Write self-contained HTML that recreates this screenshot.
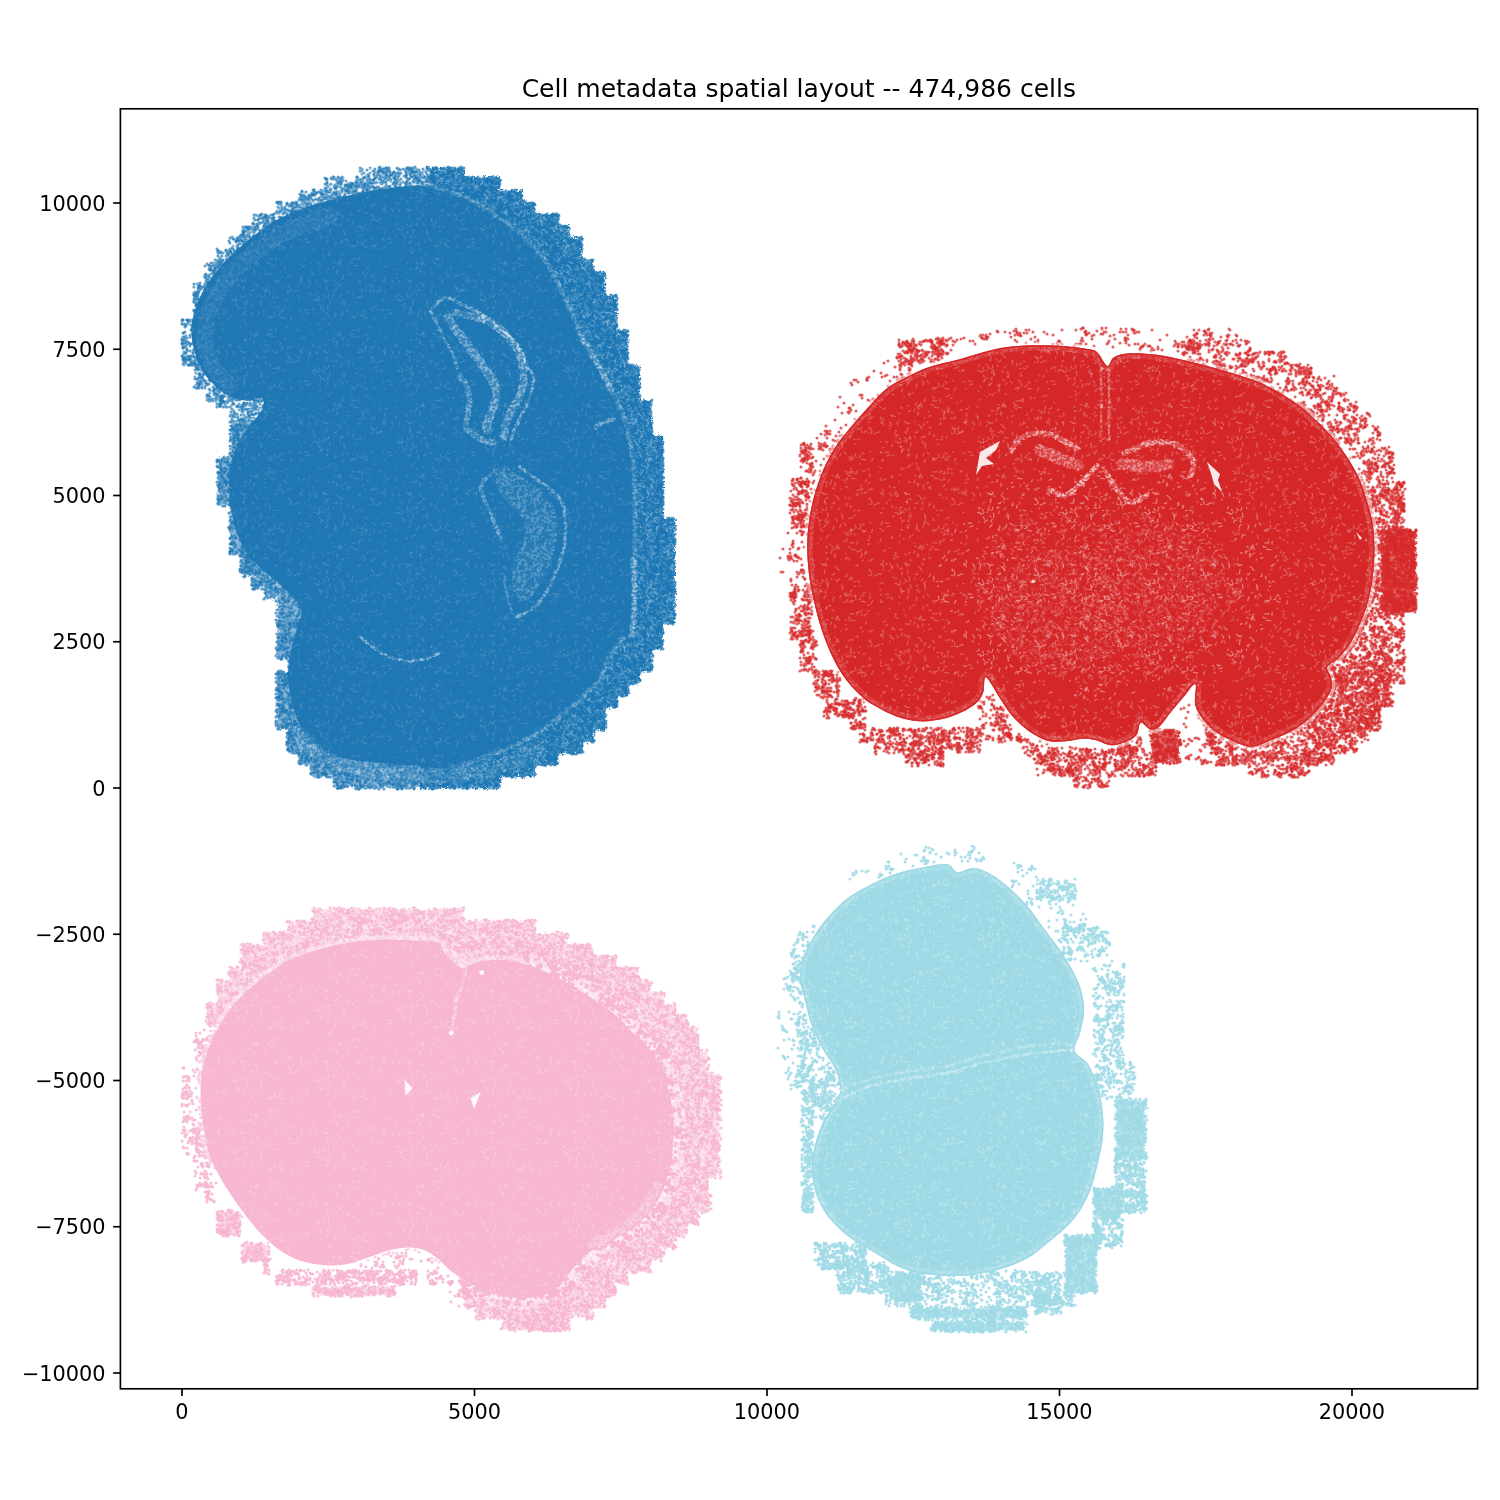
<!DOCTYPE html>
<html><head><meta charset="utf-8"><title>Cell metadata spatial layout</title>
<style>
html,body{margin:0;padding:0;background:#fff}
svg{display:block}
.t{font-family:"DejaVu Sans","Liberation Sans",sans-serif;font-size:20.83px;fill:#000}
.ti{font-family:"DejaVu Sans","Liberation Sans",sans-serif;font-size:25px;fill:#000}
</style></head><body>
<svg width="1500" height="1500" viewBox="0 0 1500 1500">
<defs>
<g id="Dm" stroke-linecap="round" stroke-width="3.1" fill="none"><path opacity=".72" d="M61.9 62.1h0M84.9 2.4h0M84.9 81.4h0M41.5 5.3h0M52.9 20.9h0M54.8 23.6h0M74.7 34.6h0M4.8 20h0M39.4 27.1h0M38.9 49.2h0M6 40.7h0M83.3 3.7h0M37.7 18.3h0M27.1 16.3h0M42.7 51.5h0M20.1 21.7h0M36.8 44.3h0M47.6 48.6h0M19.5 51.2h0M24.1 27.4h0M72.2 14.1h0M22.1 9h0M44 -.2h0M44 78.8h0M3.6 49.1h0M25.2 68.5h0M-.2 68.8h0M88.8 68.8h0M27.8 2.1h0M27.8 81.1h0M42.9 30.3h0M66.3 64h0M18.3 56.7h0M17 5.7h0M28.6 37.4h0M73.3 69.8h0M41.5 40.4h0M66.7 25.4h0M30 73.7h0M19.7 25.4h0M36.4 57h0M40.7 47h0M76.1 4.7h0M74.8 26.8h0M38.6 18.2h0M40.1 44.5h0M41.9 -1.5h0M41.9 77.5h0M24.6 2.2h0M24.6 81.2h0M71.3 75.2h0M78.4 34.2h0M71.8 56h0M78.5 8.6h0M22.9 54h0M55.4 24.3h0M33.7 63.1h0M36.9 64.3h0M38 35.9h0M46.3 73.2h0M39.1 30.2h0M77.7 52.8h0M12.6 45.5h0M42 54.8h0M44.8 -2.1h0M44.8 76.9h0M49.6 17h0M72.7 55.3h0M72.3 3.6h0M18.3 -.9h0M18.3 78.1h0M25.7 7.7h0M14.7 9.9h0M64.2 32.2h0M50.2 5.4h0M80.5 20.1h0M46.6 56.5h0M68.4 8.2h0M11.9 9.8h0M5.8 32.4h0M38.5 18.6h0M3.8 72.7h0M79.6 58h0M32.6 52.8h0M28.6 24.1h0M28.2 75.6h0M55 25.3h0M40.1 60.2h0M66.2 31h0M59.7 .3h0M59.7 79.3h0M35.1 22.6h0M33.8 72.5h0M62.3 24.3h0M61.5 62.9h0M33.2 23.4h0M16.3 19.7h0M74.4 50h0M38.4 51.1h0M71.6 7.2h0M74.9 53.8h0M29.2 51.9h0M13.8 50.9h0M48 53.3h0M18.1 27.6h0M16.3 67.6h0M17.5 55.5h0M72.4 17h0M15.3 45.9h0M20.8 27.8h0M36.4 2.5h0M32.7 53.9h0M13.9 29.3h0M41.3 66.5h0M74.1 67.6h0M68.1 7.9h0M48.7 67.1h0M39.9 67.9h0M74.7 51h0M61.3 29.4h0M82.5 11.5h0M80.2 9.4h0M6.6 18.3h0M23.4 37.3h0M77.8 34.9h0M71.3 19.9h0M75 28.3h0M22.4 52.6h0M65.8 54.8h0M77.3 0h0M77.3 79h0M56.7 24.6h0M44.2 26.5h0M74.4 50h0M14.3 26.3h0M10.2 8.2h0M78.3 54.7h0M21.5 6.2h0M39.8 26.7h0M67.2 50.9h0M5.7 28.8h0M26.1 32.8h0M30.5 74.3h0M32.6 69.4h0M63.6 69.8h0M76.7 18.1h0M46.7 .8h0M46.7 79.8h0M55.3 23.1h0M72 27.4h0M82.7 59h0M22.1 58.8h0M36.6 46.2h0M23.5 8.2h0M33 26.7h0M58.6 16.5h0M50.3 55h0M39.7 66.3h0M39.9 46.4h0M28.8 39.5h0M18.9 27.2h0M17.8 -2h0M17.8 77h0M68.3 47.9h0M27.5 70.6h0M44.2 4.4h0M8.2 68.3h0M52.5 55.1h0M23.7 7.5h0M83.3 38.1h0M74.5 39.6h0M24.6 9.2h0M81.1 4.4h0M41.2 58.9h0M70.9 10.7h0M-1.2 59.7h0M87.8 59.7h0M1.8 51.8h0M90.8 51.8h0M45.3 54.9h0M48.1 48.8h0M39.4 52.6h0M81.6 8.3h0M41.5 51.8h0M71.8 57.9h0M22.5 50.1h0M58.7 32.1h0M78 5.7h0M10.9 7.8h0M45.5 27.7h0M67.6 60.8h0M.6 60.1h0M89.6 60.1h0M79.4 52.9h0M37.6 21.3h0M80.1 .1h0M80.1 79.1h0M24 36.8h0M22 69.2h0M-2 1.6h0M-2 80.6h0M87 1.6h0M87 80.6h0M11.5 -1.3h0M11.5 77.7h0M73.9 57.5h0M53.6 28.6h0M17.9 43.6h0M75.7 56.6h0M53.8 25.9h0M17.4 24.7h0M72.6 .3h0M72.6 79.3h0M39.5 48.9h0M31.7 37.7h0M50.6 28.2h0M76.5 1.1h0M76.5 80.1h0M26 1.9h0M26 80.9h0M43 53.1h0M6.8 31.4h0M82.6 5h0M32.7 26.3h0M25.4 26.1h0M55.9 6.8h0M21.9 28.4h0M84.6 66.3h0M85 17.3h0M.3 58.4h0M89.3 58.4h0M30.6 27.1h0M83 40.9h0M60.9 38.8h0M62.2 38h0M-2.3 61.3h0M86.7 61.3h0M35.7 43.8h0M79.9 8.8h0M35.6 74.4h0M71 16.1h0M74.4 13.7h0M13.3 49.5h0M39.8 19.3h0M65.1 32.6h0M1.6 30.7h0M90.6 30.7h0M45.5 -.9h0M45.5 78.1h0M44.1 24.3h0M85.1 62.3h0M37.7 -2.4h0M37.7 76.6h0M13.5 9.6h0M31.5 72h0M45.5 67.8h0M52.4 45.7h0M7 51.2h0M21.2 52.4h0M66.9 31.3h0M70.4 73.3h0M8.3 44.1h0M42.3 24.9h0M19 14.2h0M71.7 37h0M32.6 65.8h0M57.8 42h0M15.2 5.3h0M71.6 31h0M20.1 37.7h0M45.2 68.4h0M70.4 2.7h0M69.5 70.1h0M37.5 31.7h0M75.2 22.4h0M36.7 38.1h0M52 39.3h0M79.6 13.2h0M71.3 16.5h0M45.5 25.9h0M67 62.7h0M43.3 28.7h0M29.4 48.6h0M82.9 10.1h0M22.9 51.9h0"/><path opacity=".72" d="M40.8 58.1h0M23 27.2h0M17.6 56.4h0M75.2 74.7h0M30.3 -.5h0M30.3 78.5h0M40.7 21.4h0M11 40.8h0M29.2 76.3h0M15.1 8.3h0M48.3 28.8h0M66.6 71h0M68.1 47h0M49.3 67.8h0M86.2 59.5h0M78 75.2h0M82.2 5.7h0M49.6 26.3h0M5.8 54.9h0M19.4 31.8h0M25.7 32.9h0M81.2 58.7h0M70.6 57.2h0M28.8 57.2h0M16.9 26.1h0M70.6 18h0M73.2 31.2h0M27 70.8h0M55.3 25.7h0M5.1 0h0M5.1 79h0M58.4 62.4h0M49.5 70.8h0M12.3 50.2h0M80 1.8h0M80 80.8h0M20.8 10.2h0M20.9 26.9h0M12.3 71h0M67.8 1.6h0M67.8 80.6h0M45.1 64.7h0M6 28.7h0M19.3 50.5h0M46 4.1h0M35 34.5h0M74.8 56.5h0M47.3 52.6h0M74.8 32.3h0M35.4 73.7h0M30.5 40.9h0M18.2 44.5h0M23.9 21.4h0M32.5 69.2h0M29.6 41.3h0M1.7 69.5h0M90.7 69.5h0M37.7 20.9h0M71.8 74.6h0M17.5 56.6h0M72.2 73.3h0M86.3 21.3h0M16.2 4.5h0M80.2 2.4h0M80.2 81.4h0M40.3 49.4h0M16.5 30.2h0M26.1 47.3h0M-.5 29.9h0M88.5 29.9h0M41.5 50.5h0M57.8 17.7h0M20.1 50.7h0M26.9 1.6h0M26.9 80.6h0M16.5 19.6h0M52.3 27h0M31 16.4h0M82.5 .1h0M82.5 79.1h0M12.8 44.6h0M56.6 3.5h0M79.9 4.3h0M19.3 27.9h0M58.5 35.8h0M26.7 74h0M-2.2 2.7h0M86.8 2.7h0M23.5 48.3h0M65 52.3h0M77.4 -2.2h0M77.4 76.8h0M39.9 40.2h0M51.6 27.2h0M45.8 53.3h0M46.9 68.1h0M69.7 40.1h0M38.8 36.9h0M-.9 64.4h0M88.1 64.4h0M5.7 29.3h0M40.9 48.9h0M47.1 4.6h0M24.4 31.6h0M4.6 7.5h0M22.8 49.2h0M5.1 19.1h0M2.9 50.8h0M5.4 17.6h0M38.4 68.4h0M71.9 37h0M10.5 9.7h0M27.6 7.4h0M47 56.4h0M58.6 63h0M-.3 58.9h0M88.7 58.9h0M13.5 69.9h0M21.4 60.2h0M69.7 28.5h0M36 71.5h0M35.9 73h0M46.9 67.3h0M64.4 37.3h0M21.8 64.7h0M79.1 10h0M80 49.3h0M42.2 21.5h0M8.5 62.8h0M67.2 49.3h0M78.4 51.7h0M4.3 53.6h0M79.1 56.6h0M43.6 52.7h0M8.5 40.6h0M44 29.6h0M41.7 53.4h0M13.9 15.2h0M37.2 41.9h0M53.3 31.2h0M56.2 25.7h0M36.3 20.4h0M81.1 59h0M28.3 53h0M19.5 47.4h0M37.8 27.2h0M43.5 7h0M72 29.4h0M1.7 57.9h0M90.7 57.9h0M21.2 8.5h0M35.4 24.1h0M41.5 70h0M58 37.5h0M53.5 27.3h0M16.4 3.5h0M63.5 31.1h0M6.5 29.8h0M52.2 27.9h0M76.7 15.1h0M39.3 67.9h0M20.2 74.3h0M18.6 -1.2h0M18.6 77.8h0M70.3 11.2h0M33.2 14.4h0M39.8 47.6h0M58 -2.1h0M58 76.9h0M72.5 30.4h0M49.8 3.3h0M41 67.8h0M40 24.7h0M12.3 33.3h0M24.4 31.9h0M14.8 34.4h0M39.4 65.9h0M4.9 25.7h0M28.7 6.4h0M41.2 26.5h0M54.9 27.2h0M6.6 16.1h0M39 45.8h0M19.7 18.6h0M50.1 1.7h0M50.1 80.7h0M60.7 36.8h0M15.5 5.3h0M42.5 58.4h0M18.6 62.4h0M42.6 28.9h0M19.5 24.2h0M54.9 65.3h0M21 25.3h0M4.2 10.3h0M52 52h0M38.7 63.8h0M82.3 9.6h0M25.9 19.7h0M39.1 70.9h0M77.4 11.7h0M68.3 20.9h0M45.8 75.4h0M19.3 4.1h0M38.9 52.2h0M30.3 40h0M.7 5.5h0M89.7 5.5h0M71.5 4.1h0M25.3 3.6h0M38.1 67.4h0M44.7 -2h0M44.7 77h0M48.2 8.7h0M18.5 31.3h0M25.1 1h0M25.1 80h0M19.3 19.3h0M79.2 47.7h0M82.3 9.6h0M68.1 6.2h0M78.7 34.2h0M81.7 58.3h0M39.1 66.9h0M56.2 24.5h0M19.6 50.5h0M60.5 38.4h0M81.2 11.6h0M86.3 44.2h0M42.4 53.2h0M59.1 30.3h0M74.6 53.6h0M36.1 18.1h0M70.8 6.2h0M73.3 5.4h0M17.8 5.6h0M32.2 55.8h0M61.2 42.4h0M-2 3.2h0M87 3.2h0M34.7 72.8h0M65 33.6h0M61.3 63.6h0M41.6 63.8h0M29.9 11h0M7.7 33.5h0M8.3 52.8h0M40.5 64h0M54.9 31h0M74.2 28.7h0M80.7 46.9h0M80.8 58.4h0M35.3 30.4h0M12.3 12.4h0M8.6 31.4h0M28.9 28.5h0M39.8 26.1h0M73 55.9h0M17.7 32.7h0M71 5.2h0M78.1 20h0M45.4 24.4h0M18.2 32.5h0M75 50.9h0M41.2 25.2h0M78 48.1h0M1.9 53.5h0M90.9 53.5h0M29.7 -1.5h0M29.7 77.5h0M37.2 38.9h0M5.4 67.9h0M30.1 30.6h0M71.5 31h0M54.5 22.1h0M23.8 52.3h0M35.7 20h0M31.8 67.3h0M79.8 15h0M82.3 7.4h0"/><path opacity=".72" d="M16.6 73h0M65.9 47.6h0M81.9 4.7h0M14.3 15.9h0M73.9 34.2h0M23.7 29.6h0M84 1.5h0M84 80.5h0M71.7 23.1h0M2 31.6h0M91 31.6h0M22.4 20.7h0M52.8 23.6h0M12.6 68.7h0M16.5 3h0M36.9 19.2h0M21.8 17.6h0M44.7 23.9h0M77.5 60.8h0M31.3 44.2h0M22.8 8.3h0M20.7 25.2h0M52.1 4.2h0M29.9 30.5h0M1.3 29.6h0M90.3 29.6h0M66.3 55.8h0M71.2 -1h0M71.2 78h0M43.7 -1.4h0M43.7 77.6h0M74.1 21.9h0M83.7 3.7h0M39.4 -2.4h0M39.4 76.6h0M36.5 44.6h0M44.9 50.7h0M3.7 22h0M31.4 19.4h0M19.9 26.2h0M84.4 61.4h0M86.1 70.2h0M65.7 58.8h0M73 31.4h0M57.1 9.9h0M30.6 74.2h0M82.5 60.1h0M35.8 65.3h0M58.9 29.7h0M84 56.4h0M19.1 29h0M15.2 40h0M73.8 23.3h0M38.3 74h0M56.2 25.1h0M36.4 72.5h0M.3 58.8h0M89.3 58.8h0M37 19.3h0M30.5 24.3h0M48.1 55.5h0M78.8 15.6h0M37.3 19.3h0M17.2 28.2h0M5.8 74.4h0M39.1 68.7h0M19.6 26h0M18.7 60.5h0M30.7 25h0M7.2 50.7h0M39.9 51.1h0M24 44.9h0M67.3 49h0M45.6 53.7h0M1.3 33.7h0M90.3 33.7h0M36.2 20.3h0M7.4 28.3h0M36.8 42.7h0M76.3 74.6h0M73.9 40.7h0M26.3 50.1h0M-.9 1.6h0M-.9 80.6h0M88.1 1.6h0M88.1 80.6h0M24.1 1.9h0M24.1 80.9h0M86.2 67.7h0M14.4 33.2h0M72.2 32.9h0M21.9 25.3h0M73.4 6.6h0M14.4 17.5h0M77.2 53.1h0M49.5 5h0M13.9 5.7h0M83.1 4.6h0M23.1 47.8h0M72.3 5.5h0M.8 11.1h0M89.8 11.1h0M74.6 52.1h0M9.1 69.5h0M72.6 56h0M83.5 39.4h0M52.6 36.8h0M72.5 51.9h0M27.6 67.1h0M49 57.8h0M71.7 52.5h0M20.2 28.2h0M80.1 4.2h0M18.7 73.6h0M47 35.7h0M42.5 66h0M38.8 18.9h0M57 21.8h0M38.9 63.8h0M50.7 67.2h0M5.9 51.6h0M67.1 46h0M22 30.9h0M16.9 57.2h0M28 76.3h0M37 18.6h0M40.6 43.9h0M78.1 -.9h0M78.1 78.1h0M60.1 17.1h0M28.9 49.9h0M76.9 .8h0M76.9 79.8h0M17.2 1.9h0M17.2 80.9h0M34.5 22h0M30.7 31.4h0M71.9 58.8h0M-.2 60.1h0M88.8 60.1h0M6.8 17.4h0M29.1 49.7h0M38.7 30h0M42.4 29.8h0M78.5 61.4h0M19.4 18.4h0M29.7 25.3h0M81.8 10.2h0M54.7 2.5h0M54.7 81.5h0M1.4 2.4h0M1.4 81.4h0M90.4 2.4h0M90.4 81.4h0M25.6 73.4h0M39.8 53.6h0M1.4 58.5h0M90.4 58.5h0M69.6 62.2h0M1.1 48.2h0M90.1 48.2h0M47.9 63.3h0M34.8 32h0M84.3 19.2h0M-.6 56.5h0M88.4 56.5h0M39.2 59.8h0M57.2 11h0M71.2 5h0M16.8 37h0M29.1 73.3h0M28.3 50.1h0M57.2 25.6h0M10.4 11.3h0M36.2 26.3h0M73.9 34.5h0M75.2 52h0M17.6 21.4h0M45.2 75.4h0M15 10.8h0M39.7 26.6h0M49.7 12h0M21.8 73h0M20.4 52.5h0M5.9 67.7h0M82.6 13.4h0M22.5 14.9h0M82.9 10.6h0M72.8 27.1h0M43.5 55.9h0M43.5 76h0M41.5 41.7h0M73.2 .3h0M73.2 79.3h0M70.2 -.7h0M70.2 78.3h0M72.1 39.8h0M56.6 24.1h0M51.4 4.4h0M30.1 70h0M81.3 2.5h0M81.3 81.5h0M40.2 24.3h0M78.5 19.8h0M35.8 70.8h0M46 53.8h0M16.2 12.7h0M49.8 4.9h0M56 26.8h0M73.2 75.6h0M29.7 73.4h0M41.8 50.5h0M4.1 51.9h0M80.7 10.2h0M72.8 70h0M64.4 63.7h0M82.5 1.8h0M82.5 80.8h0M28.3 2.7h0M43.2 22.6h0M86.3 37.4h0M68.1 54.5h0M2.9 18.1h0M76.1 52.2h0M39.2 18.5h0M16.3 58.2h0M68.2 8.1h0M33.4 42.8h0M40.6 56.1h0M62.5 63.5h0M36.6 24h0M71.1 7.6h0M76.8 57.5h0M80.5 14.1h0M71.8 15.3h0M40.5 62.8h0M71.7 45.1h0M65.6 33.4h0M1.9 62.4h0M90.9 62.4h0M30.9 12.3h0M23 74.6h0M53.5 24.1h0M19.7 21.8h0M34.4 53.7h0M33.1 62.3h0M65.9 21.2h0M47.8 25.9h0M40 49.2h0M33.2 72.4h0M37.6 68h0M31.1 76.1h0M49.1 4.1h0M37 72.9h0M1.7 63.6h0M90.7 63.6h0M39.5 58.7h0M26.1 52.8h0M63.2 39.9h0M13.4 68.2h0M27.6 74.3h0M42.5 47.7h0M62.4 28.9h0M39.1 56.4h0M44.4 51.1h0M5.3 68.8h0M29.8 49.9h0M8.4 -.1h0M8.4 78.9h0M73.7 29.1h0M15.7 30.6h0M-.7 49.5h0M88.3 49.5h0M-1.8 .3h0M-1.8 79.3h0M87.2 .3h0M87.2 79.3h0M21.5 60.6h0M17.4 16.7h0M59.1 23.4h0M-.9 46.5h0M88.1 46.5h0M80.6 52.4h0M.3 75.7h0M89.3 75.7h0M39.6 68.6h0M17.8 13.6h0M77.9 19h0M48.2 2.6h0M15.7 50.6h0M70.7 50.3h0M52.8 68.4h0M71.4 60.7h0M45 21.9h0M73.9 33.4h0M18.6 30.7h0"/></g>
<pattern id="pm" width="89" height="79" patternUnits="userSpaceOnUse"><use href="#Dm" stroke="#f7b6d2"/><use href="#Dm" stroke="#f7b6d2" transform="translate(.6,.4)"/></pattern>
<pattern id="sp1" width="83" height="71" patternUnits="userSpaceOnUse"><path d="M65.2 62l-.9 -.8l-.9 -.5M1.9 11.4l-.4 -1.3M84.9 11.4l-.4 -1.3M9.8 10.9l-.5 .7l-1.2 .8M-4.8 23.5l1.1 -1.4M78.2 23.5l1.1 -1.4M51.4 -2.7l-.6 -.7l.2 -.6M51.4 68.3l-.6 -.7l.2 -.6M8 50.1l.9 .3l.3 1l.4 1M28.2 -2.9l-.3 .8l-1.5 .4l-.6 -.4M28.2 68.1l-.3 .8l-1.5 .4l-.6 -.4M35.6 33.8l-1.3 .5l-1.4 -.9l-1.2 0M-.2 37.5l.1 .8M82.8 37.5l.1 .8M-2.6 55.9l-1.6 0l-.4 .6M80.4 55.9l-1.6 0l-.4 .6M5 -1.7l1.3 1.1M5 69.3l1.3 1.1M88 -1.7l1.3 1.1M88 69.3l1.3 1.1M4.7 5l-.6 1.5l-1.2 .1l-.8 -.4M4.7 76l-.6 1.5l-1.2 .1l-.8 -.4M87.7 5l-.6 1.5l-1.2 .1l-.8 -.4M87.7 76l-.6 1.5l-1.2 .1l-.8 -.4M67.6 17l-.4 -1.4l-.6 -.3M39.3 1.2l.8 1.1l.8 .3M39.3 72.2l.8 1.1l.8 .3M61.5 -.9l-.1 -1l-1 -1.3l-.7 -.9M61.5 70.1l-.1 -1l-1 -1.3l-.7 -.9M33.1 63l-.6 1M30.4 31l-.4 .5l-1.3 .1M7.4 52.2l-.8 -.7l0 -1.8l.6 -.9M90.4 52.2l-.8 -.7l0 -1.8l.6 -.9M55.7 52.6l-.7 1.1l-1.1 0l-.8 .5M49.9 6l-1.4 -.3l-.7 .8l-.9 .3M49.9 77l-1.4 -.3l-.7 .8l-.9 .3M50.9 15.7l-1.1 .1M41.3 3.7l.6 1.2l0 1.5l-.7 1.1M41.3 74.7l.6 1.2l0 1.5l-.7 1.1M20.9 50.1l-.6 .2l-1.3 -.2l-.8 -.9M1.8 53.7l-.3 1.7l-.9 .8M84.8 53.7l-.3 1.7l-.9 .8M40.4 -6.7l.7 -1.1l.6 -1.1l1.3 0M40.4 64.3l.7 -1.1l.6 -1.1l1.3 0M-3.9 25l-1.1 -.7M79.1 25l-1.1 -.7M14 25.8l.7 .8l.4 .5l1.1 .9M12.3 22.1l.2 -.8l-.4 -.6l0 -1.5M21.9 34.7l0 -.9M27.4 44.4l-.6 1.6l.3 1.1M26 31.4l-.1 -1.2l-.5 -1.2l-.2 -1M53.7 -5.6l-.4 -.7l-.4 -1.5M53.7 65.4l-.4 -.7l-.4 -1.5M39.3 42.9l-.9 .1l-.8 .4M59.6 3.3l.3 -1.4M59.6 74.3l.3 -1.4M-4.9 1.7l-.3 1.8l-.6 1.5l.4 .6M-4.9 72.7l-.3 1.8l-.6 1.5l.4 .6M78.1 1.7l-.3 1.8l-.6 1.5l.4 .6M78.1 72.7l-.3 1.8l-.6 1.5l.4 .6M1.7 49.5l.8 .1l.6 .3M84.7 49.5l.8 .1l.6 .3M64.7 15.7l.9 -.2M24.2 18.5l.8 -.1l.6 -.6M8 48.1l-.7 1.3l-.9 1l-1.1 .5M91 48.1l-.7 1.3l-.9 1l-1.1 .5M34.3 27.7l-1.3 .1l-.8 -1.3M70.1 20.2l1 1.1l.4 .8M15.9 61.7l.5 -.9l.7 -.1l.9 -.1M48.2 46.5l-.1 -.9M-2.4 38.6l-.6 .8l-.6 1.6M80.6 38.6l-.6 .8l-.6 1.6M44.1 8l1.4 -.5l1.6 -.8M44.1 79l1.4 -.5l1.6 -.8M74.4 42l-.7 -.4M38.5 -7.1l.6 -1.2M38.5 63.9l.6 -1.2M67.4 -.7l0 -.9l.3 -.8l-.8 -1.3M67.4 70.3l0 -.9l.3 -.8l-.8 -1.3M27.7 -3l-.1 -.8M27.7 68l-.1 -.8M15.6 56.6l.6 .3M66.2 10l-.4 1.6M53.5 -1.1l-.5 -1.3l-.2 -1.7l-1.1 -.6M53.5 69.9l-.5 -1.3l-.2 -1.7l-1.1 -.6M31.8 58.5l-.4 1l-.4 .5l-.7 .6M16.6 5.9l.5 .8l-.3 1.4l-1.3 .4M16.6 76.9l.5 .8l-.3 1.4l-1.3 .4M52.1 27.2l-1 -.3l-.7 -.3M21 8.3l-.4 .9l.5 1.2l-.4 .7M41.5 35.5l.4 -1.1l.2 -.6l.7 -1.6M10.8 27.2l-.2 1.5l-.9 1.1M4.3 58.6l.6 1.6M87.3 58.6l.6 1.6M20 45.9l1.6 -.1l1.7 .2l.5 -.6M23.8 13.6l1.2 -.3M5.9 58.7l-.6 -1.1l-.5 -.9M88.9 58.7l-.6 -1.1l-.5 -.9M39.4 2.8l-.3 -1.7M39.4 73.8l-.3 -1.7M35.1 56l1.2 -1.3l-.1 -1.1M58.8 26.4l-.9 -.3l-1.5 .2l-1.3 -.6M-6.2 13.2l-.7 .1l-.8 -1.2M76.8 13.2l-.7 .1l-.8 -1.2M71.9 25.7l0 -1.3l1.3 -1.2l1.4 0M-3.3 10.2l-.1 1.5l-.4 1l-.5 .7M79.7 10.2l-.1 1.5l-.4 1l-.5 .7M-3.7 27.6l-1.4 1.1l-.4 1l-.6 .6M79.3 27.6l-1.4 1.1l-.4 1l-.6 .6M70.5 14.1l-.5 -.6l-.4 -1.3M53.2 33.3l-.9 1.2M19.3 34.2l.8 -.8l.4 -1M26 52.7l-1.7 0l-1.6 -.6l-1.2 .6M56.9 29.9l1.1 -.6l1.8 -.1l.4 -.6M3 32.6l-.1 -1.1l1.1 -1.4l-.4 -1.3M86 32.6l-.1 -1.1l1.1 -1.4l-.4 -1.3M39.5 7.2l-1 .2M39.5 78.2l-1 .2M7.7 49.7l.6 -1.3M90.7 49.7l.6 -1.3M30.8 30.3l.1 -1.4M-2.1 20.4l0 -.9l-.2 -1.6l-.3 -1.7M80.9 20.4l0 -.9l-.2 -1.6l-.3 -1.7M13 18.9l-1.3 -.7l0 -1.6M24.1 32.4l-1.7 .3l-1 .2M39.8 25.4l1.1 .5M-3.1 -3.3l-1.1 .7l-1.1 -.1l-1 .4M-3.1 67.7l-1.1 .7l-1.1 -.1l-1 .4M79.9 -3.3l-1.1 .7l-1.1 -.1l-1 .4M79.9 67.7l-1.1 .7l-1.1 -.1l-1 .4M73.7 15.1l.8 0M11.3 -7.8l.1 -.8M11.3 63.2l.1 -.8M27.6 13l.7 .7l1.5 .1M9.1 2.6l-1.3 -1.1l-.4 -1.5M9.1 73.6l-1.3 -1.1l-.4 -1.5M-7.4 12.7l-.5 -.7l-.2 -.6M75.6 12.7l-.5 -.7l-.2 -.6M-6.3 -3.6l-1.1 .2l-1.3 -1.2M-6.3 67.4l-1.1 .2l-1.3 -1.2M76.7 -3.6l-1.1 .2l-1.3 -1.2M76.7 67.4l-1.1 .2l-1.3 -1.2M67.8 16.9l1.6 0l1.1 -.7l.5 -.6" stroke="#fff" stroke-width="1.1" stroke-linecap="round" stroke-linejoin="round" fill="none" opacity="0.26"/></pattern>
<pattern id="sp1b" width="97" height="61" patternUnits="userSpaceOnUse"><path d="M72.1 46.3l-1.4 .3l-.3 .3M49.4 14.1l.1 1.1l.3 .7M17.1 -1.5l-.9 .2M17.1 59.5l-.9 .2M50.3 -1.3l.3 -1l0 -.8M50.3 59.7l.3 -1l0 -.8M35.5 39.5l-.4 .4l-.5 .2M27.9 41.6l.4 -.1l1.2 .7M29.4 23.1l-.2 .9M61.1 32.6l-.6 -1.2l-.6 -.6M19.6 17.7l-.5 .7l0 1M75.5 30.3l.8 -.9l.3 -.2M44 36.5l-.4 .7M25 8.1l-1.3 .1M8.7 34l1 -.1M29 19.3l-1.2 .3l-.9 0M75.4 40.8l-.1 1.2l-.8 .6M79.7 46.7l-1.3 -.3M-3.7 47.5l.8 .6M93.3 47.5l.8 .6M27.1 47.5l-.3 .1l-.4 .1M85.7 4.2l.1 .9M85.7 65.2l.1 .9M19.7 28.2l.3 .3l.9 .1M56.4 .2l.9 .2l.7 .4M56.4 61.2l.9 .2l.7 .4M68.2 -7.8l-.7 -.2M68.2 53.2l-.7 -.2M41.5 -5.4l.4 .2M41.5 55.6l.4 .2M34.2 14.7l-.6 -.6l-.6 -.5M44.1 41.8l.8 -.8l0 -.9M54.6 -4.4l-.4 -.4l-.4 -.1M54.6 56.6l-.4 -.4l-.4 -.1M21.7 7l.5 -1.2M21.7 68l.5 -1.2M37 10.8l1 .6M18.1 49.9l.3 -.6M74.6 44.9l-.1 .4l.8 1.2M-6.4 3.9l-1.4 .4l-.8 1.2M-6.4 64.9l-1.4 .4l-.8 1.2M90.6 3.9l-1.4 .4l-.8 1.2M90.6 64.9l-1.4 .4l-.8 1.2M19.5 49.1l0 .4l-.2 .7M8.5 25.3l-.4 -.5M28.4 25.5l.2 -.6l.5 -.5M22.1 3.8l.6 -.1l.7 .6M22.1 64.8l.6 -.1l.7 .6M35.8 27.8l.2 .3l.1 .3M73.6 9.6l-.2 1.2l.2 .2M52 9.9l-1 -.1l-.7 -.1M72.9 30.7l.5 -.7M51.7 35.3l-.8 -1M52.1 34.1l0 -.3l.3 -1.3M26.2 -6.3l.4 -.6M26.2 54.7l.4 -.6M85.7 .4l-.8 1l-.1 .4M85.7 61.4l-.8 1l-.1 .4M68.8 44.6l.7 -.5M32.8 6.4l0 -.8l-.5 -1M32.8 67.4l0 -.8l-.5 -1M10.7 20.3l-.4 .2l-.2 .3M71.4 52.3l-1.2 .6M46.8 42.9l-.3 -.2l-.5 .2M70.9 51.3l.4 -.3M7.9 -7.7l-.4 -1.4l.2 -.8M7.9 53.3l-.4 -1.4l.2 -.8M104.9 -7.7l-.4 -1.4l.2 -.8M104.9 53.3l-.4 -1.4l.2 -.8M72.4 46.8l-.5 -.9l-.1 -1.2M13.2 15.7l.9 -1.1M-4.8 -4.6l.3 -.3l1.2 -.4M-4.8 56.4l.3 -.3l1.2 -.4M92.2 -4.6l.3 -.3l1.2 -.4M92.2 56.4l.3 -.3l1.2 -.4M81.3 2.7l.8 -.6l1.3 -.3M81.3 63.7l.8 -.6l1.3 -.3M19.3 19.3l-.4 0M87.3 44.1l.5 -.1l1.2 -.5M69.4 9.5l.4 .3M-3.1 50l-.2 -.3M93.9 50l-.2 -.3M84.2 37.1l-.3 -.6M6.9 40.5l.8 .7M103.9 40.5l.8 .7" stroke="#fff" stroke-width="1.6" stroke-linecap="round" stroke-linejoin="round" fill="none" opacity="0.2"/></pattern>
<pattern id="sp2" width="83" height="71" patternUnits="userSpaceOnUse"><path d="M67.1 -2.9l.2 -.6l.7 -1.2M67.1 68.1l.2 -.6l.7 -1.2M71.6 43.5l-.8 .5M40.8 34.4l-.5 1.7M38.4 -7.3l-1.5 .9M38.4 63.7l-1.5 .9M5 40.5l-.5 .5M88 40.5l-.5 .5M25.4 28l.7 .7l1.3 -.3l1.3 .3M25 23l-.5 -.8l-.7 -1M22.1 38l.5 1.7l-.5 1.5M-.4 9.5l.4 .6l.1 1.6M82.6 9.5l.4 .6l.1 1.6M-.9 55l1.1 .1l1.1 .1l1.6 -.6M82.1 55l1.1 .1l1.1 .1l1.6 -.6M4.9 31.3l.7 -.6l.2 -.9l.4 -.9M87.9 31.3l.7 -.6l.2 -.9l.4 -.9M55.2 -6.7l.6 .7l0 .7l-.1 .7M55.2 64.3l.6 .7l0 .7l-.1 .7M8.2 -3.6l.4 1.2l-.3 .7l-1.4 .6M8.2 67.4l.4 1.2l-.3 .7l-1.4 .6M60.9 60.9l-.6 -.3l-1.5 -.8M56.3 8.3l-.5 -1.4l.3 -.7l.6 -1.5M71.7 48.9l-.8 .7M15.8 .1l1.1 -.3l1.2 .9l1 .3M15.8 71.1l1.1 -.3l1.2 .9l1 .3M-.3 19.3l.6 -.2M82.7 19.3l.6 -.2M41 29.8l-.3 .8l-.2 1.1M29.5 44l-.8 -.4M57 59.1l-.7 -1M41.2 7.6l1 .4l.2 .7M41.2 78.6l1 .4l.2 .7M24.5 3l1.6 .1l1 -1.4M24.5 74l1.6 .1l1 -1.4M19.8 60.6l.1 .7l.3 1.5M21.8 58.4l-.6 .7l-.7 .8M20 31.9l.8 .2l.9 .2M45.9 6.4l.5 -1.1l-.7 -1.2M45.9 77.4l.5 -1.1l-.7 -1.2M38.4 51.1l1 -1.1M-4.8 14.8l1 0M78.2 14.8l1 0M70.3 59.1l0 .9l.8 .4l.3 1.8M49.6 41.6l-.6 .2l-1.3 -.7M67.1 34.7l1.5 .3l.9 -.4M4.7 54.3l-.9 .7M87.7 54.3l-.9 .7M71.9 -2.2l-.5 -1.2l1.1 -1.3M71.9 68.8l-.5 -1.2l1.1 -1.3M47.3 44l-.9 .7l0 1.1l-1 1.1M70.8 32.5l-.6 -.4M51.6 58.5l-.7 -.1l-.8 .8l0 1.6M50.6 61.6l-.9 -1.5M51 -3.9l-.7 .4l-1.2 1l-1.3 -.4M51 67.1l-.7 .4l-1.2 1l-1.3 -.4M21.5 3.3l-.5 -1.1l-.4 -.7M21.5 74.3l-.5 -1.1l-.4 -.7M34.2 6.6l-.2 -.6l-.1 -.9M34.2 77.6l-.2 -.6l-.1 -.9M51 -6.3l.6 -1.1l0 -.8M51 64.7l.6 -1.1l0 -.8M61.7 57.5l1 1.5l.4 .8l.1 1M9.4 2.8l-.8 .2M9.4 73.8l-.8 .2M55.8 -7.4l-1.5 .8M55.8 63.6l-1.5 .8M68.8 59.3l.9 0l1.2 -.7l.2 -1.3M23.6 -.7l-.9 .2M23.6 70.3l-.9 .2M2.3 26.1l-1.1 1.3l-.6 .1l-1 1.2M85.3 26.1l-1.1 1.3l-.6 .1l-1 1.2M49.5 20.8l-.4 -1.7l-.8 -1M43 32.2l.9 .2l.8 -.2l.4 -.6M43.5 12.2l0 -1.5l-.1 -.8l-.1 -1.2M43.7 19.6l.8 1l.1 .9M30.9 30.7l0 -1l-.8 -.9l-.7 -.8M13 31.1l.8 1.2l.5 1.4M36.2 52.7l-.5 -.9l.2 -.9l1.1 -.7M4.1 34.1l-.9 -.8l-.7 -.3l-.3 -.8M87.1 34.1l-.9 -.8l-.7 -.3l-.3 -.8M59.1 12.1l-1.1 1.2l.5 1.7M-7.6 31.8l.5 -1.5l0 -.9M75.4 31.8l.5 -1.5l0 -.9M65.2 43.5l.5 -1.2l.2 -.8l1.4 -.4M28.3 36.5l-1 0l-1.1 0l-.7 .5M29.1 -7.9l-1.5 .4l-.8 -.3l-.2 -1.2M29.1 63.1l-1.5 .4l-.8 -.3l-.2 -1.2M27.8 18.1l-.4 -1.7l0 -1.3M31.8 -.1l-1.1 .6l-1.2 .5M31.8 70.9l-1.1 .6l-1.2 .5M-4.2 52.7l.6 -.3M78.8 52.7l.6 -.3M67.9 19.6l.3 .7M38.3 -2.7l.5 .9l.9 1.5l.3 1.6M38.3 68.3l.5 .9l.9 1.5l.3 1.6M49 -6.4l-.5 -.9M49 64.6l-.5 -.9M59.8 29.4l-.5 1.1M66.8 19.4l-.5 -.5M27.5 28.2l.6 1.1M62.3 -.3l-.5 1.1l.2 .7M62.3 70.7l-.5 1.1l.2 .7M53.6 7.3l.4 -.4M53.6 78.3l.4 -.4M74.1 56.4l-1.4 .3l-.9 -1M36.9 38.2l.3 -.8l.6 -.4M10.6 36l.5 .4l1.6 .6l.9 1.1M21.5 .7l.8 -1.1l1.4 0M21.5 71.7l.8 -1.1l1.4 0M26.3 37.3l-.1 1l-.6 .7M68.8 32.5l-.8 .5l-1.3 .7M44.9 36.9l.1 1.2l.6 .8l-.4 1.1M61.3 11.1l-1.3 -.9M62.2 9.7l-.6 0l-1.2 -.8M3.8 54.4l1 -.7M86.8 54.4l1 -.7M67.2 33.1l1.2 .4l.6 -.2l.6 -1.1M49.5 32.7l-.6 -1l-.9 -1.3l-.7 -.5M6.9 61.3l1.1 -.7l0 -.9l.2 -.7M89.9 61.3l1.1 -.7l0 -.9l.2 -.7M36.2 25.1l.7 -1.3M73.5 22.6l.7 1.1l-.2 .6M45.9 -7.8l-1 -.5l-.7 -.7M45.9 63.2l-1 -.5l-.7 -.7M68.8 29.7l-.9 -.2l-.9 -1.1l-.9 -1.3M6.2 -.2l.6 0l.5 .5l1.6 .7M6.2 70.8l.6 0l.5 .5l1.6 .7M89.2 -.2l.6 0l.5 .5l1.6 .7M89.2 70.8l.6 0l.5 .5l1.6 .7M55.9 58.5l1.7 -.3M62.7 16l-.1 1.4l.6 .7l1.3 -.2M48.7 50.6l-1.3 0l-.6 -.6M24.3 39.2l-.3 -.6l.5 -1.1M17.1 54.1l-.6 -.7l-.8 -.9l-1.1 -.7M12.4 18l.6 1M58.3 58.3l.3 .9l-.5 .9M70.1 17.3l.6 -.3l.2 -.9l-.1 -.9M25.1 17.2l1.5 .1l1.4 -.3l1.6 -.7M73 50.1l1.1 -.1l.7 .1M30.2 23.3l.3 -1.2M66 .7l.1 -.8M66 71.7l.1 -.8M55.3 16.7l-.9 -1.2l-1.2 -.4M70.8 23.6l-.7 1.2M-4.9 5.7l-1.4 .7l-1.6 0l-1.3 -.4M-4.9 76.7l-1.4 .7l-1.6 0l-1.3 -.4M78.1 5.7l-1.4 .7l-1.6 0l-1.3 -.4M78.1 76.7l-1.4 .7l-1.6 0l-1.3 -.4M31.3 16.6l-.1 .6l-.4 1.5l.3 .6M60.4 5.6l1.1 .1l1.4 .2M60.4 76.6l1.1 .1l1.4 .2M25.6 20l-.9 -1.3M8.8 30.7l-.9 -.8M70.3 18.7l-1.3 -.1M39.6 12.2l.5 -1.1l-.8 -1M66.1 27.7l-1.1 .6M24.1 27.9l1 .5M64.9 21.5l1.4 .1M8.7 31l-1.7 .3l-1.3 .4M68.4 34.8l-.5 1.4M51.8 -1.8l1 -.7l1.3 -.8l1 -1.1M51.8 69.2l1 -.7l1.3 -.8l1 -1.1M37.4 49l.1 .8l1.1 .7l1.5 .8M3.8 57.5l.3 -1.1l-.4 -.7M86.8 57.5l.3 -1.1l-.4 -.7M66 36.6l.8 .7l-.1 1.2l1.1 1.2M14.3 15l-.5 .7l.5 1.3M55.3 17.9l.6 .5l1.2 -.2M-3 49.6l-.1 -.7M80 49.6l-.1 -.7M56.9 4l1.4 .7l1 .9M56.9 75l1.4 .7l1 .9M6.2 25.9l.2 -1M89.2 25.9l.2 -1M10.2 48.8l-1.5 -.5l-.7 -1.3M17.2 53.3l.9 1.5M69.8 52.5l-.9 .2M6.3 60.6l.7 0M89.3 60.6l.7 0M61.4 46.1l.9 -1.5l.5 -1M52.9 56l-1.7 -.1M72.9 24.6l1.7 .2l1.6 .8l.8 .4M-.8 50.4l1.2 1.2l.7 .2M82.2 50.4l1.2 1.2l.7 .2M-4.4 -5.2l.1 -.7M-4.4 65.8l.1 -.7M78.6 -5.2l.1 -.7M78.6 65.8l.1 -.7M23.3 32.8l-.6 .9M36.2 15.2l-.5 -1.1l-1.2 -.3l-.9 -.2M18.5 11.1l-1.8 .3l-.5 -.7M36.1 26.6l1 -.1l1.3 .2l.7 .7M26.5 .3l.1 .8M26.5 71.3l.1 .8M7.8 46.2l-1.2 0l-.9 .4l-.1 .7M90.8 46.2l-1.2 0l-.9 .4l-.1 .7M72.4 21.2l1.5 -.3l1.7 -.5M6.7 33.6l.6 -1.7M89.7 33.6l.6 -1.7M7.9 43.8l-1.5 .2l-1.1 -1.3l-.4 -.6M90.9 43.8l-1.5 .2l-1.1 -1.3l-.4 -.6M64.5 36l.2 -1.6l.5 -1.2l.1 -1.1M59.9 43.7l-.1 .7M-6.4 15.6l-.8 0l-1 -.7l0 -.6M76.6 15.6l-.8 0l-1 -.7l0 -.6M39.8 52.8l1.7 .4l.7 .4l.6 .2M42.7 5l.3 1.3l.4 1.5l.8 1.5M42.7 76l.3 1.3l.4 1.5l.8 1.5M40 42.3l1.2 .6l1.5 -.7M18.4 29.2l1.3 -.3l1.6 -.5M21.1 44.7l-.7 -.6M2.3 49.3l.9 0l1.2 -.6l1.3 -.3M85.3 49.3l.9 0l1.2 -.6l1.3 -.3M45.9 16.6l.5 .8M38.8 45.9l1.7 .2l.6 .2M31.8 25.6l-1.1 .5M.4 43.3l-1.6 .3l-1.5 .3l-1.3 .8M83.4 43.3l-1.6 .3l-1.5 .3l-1.3 .8M64.6 25l.9 -1.3l.4 -.9M2.6 33.9l.8 -1.5M85.6 33.9l.8 -1.5M60.2 49.2l-.2 -1.6l.9 -1.4l.5 -.9M43.8 16.8l1.5 0l.6 .2l1.3 -.5M32.9 48.3l-.8 -.7M27.3 38.4l-.6 1.2l.1 1.4l-.7 .6M70.6 33.5l.5 .4M31.3 42l.2 -1.7l.8 -1.1l1.7 -.1M7.6 -2.4l.8 .8l.7 .7l.8 0M7.6 68.6l.8 .8l.7 .7l.8 0M90.6 -2.4l.8 .8l.7 .7l.8 0M90.6 68.6l.8 .8l.7 .7l.8 0M43.3 59.8l-1.4 .3l-.6 .5M14.4 18.4l-.7 -.1l-1.1 .1M17.6 61.5l1.2 -.1l.5 .3M72.5 55l-1.3 -1.1l-.9 -.8M66.1 -4.4l0 -1.2l.7 -1l.5 -.4M66.1 66.6l0 -1.2l.7 -1l.5 -.4" stroke="#fff" stroke-width="1.1" stroke-linecap="round" stroke-linejoin="round" fill="none" opacity="0.3"/></pattern>
<pattern id="sp4" width="53" height="47" patternUnits="userSpaceOnUse"><path d="M10.6 27.5l.4 -.5M9.7 -3.5l-1.2 .6l-1.1 -.7l-.1 -.7M9.7 43.5l-1.2 .6l-1.1 -.7l-.1 -.7M32.6 17.1l1.6 -.3l.8 -1.1l0 -.8M-.4 -2l1 .4l.5 .4M-.4 45l1 .4l.5 .4M52.6 -2l1 .4l.5 .4M52.6 45l1 .4l.5 .4M12.1 22.2l.3 .6l.1 .7l0 .6M14.9 21.2l-.5 -.9l.1 -1.2l-.8 -1.3M2.2 1.4l-1 .2l-1 -.5M2.2 48.4l-1 .2l-1 -.5M55.2 1.4l-1 .2l-1 -.5M55.2 48.4l-1 .2l-1 -.5M30.8 12l-.6 1.3l.1 .6l.5 .2M18.2 18l-.3 1.5l.9 1.4M.6 1.7l1.6 .1l1.1 1.2l.5 -.1M.6 48.7l1.6 .1l1.1 1.2l.5 -.1M53.6 1.7l1.6 .1l1.1 1.2l.5 -.1M53.6 48.7l1.6 .1l1.1 1.2l.5 -.1M17.8 20.1l.5 .1l.9 .4M3.2 28.6l-.3 .7l.3 1.8M56.2 28.6l-.3 .7l.3 1.8M37.9 34.6l-.7 .5l0 1.2l.1 1.6M-.1 38.4l-.1 .5M52.9 38.4l-.1 .5M11 -1.9l-.2 -1.3l1.1 -.8l.7 -1.3M11 45.1l-.2 -1.3l1.1 -.8l.7 -1.3M26.4 4.2l1 .2l.4 .6l.8 .5M26.4 51.2l1 .2l.4 .6l.8 .5M2.5 18.8l.8 .7l.8 -.2M55.5 18.8l.8 .7l.8 -.2M40.9 13.8l0 1.3l-.1 1.6M17.9 37.6l-1.2 -.1l-.6 -.5M-.3 16.7l-1.6 .4M52.7 16.7l-1.6 .4M-2.2 16.7l1.2 -.4l1 .1l.8 -.2M50.8 16.7l1.2 -.4l1 .1l.8 -.2M43.9 -.6l.5 .1l.7 1.4M43.9 46.4l.5 .1l.7 1.4M37.8 15.6l-.4 1M20.1 35.5l-.7 .2M21.6 13.7l-.8 -1.5l.5 -1.7l1 -1M4.8 19.2l-.5 -.5M57.8 19.2l-.5 -.5M5 -5.2l1.7 -.1M5 41.8l1.7 -.1M58 -5.2l1.7 -.1M58 41.8l1.7 -.1M33.6 20.2l.9 .1M42.4 8.4l-.4 .4l-.4 1.5M16.7 15.6l-1.5 .7l-.4 .4M-4.7 31.8l-.2 .6l.2 1.2l-.1 1.1M48.3 31.8l-.2 .6l.2 1.2l-.1 1.1M2 25.3l1.2 -.1l1 1.4M55 25.3l1.2 -.1l1 1.4M5.3 -4.3l.3 -1.2l1.4 -.8M5.3 42.7l.3 -1.2l1.4 -.8M58.3 -4.3l.3 -1.2l1.4 -.8M58.3 42.7l.3 -1.2l1.4 -.8M14.2 17.9l1.3 .2l.6 -.1l.7 -.4M33.5 30.8l-.7 .2l-.4 .9l-1.1 .3M42.4 8.6l-.1 1l-.5 .2M37.1 1.6l-1.4 -.4l-.4 -.5M37.1 48.6l-1.4 -.4l-.4 -.5M28.5 17.6l-1.3 1l-.6 1M-6 23.4l1.4 .4l1.1 -.4l.2 -1.2M47 23.4l1.4 .4l1.1 -.4l.2 -1.2M1.7 5.4l.2 .6l.1 .5M1.7 52.4l.2 .6l.1 .5M54.7 5.4l.2 .6l.1 .5M54.7 52.4l.2 .6l.1 .5M.4 10.6l-.3 -.4M53.4 10.6l-.3 -.4M13 34.9l-1.3 -1.1l-.1 -.9M38.9 -3l1.5 -.1l1 .4l1.5 .9M38.9 44l1.5 -.1l1 .4l1.5 .9M30.3 1.2l-1.1 -.1l-.7 -1.3l-1.3 -.6M30.3 48.2l-1.1 -.1l-.7 -1.3l-1.3 -.6M-6.9 .3l.2 -.6l-.7 -1.1M-6.9 47.3l.2 -.6l-.7 -1.1M46.1 .3l.2 -.6l-.7 -1.1M46.1 47.3l.2 -.6l-.7 -1.1M10.9 29.6l1.4 -.3l1.5 .7l1.3 .8M22.3 3.6l-1.1 -1.1l-.9 -1M22.3 50.6l-1.1 -1.1l-.9 -1M-7.8 -7.9l-.6 1.4M-7.8 39.1l-.6 1.4M45.2 -7.9l-.6 1.4M45.2 39.1l-.6 1.4M13 8.7l-.2 -.7l0 -1.3M8.5 -4.3l-.5 .5l-1.1 .4l-.9 -.6M8.5 42.7l-.5 .5l-1.1 .4l-.9 -.6M21.8 11l1 -.8l.6 0M15.4 31.9l.9 .6l1.5 -.6M26.2 37.7l.4 -.4M8.5 16.2l-1.5 .7M-7.5 11.3l-.3 -1l0 -.6M45.5 11.3l-.3 -1l0 -.6M33.1 31.5l-.5 .9l-.8 1.4M36.1 9.1l1.6 .3l1 .5M24.1 -4.8l.9 1.5l.7 1.1M24.1 42.2l.9 1.5l.7 1.1M36.3 29.6l1.1 .6l1.3 1l.1 .5M29.8 -1.8l-1.3 .7l-1.1 -.4M29.8 45.2l-1.3 .7l-1.1 -.4M6.7 17.5l1.3 -.7l.7 -.6M59.7 17.5l1.3 -.7l.7 -.6M4.8 15.9l-.2 -1l-.2 -1l.2 -1.2M57.8 15.9l-.2 -1l-.2 -1l.2 -1.2M2.6 23.3l1.1 1l.9 1l.4 .9M55.6 23.3l1.1 1l.9 1l.4 .9M7.2 27.9l-1.1 .6l-.8 1.4l-1 1.4M60.2 27.9l-1.1 .6l-.8 1.4l-1 1.4M1.2 21.8l.6 1.6l.6 1.3l1.2 .1M54.2 21.8l.6 1.6l.6 1.3l1.2 .1M33.3 30.1l-.8 -.7M37.7 1.2l-.7 -.9l-.6 -.3M37.7 48.2l-.7 -.9l-.6 -.3M23.5 -7.8l-1.2 .1l-1.4 .6l-1.5 -.2M23.5 39.2l-1.2 .1l-1.4 .6l-1.5 -.2M-7.3 23.3l-1.4 -.3l-1.3 -.3M45.7 23.3l-1.4 -.3l-1.3 -.3M-4.2 -5.1l-.7 1.3l.4 1.1M-4.2 41.9l-.7 1.3l.4 1.1M48.8 -5.1l-.7 1.3l.4 1.1M48.8 41.9l-.7 1.3l.4 1.1M38.5 19.6l.8 .2l1.2 -.4l1.2 .6M34.3 35.8l-.6 0l-.5 1.2M2.3 34.7l-.6 -.2l-.8 -.5l-1.3 .2M55.3 34.7l-.6 -.2l-.8 -.5l-1.3 .2M28.4 25.2l-1.7 0l-1.2 .3l-.9 .2M14.4 22.9l.5 .6M-2.1 13.6l-.8 0l-1.4 .6M50.9 13.6l-.8 0l-1.4 .6M29.3 7.5l-1.2 .4l-1.1 1.3l.3 1.4M29.3 54.5l-1.2 .4l-1.1 1.3l.3 1.4M3.5 25l-1 1.1l-1.1 0M56.5 25l-1 1.1l-1.1 0M20.6 10.3l-.4 1.1M20.2 14.3l-.4 .9l.7 1.6M7.6 5.9l0 .7l.4 1l.4 .7M7.6 52.9l0 .7l.4 1l.4 .7M60.6 5.9l0 .7l.4 1l.4 .7M60.6 52.9l0 .7l.4 1l.4 .7M-7.4 14.2l-.1 -.6l-1.3 -1.2l-.7 -.9M45.6 14.2l-.1 -.6l-1.3 -1.2l-.7 -.9M-4 -8l1 0M-4 39l1 0M49 -8l1 0M49 39l1 0M-3 23.2l1.1 -1.1M50 23.2l1.1 -1.1M10.6 1.5l.6 -.8l1.1 -.5M10.6 48.5l.6 -.8l1.1 -.5M6 -4.7l0 -1.2M6 42.3l0 -1.2M59 -4.7l0 -1.2M59 42.3l0 -1.2M14.3 -2.8l.6 -.3l.8 0M14.3 44.2l.6 -.3l.8 0M39.2 15.5l-.9 .6l-1.2 .9l-.8 -.4M15.6 24.4l1.1 .2l.7 .1l.7 0M18.7 28.5l.9 1.1l1.4 .9M8.6 10.7l-1.4 0l-1.3 -.2l-1.4 -.2M36 22.3l-.4 .8M39.9 -.3l-1.4 -.3M39.9 46.7l-1.4 -.3M-6.4 3.1l.4 .7l1.2 .7l1.5 0M-6.4 50.1l.4 .7l1.2 .7l1.5 0M46.6 3.1l.4 .7l1.2 .7l1.5 0M46.6 50.1l.4 .7l1.2 .7l1.5 0M26 34.1l.6 -1l.1 -.9M-1.1 30.1l.1 .5l.2 .6l.9 1.3M51.9 30.1l.1 .5l.2 .6l.9 1.3M11.4 20.3l.5 -1.1l-.7 -1.2l.1 -1.1M.9 -5.8l.5 -1.3M.9 41.2l.5 -1.3M53.9 -5.8l.5 -1.3M53.9 41.2l.5 -1.3M42.3 18.1l-.8 -.2l-.8 -.3M38.4 14.3l.7 -1.4M9.8 11l.2 -.6l.3 -.9M11.6 3.3l-1.5 -.7M11.6 50.3l-1.5 -.7M25.4 -6.4l.3 -1.3l.4 -1.5M25.4 40.6l.3 -1.3l.4 -1.5M32.4 37.5l-.1 .5l-1.1 1.4l.1 1.7M34.8 36.3l-1.3 -.9l-1.6 -.7M-2.3 26.5l-.5 -1.6l-1.3 -.9l-1.1 -.3M50.7 26.5l-.5 -1.6l-1.3 -.9l-1.1 -.3M-2.5 -.6l1 -1l-.5 -1.6l-1 -.9M-2.5 46.4l1 -1l-.5 -1.6l-1 -.9M50.5 -.6l1 -1l-.5 -1.6l-1 -.9M50.5 46.4l1 -1l-.5 -1.6l-1 -.9M40.5 26.3l.7 1.4M42.3 -6.8l-.9 1M42.3 40.2l-.9 1M26.8 9.2l.3 1.2l.3 .6M-4.6 16.1l-.7 -.1M48.4 16.1l-.7 -.1M41.8 36.5l-.4 1.1M11.6 7.1l.4 -1.2l.9 -.8l1.5 -.2M11.6 54.1l.4 -1.2l.9 -.8l1.5 -.2M27.4 -6l.1 -.6l-.6 -.5M27.4 41l.1 -.6l-.6 -.5M.9 19.9l.3 1.7l1.4 .7l.8 .1M53.9 19.9l.3 1.7l1.4 .7l.8 .1M32.4 16.7l.7 .9M35.6 4.7l-1 .7l-.5 .9M35.6 51.7l-1 .7l-.5 .9M-4.5 11.8l-1.3 .9l-.8 .5l-1.3 0M48.5 11.8l-1.3 .9l-.8 .5l-1.3 0M20.2 -.1l.7 1.2l.8 1.2l1.4 0M20.2 46.9l.7 1.2l.8 1.2l1.4 0M-7.1 19.2l-.3 -.4l-.8 -.4l-.9 .6M45.9 19.2l-.3 -.4l-.8 -.4l-.9 .6M31.1 -4.3l1.5 -.7l.7 -.7l1.2 -.4M31.1 42.7l1.5 -.7l.7 -.7l1.2 -.4M15.3 7.3l-1.4 0M15.3 54.3l-1.4 0M36.4 -4l1.7 .4M36.4 43l1.7 .4M42.9 -3.3l.8 -.2l.4 -1l.5 -1M42.9 43.7l.8 -.2l.4 -1l.5 -1M30.8 2.9l-.2 .5l-.1 1M30.8 49.9l-.2 .5l-.1 1M12.1 37.3l1.7 -.2M-2.5 -6.8l.3 -1M-2.5 40.2l.3 -1M50.5 -6.8l.3 -1M50.5 40.2l.3 -1M-6.8 35.5l-.3 -.6l-1 -.6l-.2 -.5M46.2 35.5l-.3 -.6l-1 -.6l-.2 -.5M-5.3 34.7l.3 .6l.9 .4M47.7 34.7l.3 .6l.9 .4M17 9.7l-.7 -1M-7.3 32.8l1.3 -.6M45.7 32.8l1.3 -.6M22.8 -.5l.9 1M22.8 46.5l.9 1M15 23.9l-.3 -1.3l.5 -1.5M36.7 5.5l-1.7 -.5l-1.2 .1M36.7 52.5l-1.7 -.5l-1.2 .1M29.7 25.8l.7 -.3M28.5 -5.3l.6 .1l.9 -.1l.5 -.2M28.5 41.7l.6 .1l.9 -.1l.5 -.2M14.2 28.1l.5 1.7M29.4 10.9l-.4 .4l-.8 0M13 25.8l.1 -1.2M36.6 17.3l.1 .5l.6 .4M37 19.9l-.3 .7l-.9 1.1M-6.1 23.8l.6 -.4M46.9 23.8l.6 -.4M5.5 14.3l.5 -.8M58.5 14.3l.5 -.8M25.4 36.9l.3 1.4l-.9 1.3l-.4 1.1M13.6 35.8l1.6 -.6M-1.2 -1.8l.7 -.1l.6 -.8l-.3 -1.2M-1.2 45.2l.7 -.1l.6 -.8l-.3 -1.2M51.8 -1.8l.7 -.1l.6 -.8l-.3 -1.2M51.8 45.2l.7 -.1l.6 -.8l-.3 -1.2M-6.6 14.7l-.5 .6l-.8 .1l-.9 -.5M46.4 14.7l-.5 .6l-.8 .1l-.9 -.5M29.8 32.1l-.7 -.6M7.9 32.8l-.6 .2l-.7 .1l-1.6 .8M60.9 32.8l-.6 .2l-.7 .1l-1.6 .8M23.6 23.5l1.1 0l.5 .3" stroke="#fff" stroke-width="1.5" stroke-linecap="round" stroke-linejoin="round" fill="none" opacity="0.55"/></pattern>
<pattern id="sp3" width="41" height="37" patternUnits="userSpaceOnUse"><path d="M1.6 11l1.3 -.7l.9 -.8M42.6 11l1.3 -.7l.9 -.8M-.9 -3.8l-.6 -1.1l-.6 -.2M-.9 33.2l-.6 -1.1l-.6 -.2M40.1 -3.8l-.6 -1.1l-.6 -.2M40.1 33.2l-.6 -1.1l-.6 -.2M2.9 -5.3l-.6 .1M2.9 31.7l-.6 .1M43.9 -5.3l-.6 .1M43.9 31.7l-.6 .1M-1.1 1.1l-.1 .5l-.5 1.5l-.6 .2M-1.1 38.1l-.1 .5l-.5 1.5l-.6 .2M39.9 1.1l-.1 .5l-.5 1.5l-.6 .2M39.9 38.1l-.1 .5l-.5 1.5l-.6 .2M2.9 -4.4l.5 -.1l.7 -1.3M2.9 32.6l.5 -.1l.7 -1.3M43.9 -4.4l.5 -.1l.7 -1.3M43.9 32.6l.5 -.1l.7 -1.3M-6.3 10l.4 -1.4M34.7 10l.4 -1.4M.6 12l-.3 .7M41.6 12l-.3 .7M16.6 1.7l-.2 1.5l-.3 1l-.8 .8M16.6 38.7l-.2 1.5l-.3 1l-.8 .8M18.5 6.4l.5 -.4l1.1 -.5l1.2 .8M18.5 43.4l.5 -.4l1.1 -.5l1.2 .8M-7.8 28.7l-.8 -.9l-.2 -.8l.5 -1.3M33.2 28.7l-.8 -.9l-.2 -.8l.5 -1.3M18.8 20.9l-.8 -.1M-6.3 .1l.1 -.9l-.3 -1.6M-6.3 37.1l.1 -.9l-.3 -1.6M34.7 .1l.1 -.9l-.3 -1.6M34.7 37.1l.1 -.9l-.3 -1.6M27.9 16.1l1 .1l.7 .1M27.1 20.9l1.2 .7l-.1 1.4l-1.1 1.1M8.4 6.6l.8 -.8M8.4 43.6l.8 -.8M28.6 9.1l.1 -.6l0 -1l.2 -1.5M8.3 10l.9 -.2l.5 0l.6 0M13.1 11.9l.4 .7l.9 .2M18 16.3l-.4 .4l-.8 .1M11.1 -5.6l.9 -.8l.4 -.3l.3 -1M11.1 31.4l.9 -.8l.4 -.3l.3 -1M13.3 -1.4l.5 .5l.5 1.5l-.1 .5M13.3 35.6l.5 .5l.5 1.5l-.1 .5M.8 7.9l.2 -1.2M.8 44.9l.2 -1.2M41.8 7.9l.2 -1.2M41.8 44.9l.2 -1.2M11.8 -7.2l-1.1 -.8l-.9 -.8l-1.2 .3M11.8 29.8l-1.1 -.8l-.9 -.8l-1.2 .3M6.1 -6.5l-.8 -1l-.7 .1l-1.2 -.5M6.1 30.5l-.8 -1l-.7 .1l-1.2 -.5M47.1 -6.5l-.8 -1l-.7 .1l-1.2 -.5M47.1 30.5l-.8 -1l-.7 .1l-1.2 -.5M19.1 4.1l-.4 -.6l-1.4 -.7l0 -.6M19.1 41.1l-.4 -.6l-1.4 -.7l0 -.6M10.5 2.9l.5 -.4M10.5 39.9l.5 -.4M4.6 1l.3 .7M4.6 38l.3 .7M45.6 1l.3 .7M45.6 38l.3 .7M32.9 28.3l.1 -.5M21.1 28.7l-1.4 .5M5.6 7.6l.3 .8l.9 .6l1.3 .6M5.6 44.6l.3 .8l.9 .6l1.3 .6M46.6 7.6l.3 .8l.9 .6l1.3 .6M46.6 44.6l.3 .8l.9 .6l1.3 .6M30.1 -5.7l-.1 .5l.6 1.1M30.1 31.3l-.1 .5l.6 1.1M3.4 -5.9l.9 -.7M3.4 31.1l.9 -.7M44.4 -5.9l.9 -.7M44.4 31.1l.9 -.7M23.9 27.3l.8 .1M-3.6 13.4l-.4 1.2M37.4 13.4l-.4 1.2M-.5 14.8l-1.4 -.4l-1.1 -.4l-.6 .4M40.5 14.8l-1.4 -.4l-1.1 -.4l-.6 .4M19.1 8.6l1.4 -.2M32.5 15.3l.3 .4M20.2 -5.4l.9 -.6l1.4 .3l1.3 -.9M20.2 31.6l.9 -.6l1.4 .3l1.3 -.9M18.8 17.4l.5 .9M1.7 26.8l-.1 -.6l.6 -.8l.3 -.6M42.7 26.8l-.1 -.6l.6 -.8l.3 -.6M-.7 .5l-.2 -.9M-.7 37.5l-.2 -.9M40.3 .5l-.2 -.9M40.3 37.5l-.2 -.9M14 4.4l-.4 -.4l-.8 -.2M14 41.4l-.4 -.4l-.8 -.2M19.7 15.5l.1 1.1M26.3 15.9l-1 -.7l-.7 -.5M33 9.7l-.8 1M23.1 5.2l.9 -.1M23.1 42.2l.9 -.1M20.9 11.4l-.5 -.3M4.5 13.7l.1 1.5l.1 .8l-.4 .5M45.5 13.7l.1 1.5l.1 .8l-.4 .5M15.6 2.3l-.3 -.5l-.5 -.5l-.2 -.6M15.6 39.3l-.3 -.5l-.5 -.5l-.2 -.6M4.3 -2.2l1 .5l1.4 .5l.4 .8M4.3 34.8l1 .5l1.4 .5l.4 .8M45.3 -2.2l1 .5l1.4 .5l.4 .8M45.3 34.8l1 .5l1.4 .5l.4 .8M15.1 11.7l.1 -1.2l.1 -1.5l-.3 -1.3M15.8 12.7l1.5 -.5l1.4 -.1l.5 -.5M8.9 19.7l.4 -.7l.5 -.7M12.2 26.1l.6 -.6l-.3 -1.4M-2.8 14.8l-.6 -1M38.2 14.8l-.6 -1M3.3 2.8l.1 -1.1M3.3 39.8l.1 -1.1M44.3 2.8l.1 -1.1M44.3 39.8l.1 -1.1M-5.6 19.8l-.8 -.3M35.4 19.8l-.8 -.3M15 22.3l-.8 0l-1.3 -.8M9.7 11.1l-.6 -.2M1.8 .1l-1.1 -.1M1.8 37.1l-1.1 -.1M42.8 .1l-1.1 -.1M42.8 37.1l-1.1 -.1M26.9 27.5l.3 -1.3l-.5 -.4l-.6 -.1M6.2 8.6l.4 -1M47.2 8.6l.4 -1M30.7 21.9l.9 .1l1.3 -.1M11.4 26.4l.3 -.9l.5 -1.4M2 -4.1l-1.2 -.1l-.4 .6l-.7 .5M2 32.9l-1.2 -.1l-.4 .6l-.7 .5M43 -4.1l-1.2 -.1l-.4 .6l-.7 .5M43 32.9l-1.2 -.1l-.4 .6l-.7 .5M21.2 -.6l-1.6 0l-.4 -.6l-.6 -.6M21.2 36.4l-1.6 0l-.4 -.6l-.6 -.6M0 11.3l.8 -1.3l.5 -.7M41 11.3l.8 -1.3l.5 -.7M22.5 21.9l-.5 -.1l-1.2 0M30.5 -7.2l.5 -.5M30.5 29.8l.5 -.5M27.5 15.3l-.5 1.4l.3 1.4l-.4 .4M28 9.7l-.5 -.3l-.6 -1.2l.6 -1.4M26.1 22.1l-.3 .4l0 1M8.2 11.5l-1.4 .3l-.8 -.2l-.4 .5M3.5 18.8l.7 .2l.8 -.4M44.5 18.8l.7 .2l.8 -.4M-8 18.1l-.6 .2l-.4 .7l-1.3 .9M33 18.1l-.6 .2l-.4 .7l-1.3 .9M8.9 8.9l.4 .3l.8 .4l.4 .5M-.2 3.5l0 -1l-.6 -1.2M-.2 40.5l0 -1l-.6 -1.2M40.8 3.5l0 -1l-.6 -1.2M40.8 40.5l0 -1l-.6 -1.2M16.4 3.2l.5 -.4l1.1 -.4M16.4 40.2l.5 -.4l1.1 -.4M26.1 2l-.5 -.3M26.1 39l-.5 -.3M-4.1 23.9l0 -.6M36.9 23.9l0 -.6M21.3 -5.1l-1.5 .4l-1 .2M21.3 31.9l-1.5 .4l-1 .2M11.5 -.5l1.4 .6M11.5 36.5l1.4 .6M1.6 23.5l-.1 -1.1l-.4 -.7M42.6 23.5l-.1 -1.1l-.4 -.7M9 -7.3l.5 .1l.8 .3l.2 .7M9 29.7l.5 .1l.8 .3l.2 .7M12.1 -4.9l1.2 -.1l.5 -.6M12.1 32.1l1.2 -.1l.5 -.6M7.2 -3.6l.7 .3l.7 .7l.6 1M7.2 33.4l.7 .3l.7 .7l.6 1M48.2 -3.6l.7 .3l.7 .7l.6 1M48.2 33.4l.7 .3l.7 .7l.6 1M29.1 -2.5l-1.5 .4l-1.4 .2l-.5 -.3M29.1 34.5l-1.5 .4l-1.4 .2l-.5 -.3M1.6 18.6l-1.4 .4l-1 -.9l-.8 -.5M42.6 18.6l-1.4 .4l-1 -.9l-.8 -.5M30.2 -3.8l-.4 1.3l.5 .8l.3 .4M30.2 33.2l-.4 1.3l.5 .8l.3 .4M28 25.6l1.2 -.4l.5 -.4M27.6 27.6l-.4 -1l-.8 -.8l-1.2 -.5M-7.2 20.7l-.7 .1l-1.1 -.9l-1.5 0M33.8 20.7l-.7 .1l-1.1 -.9l-1.5 0M-7.6 -3.1l1.3 .5M-7.6 33.9l1.3 .5M33.4 -3.1l1.3 .5M33.4 33.9l1.3 .5M-7.7 26.9l-.8 -.5M33.3 26.9l-.8 -.5M16.9 25.7l.5 -.8l.3 -.7l-.6 -1.4M23.1 -1.9l.9 -.4l1.5 -.3l1.4 -.4M23.1 35.1l.9 -.4l1.5 -.3l1.4 -.4M-1.7 19.7l.1 1.6l-.5 .4l0 .6M39.3 19.7l.1 1.6l-.5 .4l0 .6M27.7 18.2l-.7 -.2l-1.2 -1M23.1 23.1l-1.4 -.4l-.4 -.3M6.4 21.5l-1.2 -.8M47.4 21.5l-1.2 -.8M17.4 -1.8l.9 1.3M17.4 35.2l.9 1.3M32.7 28.9l-.4 1.1l-1.3 .5l-1.6 -.1M4.5 1.7l-.2 .6M4.5 38.7l-.2 .6M45.5 1.7l-.2 .6M45.5 38.7l-.2 .6M20.6 18.4l-.2 -.5M-5.3 -.9l0 .7l-.5 .7l-1 .4M-5.3 36.1l0 .7l-.5 .7l-1 .4M35.7 -.9l0 .7l-.5 .7l-1 .4M35.7 36.1l0 .7l-.5 .7l-1 .4M25.9 25.6l-1.4 -.7l0 -.5M31.6 4.1l-.8 .5l-1.4 .2l-.7 .8M31.6 41.1l-.8 .5l-1.4 .2l-.7 .8M15.9 -2.4l-1.3 -.9l-.8 -.9l-.6 -.9M15.9 34.6l-1.3 -.9l-.8 -.9l-.6 -.9M-6.2 8.8l-.9 -.1l-.5 -.7l.1 -.5M34.8 8.8l-.9 -.1l-.5 -.7l.1 -.5M6.1 16.6l.2 -1.4l-.8 -1.4M47.1 16.6l.2 -1.4l-.8 -1.4M1.9 17.3l.4 1M42.9 17.3l.4 1M22.5 17.2l.5 .3l.5 .5M11.4 26.5l.6 1.4l-.2 1M11 -2.3l.4 .8M11 34.7l.4 .8M2.6 -6.9l-.5 1.5M2.6 30.1l-.5 1.5M43.6 -6.9l-.5 1.5M43.6 30.1l-.5 1.5M12.7 4.4l-1.1 -1l-.2 -.7M12.7 41.4l-1.1 -1l-.2 -.7M-6.6 5.9l-1.2 -.8l-1.2 .2M-6.6 42.9l-1.2 -.8l-1.2 .2M34.4 5.9l-1.2 -.8l-1.2 .2M34.4 42.9l-1.2 -.8l-1.2 .2M19.6 8.3l1 .4l.6 .5M7.7 15.1l-.3 -.5l.8 -1.3l.1 -.7M48.7 15.1l-.3 -.5l.8 -1.3l.1 -.7M2.2 20.2l.5 -.7l.9 -.7l.7 -.1M43.2 20.2l.5 -.7l.9 -.7l.7 -.1M17.5 -6.8l.9 .6M17.5 30.2l.9 .6M27 25.4l-.3 -1.1l0 -.6l1 -.8M8.3 27.9l-.1 .5M22.5 -.4l-.2 -.8l-.6 -.5M22.5 36.6l-.2 -.8l-.6 -.5M-5.2 -2.4l.7 .3l.5 1.2M-5.2 34.6l.7 .3l.5 1.2M35.8 -2.4l.7 .3l.5 1.2M35.8 34.6l.7 .3l.5 1.2M17.6 25.4l-.4 .4l-.6 0l-.9 -1.1M32.3 27.8l.4 1.5l-.3 .5l-.6 .8M31.4 26.1l1 -1.1l1.2 -.8l.7 .2M15.5 .9l-.2 -.6l.3 -.8M15.5 37.9l-.2 -.6l.3 -.8M5.4 .1l-1.2 .2l-1.2 -.2M5.4 37.1l-1.2 .2l-1.2 -.2M46.4 .1l-1.2 .2l-1.2 -.2M46.4 37.1l-1.2 .2l-1.2 -.2M2.5 5.2l-.9 -.7l-.3 -.7l-.9 -.6M2.5 42.2l-.9 -.7l-.3 -.7l-.9 -.6M43.5 5.2l-.9 -.7l-.3 -.7l-.9 -.6M43.5 42.2l-.9 -.7l-.3 -.7l-.9 -.6M-.6 -1.1l.5 1.4l-.2 .9l-1.4 .4M-.6 35.9l.5 1.4l-.2 .9l-1.4 .4M40.4 -1.1l.5 1.4l-.2 .9l-1.4 .4M40.4 35.9l.5 1.4l-.2 .9l-1.4 .4M32.1 22.2l-.7 -.4M9.7 1.6l-.3 .8l-.6 .5M9.7 38.6l-.3 .8l-.6 .5M31 -1.2l.9 -1.3M31 35.8l.9 -1.3M-6.5 15.2l.4 -1.1l.4 -1.3l-.3 -.9M34.5 15.2l.4 -1.1l.4 -1.3l-.3 -.9M25.9 -3.8l.8 -.5M25.9 33.2l.8 -.5M21.5 17l.7 -.2l.6 -.2M20 24.6l.6 -1M-1.9 11.5l-1.3 .3M39.1 11.5l-1.3 .3M27.4 4.5l-.5 -.4l-1 .4l-.6 .7M27.4 41.5l-.5 -.4l-1 .4l-.6 .7M0 .7l-.7 -.1l-.7 0l-.8 .6M0 37.7l-.7 -.1l-.7 0l-.8 .6M41 .7l-.7 -.1l-.7 0l-.8 .6M41 37.7l-.7 -.1l-.7 0l-.8 .6M4.9 9.3l-.6 -1M45.9 9.3l-.6 -1M25.5 13.9l.2 -.8l.7 -.6M5.6 .4l.6 1.3M5.6 37.4l.6 1.3M46.6 .4l.6 1.3M46.6 37.4l.6 1.3M25.9 11.8l.4 -.6l-.5 -1M-4.3 -.3l1.1 -.3M-4.3 36.7l1.1 -.3M36.7 -.3l1.1 -.3M36.7 36.7l1.1 -.3M22.1 17.3l-.4 -.7l.1 -.6M-7 13.6l-.3 1.5l-.7 .4l-.7 .4M34 13.6l-.3 1.5l-.7 .4l-.7 .4M30.4 15.3l0 .8" stroke="#fff" stroke-width="1.3" stroke-linecap="round" stroke-linejoin="round" fill="none" opacity="0.6"/></pattern>
<filter id="rough" x="-5%" y="-5%" width="110%" height="110%"><feTurbulence type="fractalNoise" baseFrequency="0.55" numOctaves="2" seed="3" result="n"/><feDisplacementMap in="SourceGraphic" in2="n" scale="8" xChannelSelector="R" yChannelSelector="G"/></filter>
<clipPath id="pinkR"><polygon points="470,900 740,900 740,1400 400,1400 400,1280 560,1280 600,1100 560,1000"/></clipPath>
<clipPath id="blueLow"><rect x="200" y="420" width="500" height="380"/></clipPath>
<clipPath id="rcl"><path d="M1107.3 366C1104.6 365.3 1100.9 356.1 1098 353.3C1095.1 350.5 1095.8 350.5 1090 349.3C1084.2 348.1 1072.2 346.6 1063.3 345.9C1054.4 345.2 1045.6 345.2 1036.7 345.3C1027.8 345.4 1018 345.8 1010 346.7C1002 347.6 997.6 348.5 988.7 350.7C979.8 352.9 966.5 357.3 956.7 360C946.9 362.7 938 364 930 366.7C922 369.4 915.8 372.4 908.7 376C901.6 379.6 894 382.9 887.3 388C880.6 393.1 874.9 400 868.7 406.7C862.5 413.4 855.8 420.9 850 428C844.2 435.1 838.9 441.3 834 449.3C829.1 457.3 824.5 466.2 820.7 476C816.9 485.8 813.5 497.3 811.3 508C809.1 518.7 807.7 529.3 807.3 540C806.9 550.7 807.6 561.8 808.7 572C809.8 582.2 811.8 591.5 814 601.3C816.2 611.1 818.7 620.9 822 630.7C825.3 640.5 829.8 651.6 834 660C838.2 668.4 842.4 675 847.3 681.3C852.2 687.6 858.8 694 863.3 698C867.8 702 868.7 702.3 874 705.3C879.3 708.3 887.8 713.3 895.3 716C902.8 718.7 911.3 720.8 919.3 721.3C927.3 721.8 936.2 720.2 943.3 718.7C950.4 717.2 956.4 714.7 962 712C967.6 709.3 973.2 706 976.7 702.7C980.2 699.4 981.8 696.2 983.3 692C984.8 687.8 983.3 676.4 986 677.3C988.7 678.2 995.3 691.3 999.3 697.3C1003.3 703.3 1006 708.4 1010 713.3C1014 718.2 1018.8 722.9 1023.3 726.7C1027.8 730.5 1032.2 733.6 1036.7 736C1041.2 738.4 1045.1 740.4 1050 741.3C1054.9 742.2 1060.7 741.7 1066 741.3C1071.3 740.9 1077.1 738.9 1082 738.7C1086.9 738.5 1090.4 738.9 1095.3 740C1100.2 741.1 1106 745.1 1111.3 745.3C1116.6 745.5 1123.1 743.1 1127.3 741.3C1131.5 739.5 1134.5 737.8 1136.7 734.7C1138.9 731.6 1138.5 723.6 1140.7 722.7C1142.9 721.8 1146.9 728.6 1150 729.3C1153.1 730 1156 729.4 1159.3 726.7C1162.6 724 1166 718.2 1170 713.3C1174 708.4 1179.1 702.2 1183.3 697.3C1187.5 692.4 1193.3 682.7 1195.3 684C1197.3 685.3 1193.7 699.1 1195.3 705.3C1196.9 711.5 1200.9 716.6 1204.7 721.3C1208.5 726 1212.7 729.7 1218 733.3C1223.3 736.9 1230.9 740.5 1236.7 742.7C1242.5 744.9 1246.9 747.2 1252.7 746.7C1258.5 746.2 1265.1 742.5 1271.3 740C1277.5 737.5 1284.2 735.1 1290 732C1295.8 728.9 1301.1 725.3 1306 721.3C1310.9 717.3 1315.6 712.2 1319.3 708C1323 703.8 1325.9 699.7 1328 696C1330.1 692.3 1331.6 689.3 1332 686C1332.4 682.7 1331.3 678.9 1330.5 676C1329.7 673.1 1327.1 670.5 1327 668.5C1326.9 666.5 1328.1 665.8 1330 664C1331.9 662.2 1335.1 661.5 1338.5 658C1341.9 654.5 1346.8 648.9 1350.4 643.2C1354 637.5 1357.1 630.9 1360 624C1362.9 617.1 1365.9 609.6 1368 601.6C1370.1 593.6 1371.7 584.5 1372.8 576C1373.9 567.5 1374.4 558.9 1374.4 550.4C1374.4 541.9 1374.1 533.3 1372.8 524.8C1371.5 516.3 1369.1 507.7 1366.4 499.2C1363.7 490.7 1361.1 482.1 1356.8 473.6C1352.5 465.1 1346.7 456 1340.8 448C1334.9 440 1329.1 433.1 1321.6 425.6C1314.1 418.1 1305.6 410.1 1296 403.2C1286.4 396.3 1273.9 389.3 1264 384.5C1254.1 379.7 1245.7 377.5 1236.7 374.5C1227.7 371.5 1218.9 369.1 1210 366.7C1201.1 364.3 1192.2 362 1183.3 360C1174.4 358 1165.6 355.8 1156.7 354.7C1147.8 353.6 1137.1 352.9 1130 353.3C1122.9 353.7 1117.8 355.2 1114 357.3C1110.2 359.4 1110 366.7 1107.3 366Z"/></clipPath>
<clipPath id="ccl"><path d="M946.7 864C940.5 863.3 928.9 866.2 920 868C911.1 869.8 902.2 871.6 893.3 874.7C884.4 877.8 874.7 882.5 866.7 886.7C858.7 890.9 852 894.7 845.3 900C838.6 905.3 832 912.5 826.7 918.7C821.4 924.9 817.3 930.6 813.3 937.3C809.3 944 804.9 951.6 802.7 958.7C800.5 965.8 799.6 972.9 800 980C800.4 987.1 803.5 994.2 805.3 1001.3C807.1 1008.4 808 1015.1 810.7 1022.7C813.4 1030.3 817.3 1039.2 821.3 1046.7C825.3 1054.2 831.6 1061.3 834.7 1068C837.8 1074.7 839.6 1081.4 840 1086.7C840.4 1092 840 1094.5 837.3 1100C834.6 1105.5 827.5 1113.1 824 1120C820.5 1126.9 818 1133.8 816 1141.3C814 1148.8 812.2 1157.3 812 1165.3C811.8 1173.3 812.7 1181.7 814.7 1189.3C816.7 1196.9 820.2 1204.5 824 1210.7C827.8 1216.9 832.4 1221.8 837.3 1226.7C842.2 1231.6 848.4 1236.5 853.3 1240C858.2 1243.5 862.2 1245.3 866.7 1248C871.2 1250.7 874.7 1252.9 880 1256C885.3 1259.1 892 1263.8 898.7 1266.7C905.4 1269.6 912 1271.8 920 1273.3C928 1274.8 937.8 1275.8 946.7 1276C955.6 1276.2 964.4 1275.8 973.3 1274.7C982.2 1273.6 991.1 1272 1000 1269.3C1008.9 1266.6 1018.7 1263.1 1026.7 1258.7C1034.7 1254.3 1041.3 1248 1048 1242.7C1054.7 1237.4 1061.4 1232 1066.7 1226.7C1072 1221.4 1076 1216.9 1080 1210.7C1084 1204.5 1087.8 1196.9 1090.7 1189.3C1093.6 1181.7 1095.3 1173.7 1097.3 1165.3C1099.3 1156.9 1101.8 1147.6 1102.7 1138.7C1103.6 1129.8 1103.6 1120.9 1102.7 1112C1101.8 1103.1 1099.8 1093.3 1097.3 1085.3C1094.8 1077.3 1091.8 1069.8 1088 1064C1084.2 1058.2 1076 1055.8 1074.7 1050.7C1073.4 1045.6 1078.5 1039.8 1080 1033.3C1081.5 1026.8 1083.8 1019.1 1084 1012C1084.2 1004.9 1083.3 997.8 1081.3 990.7C1079.3 983.6 1075.8 976.4 1072 969.3C1068.2 962.2 1063.6 955.1 1058.7 948C1053.8 940.9 1048 933.8 1042.7 926.7C1037.4 919.6 1032.5 912 1026.7 905.3C1020.9 898.6 1014.2 892 1008 886.7C1001.8 881.4 995.1 876.4 989.3 873.3C983.5 870.2 978.6 868.2 973.3 868C968 867.8 961.7 872.7 957.3 872C952.9 871.3 952.9 864.7 946.7 864Z"/></clipPath>
</defs>
<rect width="1500" height="1500" fill="#fff"/>
<g id="blue">
<g clip-path="url(#blueLow)"><polygon points="358.0,167.3 464.0,167.3 464.0,176.7 500.0,176.7 500.0,190.0 522.7,190.0 522.7,202.0 534.7,202.0 534.7,213.2 558.7,213.2 558.7,224.7 570.1,224.7 570.1,236.7 582.1,236.7 582.1,259.3 593.3,259.3 593.3,271.3 605.3,271.3 605.3,295.3 617.3,295.3 617.3,330.0 628.0,330.0 628.0,364.7 640.0,364.7 640.0,399.9 652.0,399.9 652.0,435.3 663.5,435.3 663.5,518.0 675.3,518.0 675.3,624.0 663.3,624.0 663.3,649.3 652.7,649.3 652.7,672.0 640.7,672.0 640.7,684.0 628.7,684.0 628.7,696.0 617.5,696.0 617.5,708.0 606.0,708.0 606.0,730.7 594.0,730.7 594.0,742.7 582.8,742.7 582.8,754.1 558.8,754.1 558.8,765.3 535.3,765.3 535.3,777.3 500.1,777.3 500.1,788.8 333.3,788.8 333.3,777.3 310.7,777.3 310.7,765.3 298.7,765.3 298.7,753.3 286.7,753.3 286.7,730.7 276.0,730.7 276.0,670.7 288.0,670.7 288.0,660.0 276.0,660.0 276.0,600.0 264.0,600.0 264.0,589.3 252.0,589.3 252.0,577.3 240.0,577.3 240.0,554.7 229.3,554.7 229.3,506.7 217.3,506.7 217.3,456.7 230.0,456.7 230.0,407.0 216.7,407.0 216.7,402.0 206.0,402.0 206.0,388.7 194.0,388.7 194.0,366.0 182.0,366.0 182.0,319.3 194.0,319.3 194.0,283.3 204.7,283.3 204.7,259.3 216.7,259.3 216.7,248.7 228.7,248.7 228.7,236.7 240.7,236.7 240.7,226.0 252.7,226.0 252.7,214.0 275.3,214.0 275.3,202.0 299.3,202.0 299.3,190.0 323.3,190.0 323.3,176.7 358.0,176.7" fill="#1f77b4" fill-opacity=".6" stroke="#fff" stroke-width="3" filter="url(#rough)"/></g>
<path d="M461 167h0m1 1h0m-7 0h0m-7-1h0m-20 1h0m-1 0h0m-17 0h0m0 0h0m-3 0h0m-28 0h0m-19 0h0m2 1h0m0 5h0m13-2h0m3-1h0m-3-2h0m-1 2h0m8 0h0m1-2h0m-3 2h0m-1 0h0m6 0h0m4-3h0m-3 5h0m0-2h0m2-1h0m6 2h0m0 0h0m-1 1h0m4 0h0m10 0h0m-1-1h0m4 0h0m0 1h0m-1-3h0m3 0h0m-3 1h0m2-1h0m0-1h0m1 1h0m2 1h0m6 2h0m6-1h0m2-2h0m3 2h0m-5-1h0m3-2h0m15 0h0m6-1h0m3 1h0m4 1h0m3-1h0m3 4h0m33 6h0m-2 1h0m-6 0h0m-11-1h0m-8-2h0m-1 3h0m3-1h0m-2-2h0m-5 0h0m-2-1h0m1 1h0m1 2h0m2-1h0m-4-2h0m-30 3h0m0-3h0m-5 4h0m4-3h0m-3-1h0m-2 2h0m3 0h0m-4 0h0m0-1h0m-9-1h0m0 2h0m0 1h0m2-4h0m-6 2h0m-3 2h0m1-4h0m-11 0h0m-2-1h0m1 3h0m-3-1h0m-4-1h0m3 2h0m1-1h0m-4 4h0m-1-4h0m4 1h0m0 1h0m-7-2h0m1 4h0m2-4h0m-1 1h0m-4-1h0m-6 3h0m1-4h0m0 4h0m-7 1h0m4-4h0m-10 4h0m1-3h0m1 3h0m1 0h0m-3-5h0m-1 2h0m2-2h0m-2 2h0m-9 2h0m2 0h0m-2-2h0m-16 2h0m0 1h0m-2-2h0m-8 0h0m-5 1h0m12 2h0m-1 2h0m0-2h0m4 3h0m1-2h0m10 1h0m-2 2h0m1 0h0m5-4h0m1 5h0m6-2h0m1 0h0m1 1h0m-2 1h0m-2-4h0m1 3h0m4-1h0m4-1h0m-1 2h0m-2-1h0m0 0h0m9-1h0m-4 0h0m1 0h0m2 0h0m5 0h0m3-2h0m3 3h0m0-2h0m4 4h0m6-4h0m-1 4h0m-4-5h0m2 3h0m2-2h0m1-1h0m9 2h0m1 3h0m6 0h0m-2-3h0m3-2h0m6 1h0m0 1h0m3 1h0m4-3h0m-5 0h0m3 4h0m2 0h0m1-4h0m4 3h0m-4-3h0m1 1h0m71-2h0m0 6h0m-1-4h0m14 8h0m3 0h0m-87-2h0m2 1h0m-6-2h0m-9 2h0m1 0h0m2-2h0m-4 1h0m-2-1h0m-1 0h0m-11 0h0m-7 2h0m0 1h0m-2-2h0m-6 2h0m-4-1h0m1 0h0m-2 3h0m-2-4h0m1 4h0m0-3h0m2 3h0m0-2h0m1-1h0m-4-2h0m-3 4h0m2-1h0m0-3h0m-5 0h0m-5 3h0m-2-4h0m-2 1h0m1 2h0m-8-2h0m-1 0h0m1-1h0m-4 2h0m-4 1h0m0-2h0m4 2h0m2 2h0m-5-4h0m-2 0h0m0 3h0m1 1h0m-1-5h0m1 3h0m-7 1h0m-6-2h0m-10 0h0m3-1h0m-7 5h0m-15 0h0m-4 0h0m2 3h0m-3 0h0m8 0h0m5 0h0m3-2h0m-5 2h0m6-3h0m-4 0h0m-2 1h0m3 2h0m4 3h0m2-4h0m8 4h0m-2 0h0m-2 0h0m5-1h0m2 1h0m0-4h0m-1 2h0m4-4h0m0 1h0m-4 5h0m2-5h0m3 2h0m3 1h0m1-2h0m-3 2h0m8-2h0m0 1h0m-2 3h0m6-5h0m5 0h0m5 0h0m2 2h0m2 1h0m-2-3h0m14 0h0m-2-1h0m142 1h0m19 11h0m-6-1h0m0 0h0m-3-1h0m-2-1h0m-3 2h0m1-3h0m-183-1h0m-1 1h0m-2-1h0m-11 0h0m0 4h0m5-2h0m-2-3h0m-4 1h0m1 5h0m-4-4h0m-4-1h0m-1 5h0m-6-3h0m0 2h0m0-3h0m-1 4h0m3-6h0m-4 2h0m-1-1h0m5 4h0m-9 0h0m4 0h0m-5-5h0m1 0h0m-3 2h0m1 0h0m0-2h0m-6 6h0m-2-1h0m-15 0h0m4-1h0m1 7h0m-1-4h0m3 4h0m3 1h0m-3-1h0m1-2h0m6-1h0m1 1h0m1-2h0m-1 0h0m0-1h0m0 0h0m5 1h0m0 0h0m4 0h0m1 0h0m1 3h0m-2 2h0m10-1h0m-5 1h0m0-4h0m6 0h0m2 0h0m2-1h0m6-1h0m205 0h0m6 2h0m2-1h0m23 10h0m-2 1h0m1-2h0m-1 1h0m-9-1h0m-11 0h0m3 0h0m-6 0h0m-233-3h0m1 0h0m-2 0h0m-1 1h0m-7 0h0m-2-1h0m1 0h0m-2 0h0m5 1h0m-3 3h0m-8-5h0m-4 2h0m3-1h0m-4 0h0m-3 3h0m-1 1h0m-15 5h0m3-2h0m2 4h0m1-4h0m1-1h0m0 0h0m5 1h0m-4-1h0m0 1h0m8 3h0m1 0h0m7-3h0m-1 0h0m4 1h0m3-1h0m2-2h0m266 2h0m2 2h0m9 7h0m-3 0h0m-4 0h0m2 0h0m0-1h0m1 1h0m-3 0h0m-286-2h0m-3 0h0m0 0h0m-5-3h0m4 5h0m-3-3h0m1 1h0m-4 2h0m1-2h0m1 1h0m1-2h0m0-2h0m3 1h0m-6 3h0m-4-3h0m-6 4h0m4 0h0m-5-3h0m-8 3h0m-2 0h0m0 7h0m1-3h0m7 1h0m-4-4h0m5 1h0m2 0h0m7 3h0m-1-1h0m9-3h0m-4 4h0m1-3h0m-1 3h0m314 6h0m-9 1h0m-1-4h0m-315 1h0m-4 1h0m-2-1h0m3 3h0m-7-5h0m-2 4h0m0-2h0m1 4h0m1-1h0m0-3h0m-4 2h0m2 2h0m4-3h0m-9 1h0m3 2h0m-6-1h0m5 1h0m-9-2h0m8 7h0m-2-4h0m3 3h0m-2 2h0m3-5h0m6 1h0m6-2h0m329 3h0m1 2h0m-1 0h0m-343 3h0m-6 0h0m2 2h0m-1-4h0m-16 3h0m1 4h0m0 3h0m10-1h0m-5-2h0m8 0h0m1 3h0m-4-2h0m2-1h0m3 1h0m4-1h0m344 4h0m-1 0h0m9 4h0m0 1h0m-2-1h0m-6-1h0m-353 1h0m-6 3h0m4-4h0m-7 0h0m1 3h0m-1-3h0m-1 1h0m-5 2h0m-4 2h0m6 4h0m-4-3h0m0 0h0m-1 4h0m6-2h0m1 1h0m-1 0h0m2-1h0m2 0h0m371-2h0m0-1h0m0 0h0m12 8h0m-5 1h0m2-2h0m-1 1h0m-4 1h0m-2-3h0m0 1h0m1 0h0m-2-1h0m-373 1h0m2-1h0m-5 3h0m3-3h0m0 1h0m0 0h0m-6 1h0m0-2h0m2 1h0m1 2h0m-11 3h0m4 5h0m-2-3h0m2-3h0m-3 4h0m7-3h0m392 7h0m-1 1h0m-396 1h0m-2 1h0m4-1h0m-5 0h0m-6-1h0m2 1h0m-1 0h0m0-3h0m-3 1h0m0 9h0m0-1h0m4-3h0m0-1h0m5 3h0m-1-1h0m3-1h0m409 10h0m-11-3h0m-403 0h0m0 1h0m1-1h0m-8 2h0m1-3h0m0 4h0m0 5h0m-1 2h0m2-3h0m419 1h0m-2 2h0m0-3h0m1 3h0m1 4h0m-420-4h0m1 3h0m0-3h0m-4 4h0m2 2h0m1 2h0m-1 0h0m419 1h0m0-1h0m0 6h0m1 0h0m-428 3h0m-1-3h0m-4 0h0m-1 4h0m3 1h0m1 1h0m5-1h0m425 3h0m-1-3h0m12 6h0m0 5h0m-11-3h0m-1-2h0m-424-1h0m-8 3h0m2-1h0m-2 7h0m0 2h0m7-4h0m-2 5h0m-1-4h0m8 1h0m0 3h0m432-2h0m0 1h0m-437 3h0m0 2h0m-6 1h0m-2-4h0m1 5h0m3 5h0m1-3h0m0 1h0m9 1h0m-1-2h0m2 0h0m0 0h0m431 8h0m-1-1h0m1 2h0m-433-2h0m1 2h0m-9-3h0m0 1h0m0 3h0m1-1h0m2 0h0m-1-3h0m3 0h0m-9 1h0m0 3h0m2-2h0m0 0h0m-2-2h0m0-1h0m1 4h0m2 4h0m-2-1h0m2-1h0m5 2h0m0-2h0m1 3h0m3 1h0m3-2h0m-3-3h0m1 5h0m2-4h0m-5 4h0m2-2h0m7 1h0m-4 0h0m3-1h0m424-1h0m6 5h0m-3 0h0m-423 2h0m-3 1h0m1-1h0m-7 0h0m-1 1h0m2-2h0m1-2h0m-3 11h0m1-4h0m4 0h0m0 2h0m3-1h0m3-2h0m3 5h0m-5-2h0m3-2h0m7 8h0m-4-2h0m4 2h0m-4-3h0m5 3h0m-11 0h0m1 1h0m4-2h0m1 1h0m-9 1h0m1-4h0m0 1h0m0-1h0m-3 0h0m-2 5h0m0 0h0m0-4h0m-3 8h0m5-2h0m-1 3h0m2-3h0m2 2h0m3-1h0m4-2h0m7 4h0m-2 1h0m5 0h0m-2-4h0m6 4h0m417-2h0m-1 0h0m0-1h0m-1 1h0m-403 8h0m-3 0h0m-7 1h0m-1-2h0m-7 1h0m-1 1h0m4-4h0m-4 2h0m-6-4h0m0 3h0m5 1h0m-8 1h0m2 1h0m0 5h0m3-1h0m-2 1h0m11-1h0m0-4h0m1 2h0m1-1h0m-1 4h0m7 0h0m3 0h0m-1-3h0m5 2h0m7-2h0m3 0h0m9 0h0m0 2h0m-2-1h0m5 2h0m4 0h0m389 1h0m-4 0h0m-1 0h0m-382 5h0m0 0h0m-10-2h0m0-2h0m-5 2h0m1-2h0m-9 4h0m3-4h0m-2 4h0m-4-1h0m-4-2h0m-4 3h0m2-2h0m-5 2h0m-4-5h0m0 5h0m1-5h0m3 5h0m-1 0h0m-9 0h0m3-3h0m-1 0h0m1 2h0m-3-2h0m15 5h0m7 1h0m3 1h0m1 1h0m-1 0h0m7-1h0m-1 2h0m0-2h0m6-1h0m4 0h0m-3-2h0m-3 3h0m11 1h0m388 2h0m0 2h0m-398-1h0m1 3h0m-4-3h0m-1 1h0m-5 4h0m-3-1h0m-4-5h0m0 0h0m1 5h0m1 1h0m5 5h0m-3-4h0m2 1h0m6-2h0m3 1h0m0 3h0m398 0h0m0 7h0m1 1h0m-1-5h0m-404 0h0m0 1h0m-5-2h0m-1 3h0m5-1h0m-10 3h0m4 0h0m-7-5h0m-2 4h0m3-1h0m0 5h0m1 3h0m5-3h0m0 0h0m-4-2h0m3 1h0m414 2h0m-2 1h0m8 1h0m3 6h0m1-4h0m-9-1h0m-413 5h0m1 0h0m-6-5h0m3 0h0m-4 4h0m-1-3h0m0 5h0m0 3h0m-3-1h0m5 0h0m2 2h0m-2-1h0m3 1h0m0-1h0m424 3h0m-1-2h0m1 8h0m0-5h0m-426 2h0m1-3h0m-2 6h0m-3-2h0m-1 2h0m-1-3h0m0 0h0m1 0h0m0 0h0m2 1h0m-14 7h0m-1 0h0m0-1h0m7-1h0m-3 2h0m3 1h0m3-3h0m4-2h0m-4 5h0m6-3h0m429-1h0m0 0h0m-1 4h0m0-1h0m1 1h0m0 1h0m-431-1h0m-1 4h0m-13 1h0m3 2h0m0 2h0m-3 2h0m0 0h0m8-4h0m-4-1h0m4 1h0m-1 2h0m-1 0h0m9-2h0m-3 5h0m3-5h0m-2 4h0m431-4h0m0 1h0m1 8h0m-2-1h0m0-3h0m-430 6h0m0-3h0m-2-2h0m1 3h0m0-1h0m-7 1h0m1 0h0m3-3h0m-5 1h0m-1 0h0m-3 2h0m3-2h0m-2 6h0m-1 3h0m7-2h0m1 0h0m0 2h0m-1-4h0m2 3h0m-4 0h0m7 1h0m1 0h0m-1-1h0m0 2h0m433-4h0m0 3h0m-2-5h0m1 11h0m1-1h0m-431-3h0m-1 0h0m0 0h0m-3 3h0m0 0h0m-3-4h0m-5 1h0m-1 0h0m1-1h0m0 2h0m0 4h0m-2 5h0m3-1h0m4-2h0m3-2h0m3 4h0m432 1h0m0 0h0m-2-2h0m1-2h0m0 2h0m1 7h0m-1-2h0m0 4h0m0-2h0m-432-1h0m2-2h0m-3 1h0m-1-1h0m2 2h0m-6 1h0m3-2h0m-5-1h0m3 2h0m-7-1h0m2 4h0m13 4h0m-2-4h0m2 5h0m0 1h0m428-1h0m1-4h0m1 4h0m0-4h0m-2 6h0m-426 3h0m-3-3h0m0 1h0m0 9h0m3 0h0m2 1h0m426-3h0m-1-2h0m7 1h0m3 0h0m1 9h0m0-2h0m2 3h0m-438-5h0m-5 1h0m-1 1h0m0 3h0m0 0h0m-1 2h0m9-1h0m-2 0h0m438 1h0m-2 6h0m-433 4h0m-1-6h0m-7 1h0m-1 3h0m0 1h0m1-4h0m-2 3h0m2-1h0m0-1h0m-1 8h0m11-3h0m2 5h0m431-4h0m0 1h0m-2-3h0m0 5h0m-425 6h0m-6-2h0m1-2h0m-1 0h0m4 1h0m-1 1h0m-1 0h0m-5 1h0m-2 1h0m-6 0h0m-1-3h0m0 5h0m12 2h0m3 0h0m-2-3h0m0 1h0m4 0h0m2 4h0m-1 0h0m4 0h0m-5-1h0m1 1h0m0-3h0m425-1h0m0 3h0m0 7h0m-419-3h0m-1-1h0m0 1h0m1 0h0m0-1h0m-7 3h0m0-2h0m0 2h0m0-3h0m-1-1h0m0 2h0m4 0h0m-1 2h0m1-3h0m-6-1h0m2 6h0m0-5h0m-5 3h0m4-3h0m1 3h0m-4 1h0m0 1h0m2 6h0m1-1h0m1-2h0m-5-1h0m7 2h0m0-2h0m1 0h0m4 2h0m3-2h0m-4 0h0m4-1h0m2 3h0m3 2h0m-2-5h0m3 2h0m-1-1h0m1 3h0m411 0h0m1-5h0m0 10h0m-407-1h0m-7 1h0m-1-2h0m-1-2h0m-2 3h0m-2 0h0m1 1h0m-6-3h0m2 3h0m-4-2h0m1-1h0m-4-1h0m0 1h0m-4 0h0m12 7h0m2 2h0m10 1h0m-4 1h0m5-3h0m4 2h0m-2-2h0m8 0h0m-3 2h0m2 0h0m2-2h0m396 0h0m2 6h0m0-1h0m1 0h0m0 1h0m0-3h0m-392 5h0m-3-3h0m-10 0h0m0 3h0m2-4h0m3 4h0m-4-4h0m2-1h0m-2 6h0m0-1h0m4-5h0m-8 2h0m0 2h0m2-4h0m-10 3h0m-1 3h0m3-4h0m0 1h0m2-3h0m-4 3h0m-5 0h0m-2 0h0m0-1h0m4 0h0m0 3h0m-2-1h0m0 2h0m0 0h0m-1 1h0m12 4h0m3-5h0m5 2h0m2 0h0m3 0h0m-1 1h0m2 2h0m6 0h0m-1-3h0m391 3h0m-1-2h0m-379 8h0m-5 0h0m2-2h0m-2-1h0m-2 3h0m-4 0h0m-2-1h0m-3 1h0m-6-3h0m1 0h0m-4 1h0m-2 0h0m-2 0h0m10 4h0m3 0h0m6 0h0m7 4h0m-3-4h0m-1 2h0m8 2h0m-2 0h0m5 0h0m0-1h0m-1 2h0m-2-1h0m1-1h0m378 2h0m-2 2h0m-384-1h0m5 4h0m-10-4h0m-4 0h0m2 3h0m-2-3h0m1 8h0m2-2h0m4 4h0m3-3h0m-1-2h0m-1 2h0m1 0h0m1-1h0m4 2h0m3 1h0m-3-4h0m381 3h0m-2 2h0m0 1h0m0 1h0m-3 4h0m-1 0h0m1-2h0m-5 2h0m-3 1h0m-366-3h0m2 2h0m-2-4h0m-1 3h0m0 1h0m-2-1h0m-5-2h0m1 4h0m-3-2h0m-9 1h0m1 2h0m4 4h0m3 1h0m-1-1h0m7-1h0m-1 0h0m6-2h0m3 0h0m-2 0h0m0 0h0m-3 1h0m369 6h0m-374 1h0m-3 2h0m-2-4h0m2 3h0m-7 3h0m-2 4h0m2-1h0m7-2h0m-3 2h0m11-1h0m0-1h0m-3-2h0m4 3h0m368 1h0m-9 5h0m-362-1h0m-1-1h0m-8-1h0m-2 3h0m-1 3h0m6 0h0m-2 0h0m-1 1h0m6 2h0m0-1h0m3-1h0m1 0h0m-5-1h0m3 5h0m3-5h0m-5 3h0m3-2h0m-1 1h0m1 7h0m-2 1h0m0-3h0m1 3h0m-2-3h0m1 3h0m1 0h0m0-1h0m-4 0h0m0 1h0m-1-1h0m-9-4h0m5 5h0m-1 0h0m-4-5h0m13 7h0m0 0h0m1 4h0m-2-4h0m3 4h0m0-4h0m0-1h0m360 8h0m-10 2h0m-4 1h0m1-1h0m2-1h0m-351-3h0m-1 1h0m0 0h0m-12 7h0m2-1h0m2 4h0m1-4h0m-1 1h0m-5 0h0m5 4h0m-5-4h0m11 2h0m-3-2h0m1 1h0m6 1h0m-2-3h0m2 1h0m-3-1h0m352 0h0m-2 2h0m0 0h0m-1 7h0m-1-1h0m-3 3h0m-1-1h0m0 0h0m4 0h0m-5 0h0m-342-3h0m0 4h0m-2-4h0m-1 3h0m-1-4h0m0-1h0m-1 2h0m2-2h0m0 4h0m-7-3h0m-2 3h0m-1-4h0m0 4h0m1 6h0m2 2h0m-3 0h0m8-3h0m0-3h0m0 1h0m343 4h0m0-3h0m-1 4h0m0 5h0m2-5h0m-2 3h0m0-2h0m0 3h0m0-1h0m-5 1h0m1 2h0m-5-1h0m-1 0h0m-325-3h0m1 4h0m-2-1h0m-4-3h0m-4 2h0m-3-4h0m3 3h0m-4-3h0m2 4h0m-1 1h0m-3 3h0m3 1h0m0-2h0m3 2h0m-4 1h0m5-1h0m10-1h0m-3 3h0m-1-3h0m0 2h0m3-1h0m-3 1h0m328 2h0m-1-4h0m0 7h0m-1-2h0m-1 4h0m-321 0h0m-2-1h0m2 2h0m0-2h0m-3-1h0m4 0h0m-1 0h0m-7-2h0m-8 2h0m1 1h0m-2-3h0m4 9h0m-4-2h0m2 1h0m-1 1h0m-1-3h0m9 2h0m-2 1h0m-1-1h0m6 2h0m0-1h0m315 2h0m1 2h0m-1-1h0m-306 2h0m-2 0h0m-4-2h0m-3 4h0m4-3h0m-2 3h0m3-3h0m-10 4h0m4 0h0m0-6h0m-1 0h0m-7 1h0m-1 2h0m-2 6h0m-1-2h0m2 4h0m8 0h0m-3-1h0m3 1h0m-2-1h0m2-4h0m2 3h0m4 0h0m2 0h0m5-3h0m0 6h0m-5-5h0m0 2h0m3 1h0m-2-2h0m0 2h0m311-3h0m-4 9h0m2-3h0m1 1h0m-1 0h0m-3 0h0m-7 1h0m2 0h0m-2 2h0m-287 1h0m-4-2h0m-2-3h0m0 4h0m-4 0h0m-7-2h0m2 1h0m-6-3h0m-6-1h0m-2 3h0m10 4h0m-1 0h0m3 4h0m3 0h0m-4-4h0m11 1h0m-3 3h0m7-2h0m-3 1h0m4 0h0m1-4h0m2 1h0m2 3h0m282 6h0m-1-1h0m2 1h0m-1-4h0m-8 3h0m-2-1h0m2 1h0m-2 2h0m-1-2h0m1 1h0m-268 1h0m-5-3h0m0-1h0m1 4h0m-3-2h0m3 1h0m0 1h0m-4-1h0m-3-3h0m-8 4h0m-6-3h0m0 3h0m1-3h0m2 3h0m1-3h0m-2-2h0m-2 0h0m-2 4h0m0 3h0m7 0h0m-6 0h0m0 4h0m4-2h0m-1-3h0m6 3h0m-3-2h0m3 2h0m-1-2h0m13 4h0m5-4h0m2 1h0m6-1h0m-3 0h0m1 4h0m-1-2h0m6 2h0m257-3h0m-1 5h0m-3 0h0m-2 3h0m-3-1h0m0-1h0m-11-1h0m-215 5h0m-9 0h0m-2-1h0m-6-1h0m3-1h0m0 2h0m-5 1h0m-3-5h0m3-1h0m0 5h0m0-2h0m-8 1h0m3 0h0m-2 2h0m3-2h0m-2-1h0m1-1h0m-1 2h0m-7-2h0m1 1h0m1 0h0m-8-2h0m-1 1h0m-1-2h0m-8 3h0m-4 0h0m2 0h0m0-2h0m-7 1h0m4-2h0m-3 2h0m10 5h0m0 0h0m5 0h0m-4 4h0m7-2h0m0-1h0m1-1h0m-2 1h0m1 3h0m0-5h0m-3 4h0m6-2h0m3 1h0m-1-2h0m-1 0h0m-1 1h0m9 2h0m-2-1h0m3 1h0m1-3h0m-1 2h0m2-2h0m-6 2h0m0-2h0m9 5h0m-1-6h0m-1 0h0m3 3h0m-4-1h0m4 2h0m2-4h0m2 0h0m2 4h0m-2 1h0m2-2h0m-4-2h0m2 3h0m0-2h0m3 1h0m2 2h0m2-2h0m-2-2h0m2 4h0m9-3h0m4 0h0m-3 0h0m6 0h0m8 3h0m0 1h0m3-2h0m5 1h0m5 1h0m0-1h0m181-3h0m-6 6h0m-1-1h0m-6 2h0m-2-2h0m3 0h0m-10 3h0m-1-1h0m-116 2h0m2-2h0m-5 3h0m-1-1h0m-7-2h0m-2-2h0m-1 3h0m1-1h0m-1 0h0m-6 3h0m4 0h0m-2-4h0m-4 1h0m4-2h0m-6 2h0m0 0h0m-2 1h0m3-2h0m-9 0h0m4-1h0m-5 4h0m-4-1h0m-1-2h0m-7 4h0m-3-2h0m0-4h0m-7 1h0m-1 3h0m-1-4h0m-6 4h0m0 2h0m5-6h0m-2 1h0m0 4h0m0-5h0m-5 2h0m1 3h0m-1 0h0m-3-4h0m-7 3h0m5 0h0m-1-3h0m1 1h0m-2 2h0m-6 0h0m-1-4h0m-3 3h0m-6 0h0m0-1h0m2-2h0m-8 0h0m3 4h0m-1 1h0m1-3h0m-1 1h0m2 2h0m-9 0h0m5 0h0m-5-3h0m2 1h0m-6 0h0m0 0h0m-3 2h0m-12-3h0m2-1h0m-1 1h0m0 0h0m15 9h0m1-1h0m-3 1h0m5-2h0m3 2h0m0 0h0m1 0h0m2-2h0m1-3h0m-1 0h0m6 3h0m2 3h0m2-3h0m1-3h0m-6 3h0m3 2h0m-3-3h0m11 4h0m6-3h0m-1-1h0m6 1h0m1-1h0m1 3h0m10-4h0m-1 0h0m-1-1h0m-1 6h0m0-4h0m2-2h0m3 6h0m1-3h0m8 2h0m3-1h0m-2-1h0m1 3h0m-1-4h0m2 2h0m3 2h0m3-6h0m2 6h0m3-2h0m12 2h0m0-6h0m-4 4h0m7-1h0m2-2h0m-1 1h0m-1 2h0m0-3h0m-2 3h0m4-3h0m-2 3h0m3 1h0m6-1h0m1-1h0m-6-1h0m3 2h0m0-2h0m1 3h0m2-3h0m2-2h0m-1 4h0m0-4h0m0 3h0m-1-2h0m2 1h0m-1 4h0m7-1h0m-1-2h0m112-2h0m-1 2h0m1 0h0m2 3h0m-5 1h0m-5 1h0m-17 0h0m-1-1h0m-7 5h0m4-5h0m-82-1h0m-4 2h0m1-1h0m-2 1h0m-7 0h0m0 4h0m2-6h0m-1 3h0m-7 2h0m-1 0h0m2-3h0m-2 2h0m3-3h0m-3 3h0m1-4h0m-2 5h0m-4-1h0m3-3h0m-10 2h0m1 1h0m-8-2h0m-4-1h0m1 4h0m-4-1h0m-8-1h0m0 1h0m-2-3h0m0 4h0m0-5h0m-4 4h0m0 0h0m-7-2h0m1 3h0m-5 0h0m1-4h0m-4 0h0m-12 5h0m2-1h0m-5 0h0m1 0h0m0-4h0m-4 2h0m-7-3h0m-6 1h0m1 2h0m1-3h0m-4 2h0m1-1h0m-3 1h0m4 0h0m16 10h0m0-4h0m3 2h0m3-2h0m1-2h0m1 6h0m-6-6h0m6 2h0m4 0h0m0 0h0m1-2h0m-3 3h0m6-1h0m2-1h0m-2 0h0m9 0h0m-2 0h0m8 2h0m0 0h0m9 3h0m2-5h0m6 0h0m-1 0h0m2 3h0m0 0h0m-2 1h0m1 0h0m5-1h0m2-3h0m-2 1h0m3 1h0m-4-1h0m7 3h0m6 0h0m0-3h0m0 1h0m-1 1h0m3 1h0m0-5h0m3 1h0m2 5h0m3-4h0m2-2h0m3 2h0m-1 3h0m0 0h0m-2-2h0m5 1h0m-2 0h0m0-1h0m43 3h0m42-4h0m-6 5h0m1 1h0m-4 0h0m-7-2h0m-1 0h0m-6 2h0m-8-1h0m-1 1h0m-4 0h0m-2-1h0m-6-1h0m-5 2h0m-17 0h0m2 0h0m-3 0h0m-2 0h0m0-1h0m-16 1h0m-8-1h0m-4 1h0m0 1h0m4-2h0m-4 0h0m-4 2h0m3-2h0m-27 1h0m0-1h0m-3 0h0m-3 0h0m-7-1h0m1 1h0m-2 1h0m-3 0h0m-1 1h0m3 0h0m-12-3h0m-3 1h0m-2 1h0m0 0h0m-4 0h0m1 0h0m-1-2h0" stroke="#1f77b4" stroke-width="3.1" stroke-linecap="round" fill="none" opacity="0.72"/>
<path d="M464 168h0m-31 0h0m-6-1h0m-19 1h0m-38 0h0m-10 3h0m7-1h0m3 3h0m8 0h0m-5-2h0m1 3h0m7-4h0m2 3h0m0-1h0m-3-1h0m3-2h0m-3 3h0m6 1h0m0-5h0m2 4h0m-2-4h0m4 4h0m4 0h0m-1 1h0m1 0h0m-4-1h0m9-2h0m-1-1h0m1 0h0m2 4h0m-3 0h0m7-3h0m1 2h0m8 0h0m-4-3h0m2 3h0m-1-2h0m1-1h0m-1 5h0m7-4h0m-4 3h0m5-1h0m-1 1h0m2-1h0m-3 0h0m1 0h0m1-2h0m4 2h0m8-1h0m-2-1h0m-2 4h0m7-5h0m2-1h0m6 1h0m7 1h0m-4-1h0m14 1h0m40 9h0m1 1h0m-5-1h0m-2-2h0m0 0h0m-1 1h0m-4 1h0m1-1h0m-11 0h0m0-1h0m-5 0h0m-5 2h0m-4-1h0m0 1h0m-1-4h0m4 3h0m-37-3h0m1 3h0m0 0h0m-2-2h0m2 2h0m-2-1h0m-8-3h0m0 0h0m0 3h0m-5 1h0m0 1h0m-2 0h0m4-3h0m0-1h0m1 4h0m-1 1h0m1-5h0m-1 4h0m-3 0h0m-1-3h0m0 3h0m-3-2h0m-4 1h0m-2-2h0m1-1h0m-1 1h0m-8 4h0m4-1h0m-5-1h0m0-3h0m-1 4h0m-5-1h0m2-3h0m3 4h0m-6-1h0m-4 1h0m0-1h0m2-3h0m3 3h0m-8-1h0m-2 0h0m3-3h0m-2 3h0m-6 1h0m-1-3h0m3-1h0m-4 6h0m-4-4h0m1 3h0m-6-1h0m-6 2h0m-15 0h0m-1-3h0m1 1h0m-7 1h0m-2 0h0m-1-2h0m-8 1h0m2 5h0m0 2h0m-1-1h0m9 1h0m6-3h0m0 2h0m-1-1h0m5 2h0m1-4h0m0 4h0m4-1h0m-2 0h0m4 0h0m-1 2h0m5 0h0m4-1h0m-6 0h0m3-2h0m3 3h0m5-3h0m-3 3h0m0-3h0m-2-2h0m2 4h0m1 0h0m-3-5h0m12 5h0m-5 0h0m10-3h0m-5 1h0m1 3h0m9-2h0m13-3h0m1 3h0m5-1h0m-5 2h0m12-1h0m0 0h0m-1-1h0m0-1h0m-4 0h0m10 0h0m-3 2h0m10-3h0m5 1h0m-3 2h0m6 2h0m3-4h0m0-2h0m0 4h0m-2-4h0m69 4h0m2 0h0m-1 3h0m-72 0h0m4 1h0m-1 1h0m1-3h0m0 0h0m-13 1h0m-3 0h0m-1 0h0m5-1h0m-8 4h0m2-1h0m1 0h0m-18-3h0m2 4h0m0-2h0m-6 2h0m3-1h0m0-2h0m1 1h0m-7-1h0m-9 4h0m-1-4h0m2 2h0m-2 1h0m-4-2h0m-1 3h0m0-2h0m-1 3h0m-4-5h0m-2 3h0m5-3h0m-8 5h0m-1 0h0m-2-5h0m2 0h0m-3-1h0m-1 0h0m-3 5h0m0 0h0m-7 0h0m0-1h0m3-3h0m-4-1h0m-1 5h0m-5-1h0m4-4h0m-1 5h0m-9-4h0m1 4h0m3-4h0m-3 0h0m-3-1h0m2 0h0m-1 2h0m-9 3h0m0-2h0m3 3h0m1-2h0m-7 1h0m-2-1h0m1 2h0m-8-2h0m1 2h0m-15 2h0m1 3h0m3 0h0m2 1h0m4-1h0m-3 0h0m3-1h0m4-2h0m2-1h0m-4 1h0m12 2h0m-1-3h0m-2 1h0m2 0h0m0 3h0m-1-2h0m5-3h0m-1 5h0m10-3h0m-3 3h0m3-3h0m1 4h0m1-1h0m0 1h0m2 0h0m0-1h0m0 0h0m4-1h0m1 0h0m8-4h0m-5 5h0m4 0h0m5-3h0m2 1h0m6-1h0m15-2h0m135 1h0m-2-1h0m9 4h0m9 7h0m2 0h0m-7 1h0m-4-3h0m-2 1h0m-184-4h0m4 1h0m-8 2h0m3-1h0m0 1h0m-11-2h0m-4 1h0m1 0h0m0 0h0m-14-1h0m2 0h0m3 1h0m-5-1h0m1-1h0m-2 2h0m-3 0h0m1 4h0m-3-6h0m-4 5h0m-3 0h0m-2 0h0m-13 0h0m-2-1h0m2 2h0m3 3h0m5-3h0m7 6h0m-3-5h0m1 0h0m2 4h0m-1-5h0m3 3h0m4 0h0m-2-1h0m4 4h0m4 0h0m4-2h0m-4 2h0m0-2h0m1-1h0m1 2h0m220-5h0m31 12h0m-7 0h0m5 0h0m-4-2h0m2 1h0m-1 0h0m-1 0h0m-1 0h0m-11 0h0m-7-2h0m0-1h0m1 3h0m3 0h0m-232-5h0m-5 2h0m-1 1h0m-5-2h0m-1 2h0m6-1h0m-6 0h0m0-1h0m-4 1h0m2 4h0m0-3h0m0-2h0m1 0h0m-10 3h0m0-1h0m4 1h0m-3-1h0m-7 0h0m-1 0h0m3 0h0m1-2h0m-7 4h0m-8 0h0m1 0h0m3 1h0m-7-2h0m-2 1h0m-4 0h0m-2 0h0m13 5h0m1-3h0m0 4h0m-4-4h0m2 0h0m8 4h0m-1-2h0m1-2h0m4 4h0m1-4h0m3 1h0m5 0h0m1-1h0m1 0h0m269 2h0m-1 0h0m0 1h0m8 7h0m1 0h0m-3 0h0m-5-4h0m-1 1h0m-284 1h0m0-3h0m0 1h0m0 1h0m1-1h0m-7-1h0m2 3h0m-1-3h0m-3 5h0m0 0h0m1-4h0m1 1h0m-3 2h0m0 0h0m-6-1h0m-1-1h0m-1 3h0m-9 0h0m2 0h0m2 0h0m-7 5h0m-1 0h0m0 2h0m0-3h0m5 1h0m0-1h0m-2 0h0m3 2h0m0-4h0m8 0h0m-2 0h0m-1 2h0m0-1h0m1 1h0m5-1h0m3 3h0m306-5h0m12 9h0m-10 2h0m1-1h0m0 0h0m-317 0h0m-9 1h0m3-4h0m-2 5h0m3 0h0m-3-5h0m-6 1h0m-1 2h0m1-3h0m3 1h0m-4 4h0m4-4h0m-7 4h0m2-2h0m0-1h0m-7 0h0m-3 4h0m7 1h0m2-1h0m4 0h0m1 3h0m1-2h0m-4 2h0m341 0h0m1-4h0m0 9h0m-3-3h0m2 1h0m-344 4h0m0-5h0m1 2h0m-8 3h0m0 0h0m3-2h0m-7 1h0m-7 1h0m-1 0h0m2 2h0m7 0h0m0 5h0m-5-2h0m4 0h0m8-4h0m-4 1h0m1-1h0m2 4h0m-3 1h0m2-1h0m357 5h0m2 2h0m0 1h0m1-3h0m-5 0h0m-2-2h0m2 2h0m-358 0h0m-6 1h0m1 1h0m-1 0h0m3 1h0m-3-4h0m-4 3h0m1 0h0m-3 0h0m-1 0h0m-9 1h0m2 5h0m5 0h0m-4 0h0m4-5h0m-2 2h0m1 4h0m3-5h0m-1 4h0m1-1h0m-2-3h0m4 0h0m1 2h0m-1-1h0m2 0h0m3 0h0m367 3h0m1-2h0m0-3h0m0 0h0m11 11h0m3 1h0m-5-3h0m4 0h0m0 0h0m0 2h0m-6-2h0m-3-1h0m-2 0h0m1 0h0m-1 0h0m-373 0h0m-4 2h0m-2 0h0m0-2h0m0 3h0m-9 0h0m2 1h0m-2-1h0m5 3h0m-4-1h0m1 0h0m1 2h0m-2-2h0m3 5h0m-3 0h0m-1-5h0m4 1h0m4 1h0m-7 5h0m2 4h0m-1-2h0m-8 2h0m0-2h0m4 1h0m-9 0h0m1 5h0m0 1h0m-1 0h0m5-1h0m6 2h0m3-6h0m-2 3h0m1-1h0m-2 0h0m400 1h0m0 3h0m9 2h0m2-1h0m1 3h0m-14-1h0m1 1h0m1-2h0m-402-1h0m-1 3h0m-4 1h0m-3-3h0m1 4h0m-1-3h0m1-2h0m0 4h0m-2-4h0m1 5h0m0-3h0m3 0h0m-4 5h0m2 3h0m1-2h0m2-1h0m1-1h0m416 0h0m-1 5h0m0-1h0m2 4h0m-2-2h0m0 2h0m1-2h0m-1-1h0m-417 3h0m0 2h0m-2 0h0m-1 2h0m-2 8h0m-4 0h0m-2-1h0m-5 0h0m3 4h0m-3-3h0m3 6h0m3-3h0m6 4h0m0-4h0m-1 2h0m-1 4h0m0-2h0m424-2h0m11 9h0m-3-5h0m2 1h0m-1 3h0m1-2h0m2 3h0m-9-5h0m3 3h0m-438 0h0m2 3h0m-2 3h0m-2 1h0m4 2h0m-2-5h0m10 2h0m433 4h0m0 2h0m-2 3h0m2-3h0m0 1h0m0-2h0m-432 1h0m-2-2h0m2 5h0m-1-3h0m2 0h0m-10 1h0m3-3h0m-1 0h0m-5 1h0m2-2h0m1 4h0m-3 2h0m1 6h0m1-1h0m8 0h0m4-2h0m431 2h0m-1 3h0m-2 0h0m-427 3h0m-5-3h0m0 1h0m3 0h0m-8-1h0m2 2h0m-1 1h0m1-3h0m-3 3h0m-1-1h0m-2 2h0m1 2h0m7-1h0m-1 3h0m0-1h0m-2-3h0m0 5h0m6-1h0m-1-2h0m-1 1h0m6 2h0m427-5h0m2 6h0m0-1h0m-1-3h0m-1-1h0m9 5h0m-5 0h0m2-1h0m-2 0h0m8 3h0m1 2h0m-8-3h0m-3 0h0m-422 4h0m-7-2h0m-1 1h0m2-2h0m4 0h0m-1 1h0m-7-2h0m8 7h0m-5 0h0m4 1h0m-1 2h0m436-3h0m0-1h0m0 1h0m-1 8h0m1-3h0m-432 4h0m-6-2h0m-1 2h0m-1-2h0m-3-2h0m2 6h0m-1 0h0m2 1h0m1-2h0m3 4h0m5-3h0m10 3h0m1-4h0m-1 3h0m422 1h0m-1 0h0m0 5h0m0 1h0m-405 1h0m-2 1h0m-8 0h0m4-4h0m-5 4h0m-3-5h0m-2 0h0m2 1h0m-3 2h0m-2-1h0m0-2h0m-6 4h0m1 4h0m-2-2h0m8 2h0m6-1h0m0-1h0m-1 4h0m3 0h0m-1 1h0m6-1h0m-6-3h0m0 4h0m10-3h0m-3 1h0m2-2h0m8 1h0m0-1h0m-1 1h0m2 1h0m1-2h0m0-1h0m6 2h0m3 1h0m4-1h0m0 2h0m1-2h0m2 2h0m5-1h0m0-3h0m-2 0h0m379 3h0m13 0h0m-388 5h0m-6-3h0m2 2h0m3 3h0m-7-5h0m0 3h0m1 1h0m-10-3h0m-3 3h0m-2-1h0m2-2h0m1 3h0m1-1h0m-9 1h0m3 1h0m-7-4h0m-8 2h0m0-3h0m-5 4h0m0-2h0m1 0h0m14 10h0m7-5h0m2 0h0m1 1h0m4 1h0m3 3h0m-4-5h0m2 0h0m5 5h0m1-1h0m-3-4h0m6 4h0m2 0h0m1-2h0m388 1h0m-402 6h0m1-1h0m0-1h0m2 2h0m-9 1h0m4-2h0m-5-2h0m3 0h0m-1 5h0m-6-4h0m-2 1h0m-2-1h0m-1 3h0m0 3h0m1 0h0m2 3h0m4 0h0m0-4h0m-2 4h0m8-2h0m-4 2h0m0-1h0m11 0h0m397 0h0m1-2h0m2 8h0m-1-4h0m-1 4h0m-402 0h0m1-3h0m-7 4h0m1 0h0m3-4h0m-3 3h0m-1 0h0m-1 1h0m1 0h0m-6-4h0m2 0h0m-4 1h0m4 1h0m-6 2h0m-1-1h0m1-4h0m-1 11h0m-1-3h0m4 1h0m4 2h0m-1-4h0m1 5h0m-4 0h0m3-2h0m6-2h0m407-1h0m-410 8h0m-5 0h0m3-1h0m-4 3h0m1-1h0m-3-3h0m-1 0h0m-1 2h0m1-2h0m0 10h0m3-2h0m3-3h0m-1 1h0m0 0h0m426 1h0m0-1h0m-1 8h0m-424-3h0m-1 5h0m1-2h0m-4 0h0m-3 1h0m2-1h0m-14 8h0m9-3h0m5-2h0m0 1h0m-4 0h0m5 2h0m3 0h0m-1 2h0m1-1h0m-1-2h0m0 3h0m0-2h0m427 2h0m-1-4h0m0 8h0m2 1h0m-431-4h0m2 4h0m-4 1h0m4-4h0m0 3h0m-4-1h0m-5 3h0m-5-4h0m1 0h0m0 4h0m-2-1h0m2 0h0m0 6h0m-2 1h0m0-1h0m8-3h0m-1-1h0m-3 2h0m1 2h0m4 0h0m2-4h0m431 2h0m1-1h0m-1-1h0m1 1h0m1 2h0m0 6h0m0-1h0m-433-1h0m1 2h0m-2-3h0m-1 2h0m3 1h0m-8-1h0m5 1h0m-5 1h0m1-2h0m3-2h0m0-1h0m-6 1h0m-2 0h0m-1 10h0m0 0h0m4-5h0m-3 4h0m8-1h0m-5 3h0m4-5h0m-4 0h0m5 1h0m-5-1h0m7 2h0m2 1h0m430 1h0m1-3h0m-1 6h0m-430 3h0m0 1h0m1 0h0m-3-4h0m2-1h0m-1 2h0m-3 2h0m-3-1h0m3 0h0m-7-1h0m2-1h0m-2 2h0m-1-3h0m-1 8h0m5 2h0m3-1h0m6-3h0m-1 5h0m432-1h0m-2-3h0m2 8h0m-1-1h0m1-2h0m-2 3h0m-432-3h0m0 1h0m1 2h0m-1-3h0m2 0h0m-3 2h0m5 2h0m-11-4h0m4 1h0m-8-1h0m0 4h0m4-4h0m3 7h0m6-2h0m3 4h0m-3-2h0m431 3h0m-1 2h0m-428 4h0m-4-2h0m2 7h0m1-3h0m-2 4h0m2-5h0m-2 1h0m431 2h0m9 1h0m1 0h0m-3-1h0m-1 1h0m5 0h0m0 7h0m-436-1h0m-2 0h0m0-2h0m-1 2h0m-1-2h0m0 0h0m-3 4h0m1-1h0m2-2h0m0 0h0m2-2h0m-1 7h0m-2-1h0m4-1h0m4 1h0m-1 0h0m-1 3h0m2 1h0m-1-4h0m437 5h0m-433 3h0m-2-3h0m-1 1h0m-4 2h0m-1-1h0m-1 2h0m-1-1h0m0-1h0m-1 2h0m3 4h0m-1 1h0m0 0h0m-3 1h0m2-2h0m4 4h0m9-3h0m-3-3h0m2 4h0m0 2h0m430-4h0m0 3h0m1-5h0m-2 8h0m-426 2h0m0 2h0m-6 0h0m1 0h0m2-3h0m-9-2h0m-5 4h0m1-2h0m0 0h0m-1 3h0m2-1h0m-2 2h0m0 0h0m0 1h0m0 0h0m8-1h0m-1 0h0m7-1h0m-2 1h0m3 0h0m-5 2h0m5-3h0m0 1h0m0 0h0m4 2h0m2 0h0m-1 3h0m-3-1h0m5 0h0m421 4h0m0 2h0m-413 1h0m-7-4h0m-1 2h0m2 2h0m3-2h0m-3 1h0m-8-4h0m0 0h0m0 4h0m3-2h0m-8 0h0m0-1h0m4 3h0m-5 6h0m8 0h0m1-1h0m0 1h0m0 0h0m7-3h0m0 1h0m0 3h0m-4 0h0m7-5h0m1 0h0m2 2h0m-1 1h0m-1-3h0m413 5h0m1 4h0m-415-3h0m-4 3h0m1-4h0m-1 2h0m2 0h0m-9 0h0m-5 1h0m-2-2h0m4 5h0m-2-5h0m9 8h0m4 2h0m2-4h0m3 5h0m0-3h0m6-3h0m-2 3h0m0-3h0m3 2h0m2 9h0m-3-5h0m-6 1h0m1 2h0m-9-3h0m3 4h0m13 6h0m-3 2h0m0-5h0m13 1h0m-2-1h0m1 4h0m4-1h0m2 1h0m-2 0h0m390 7h0m-381-5h0m-8 4h0m-1-5h0m0 2h0m-8 1h0m-1-1h0m2 0h0m-3 0h0m-7 2h0m-1 1h0m16 3h0m4-2h0m10 1h0m-5 1h0m4 1h0m2-2h0m3 4h0m2 0h0m373 4h0m0-1h0m-374-1h0m-8 2h0m-2 2h0m-8-2h0m-4 1h0m5-2h0m-5 8h0m2 1h0m0 0h0m8-2h0m0 1h0m-2 2h0m-3-4h0m1 3h0m8-3h0m6 2h0m2-3h0m3 3h0m373-2h0m-1 1h0m0 1h0m0 2h0m-2 5h0m-5-1h0m-1 0h0m-5 0h0m2 0h0m-363 0h0m0-2h0m-5 4h0m2-1h0m-7-1h0m4 1h0m-1 1h0m0-1h0m-14 4h0m1 0h0m2-1h0m-3 0h0m-1 0h0m2-1h0m3 0h0m8 1h0m-1 2h0m9-2h0m-1-1h0m0 3h0m365 5h0m0-1h0m-2 1h0m-364-1h0m-2 3h0m-6-5h0m-1 2h0m-6 3h0m6-1h0m0-3h0m-2 3h0m-5 1h0m-3 2h0m0 4h0m3 0h0m-1 0h0m0-1h0m4-1h0m-2 1h0m1-3h0m2 5h0m1-3h0m8 1h0m-4 1h0m3-4h0m-4 4h0m0-5h0m1 6h0m-1-3h0m4 1h0m368 2h0m-3 6h0m-4 0h0m-2 0h0m0-1h0m-360-2h0m2 3h0m-10-2h0m-5-2h0m2 4h0m0-2h0m-5 2h0m3-1h0m-2 3h0m9 4h0m-1 0h0m3-2h0m5-2h0m-1 3h0m359-3h0m12-1h0m-10 7h0m-2 1h0m-359 1h0m0 1h0m-4-4h0m-12 1h0m2 2h0m3 0h0m-2-2h0m0 1h0m12 4h0m0 2h0m1 1h0m359-3h0m0 8h0m1-2h0m-11 4h0m-352-4h0m2 4h0m-1-3h0m1 0h0m0-2h0m-10 9h0m-1 2h0m-1-2h0m0 3h0m-1-3h0m0-3h0m3 6h0m5 0h0m-3-4h0m3 1h0m1-1h0m1 3h0m-1-3h0m-3 2h0m354-2h0m-3 7h0m-2 2h0m-1-1h0m-1 1h0m2 0h0m-5-2h0m-1 1h0m0 0h0m-337 0h0m-3 1h0m-4-2h0m2 2h0m0-5h0m1 5h0m-2-4h0m-5 2h0m3-1h0m-3 8h0m0-4h0m-2 4h0m0 1h0m5-4h0m2 1h0m0 0h0m344 4h0m-2-6h0m0 4h0m2 1h0m-2-4h0m-2 11h0m4-6h0m0 2h0m-6 2h0m1 2h0m-3-1h0m0-2h0m-3 3h0m-327-2h0m-5-4h0m3 3h0m-10-2h0m3 1h0m-1 3h0m2 4h0m-3 0h0m1-2h0m-3 0h0m9 2h0m-3-1h0m8 2h0m0 0h0m-1 1h0m0 1h0m1-2h0m2-1h0m1 0h0m323 2h0m-1 0h0m-1 4h0m1 1h0m-10 1h0m-1-2h0m-311-2h0m-3 0h0m1 0h0m-1 4h0m-2-3h0m3 2h0m0 0h0m-1-1h0m1-1h0m-10 2h0m1 2h0m-3-3h0m-1 0h0m2 7h0m-1-1h0m2-2h0m0 0h0m-2 2h0m2 1h0m0-2h0m-6 1h0m5-2h0m2 1h0m2 1h0m1 1h0m0 0h0m2-2h0m4 3h0m-2 0h0m4 0h0m311 4h0m0-1h0m-311-1h0m1 0h0m3 3h0m-1-1h0m-8 2h0m4-2h0m-1-1h0m1 0h0m-5-1h0m3 1h0m3-1h0m-2 0h0m-3 4h0m-2-1h0m-5-3h0m0 10h0m-5 1h0m-1-1h0m8-3h0m-1 1h0m3 2h0m2-1h0m2 0h0m2-2h0m1 2h0m0 0h0m0 1h0m-1-2h0m2 2h0m312-1h0m0 3h0m-13 4h0m0-1h0m-289 0h0m-9 2h0m3-5h0m-1 2h0m-3 2h0m-6-5h0m4 6h0m-2-1h0m-8-4h0m2 0h0m-5 1h0m8 9h0m2-4h0m0 2h0m4 1h0m-4 1h0m0 0h0m2-2h0m-1-2h0m-1 3h0m7-3h0m4 1h0m-6-2h0m2 3h0m-1-3h0m2 4h0m0 1h0m8-3h0m-1 4h0m2-2h0m3 1h0m0 0h0m285-5h0m-3 5h0m-8 4h0m-271-2h0m0 4h0m1-1h0m-3-3h0m-3-1h0m2 5h0m0-3h0m0-1h0m0-1h0m-7 0h0m-2 5h0m-1-3h0m-2 2h0m-8-2h0m1 2h0m3-4h0m-5 12h0m-1-6h0m4 0h0m3 0h0m-2 3h0m14 3h0m-2-1h0m2 0h0m-1-3h0m1-2h0m0 5h0m12 1h0m-3 0h0m0 0h0m-3-1h0m270-3h0m-1 4h0m-1-2h0m0-1h0m-2 6h0m3-2h0m-8 3h0m-3-1h0m2 1h0m-14 0h0m0 0h0m-2 0h0m-224 0h0m2 2h0m0-1h0m-2 0h0m-5-3h0m-3-1h0m5 1h0m-1-1h0m-3 0h0m-5 2h0m-7 0h0m2 2h0m-1-4h0m-1 1h0m-6 3h0m2-5h0m0 4h0m0-1h0m-5 0h0m1 0h0m-3 3h0m2-5h0m-1 1h0m-5-1h0m0 1h0m1 2h0m-7-4h0m2 0h0m-5 1h0m3 0h0m7 10h0m1-2h0m-1-3h0m2 5h0m1-4h0m3 4h0m1-3h0m-5 1h0m6 0h0m4 1h0m-4-1h0m1 0h0m7 1h0m0-4h0m2 4h0m6-1h0m-1 2h0m-3-4h0m5 1h0m-6 2h0m8 2h0m1-3h0m-3-1h0m12 3h0m-6-1h0m1 0h0m0-3h0m8 3h0m1-1h0m-3-1h0m6-1h0m4 3h0m-1 2h0m-3-4h0m5-1h0m4 2h0m4 1h0m0-1h0m3 2h0m5-2h0m-1 3h0m10-1h0m21 1h0m162-3h0m-6 5h0m-4 1h0m5 0h0m-6-2h0m-6 1h0m-6-1h0m-112 1h0m-5-1h0m1 4h0m1-3h0m-8 1h0m3 3h0m-9-3h0m1-1h0m0 3h0m-4-1h0m0 1h0m-4-3h0m-6-2h0m0 4h0m-1-3h0m3 1h0m0 3h0m-9-1h0m5 2h0m1-5h0m-2 5h0m2-2h0m-12 1h0m5 0h0m-10-2h0m-9 2h0m-2-1h0m0-1h0m-3 2h0m-1-1h0m-3-2h0m4 2h0m-4 1h0m3-1h0m-5-3h0m-1 2h0m-3 0h0m-4 1h0m2-1h0m-3 0h0m1-2h0m0 1h0m-1-2h0m3 3h0m0-1h0m-5 0h0m-7 2h0m1-3h0m-5 3h0m0 1h0m-5-3h0m0 3h0m2-2h0m2 0h0m-11-2h0m2 0h0m-4 3h0m-2 1h0m3-1h0m-7 8h0m0-5h0m3 3h0m1-3h0m2 0h0m1 2h0m5-3h0m0 1h0m-4 5h0m10-6h0m-4 5h0m2 1h0m7-2h0m1-3h0m-5 0h0m8 3h0m1 1h0m3-2h0m-5-1h0m3 4h0m6-3h0m-1 2h0m1-1h0m4-2h0m5-1h0m1 0h0m8-1h0m-1 5h0m1 1h0m6 0h0m1-1h0m-2-3h0m6 1h0m2-1h0m4 3h0m-3 1h0m0-6h0m9 3h0m0 2h0m-3 1h0m11-1h0m-3-4h0m6 2h0m2 1h0m4 0h0m6-4h0m5 3h0m5 1h0m-6-2h0m0 1h0m2 2h0m115 3h0m-7-1h0m-2 2h0m0-3h0m-12 1h0m5-1h0m-4 2h0m2-2h0m1 2h0m-2 1h0m-5-1h0m-2-1h0m-4 1h0m-84-1h0m3 0h0m-4 3h0m-2 2h0m-9-4h0m2 2h0m-3 2h0m-3-5h0m-2-1h0m1 4h0m-6-4h0m0 5h0m1-1h0m-5-3h0m4 1h0m-9 2h0m0 1h0m-2-1h0m-2-2h0m0 3h0m2 1h0m-3 0h0m0-1h0m1-1h0m-1 0h0m-4-2h0m0 4h0m-2-3h0m-1 0h0m-2 1h0m-2-2h0m0 3h0m-11-3h0m-9-2h0m4 0h0m-3 6h0m-2-1h0m-2-1h0m-1-3h0m2 1h0m-5 2h0m-5 1h0m3-2h0m-3 3h0m-3-4h0m-8 0h0m3 1h0m-6-3h0m-2 2h0m15 6h0m1-2h0m11 2h0m-5 0h0m9 3h0m0-2h0m-2 0h0m7 3h0m2-5h0m1 4h0m-4-4h0m2-1h0m2 4h0m0-2h0m4 4h0m0 0h0m-3-1h0m2 1h0m2-5h0m5 3h0m-3 2h0m10-6h0m3 5h0m-2-5h0m10 3h0m1-1h0m6-1h0m-2 3h0m1-3h0m3 5h0m0-1h0m3-3h0m-1-1h0m2 4h0m1-4h0m3 0h0m0 0h0m1 0h0m7 1h0m-4-2h0m9 1h0m-1 2h0m-2 1h0m7-1h0m0-1h0m39 4h0m36-1h0m0 2h0m0 1h0m-4 0h0m-3-1h0m-5 1h0m-4-2h0m4 2h0m-7-2h0m2 0h0m-11 1h0m1 0h0m0 0h0m-3 0h0m-2 0h0m2 1h0m-13 0h0m-1-1h0m0 0h0m-8-1h0m-1 0h0m-11 3h0m-3-3h0m1 1h0m-6 1h0m-15 0h0m2-1h0m-9 0h0m1-1h0m-4 1h0m-2 1h0m4-2h0m0 2h0m-4 0h0m0-1h0m3 1h0m-11-1h0m-11 2h0m3-2h0m-4 1h0m2-1h0m2 0h0m0 0h0m-6 0h0m-10 1h0m-1 0h0m0-1h0m-6 2h0m-14-3h0m-4 2h0m-3 0h0m-1 0h0m1-1h0" stroke="#1f77b4" stroke-width="3.1" stroke-linecap="round" fill="none" opacity="0.72"/>
<path d="M444 168h0m-29-1h0m-6 1h0m-1 0h0m-1 0h0m-27-1h0m-16 6h0m-2-2h0m16 3h0m6-3h0m-4-1h0m2 1h0m2-2h0m-5 2h0m4 1h0m-2-3h0m9 2h0m-4 2h0m0-5h0m4 4h0m-6 0h0m5-3h0m-1-1h0m-2 2h0m11-2h0m3 2h0m0 4h0m3-5h0m5 1h0m0 1h0m3-2h0m1-1h0m-1 1h0m-1 1h0m3-2h0m-1 4h0m1 0h0m-4-1h0m7 1h0m-1-1h0m1-2h0m6 5h0m1-5h0m5-1h0m3 5h0m1 0h0m2-5h0m2 2h0m1-2h0m-5 5h0m2-3h0m10-1h0m-1 0h0m5-1h0m3 0h0m8 0h0m32 9h0m-6 2h0m-1-2h0m-22-2h0m4 3h0m-1 1h0m-2 0h0m-1-1h0m-31-3h0m-2 3h0m3 0h0m-4 1h0m2-2h0m-1 2h0m0 1h0m0-4h0m-2 3h0m-4-1h0m1-1h0m-1 1h0m1-2h0m-9-1h0m4 4h0m1-4h0m-2 5h0m-2-3h0m1 3h0m2-4h0m0-2h0m-5 2h0m-5 3h0m-5-3h0m2 1h0m1-2h0m-8 1h0m0 4h0m0-4h0m-1 0h0m-8-1h0m4 3h0m2 1h0m-10-3h0m0 2h0m-2 0h0m-10-3h0m1 3h0m1 0h0m-2 2h0m-12-1h0m2-2h0m-7 0h0m-19 0h0m-6 2h0m2-2h0m-7 2h0m0 1h0m-2 4h0m2-1h0m3 2h0m1-1h0m7-1h0m0 2h0m3-5h0m-1 1h0m8 5h0m-1-1h0m0 0h0m6-1h0m-3-1h0m0 0h0m7-1h0m2 1h0m-4 0h0m4 2h0m-2 0h0m6-4h0m2 4h0m4-3h0m-1-1h0m1 0h0m1 2h0m-2-1h0m1-2h0m15 2h0m-3-2h0m1 3h0m12 0h0m1-1h0m0 1h0m5 2h0m-3-1h0m1-2h0m0 0h0m0-2h0m1 2h0m7 1h0m0 1h0m0 0h0m1-3h0m3 5h0m8-4h0m-3 0h0m2 1h0m0-1h0m3-1h0m3 1h0m-1 1h0m0 2h0m6 0h0m1-3h0m-2 3h0m4-2h0m-2-1h0m-2-1h0m72 2h0m0-1h0m7 9h0m-76-3h0m-3-1h0m5 0h0m-8 1h0m0-1h0m-7 1h0m2-2h0m-4 1h0m4 1h0m-3 1h0m0-3h0m1 3h0m-4-2h0m0 0h0m-1 2h0m1-3h0m-7 0h0m-3 2h0m-7 2h0m2-2h0m-7 3h0m5-1h0m-2-1h0m1-2h0m-9 1h0m1-2h0m-2 1h0m1 2h0m-4 1h0m-4-2h0m0 0h0m1 2h0m4-2h0m-8 0h0m-2-1h0m1 5h0m-1-5h0m-4 0h0m2 0h0m-2 2h0m0-3h0m-2 5h0m0-2h0m4 2h0m-2-1h0m-1-3h0m-5 3h0m0 1h0m1-3h0m-1-1h0m2 0h0m-8-1h0m0 2h0m-1 0h0m0 2h0m-1 0h0m0-1h0m4-2h0m-3 3h0m0 1h0m0-3h0m-4-1h0m-1 5h0m-1-5h0m-1 0h0m-1 3h0m-1 2h0m-3-3h0m1-3h0m-3 6h0m3-3h0m2 2h0m-5-3h0m-11 1h0m5-1h0m-8 3h0m-2 0h0m4 0h0m-1 0h0m-2 0h0m-13-1h0m-1 0h0m-11 1h0m2 5h0m-2 2h0m0-2h0m4 1h0m3 0h0m4-2h0m10-1h0m-3-2h0m1 5h0m8-5h0m-4 6h0m2-3h0m2 1h0m1-4h0m-4 2h0m7 0h0m-2 4h0m3-6h0m2 2h0m-2 3h0m-2-1h0m7-4h0m-2 2h0m4 3h0m-5-4h0m5 5h0m-4-1h0m10 1h0m6-3h0m1-1h0m-6-1h0m4 4h0m0-4h0m-3-1h0m8 2h0m-2 2h0m10-3h0m0 1h0m3 0h0m-1 0h0m8-1h0m5-1h0m128 1h0m1-1h0m1 0h0m23 12h0m-2 0h0m-10-4h0m-176-2h0m-1 0h0m-5 0h0m0 0h0m-2 2h0m-6-2h0m-4 6h0m0-5h0m-1 4h0m1-4h0m1 2h0m1 1h0m-10-1h0m-1-1h0m2 3h0m-1 0h0m0 1h0m3-3h0m-4 3h0m-4-4h0m4 3h0m-5-2h0m-4 2h0m-1-4h0m-3-1h0m0 4h0m-1-1h0m-2-1h0m-1 0h0m-5 2h0m0 2h0m0-1h0m-4 0h0m-5 0h0m-6 0h0m-2-1h0m-1 5h0m1 1h0m9 2h0m-3-1h0m2-4h0m4-1h0m-2 1h0m3 4h0m2-2h0m-5-1h0m2-2h0m6 1h0m0 1h0m2-1h0m0 3h0m5-1h0m-3 1h0m1 1h0m6-2h0m3-1h0m-3 0h0m3-1h0m-4-1h0m5 3h0m-5 1h0m10-3h0m-2 1h0m217 4h0m-3-6h0m4 2h0m1 3h0m22 5h0m-3 0h0m1 2h0m3-1h0m-3 1h0m-3 0h0m-11-1h0m-3 0h0m-3 0h0m-232-3h0m0 0h0m-5-2h0m-1 1h0m0 2h0m1-2h0m-2 2h0m-3-1h0m0 0h0m0-1h0m-4 5h0m-3-4h0m3 3h0m-8-3h0m-9 3h0m-5 0h0m-5 0h0m-2 1h0m-1 0h0m-4 3h0m0-1h0m1 2h0m3 0h0m1-1h0m4 0h0m0-1h0m1 2h0m4 0h0m-1-3h0m-1 5h0m1-2h0m0-1h0m7-1h0m-2 3h0m0-3h0m2 3h0m7-3h0m-1-1h0m-2 4h0m5-3h0m5 0h0m258-2h0m1 0h0m10 1h0m8 9h0m-1 1h0m-4-2h0m-285 0h0m-1-3h0m-1 3h0m0-1h0m-3 3h0m3-1h0m-7-2h0m-1-1h0m2 4h0m-2-3h0m-4-1h0m-2 0h0m-5 1h0m3 3h0m0-2h0m-4-2h0m-4 4h0m-3 0h0m-2 1h0m0 4h0m-1-2h0m1 1h0m-1 1h0m5-3h0m-1 0h0m2 0h0m7 0h0m0 0h0m0 0h0m-2 4h0m3-5h0m-2 2h0m7 1h0m1-3h0m3 0h0m316 11h0m-9 1h0m-1-1h0m-3-4h0m-309 0h0m-5 5h0m-2-4h0m-4 1h0m-8 0h0m0-2h0m2 1h0m-5 2h0m-5 1h0m-3 4h0m9-3h0m-1 0h0m8 3h0m-1 0h0m0-2h0m-3 0h0m3 4h0m-2-2h0m4 2h0m334 5h0m-2-4h0m-337 2h0m-5 2h0m-6 1h0m-1-2h0m3-1h0m-5 3h0m-2 0h0m0 0h0m-8 0h0m3 1h0m7 1h0m6 3h0m-2 0h0m-4-1h0m365 5h0m-2 0h0m-1 2h0m-2-1h0m-4 0h0m4 1h0m-2-1h0m-357 0h0m-2-2h0m-8 3h0m2 0h0m-1-4h0m2 2h0m-1 1h0m-1 3h0m-4-4h0m-5 3h0m4-3h0m-10 6h0m4 0h0m2 4h0m4-3h0m0-1h0m-4 2h0m5-2h0m2-1h0m1 3h0m0-3h0m3 0h0m371 2h0m-1 0h0m1 3h0m10 5h0m1-1h0m-1 0h0m-7-1h0m-3-1h0m-376 2h0m0 1h0m-1 0h0m1-3h0m-3-1h0m0 1h0m-3 2h0m-2 1h0m-3-1h0m2 8h0m-3 3h0m0 3h0m3-5h0m-3 1h0m-6 2h0m-5-2h0m3 9h0m1 0h0m-2 1h0m-1 0h0m3-6h0m2 2h0m-2 1h0m2-2h0m5 2h0m0-3h0m0 6h0m398-2h0m13 4h0m-2 0h0m-3-1h0m-3 3h0m-5-4h0m2 1h0m0 2h0m-408-1h0m-3 3h0m0-4h0m3 4h0m-2-2h0m0 2h0m3-4h0m-3 5h0m1-4h0m-1 1h0m1 3h0m0-3h0m0 0h0m0 6h0m0-2h0m-2 0h0m2 3h0m1 2h0m-2-3h0m5-1h0m416 7h0m-422 2h0m3-1h0m0 2h0m-1 2h0m-4 6h0m1 2h0m2-1h0m1 1h0m-8-1h0m1-1h0m1 2h0m-7-2h0m0 4h0m11 3h0m0-3h0m423 2h0m-1-2h0m1 1h0m11 6h0m-10 0h0m-424 4h0m0 1h0m-4-1h0m-7 2h0m1 1h0m-2 1h0m4 1h0m9-1h0m-1-1h0m432 2h0m1-3h0m0 10h0m-431 0h0m-5-3h0m-4-1h0m0 1h0m-1 1h0m-4-1h0m1 0h0m2 0h0m-2 2h0m1 6h0m2-4h0m1 1h0m3 2h0m7-3h0m-3 4h0m-1 1h0m3-4h0m-3 4h0m0-3h0m434 3h0m0-3h0m-2 2h0m0 8h0m-427-2h0m-5-2h0m-3 3h0m-1 1h0m1-2h0m1 1h0m-7 0h0m-1-3h0m0 3h0m-1-3h0m2 1h0m0 8h0m-1-1h0m7 1h0m-2 0h0m3-2h0m6 2h0m0-5h0m-1 6h0m-1-2h0m-3 1h0m11 1h0m-1-1h0m424-2h0m4 2h0m9 4h0m-11-1h0m-424 4h0m-1-6h0m-1 4h0m-1-1h0m-4-1h0m1 1h0m1 5h0m3 4h0m-2-2h0m8 0h0m-1-3h0m1 3h0m0-2h0m-2-1h0m0-1h0m2 3h0m3 3h0m426-5h0m0 3h0m3 3h0m-3 1h0m2 2h0m-423 1h0m0 0h0m-4-4h0m-1 0h0m-1 1h0m-6 0h0m2 1h0m-8-3h0m2 5h0m3-4h0m-1 5h0m1-3h0m-5 3h0m-2 4h0m1 0h0m2 0h0m0-3h0m8-1h0m-2 4h0m4 1h0m6-4h0m-2 2h0m2 2h0m3 0h0m-2 0h0m0-4h0m3 4h0m17 7h0m-13-5h0m-5 4h0m4 1h0m-5-1h0m1-1h0m-4 1h0m-1-4h0m2 3h0m-7 5h0m-1 1h0m3-3h0m3 4h0m0-2h0m-1 0h0m4 2h0m-6-4h0m2 3h0m4-2h0m5 0h0m-1-1h0m-3 2h0m2-2h0m2-1h0m-1 4h0m0-3h0m8 3h0m-6-1h0m1 2h0m4 0h0m-5-5h0m2 6h0m4-5h0m-5 0h0m6 0h0m5 2h0m1-2h0m3 2h0m0-1h0m-4-2h0m3 3h0m1 1h0m3-3h0m13 3h0m3-1h0m-4-1h0m2 2h0m1 2h0m0-3h0m1 1h0m3-1h0m0 0h0m-1-1h0m5 2h0m-4 1h0m1 0h0m379-1h0m-3-4h0m3 0h0m6 6h0m-2-1h0m0 0h0m7 4h0m-4-2h0m-383 4h0m0 1h0m-1-2h0m-6 1h0m-5-3h0m2 1h0m-1 3h0m1-4h0m1 2h0m-4-1h0m0 1h0m0-1h0m-5-1h0m-2 0h0m0 2h0m-1 0h0m-1 2h0m-5-1h0m2-3h0m-17-1h0m5 0h0m-7 2h0m0 1h0m11 6h0m3 1h0m0-2h0m0 3h0m1-1h0m2 1h0m6-5h0m-1-1h0m6 5h0m4-2h0m-1 1h0m-5-3h0m10 0h0m-2 5h0m2 0h0m3-1h0m1-5h0m390 2h0m0 9h0m-391-4h0m-11-1h0m-6 5h0m2-1h0m1 2h0m-1-2h0m-6-1h0m-6-1h0m1 0h0m-2-1h0m-1 1h0m0 6h0m2 4h0m1-5h0m4 4h0m3-4h0m0 3h0m8 1h0m0 0h0m6-3h0m398 1h0m-1 1h0m0 1h0m-2-3h0m2 6h0m1 4h0m-404-4h0m-3-1h0m-4 0h0m3-1h0m-2 4h0m0-2h0m-4 3h0m-2-1h0m1 1h0m-5-3h0m1 0h0m-2 10h0m2-1h0m5-2h0m-2 0h0m415 0h0m-1-1h0m13 8h0m-12-4h0m-412 2h0m0 2h0m-1-3h0m0 1h0m-7-1h0m0 1h0m1-1h0m0 2h0m1 0h0m5 9h0m-1-5h0m425 2h0m0 1h0m0 1h0m-1-5h0m2 6h0m-2 5h0m2-3h0m-426 3h0m-4-4h0m0 0h0m0 3h0m-16 6h0m7-3h0m-2 2h0m0 0h0m11 1h0m0 1h0m0 0h0m1 0h0m0-1h0m428 0h0m1-1h0m-1 9h0m-1-3h0m2 0h0m-429-2h0m-1 2h0m-3 0h0m4-2h0m0 0h0m-6 2h0m-1-3h0m-10 0h0m3 4h0m-3 0h0m4 2h0m-3 4h0m6 1h0m0 0h0m-1 0h0m0-4h0m-1 2h0m1 1h0m2 0h0m7 0h0m0 2h0m0-5h0m-2 1h0m2-1h0m-1 2h0m-3 0h0m3-1h0m431 1h0m0 0h0m0 1h0m-430 3h0m-4 2h0m-5 1h0m2 2h0m-4-2h0m-1 1h0m-3 3h0m4-2h0m-1 3h0m8-1h0m-5 3h0m2-2h0m7 1h0m429 2h0m-430 4h0m0-1h0m-2 2h0m-6-4h0m-1 4h0m5-5h0m0 6h0m-8-6h0m0 1h0m0 3h0m2 0h0m-2 8h0m5-5h0m0-1h0m439 1h0m-431 8h0m-1 2h0m1-1h0m-2 2h0m-2-3h0m-3 2h0m1-4h0m1 0h0m-8 1h0m0 2h0m1-4h0m-2 6h0m5 2h0m6-1h0m2 3h0m432-4h0m-1 9h0m-1 3h0m1-1h0m-427 1h0m-1-6h0m-1 1h0m-2 9h0m432-4h0m0 5h0m-1-3h0m12 1h0m1 7h0m-440-1h0m0 2h0m-6 0h0m4-3h0m-2-1h0m0 0h0m0 9h0m-1-4h0m1 0h0m3 1h0m-2-1h0m3 1h0m5 4h0m-6-3h0m439 1h0m-1 0h0m2 5h0m-1 4h0m2-1h0m-1 1h0m0 0h0m-433-4h0m0 3h0m-5-1h0m-5 0h0m1 0h0m0 6h0m3 0h0m10 2h0m-2-2h0m1-2h0m3 6h0m0 1h0m-4 2h0m-2-4h0m1 2h0m0 0h0m2 2h0m-1-4h0m1 3h0m-5 0h0m-6 0h0m-2 1h0m2 3h0m2 0h0m6 2h0m3 1h0m-4-1h0m9-1h0m-3-3h0m5 5h0m423-2h0m-1 2h0m-1-2h0m2 7h0m-1-1h0m0-3h0m-413 6h0m-8-4h0m6 3h0m-8 0h0m-1-1h0m2-2h0m0-1h0m-3 0h0m-1 1h0m-1 2h0m2-2h0m-5 6h0m-2 3h0m3-5h0m-1 6h0m-2-5h0m3 1h0m-2 2h0m7-1h0m-2-2h0m3 4h0m-3-2h0m0-3h0m8 1h0m2 1h0m-5-1h0m5-1h0m2 4h0m2 1h0m5 1h0m407 2h0m-409-1h0m5 2h0m-11 1h0m1-2h0m4 3h0m-7-3h0m1 2h0m-4-1h0m-4-2h0m0 3h0m3-3h0m-3 3h0m-4-3h0m-4 1h0m4 0h0m-1 5h0m11 5h0m-2-3h0m0 1h0m-1 1h0m10-3h0m0 2h0m7-1h0m-3 2h0m4 0h0m2-2h0m400 2h0m2 1h0m-1 5h0m-390 1h0m1 0h0m-8-1h0m-4-3h0m3-1h0m-4 1h0m5 4h0m-10-2h0m-8 1h0m1-5h0m-7 3h0m4 1h0m-3 3h0m0 0h0m2 0h0m8 0h0m-1 0h0m3 1h0m2 2h0m3-1h0m1 2h0m3-3h0m-1-1h0m8 0h0m-5 2h0m4-2h0m-4 3h0m7-3h0m2 4h0m4-1h0m1 1h0m385-4h0m-2 6h0m-1 0h0m-383 3h0m0-3h0m-6 4h0m2-3h0m-2 7h0m5-1h0m-3 0h0m-2 4h0m3 0h0m2-5h0m0 1h0m11 3h0m376-1h0m-374 4h0m0 4h0m-2-2h0m-8-2h0m-1 4h0m-10 1h0m-4 0h0m9 0h0m2 5h0m3-2h0m1-4h0m-2 2h0m10 1h0m374 3h0m1-1h0m-1 7h0m-12-2h0m2 0h0m-362-1h0m-4-2h0m-1 5h0m-6-1h0m2-3h0m-4-1h0m-3 3h0m-1-1h0m-4 2h0m-4-3h0m5 1h0m-2 0h0m2 6h0m-3-2h0m1 1h0m1 1h0m5-2h0m1 2h0m-2-1h0m6 2h0m0-4h0m-1 0h0m7 2h0m4 2h0m-4-2h0m366 2h0m0 2h0m0-1h0m0-1h0m-372 5h0m-4-1h0m-3 4h0m-6-2h0m3 0h0m2 6h0m0 1h0m-4-4h0m10 3h0m-6-2h0m3 0h0m1 4h0m1-2h0m4 0h0m-1 0h0m0 1h0m-1-1h0m373 1h0m0 2h0m-4 5h0m-368-1h0m2 0h0m-10-2h0m5 2h0m-5-3h0m2 4h0m-3-2h0m-3 0h0m0 3h0m0 2h0m10 1h0m-1-4h0m-1 4h0m5 0h0m-1-1h0m2 1h0m362-3h0m-2 6h0m0 0h0m-2 4h0m-357 0h0m-3-2h0m-7-2h0m3 2h0m-4-1h0m-1 3h0m10 7h0m-2 0h0m0-4h0m3 0h0m1-2h0m359 5h0m0-4h0m-2-1h0m0 11h0m2-5h0m-4 5h0m-10 1h0m-348-4h0m1 0h0m0 2h0m-10 1h0m-2 0h0m0 3h0m2 1h0m-4-1h0m2 3h0m0-3h0m0 2h0m3-4h0m2 3h0m4-1h0m-4 2h0m-2 1h0m0-3h0m4 1h0m-1-1h0m-2-2h0m8 2h0m0-2h0m-3 2h0m352 6h0m-7 2h0m0 0h0m1 0h0m-4 0h0m-342 1h0m1 0h0m-1-1h0m2-1h0m0-2h0m-6 1h0m2 4h0m-5-4h0m1 0h0m-1 1h0m-3 3h0m2 3h0m0 3h0m-1-5h0m-1 3h0m8-3h0m-3 3h0m4 0h0m341-4h0m0 2h0m-1 3h0m-1 0h0m0-3h0m0 3h0m1 5h0m0-1h0m1-1h0m-6 3h0m-333 0h0m4-3h0m0 4h0m-14-5h0m2 3h0m1 1h0m-3-5h0m0 2h0m-3 2h0m3 3h0m8 5h0m0 0h0m6-1h0m-4-4h0m0 2h0m3 3h0m-4-5h0m4 4h0m3 1h0m322-1h0m-1-1h0m-3 7h0m3-4h0m1 3h0m-2-1h0m2-1h0m-325 3h0m0 0h0m-1-2h0m-1-1h0m4 1h0m-3 0h0m-1 1h0m1 2h0m-8-4h0m1-2h0m0 5h0m-2 1h0m0 0h0m-5-3h0m0 7h0m3-3h0m0 5h0m-3-3h0m6-2h0m0 1h0m3 0h0m2 0h0m3-1h0m1 4h0m1 0h0m0 0h0m-3-1h0m-1-4h0m10 6h0m-4-2h0m1-3h0m309-1h0m-1 2h0m0 7h0m1-3h0m-2 4h0m-311 1h0m-1-1h0m-2-2h0m-6 4h0m-1 0h0m3-2h0m-8-2h0m-1 1h0m1 9h0m-1-3h0m10 3h0m-1-3h0m0 3h0m8-5h0m-2 3h0m6-1h0m-2 1h0m5-1h0m-5 0h0m0-2h0m0 5h0m310-3h0m-304 5h0m0 3h0m2-2h0m-4 3h0m1 0h0m-10-1h0m3-1h0m-1-1h0m-3 3h0m3-5h0m-1 3h0m2-4h0m-6 2h0m-8 1h0m3-2h0m6 7h0m2-1h0m0 0h0m0 0h0m-1 3h0m4 0h0m-3 0h0m6-2h0m-1 1h0m1 1h0m8 1h0m8 0h0m-6-4h0m0 0h0m287 7h0m-2-2h0m0 2h0m3 1h0m-281 0h0m-6-3h0m1 1h0m-1 0h0m3 4h0m-2 0h0m-7-2h0m4 0h0m-4-2h0m0 1h0m-2 1h0m-4-1h0m-6 1h0m2 2h0m-2 0h0m-1 0h0m5-4h0m-4 0h0m4 3h0m-3 1h0m3 0h0m-6-1h0m7 7h0m-3-3h0m-1 1h0m0-2h0m-2 4h0m9-3h0m1 4h0m5-5h0m1 1h0m2 1h0m11 2h0m-1 0h0m4-1h0m0-2h0m-2 0h0m6 2h0m0 0h0m4 2h0m-3-2h0m256 1h0m2 3h0m-10 0h0m-2 1h0m-13 0h0m-216 3h0m-2 0h0m-8-5h0m-3 5h0m-3-1h0m1-3h0m2 1h0m0 1h0m-8-3h0m1 5h0m-6-1h0m0-4h0m-15 2h0m2-1h0m0 2h0m1 0h0m-6-2h0m0-1h0m-1 0h0m0 0h0m2 2h0m1 1h0m-7-1h0m8 4h0m1 1h0m4 0h0m0 3h0m-4-4h0m5 4h0m3-2h0m6 1h0m-3 2h0m9-2h0m-4 2h0m3-3h0m0-2h0m-3 3h0m12-3h0m-5 2h0m-1-3h0m8 2h0m-2 0h0m6 2h0m-3 1h0m-1-1h0m0-4h0m8 4h0m0-4h0m-2 3h0m1-1h0m-1 3h0m1 0h0m2-1h0m0-3h0m0 2h0m3-2h0m6 0h0m1 2h0m-2 3h0m4 0h0m-1-5h0m-3 1h0m1 0h0m7 2h0m5 0h0m0 1h0m0-3h0m1 2h0m-1-2h0m12 3h0m181 4h0m1-2h0m-11 2h0m-3 0h0m-5-1h0m-2 3h0m-2-3h0m-114 2h0m-1 1h0m1-3h0m-10 4h0m-6-6h0m3 1h0m1 4h0m-9-1h0m2-1h0m-1-2h0m-7 4h0m1-4h0m-6 2h0m0-1h0m2 4h0m-1-5h0m2 2h0m-3 0h0m1-1h0m-8 3h0m2-2h0m-9 3h0m2-1h0m-2-3h0m-4-1h0m-1 1h0m2 0h0m-7 0h0m-1-1h0m-8-1h0m1 4h0m0-3h0m0 0h0m2 4h0m-5 0h0m-3-2h0m4 1h0m0-2h0m-4-2h0m3 3h0m-6 2h0m-4-2h0m1 3h0m4-5h0m-1 2h0m-7 0h0m-2 0h0m0-2h0m0 2h0m-4 2h0m-2-2h0m0 2h0m4-4h0m-2 3h0m-1-1h0m1 2h0m-7 1h0m-1-6h0m3 5h0m-1-4h0m1 2h0m0 3h0m-9-4h0m0-1h0m-3 3h0m-2 0h0m1 2h0m1-6h0m-3 6h0m0-1h0m-2-2h0m0 2h0m-2-4h0m-2 2h0m-2-2h0m1 2h0m-7-2h0m13 8h0m0 1h0m0 0h0m-1 1h0m7-3h0m3 2h0m-1 1h0m5-1h0m0 1h0m10-1h0m-1-2h0m-2 2h0m3-3h0m2 0h0m6 4h0m1 0h0m10 1h0m-4-3h0m-1 2h0m3-1h0m3-3h0m0 0h0m-1 0h0m8 1h0m0 0h0m-1-2h0m1 1h0m1-1h0m4 4h0m5-3h0m-4-1h0m3 4h0m6-1h0m0-3h0m-4 5h0m2 0h0m4-4h0m4 1h0m-4 2h0m4-3h0m7 5h0m-2-4h0m0 0h0m2-1h0m6-1h0m-4 2h0m5 0h0m9 1h0m1 3h0m-4-1h0m6-1h0m3 0h0m-1-2h0m3-1h0m6 3h0m1-3h0m109 6h0m-7 1h0m-7-1h0m0 0h0m-4-1h0m0 1h0m0 2h0m0 0h0m-3-3h0m-9 6h0m-79-5h0m0 1h0m-1 0h0m-2 0h0m1-1h0m-6 3h0m-11 1h0m1 0h0m3-3h0m-3 0h0m4 1h0m0 1h0m-8 1h0m3 1h0m-2-2h0m1-1h0m-10 3h0m1-5h0m-1 0h0m0 4h0m4-3h0m-3-1h0m-2-1h0m6 6h0m-11-4h0m1-1h0m-1 2h0m4-2h0m-10 2h0m4 2h0m-4-4h0m4 4h0m-1-5h0m-1 2h0m1 2h0m1-3h0m0 2h0m-7 3h0m1-5h0m0 3h0m-4 2h0m-5-1h0m1-4h0m-9 4h0m5-3h0m-2 0h0m-1-1h0m-2 3h0m2-2h0m2 0h0m1 1h0m-7-1h0m-9 0h0m4 4h0m0-3h0m-1 3h0m0-3h0m-5-3h0m0 3h0m-10-2h0m-1 0h0m2 0h0m3-1h0m-14 2h0m0 0h0m0 0h0m-1-1h0m1 2h0m-8 0h0m3-2h0m-5 2h0m17 5h0m5-1h0m-2 3h0m4-3h0m3 4h0m8-4h0m-2 1h0m-2 0h0m11 0h0m-1 0h0m0-1h0m-3 4h0m11-3h0m-5 3h0m3 1h0m8-4h0m7 1h0m6 0h0m0 0h0m2 2h0m9 1h0m-5-2h0m1-4h0m3 4h0m-1-2h0m2-1h0m3 2h0m0 1h0m2-3h0m-4 0h0m8 0h0m-2 4h0m4-2h0m-2 0h0m6-3h0m-2 2h0m5-1h0m4 2h0m-1 0h0m-1 0h0m4-1h0m2 2h0m45 2h0m32-1h0m-1-1h0m-2 2h0m2 1h0m-14 1h0m1 0h0m-6-2h0m-6 1h0m-7 1h0m-4-2h0m6 2h0m-11-1h0m2-1h0m-4 2h0m-16-1h0m-1 0h0m-1 1h0m-5 1h0m-2-3h0m-9 2h0m1-2h0m-8 3h0m-9-3h0m3 2h0m-2 0h0m1 0h0m-10 1h0m-2-2h0m-2 0h0m-9 2h0m-1-3h0m-8 2h0m-5 0h0m2-2h0m-9 0h0m-1 1h0m-1-1h0m-23 2h0m3-2h0" stroke="#1f77b4" stroke-width="3.1" stroke-linecap="round" fill="none" opacity="0.72"/>
<polygon points="430.0,168.0 464.0,167.8 464.0,177.2 500.0,177.2 500.0,190.5 522.7,190.5 522.7,202.5 534.7,202.5 534.7,213.7 558.7,213.7 558.7,225.2 569.6,225.2 569.6,237.2 581.6,237.2 581.6,259.8 592.8,259.8 592.8,271.8 604.8,271.8 604.8,295.8 616.8,295.8 616.8,330.5 627.5,330.5 627.5,365.2 639.5,365.2 639.5,400.4 651.5,400.4 651.5,435.8 663.0,435.8 663.0,518.5 674.8,518.5 674.8,623.5 662.8,623.5 662.8,648.8 652.2,648.8 652.2,671.5 640.2,671.5 640.2,683.5 628.2,683.5 628.2,695.5 617.0,695.5 617.0,707.5 605.5,707.5 605.5,730.2 593.5,730.2 593.5,742.2 582.3,742.2 582.3,753.6 558.3,753.6 558.3,764.8 534.8,764.8 534.8,776.8 499.6,776.8 499.6,788.3 420.0,788.3 420.0,600.0 430.0,300.0" fill="#1f77b4" filter="url(#rough)"/>
<path d="M376.7 190C359.5 192.7 339.8 197.1 323.3 202C306.9 206.9 292.2 211.5 278 219.3C263.8 227.1 249.1 238.9 238 248.7C226.9 258.5 218.2 268.7 211.3 278C204.4 287.3 200 295.8 196.7 304.7C193.4 313.6 191.3 322.4 191.3 331.3C191.3 340.2 193.8 350 196.7 358C199.6 366 203.6 373.1 208.7 379.3C213.8 385.5 221.1 391.7 227.3 395.3C233.5 398.9 240.2 400.2 246 400.7C251.8 401.1 259.3 396.4 262 398C264.7 399.6 264 405.5 262 410C260 414.5 254 419.4 250 425C246 430.6 241.3 435.8 238 443.3C234.7 450.8 231.4 462.2 230 470C228.6 477.8 229.2 483.9 229.3 490C229.4 496.1 229.4 499.5 230.7 506.7C232 513.9 234.4 525.3 237.3 533.3C240.2 541.3 243.1 548 248 554.7C252.9 561.4 260 567.1 266.7 573.3C273.4 579.5 282.2 585.8 288 592C293.8 598.2 300 604 301.3 610.7C302.6 617.4 297.8 624.9 296 632C294.2 639.1 292 645.3 290.7 653.3C289.4 661.3 287.6 671.1 288 680C288.4 688.9 291.1 698.7 293.3 706.7C295.5 714.7 297.7 721.8 301.3 728C304.9 734.2 308.5 739.1 314.7 744C320.9 748.9 327.8 754.1 338.7 757.3C349.6 760.5 366.4 761.5 380 763C393.6 764.5 408.3 765.2 420 766C431.7 766.8 440.6 769 450 768C459.4 767 465.6 764 476.7 760C487.8 756 504.3 750.2 516.7 744C529.1 737.8 541.1 729.8 551.3 722.7C561.5 715.6 570 708.4 578 701.3C586 694.2 594.4 686.7 599.3 680C604.2 673.3 603.7 668 607.3 661.3C610.9 654.6 616.2 645.8 620.7 640C625.2 634.2 631.6 635 634 626.7C636.4 618.4 634.9 602.8 635 590C635.1 577.2 634.8 565.5 634.7 550C634.7 534.5 635.2 512.2 634.7 496.7C634.2 481.1 633.8 470 632 456.7C630.2 443.4 627.5 427.8 624 416.7C620.5 405.6 615.2 398.9 610.7 390C606.2 381.1 602.2 372.2 597.3 363.3C592.4 354.4 586.6 347.4 581.3 336.7C576 326 570.6 310.9 565.3 299.3C560 287.7 555.5 277.1 549.3 267.3C543.1 257.5 536 248.7 528 240.7C520 232.7 511.5 226.4 501.3 219.3C491.1 212.2 479.1 203.6 466.7 198C454.3 192.4 441.7 187.3 426.7 186C411.7 184.7 393.9 187.3 376.7 190Z" fill="#1f77b4"/>
<polygon points="358.0,167.3 464.0,167.3 464.0,176.7 500.0,176.7 500.0,190.0 522.7,190.0 522.7,202.0 534.7,202.0 534.7,213.2 558.7,213.2 558.7,224.7 570.1,224.7 570.1,236.7 582.1,236.7 582.1,259.3 593.3,259.3 593.3,271.3 605.3,271.3 605.3,295.3 617.3,295.3 617.3,330.0 628.0,330.0 628.0,364.7 640.0,364.7 640.0,399.9 652.0,399.9 652.0,435.3 663.5,435.3 663.5,518.0 675.3,518.0 675.3,624.0 663.3,624.0 663.3,649.3 652.7,649.3 652.7,672.0 640.7,672.0 640.7,684.0 628.7,684.0 628.7,696.0 617.5,696.0 617.5,708.0 606.0,708.0 606.0,730.7 594.0,730.7 594.0,742.7 582.8,742.7 582.8,754.1 558.8,754.1 558.8,765.3 535.3,765.3 535.3,777.3 500.1,777.3 500.1,788.8 333.3,788.8 333.3,777.3 310.7,777.3 310.7,765.3 298.7,765.3 298.7,753.3 286.7,753.3 286.7,730.7 276.0,730.7 276.0,670.7 288.0,670.7 288.0,660.0 276.0,660.0 276.0,600.0 264.0,600.0 264.0,589.3 252.0,589.3 252.0,577.3 240.0,577.3 240.0,554.7 229.3,554.7 229.3,506.7 217.3,506.7 217.3,456.7 230.0,456.7 230.0,407.0 216.7,407.0 216.7,402.0 206.0,402.0 206.0,388.7 194.0,388.7 194.0,366.0 182.0,366.0 182.0,319.3 194.0,319.3 194.0,283.3 204.7,283.3 204.7,259.3 216.7,259.3 216.7,248.7 228.7,248.7 228.7,236.7 240.7,236.7 240.7,226.0 252.7,226.0 252.7,214.0 275.3,214.0 275.3,202.0 299.3,202.0 299.3,190.0 323.3,190.0 323.3,176.7 358.0,176.7" fill="url(#sp1)" opacity=".55"/>
<polygon points="358.0,167.3 464.0,167.3 464.0,176.7 500.0,176.7 500.0,190.0 522.7,190.0 522.7,202.0 534.7,202.0 534.7,213.2 558.7,213.2 558.7,224.7 570.1,224.7 570.1,236.7 582.1,236.7 582.1,259.3 593.3,259.3 593.3,271.3 605.3,271.3 605.3,295.3 617.3,295.3 617.3,330.0 628.0,330.0 628.0,364.7 640.0,364.7 640.0,399.9 652.0,399.9 652.0,435.3 663.5,435.3 663.5,518.0 675.3,518.0 675.3,624.0 663.3,624.0 663.3,649.3 652.7,649.3 652.7,672.0 640.7,672.0 640.7,684.0 628.7,684.0 628.7,696.0 617.5,696.0 617.5,708.0 606.0,708.0 606.0,730.7 594.0,730.7 594.0,742.7 582.8,742.7 582.8,754.1 558.8,754.1 558.8,765.3 535.3,765.3 535.3,777.3 500.1,777.3 500.1,788.8 333.3,788.8 333.3,777.3 310.7,777.3 310.7,765.3 298.7,765.3 298.7,753.3 286.7,753.3 286.7,730.7 276.0,730.7 276.0,670.7 288.0,670.7 288.0,660.0 276.0,660.0 276.0,600.0 264.0,600.0 264.0,589.3 252.0,589.3 252.0,577.3 240.0,577.3 240.0,554.7 229.3,554.7 229.3,506.7 217.3,506.7 217.3,456.7 230.0,456.7 230.0,407.0 216.7,407.0 216.7,402.0 206.0,402.0 206.0,388.7 194.0,388.7 194.0,366.0 182.0,366.0 182.0,319.3 194.0,319.3 194.0,283.3 204.7,283.3 204.7,259.3 216.7,259.3 216.7,248.7 228.7,248.7 228.7,236.7 240.7,236.7 240.7,226.0 252.7,226.0 252.7,214.0 275.3,214.0 275.3,202.0 299.3,202.0 299.3,190.0 323.3,190.0 323.3,176.7 358.0,176.7" fill="url(#sp1b)" opacity=".45"/>
<path d="M358.0,167.3L464.0,167.3L464.0,176.7L500.0,176.7L500.0,190.0L522.7,190.0L522.7,202.0L534.7,202.0L534.7,213.2L558.7,213.2L558.7,224.7L570.1,224.7L570.1,236.7L582.1,236.7L582.1,259.3L593.3,259.3L593.3,271.3L605.3,271.3L605.3,295.3L617.3,295.3L617.3,330.0L628.0,330.0L628.0,364.7L640.0,364.7L640.0,399.9L652.0,399.9L652.0,435.3L663.5,435.3L663.5,518.0L675.3,518.0L675.3,624.0L663.3,624.0L663.3,649.3L652.7,649.3L652.7,672.0L640.7,672.0L640.7,684.0L628.7,684.0L628.7,696.0L617.5,696.0L617.5,708.0L606.0,708.0L606.0,730.7L594.0,730.7L594.0,742.7L582.8,742.7L582.8,754.1L558.8,754.1L558.8,765.3L535.3,765.3L535.3,777.3L500.1,777.3L500.1,788.8L333.3,788.8L333.3,777.3L310.7,777.3L310.7,765.3L298.7,765.3L298.7,753.3L286.7,753.3L286.7,730.7L276.0,730.7L276.0,670.7L288.0,670.7L288.0,660.0L276.0,660.0L276.0,600.0L264.0,600.0L264.0,589.3L252.0,589.3L252.0,577.3L240.0,577.3L240.0,554.7L229.3,554.7L229.3,506.7L217.3,506.7L217.3,456.7L230.0,456.7L230.0,407.0L216.7,407.0L216.7,402.0L206.0,402.0L206.0,388.7L194.0,388.7L194.0,366.0L182.0,366.0L182.0,319.3L194.0,319.3L194.0,283.3L204.7,283.3L204.7,259.3L216.7,259.3L216.7,248.7L228.7,248.7L228.7,236.7L240.7,236.7L240.7,226.0L252.7,226.0L252.7,214.0L275.3,214.0L275.3,202.0L299.3,202.0L299.3,190.0L323.3,190.0L323.3,176.7L358.0,176.7ZM376.7 190C359.5 192.7 339.8 197.1 323.3 202C306.9 206.9 292.2 211.5 278 219.3C263.8 227.1 249.1 238.9 238 248.7C226.9 258.5 218.2 268.7 211.3 278C204.4 287.3 200 295.8 196.7 304.7C193.4 313.6 191.3 322.4 191.3 331.3C191.3 340.2 193.8 350 196.7 358C199.6 366 203.6 373.1 208.7 379.3C213.8 385.5 221.1 391.7 227.3 395.3C233.5 398.9 240.2 400.2 246 400.7C251.8 401.1 259.3 396.4 262 398C264.7 399.6 264 405.5 262 410C260 414.5 254 419.4 250 425C246 430.6 241.3 435.8 238 443.3C234.7 450.8 231.4 462.2 230 470C228.6 477.8 229.2 483.9 229.3 490C229.4 496.1 229.4 499.5 230.7 506.7C232 513.9 234.4 525.3 237.3 533.3C240.2 541.3 243.1 548 248 554.7C252.9 561.4 260 567.1 266.7 573.3C273.4 579.5 282.2 585.8 288 592C293.8 598.2 300 604 301.3 610.7C302.6 617.4 297.8 624.9 296 632C294.2 639.1 292 645.3 290.7 653.3C289.4 661.3 287.6 671.1 288 680C288.4 688.9 291.1 698.7 293.3 706.7C295.5 714.7 297.7 721.8 301.3 728C304.9 734.2 308.5 739.1 314.7 744C320.9 748.9 327.8 754.1 338.7 757.3C349.6 760.5 366.4 761.5 380 763C393.6 764.5 408.3 765.2 420 766C431.7 766.8 440.6 769 450 768C459.4 767 465.6 764 476.7 760C487.8 756 504.3 750.2 516.7 744C529.1 737.8 541.1 729.8 551.3 722.7C561.5 715.6 570 708.4 578 701.3C586 694.2 594.4 686.7 599.3 680C604.2 673.3 603.7 668 607.3 661.3C610.9 654.6 616.2 645.8 620.7 640C625.2 634.2 631.6 635 634 626.7C636.4 618.4 634.9 602.8 635 590C635.1 577.2 634.8 565.5 634.7 550C634.7 534.5 635.2 512.2 634.7 496.7C634.2 481.1 633.8 470 632 456.7C630.2 443.4 627.5 427.8 624 416.7C620.5 405.6 615.2 398.9 610.7 390C606.2 381.1 602.2 372.2 597.3 363.3C592.4 354.4 586.6 347.4 581.3 336.7C576 326 570.6 310.9 565.3 299.3C560 287.7 555.5 277.1 549.3 267.3C543.1 257.5 536 248.7 528 240.7C520 232.7 511.5 226.4 501.3 219.3C491.1 212.2 479.1 203.6 466.7 198C454.3 192.4 441.7 187.3 426.7 186C411.7 184.7 393.9 187.3 376.7 190Z" fill-rule="evenodd" fill="url(#sp2)"/>
<path d="M358.0,167.3L464.0,167.3L464.0,176.7L500.0,176.7L500.0,190.0L522.7,190.0L522.7,202.0L534.7,202.0L534.7,213.2L558.7,213.2L558.7,224.7L570.1,224.7L570.1,236.7L582.1,236.7L582.1,259.3L593.3,259.3L593.3,271.3L605.3,271.3L605.3,295.3L617.3,295.3L617.3,330.0L628.0,330.0L628.0,364.7L640.0,364.7L640.0,399.9L652.0,399.9L652.0,435.3L663.5,435.3L663.5,518.0L675.3,518.0L675.3,624.0L663.3,624.0L663.3,649.3L652.7,649.3L652.7,672.0L640.7,672.0L640.7,684.0L628.7,684.0L628.7,696.0L617.5,696.0L617.5,708.0L606.0,708.0L606.0,730.7L594.0,730.7L594.0,742.7L582.8,742.7L582.8,754.1L558.8,754.1L558.8,765.3L535.3,765.3L535.3,777.3L500.1,777.3L500.1,788.8L333.3,788.8L333.3,777.3L310.7,777.3L310.7,765.3L298.7,765.3L298.7,753.3L286.7,753.3L286.7,730.7L276.0,730.7L276.0,670.7L288.0,670.7L288.0,660.0L276.0,660.0L276.0,600.0L264.0,600.0L264.0,589.3L252.0,589.3L252.0,577.3L240.0,577.3L240.0,554.7L229.3,554.7L229.3,506.7L217.3,506.7L217.3,456.7L230.0,456.7L230.0,407.0L216.7,407.0L216.7,402.0L206.0,402.0L206.0,388.7L194.0,388.7L194.0,366.0L182.0,366.0L182.0,319.3L194.0,319.3L194.0,283.3L204.7,283.3L204.7,259.3L216.7,259.3L216.7,248.7L228.7,248.7L228.7,236.7L240.7,236.7L240.7,226.0L252.7,226.0L252.7,214.0L275.3,214.0L275.3,202.0L299.3,202.0L299.3,190.0L323.3,190.0L323.3,176.7L358.0,176.7ZM376.7 190C359.5 192.7 339.8 197.1 323.3 202C306.9 206.9 292.2 211.5 278 219.3C263.8 227.1 249.1 238.9 238 248.7C226.9 258.5 218.2 268.7 211.3 278C204.4 287.3 200 295.8 196.7 304.7C193.4 313.6 191.3 322.4 191.3 331.3C191.3 340.2 193.8 350 196.7 358C199.6 366 203.6 373.1 208.7 379.3C213.8 385.5 221.1 391.7 227.3 395.3C233.5 398.9 240.2 400.2 246 400.7C251.8 401.1 259.3 396.4 262 398C264.7 399.6 264 405.5 262 410C260 414.5 254 419.4 250 425C246 430.6 241.3 435.8 238 443.3C234.7 450.8 231.4 462.2 230 470C228.6 477.8 229.2 483.9 229.3 490C229.4 496.1 229.4 499.5 230.7 506.7C232 513.9 234.4 525.3 237.3 533.3C240.2 541.3 243.1 548 248 554.7C252.9 561.4 260 567.1 266.7 573.3C273.4 579.5 282.2 585.8 288 592C293.8 598.2 300 604 301.3 610.7C302.6 617.4 297.8 624.9 296 632C294.2 639.1 292 645.3 290.7 653.3C289.4 661.3 287.6 671.1 288 680C288.4 688.9 291.1 698.7 293.3 706.7C295.5 714.7 297.7 721.8 301.3 728C304.9 734.2 308.5 739.1 314.7 744C320.9 748.9 327.8 754.1 338.7 757.3C349.6 760.5 366.4 761.5 380 763C393.6 764.5 408.3 765.2 420 766C431.7 766.8 440.6 769 450 768C459.4 767 465.6 764 476.7 760C487.8 756 504.3 750.2 516.7 744C529.1 737.8 541.1 729.8 551.3 722.7C561.5 715.6 570 708.4 578 701.3C586 694.2 594.4 686.7 599.3 680C604.2 673.3 603.7 668 607.3 661.3C610.9 654.6 616.2 645.8 620.7 640C625.2 634.2 631.6 635 634 626.7C636.4 618.4 634.9 602.8 635 590C635.1 577.2 634.8 565.5 634.7 550C634.7 534.5 635.2 512.2 634.7 496.7C634.2 481.1 633.8 470 632 456.7C630.2 443.4 627.5 427.8 624 416.7C620.5 405.6 615.2 398.9 610.7 390C606.2 381.1 602.2 372.2 597.3 363.3C592.4 354.4 586.6 347.4 581.3 336.7C576 326 570.6 310.9 565.3 299.3C560 287.7 555.5 277.1 549.3 267.3C543.1 257.5 536 248.7 528 240.7C520 232.7 511.5 226.4 501.3 219.3C491.1 212.2 479.1 203.6 466.7 198C454.3 192.4 441.7 187.3 426.7 186C411.7 184.7 393.9 187.3 376.7 190Z" fill-rule="evenodd" fill="url(#sp4)" opacity=".27"/>
<path d="M504 465.3C506.9 465.8 509.8 468.7 514.7 472C519.6 475.3 528 481.3 533.3 485.3C538.6 489.3 543.1 492 546.7 496C550.3 500 552.9 504 554.7 509.3C556.5 514.6 557.3 521.3 557.3 528C557.3 534.7 556.5 542.2 554.7 549.3C552.9 556.4 549.4 564.5 546.7 570.7C544 576.9 541.8 581.8 538.7 586.7C535.6 591.6 531.6 598.2 528 600C524.4 601.8 520 600.4 517.3 597.3C514.6 594.2 512.4 587.5 512 581.3C511.6 575.1 512.9 566.2 514.7 560C516.5 553.8 520.9 549.8 522.7 544C524.5 538.2 526.2 530.6 525.3 525.3C524.4 520 520.8 516.4 517.3 512C513.8 507.6 507.6 503.6 504 498.7C500.4 493.8 497.1 487.6 496 482.7C494.9 477.8 496 472.2 497.3 469.3C498.6 466.4 501.1 464.9 504 465.3Z" fill="#fff" opacity="0.04"/>
<path d="M504 465.3C506.9 465.8 509.8 468.7 514.7 472C519.6 475.3 528 481.3 533.3 485.3C538.6 489.3 543.1 492 546.7 496C550.3 500 552.9 504 554.7 509.3C556.5 514.6 557.3 521.3 557.3 528C557.3 534.7 556.5 542.2 554.7 549.3C552.9 556.4 549.4 564.5 546.7 570.7C544 576.9 541.8 581.8 538.7 586.7C535.6 591.6 531.6 598.2 528 600C524.4 601.8 520 600.4 517.3 597.3C514.6 594.2 512.4 587.5 512 581.3C511.6 575.1 512.9 566.2 514.7 560C516.5 553.8 520.9 549.8 522.7 544C524.5 538.2 526.2 530.6 525.3 525.3C524.4 520 520.8 516.4 517.3 512C513.8 507.6 507.6 503.6 504 498.7C500.4 493.8 497.1 487.6 496 482.7C494.9 477.8 496 472.2 497.3 469.3C498.6 466.4 501.1 464.9 504 465.3Z" fill="url(#sp3)" opacity="0.36"/>
<path d="M430.7 310.7C432.2 308.9 436.7 302 440 300C443.3 298 446.7 297.8 450.7 298.7C454.7 299.6 459.1 302.9 464 305.3C468.9 307.7 475.1 310.4 480 313.3C484.9 316.2 488.4 318.9 493.3 322.7C498.2 326.5 504.9 331.6 509.3 336C513.8 340.4 516.9 344.2 520 349.3C523.1 354.4 525.8 361.8 528 366.7C530.2 371.6 532.8 374 533.3 378.7C533.8 383.4 532.9 388 530.7 394.7C528.5 401.4 522.7 412.9 520 418.7C517.3 424.5 516.2 425.8 514.7 429.3C513.2 432.9 511.4 438.2 510.7 440" fill="none" stroke="#fff" stroke-width="2.4" stroke-linecap="round" stroke-linejoin="round" opacity="0.14"/>
<path d="M430.7 310.7C432.2 308.9 436.7 302 440 300C443.3 298 446.7 297.8 450.7 298.7C454.7 299.6 459.1 302.9 464 305.3C468.9 307.7 475.1 310.4 480 313.3C484.9 316.2 488.4 318.9 493.3 322.7C498.2 326.5 504.9 331.6 509.3 336C513.8 340.4 516.9 344.2 520 349.3C523.1 354.4 525.8 361.8 528 366.7C530.2 371.6 532.8 374 533.3 378.7C533.8 383.4 532.9 388 530.7 394.7C528.5 401.4 522.7 412.9 520 418.7C517.3 424.5 516.2 425.8 514.7 429.3C513.2 432.9 511.4 438.2 510.7 440" fill="none" stroke="url(#sp3)" stroke-width="3.9" stroke-linecap="round" stroke-linejoin="round" opacity="0.70"/>
<path d="M430.7 310.7C431.4 312.2 432.3 315.1 434.7 320C437.1 324.9 442.2 334.2 445.3 340C448.4 345.8 451.3 350 453.3 354.7C455.3 359.4 456.6 365.8 457.3 368" fill="none" stroke="#fff" stroke-width="2" stroke-linecap="round" stroke-linejoin="round" opacity="0.11"/>
<path d="M430.7 310.7C431.4 312.2 432.3 315.1 434.7 320C437.1 324.9 442.2 334.2 445.3 340C448.4 345.8 451.3 350 453.3 354.7C455.3 359.4 456.6 365.8 457.3 368" fill="none" stroke="url(#sp3)" stroke-width="3.5" stroke-linecap="round" stroke-linejoin="round" opacity="0.53"/>
<path d="M482.7 317.3C485.8 319.5 495.5 325.4 501.3 330.7C507.1 336 513.5 341.3 517.3 349.3C521.1 357.3 524 370.2 524 378.7C524 387.1 520.2 393.1 517.3 400C514.4 406.9 508.9 413.8 506.7 420C504.5 426.2 504.4 434.4 504 437.3" fill="none" stroke="#fff" stroke-width="7" stroke-linecap="round" stroke-linejoin="round" opacity="0.13"/>
<path d="M482.7 317.3C485.8 319.5 495.5 325.4 501.3 330.7C507.1 336 513.5 341.3 517.3 349.3C521.1 357.3 524 370.2 524 378.7C524 387.1 520.2 393.1 517.3 400C514.4 406.9 508.9 413.8 506.7 420C504.5 426.2 504.4 434.4 504 437.3" fill="none" stroke="url(#sp3)" stroke-width="8.5" stroke-linecap="round" stroke-linejoin="round" opacity="0.63"/>
<path d="M448 317.3C449.8 320 454.2 327.1 458.7 333.3C463.1 339.5 469.8 348 474.7 354.7C479.6 361.4 484.4 367.5 488 373.3C491.6 379.1 495.1 383.7 496 389.3C496.9 394.9 494.9 400.9 493.3 406.7C491.8 412.5 487.6 420 486.7 424C485.8 428 487.8 429.6 488 430.7" fill="none" stroke="#fff" stroke-width="8" stroke-linecap="round" stroke-linejoin="round" opacity="0.13"/>
<path d="M448 317.3C449.8 320 454.2 327.1 458.7 333.3C463.1 339.5 469.8 348 474.7 354.7C479.6 361.4 484.4 367.5 488 373.3C491.6 379.1 495.1 383.7 496 389.3C496.9 394.9 494.9 400.9 493.3 406.7C491.8 412.5 487.6 420 486.7 424C485.8 428 487.8 429.6 488 430.7" fill="none" stroke="url(#sp3)" stroke-width="9.5" stroke-linecap="round" stroke-linejoin="round" opacity="0.63"/>
<path d="M455 312C457.5 312.7 465.2 314.7 470 316C474.8 317.3 481.7 319.3 484 320" fill="none" stroke="#fff" stroke-width="6" stroke-linecap="round" stroke-linejoin="round" opacity="0.11"/>
<path d="M455 312C457.5 312.7 465.2 314.7 470 316C474.8 317.3 481.7 319.3 484 320" fill="none" stroke="url(#sp3)" stroke-width="7.5" stroke-linecap="round" stroke-linejoin="round" opacity="0.53"/>
<path d="M460 376C461.1 377.8 465.1 382.7 466.7 386.7C468.2 390.7 469.1 395.6 469.3 400C469.5 404.4 468.7 408.9 468 413.3C467.3 417.8 464.6 423.4 465.3 426.7C466 430 469.1 431.1 472 433.3C474.9 435.5 479.1 438.4 482.7 440C486.2 441.6 491.5 442.2 493.3 442.7" fill="none" stroke="#fff" stroke-width="5" stroke-linecap="round" stroke-linejoin="round" opacity="0.12"/>
<path d="M460 376C461.1 377.8 465.1 382.7 466.7 386.7C468.2 390.7 469.1 395.6 469.3 400C469.5 404.4 468.7 408.9 468 413.3C467.3 417.8 464.6 423.4 465.3 426.7C466 430 469.1 431.1 472 433.3C474.9 435.5 479.1 438.4 482.7 440C486.2 441.6 491.5 442.2 493.3 442.7" fill="none" stroke="url(#sp3)" stroke-width="6.5" stroke-linecap="round" stroke-linejoin="round" opacity="0.58"/>
<path d="M520 466.7C522.7 468.7 530.7 474.7 536 478.7C541.3 482.7 547.5 486.5 552 490.7C556.5 494.9 560.5 498.7 562.7 504C564.9 509.3 565.1 515.6 565.3 522.7C565.5 529.8 565.3 539.2 564 546.7C562.7 554.2 559.8 561.3 557.3 568C554.8 574.7 552.4 580.9 549.3 586.7C546.2 592.5 542.7 598.3 538.7 602.7C534.7 607.1 529.3 610.9 525.3 613.3C521.3 615.7 516.5 616.6 514.7 617.3" fill="none" stroke="#fff" stroke-width="2.4" stroke-linecap="round" stroke-linejoin="round" opacity="0.13"/>
<path d="M520 466.7C522.7 468.7 530.7 474.7 536 478.7C541.3 482.7 547.5 486.5 552 490.7C556.5 494.9 560.5 498.7 562.7 504C564.9 509.3 565.1 515.6 565.3 522.7C565.5 529.8 565.3 539.2 564 546.7C562.7 554.2 559.8 561.3 557.3 568C554.8 574.7 552.4 580.9 549.3 586.7C546.2 592.5 542.7 598.3 538.7 602.7C534.7 607.1 529.3 610.9 525.3 613.3C521.3 615.7 516.5 616.6 514.7 617.3" fill="none" stroke="url(#sp3)" stroke-width="3.9" stroke-linecap="round" stroke-linejoin="round" opacity="0.63"/>
<path d="M497.3 469.3C495.1 471.1 486.7 476.4 484 480C481.3 483.6 480.9 486.7 481.3 490.7C481.8 494.7 484.7 499.1 486.7 504C488.7 508.9 491.3 515.1 493.3 520C495.3 524.9 497.4 529.8 498.7 533.3C500 536.8 500.9 540 501.3 541.3" fill="none" stroke="#fff" stroke-width="3" stroke-linecap="round" stroke-linejoin="round" opacity="0.12"/>
<path d="M497.3 469.3C495.1 471.1 486.7 476.4 484 480C481.3 483.6 480.9 486.7 481.3 490.7C481.8 494.7 484.7 499.1 486.7 504C488.7 508.9 491.3 515.1 493.3 520C495.3 524.9 497.4 529.8 498.7 533.3C500 536.8 500.9 540 501.3 541.3" fill="none" stroke="url(#sp3)" stroke-width="4.5" stroke-linecap="round" stroke-linejoin="round" opacity="0.58"/>
<path d="M504 573.3C504.4 576.6 505.4 586.6 506.7 593.3C508 600 511.1 610 512 613.3" fill="none" stroke="#fff" stroke-width="2" stroke-linecap="round" stroke-linejoin="round" opacity="0.07"/>
<path d="M504 573.3C504.4 576.6 505.4 586.6 506.7 593.3C508 600 511.1 610 512 613.3" fill="none" stroke="url(#sp3)" stroke-width="3.5" stroke-linecap="round" stroke-linejoin="round" opacity="0.35"/>
<path d="M426.7 184.7C433.4 186.9 454.3 192.2 466.7 198C479.1 203.8 491.1 212.2 501.3 219.3C511.5 226.4 520 232.7 528 240.7C536 248.7 543.1 257.5 549.3 267.3C555.5 277.1 560 287.7 565.3 299.3C570.6 310.9 576 326 581.3 336.7C586.6 347.4 592.4 354.4 597.3 363.3C602.2 372.2 606.2 381.1 610.7 390C615.2 398.9 620.5 405.6 624 416.7C627.5 427.8 630.2 443.4 632 456.7C633.8 470 634.2 481.1 634.7 496.7C635.2 512.2 634.8 528.3 634.7 550C634.6 571.7 636.3 611.7 634 626.7C631.7 641.7 625.2 634.2 620.7 640C616.2 645.8 610.9 654.6 607.3 661.3C603.7 668 604.2 673.3 599.3 680C594.4 686.7 586 694.2 578 701.3C570 708.4 561.5 715.6 551.3 722.7C541.1 729.8 529.1 737.8 516.7 744C504.3 750.2 487.8 756 476.7 760C465.6 764 454.4 766.7 450 768" fill="none" stroke="#fff" stroke-width="3.5" stroke-linecap="round" stroke-linejoin="round" opacity="0.08"/>
<path d="M426.7 184.7C433.4 186.9 454.3 192.2 466.7 198C479.1 203.8 491.1 212.2 501.3 219.3C511.5 226.4 520 232.7 528 240.7C536 248.7 543.1 257.5 549.3 267.3C555.5 277.1 560 287.7 565.3 299.3C570.6 310.9 576 326 581.3 336.7C586.6 347.4 592.4 354.4 597.3 363.3C602.2 372.2 606.2 381.1 610.7 390C615.2 398.9 620.5 405.6 624 416.7C627.5 427.8 630.2 443.4 632 456.7C633.8 470 634.2 481.1 634.7 496.7C635.2 512.2 634.8 528.3 634.7 550C634.6 571.7 636.3 611.7 634 626.7C631.7 641.7 625.2 634.2 620.7 640C616.2 645.8 610.9 654.6 607.3 661.3C603.7 668 604.2 673.3 599.3 680C594.4 686.7 586 694.2 578 701.3C570 708.4 561.5 715.6 551.3 722.7C541.1 729.8 529.1 737.8 516.7 744C504.3 750.2 487.8 756 476.7 760C465.6 764 454.4 766.7 450 768" fill="none" stroke="url(#sp3)" stroke-width="5.0" stroke-linecap="round" stroke-linejoin="round" opacity="0.39"/>
<path d="M581.3 336.7C584 341.1 592.4 354.4 597.3 363.3C602.2 372.2 608.5 385.6 610.7 390" fill="none" stroke="#fff" stroke-width="5" stroke-linecap="round" stroke-linejoin="round" opacity="0.11"/>
<path d="M581.3 336.7C584 341.1 592.4 354.4 597.3 363.3C602.2 372.2 608.5 385.6 610.7 390" fill="none" stroke="url(#sp3)" stroke-width="6.5" stroke-linecap="round" stroke-linejoin="round" opacity="0.53"/>
<path d="M633 560C633.2 566.7 634.2 588.7 634 600C633.8 611.3 632.3 623.3 632 628" fill="none" stroke="#fff" stroke-width="4" stroke-linecap="round" stroke-linejoin="round" opacity="0.13"/>
<path d="M633 560C633.2 566.7 634.2 588.7 634 600C633.8 611.3 632.3 623.3 632 628" fill="none" stroke="url(#sp3)" stroke-width="5.5" stroke-linecap="round" stroke-linejoin="round" opacity="0.62"/>
<path d="M596 427C597.7 426 603.2 422.3 606 421C608.8 419.7 611.8 419.3 613 419" fill="none" stroke="#fff" stroke-width="4" stroke-linecap="round" stroke-linejoin="round" opacity="0.13"/>
<path d="M596 427C597.7 426 603.2 422.3 606 421C608.8 419.7 611.8 419.3 613 419" fill="none" stroke="url(#sp3)" stroke-width="5.5" stroke-linecap="round" stroke-linejoin="round" opacity="0.62"/>
<path d="M360 637C364.2 640 377 651 385 655C393 659 401.3 660.3 408 661C414.7 661.7 419.7 660.3 425 659C430.3 657.7 437.5 654 440 653" fill="none" stroke="#fff" stroke-width="1.6" stroke-linecap="round" stroke-linejoin="round" opacity="0.16"/>
<path d="M360 637C364.2 640 377 651 385 655C393 659 401.3 660.3 408 661C414.7 661.7 419.7 660.3 425 659C430.3 657.7 437.5 654 440 653" fill="none" stroke="url(#sp3)" stroke-width="3.1" stroke-linecap="round" stroke-linejoin="round" opacity="0.79"/>
<path d="M330 215C321.7 218.3 295 226.7 280 235C265 243.3 251 254.2 240 265C229 275.8 219.8 288.3 214 300C208.2 311.7 205.3 324.2 205 335C204.7 345.8 207.8 356.7 212 365C216.2 373.3 227 381.7 230 385" fill="none" stroke="#fff" stroke-width="16" stroke-linecap="round" stroke-linejoin="round" opacity="0.03"/>
<path d="M330 215C321.7 218.3 295 226.7 280 235C265 243.3 251 254.2 240 265C229 275.8 219.8 288.3 214 300C208.2 311.7 205.3 324.2 205 335C204.7 345.8 207.8 356.7 212 365C216.2 373.3 227 381.7 230 385" fill="none" stroke="url(#sp3)" stroke-width="17.5" stroke-linecap="round" stroke-linejoin="round" opacity="0.14"/>
<path d="M300 735C305 739.2 313.3 753.3 330 760C346.7 766.7 375 773 400 775C425 777 456.7 776.2 480 772C503.3 767.8 530 753.7 540 750" fill="none" stroke="#fff" stroke-width="14" stroke-linecap="round" stroke-linejoin="round" opacity="0.04"/>
<path d="M300 735C305 739.2 313.3 753.3 330 760C346.7 766.7 375 773 400 775C425 777 456.7 776.2 480 772C503.3 767.8 530 753.7 540 750" fill="none" stroke="url(#sp3)" stroke-width="15.5" stroke-linecap="round" stroke-linejoin="round" opacity="0.21"/>
</g>
<g id="red">
<polygon points="1381.0,529.3 1416.7,529.3 1416.7,612.0 1381.0,612.0" fill="#d62728" fill-opacity="0.72" stroke="#fff" stroke-width="3.5" filter="url(#rough)"/>
<polygon points="1150.0,729.3 1180.7,729.3 1180.7,764.0 1150.0,764.0" fill="#d62728" fill-opacity="0.72" stroke="#fff" stroke-width="3.5" filter="url(#rough)"/>
<path d="M1083 328h0m38 1h0m11 0h0m62 1h0m43 6h0m-10 0h0m-17-1h0m1 0h0m-5-2h0m-10 1h0m1 0h0m-63-1h0m1 0h0m-1-2h0m-11 1h0m-3 0h0m-19 2h0m-4-3h0m-12 1h0m1 2h0m-42-2h0m-20 1h0m-6 2h0m-4-4h0m3 1h0m3 1h0m-30 1h0m-7 1h0m-2 0h0m-82 5h0m4 2h0m11-1h0m8 1h0m9-2h0m8 1h0m-1-2h0m0 2h0m0-1h0m2 2h0m3-2h0m12 2h0m25-6h0m2 2h0m29-1h0m48 4h0m24 0h0m-2 0h0m11-5h0m17 5h0m16-1h0m1-2h0m61-1h0m6 4h0m-4 0h0m1-1h0m3 0h0m1 1h0m27-4h0m-1 4h0m7-1h0m14 0h0m6 1h0m3 7h0m-4-4h0m-13 1h0m-7 0h0m2 3h0m-9-5h0m-10 1h0m0 2h0m-3-1h0m3-2h0m-7 2h0m-1 0h0m-1-1h0m5 0h0m-6 2h0m1-2h0m-6 2h0m0-1h0m5 2h0m-2-4h0m-8 4h0m0-3h0m2-2h0m0 1h0m2 5h0m-5-5h0m-6-1h0m4 5h0m1 0h0m1 1h0m-6-1h0m-33-1h0m-1 0h0m-5 0h0m-8-2h0m-6 1h0m-9-2h0m-26 3h0m-18-2h0m3 0h0m-17 0h0m-115 1h0m-10-2h0m0 5h0m4-5h0m0 1h0m-9 1h0m1 1h0m0 1h0m-1-5h0m-12 0h0m-1 2h0m-5 2h0m0 2h0m2-2h0m-2-2h0m-8 1h0m2-2h0m1 3h0m2 0h0m-10 1h0m0 0h0m4-4h0m-5 4h0m-1-4h0m0 2h0m6 8h0m3 0h0m4-2h0m-3-1h0m6-1h0m2 4h0m-5-3h0m4 2h0m1-2h0m12 2h0m-3 1h0m7 1h0m0-6h0m3 1h0m-1-1h0m0 6h0m3-4h0m3-1h0m2 2h0m-1-1h0m9 0h0m190-2h0m-1 2h0m0-1h0m18 0h0m20 2h0m7 1h0m2-3h0m6 4h0m1-4h0m4-1h0m-3 5h0m0-5h0m18 1h0m0 0h0m6 5h0m4-3h0m-2 1h0m7-4h0m18 5h0m14-1h0m-1 1h0m-2 0h0m-2 0h0m14-1h0m2 0h0m2 1h0m10-1h0m-1 1h0m-1 4h0m-11-3h0m-16 5h0m2-2h0m-8-2h0m5-1h0m0 4h0m-2 1h0m1-4h0m-9 5h0m4 0h0m0-1h0m-1 0h0m-6-5h0m0 5h0m-3-4h0m1 3h0m-4 1h0m-8-5h0m-11 3h0m0-1h0m-15 3h0m0-1h0m-253-4h0m-9 3h0m1 3h0m-1-6h0m-7 6h0m1-4h0m0 4h0m-6-6h0m0 1h0m0 0h0m3 3h0m-8 2h0m1-1h0m-3-3h0m-5 2h0m-1 1h0m2-3h0m-4 0h0m-10 3h0m-1-2h0m-12 4h0m11 0h0m1 4h0m5-4h0m-4 1h0m2 1h0m9-1h0m-1 0h0m-2 2h0m3 2h0m1-5h0m5 0h0m4 1h0m-2 1h0m273-2h0m5 5h0m5-2h0m11 0h0m3-3h0m-2 3h0m-2-2h0m9-2h0m19 5h0m1 1h0m3-3h0m1-1h0m6 0h0m-3 0h0m-1 2h0m15 2h0m6-5h0m5 1h0m8-1h0m0-1h0m5 3h0m5 2h0m16 0h0m1 5h0m0-1h0m-6-1h0m2 0h0m2 0h0m-3-1h0m0 2h0m-3-1h0m-3 4h0m3-1h0m-5 0h0m3-5h0m-4 4h0m-3-2h0m-2 2h0m-8 1h0m2-2h0m-12 0h0m1-1h0m3 2h0m-4 0h0m-5-1h0m3 2h0m-16 0h0m-11-1h0m-18-1h0m2 1h0m-2-4h0m0 5h0m-2 1h0m-2-5h0m-1-1h0m-21 1h0m-289 2h0m-1-1h0m0 2h0m-15 7h0m8 1h0m319-5h0m3 0h0m3 0h0m13 4h0m-3 0h0m14-1h0m18-3h0m2 5h0m6-5h0m-2 1h0m21 2h0m0-1h0m5-1h0m5 2h0m0-2h0m7 3h0m-4-2h0m1-2h0m-1 4h0m25-1h0m-6 7h0m-19 0h0m-6-1h0m0-2h0m4 3h0m-2-5h0m-6 6h0m-6 0h0m-5 0h0m-1 0h0m1-5h0m-16 1h0m-5-1h0m-3 1h0m-2-2h0m4 3h0m-10 1h0m2 1h0m-9-2h0m-352-1h0m-7 1h0m-23-1h0m-16 3h0m413 2h0m-1 2h0m3 1h0m20-1h0m7-2h0m20 1h0m-1 0h0m2 3h0m6-1h0m3-2h0m7-1h0m-2 4h0m-1-1h0m10 0h0m-3 0h0m-2-4h0m0 2h0m14 7h0m-2 2h0m-2-1h0m-3-1h0m2 1h0m2 0h0m-20 0h0m-3 1h0m-3-5h0m-1 1h0m4 4h0m-3-3h0m0 0h0m-7 2h0m-8-1h0m6 0h0m-8 0h0m-18 3h0m1-4h0m0 3h0m-1-2h0m-3 3h0m-1-4h0m3 3h0m0 0h0m-5-3h0m-1 0h0m-415 3h0m430 6h0m-2 0h0m28-4h0m7 3h0m-2-1h0m10 2h0m1-2h0m1-2h0m15 3h0m-4 0h0m10 8h0m-3-2h0m0 0h0m3 1h0m0 1h0m-4-4h0m-22-1h0m0 1h0m1-1h0m-4-1h0m-7 4h0m0-1h0m2 1h0m-5 0h0m-11-4h0m-1 4h0m1 1h0m-6-3h0m1 3h0m-3-1h0m2-3h0m4 3h0m-8-2h0m-1-2h0m-440 3h0m-11 8h0m9-3h0m-2 3h0m1-2h0m451 0h0m5 0h0m-3 1h0m3 0h0m4-2h0m-1 3h0m4-1h0m-2-1h0m2 2h0m9-3h0m1 0h0m-1 2h0m1 2h0m-2-2h0m9-3h0m8 0h0m4-1h0m0 2h0m8 0h0m17 3h0m2 1h0m-3 5h0m-13-2h0m-1 0h0m-5-2h0m-3 1h0m-15-1h0m-9 1h0m-2 1h0m-5-2h0m0-1h0m-3 4h0m-464 7h0m467-4h0m10-1h0m14 6h0m3-4h0m11 4h0m-1-4h0m4 1h0m-1-1h0m0 0h0m-3-1h0m11 5h0m1-6h0m-6 3h0m10-2h0m10 8h0m2 3h0m-5-6h0m-10 2h0m-1-2h0m0 0h0m-7 3h0m-5-1h0m-6 3h0m-3-1h0m-3-2h0m5 3h0m-9-2h0m1 1h0m-3 1h0m-3-4h0m2-1h0m-10 1h0m-496 8h0m14-3h0m-3 4h0m6-1h0m489-2h0m2 1h0m5-2h0m11 3h0m0 2h0m6-3h0m3 4h0m15 0h0m5-3h0m2 5h0m-10-1h0m-19 1h0m3 1h0m-6-2h0m-2 4h0m0-3h0m0 2h0m1-2h0m-1 2h0m-1 0h0m3-2h0m-10 3h0m1 0h0m-6-1h0m-498-1h0m3 1h0m-5-2h0m-22 4h0m-8 0h0m17 4h0m0-3h0m-1 1h0m2 3h0m0 0h0m5-2h0m-1-2h0m2 1h0m6 0h0m0 2h0m506 0h0m2 1h0m12 0h0m11 0h0m8 0h0m0 1h0m0-6h0m-4 2h0m0 1h0m16 2h0m8 5h0m1-1h0m-7-1h0m3 1h0m-2-3h0m-1 4h0m-9-3h0m2-1h0m-5 2h0m-1-1h0m-12 2h0m-4 0h0m1 3h0m-14-1h0m-3-2h0m-536 0h0m1-2h0m1 5h0m1-1h0m-8 0h0m2-3h0m0 1h0m-1 8h0m-1-5h0m4 2h0m1 0h0m-1 2h0m9-3h0m3 4h0m8-2h0m3-3h0m3 1h0m516 5h0m32-4h0m12 0h0m-1 0h0m0-1h0m5 8h0m-4 2h0m-2-4h0m3-1h0m-6 2h0m-2 2h0m-8-2h0m2 2h0m-2-3h0m0 2h0m3 3h0m-6-4h0m-2 0h0m-1 1h0m-23-3h0m-525 3h0m-9 0h0m-1 1h0m-1-1h0m2-1h0m-5-1h0m-4-1h0m4 9h0m4 1h0m9-1h0m546 1h0m5 1h0m-1-3h0m-2-2h0m2 4h0m1-4h0m-1 0h0m6 3h0m10-1h0m4 3h0m2-3h0m2 3h0m0 0h0m-2 5h0m-5-1h0m1-2h0m-7 1h0m-2 4h0m-10-2h0m-549-3h0m-7 0h0m-15 4h0m3-1h0m-9 6h0m1-4h0m11 3h0m-2 0h0m-1 1h0m-1 1h0m3-4h0m2 3h0m4-2h0m4 1h0m550 2h0m0 0h0m20-5h0m-3 2h0m3 2h0m5 0h0m5-2h0m3 4h0m8-3h0m-2 3h0m-3-4h0m1 3h0m-3 5h0m-2 0h0m2-3h0m-11 3h0m0 0h0m3 0h0m-1-2h0m0 2h0m-2 2h0m-12-1h0m3-4h0m-6 3h0m-2 2h0m0-1h0m4-4h0m-9 4h0m1-1h0m-2 1h0m0 0h0m-1-1h0m5 1h0m-3 0h0m-2-4h0m-547 3h0m-9 1h0m2-5h0m-5 6h0m-2-6h0m1 7h0m-1 0h0m7 3h0m1 1h0m-3 0h0m558-5h0m3 1h0m7-1h0m-3 0h0m2 5h0m-5-3h0m4 1h0m-3-3h0m8 5h0m4-1h0m4 0h0m1 1h0m-1-5h0m-3 2h0m-2 0h0m7 4h0m3-2h0m-1-3h0m2 2h0m-4-2h0m9 4h0m6 0h0m0 7h0m-1-4h0m-2 0h0m1-2h0m-1 3h0m-9 2h0m2-4h0m-2 4h0m2-5h0m-12 4h0m0 1h0m-2-2h0m-4 2h0m-9-4h0m-562 4h0m-4 0h0m0-4h0m-6 4h0m3 0h0m2-4h0m-7 2h0m-1 4h0m6 0h0m-3 1h0m3 0h0m1-2h0m-2 1h0m5 2h0m0-1h0m-1-2h0m567 1h0m0-1h0m5 2h0m5 2h0m-1-2h0m2-1h0m-2-1h0m7 2h0m2-1h0m6 1h0m0 2h0m8-3h0m-6-1h0m11 2h0m-2 2h0m-1-1h0m2-2h0m0 5h0m0-1h0m0-1h0m2-1h0m0 4h0m-1-1h0m0 0h0m-7 3h0m1-1h0m-2 1h0m3 2h0m0 1h0m-1-2h0m-10-1h0m5 1h0m-1 0h0m-10-2h0m0 0h0m2 3h0m-7-5h0m-5 1h0m-564 4h0m-2-5h0m0 5h0m1 0h0m0-1h0m1-4h0m-8 5h0m1-5h0m1 6h0m-7 2h0m2 0h0m-2-2h0m-1 3h0m7 1h0m4-4h0m-2 4h0m0-3h0m-4 1h0m572 1h0m3-1h0m-1 3h0m-1-1h0m0-1h0m6 3h0m3-4h0m6-2h0m12 4h0m-2-3h0m0 3h0m1 1h0m-1-4h0m3 0h0m4 5h0m-5-4h0m3 5h0m-4 4h0m-4-1h0m3-3h0m-7 4h0m-9-5h0m2 5h0m-10-4h0m-567 4h0m2-2h0m-1 0h0m-3 1h0m-3-4h0m-8 6h0m15 6h0m569-1h0m3-2h0m-2-1h0m4 3h0m4-2h0m6 1h0m-3-2h0m0 2h0m8 2h0m-1-4h0m2 2h0m-5 2h0m2-6h0m9 2h0m-3-1h0m2 4h0m0-1h0m-4-2h0m2 4h0m0-4h0m-1 2h0m7-1h0m1-2h0m0 1h0m1 0h0m-3 0h0m1 1h0m-2-1h0m1 0h0m8 2h0m-3-1h0m5 2h0m-5-1h0m5 0h0m1-2h0m0 5h0m-3 1h0m-2 1h0m-2-1h0m-3 2h0m3 1h0m-1 0h0m-3 0h0m0 0h0m1-1h0m-2 2h0m-3-1h0m-9-3h0m1 2h0m1 0h0m1-2h0m2 2h0m-3 0h0m-1 1h0m-6-2h0m4 1h0m0-1h0m-5 1h0m4-1h0m0 0h0m-3 0h0m4-2h0m1 2h0m-13-2h0m-8 2h0m2 2h0m-571-4h0m-10 10h0m1-1h0m0-3h0m585 4h0m-3-2h0m7 2h0m-1-1h0m6-4h0m1 5h0m-1-1h0m5-1h0m-3-1h0m0-1h0m0 2h0m5-2h0m-2 3h0m0-4h0m4 5h0m-1-2h0m-2-3h0m2 5h0m-1-2h0m4 0h0m-4 1h0m-1-2h0m2 4h0m-1-3h0m-1 0h0m2-1h0m1-1h0m0-1h0m-1 4h0m7-3h0m-1-1h0m0 4h0m0-3h0m-1 5h0m1-5h0m2-1h0m6 4h0m-4-2h0m3 4h0m-3-1h0m0-4h0m3 4h0m-3-1h0m4 2h0m5-5h0m-3 4h0m2-2h0m-1-2h0m-2 2h0m4 0h0m-3 6h0m4 2h0m-1-1h0m1-2h0m0 2h0m0-2h0m-2 2h0m1-1h0m-7-1h0m0 1h0m0-1h0m-1 1h0m2-1h0m-4 2h0m5 0h0m-9-3h0m-1 2h0m-1 0h0m5-3h0m-6 4h0m-1-1h0m0 0h0m-2 1h0m2-3h0m-1 0h0m1 0h0m1 4h0m-4 1h0m2-1h0m-8-4h0m4 3h0m-4-3h0m-5 2h0m-1-1h0m3 0h0m2 2h0m-1-1h0m-1-2h0m-7 0h0m0-1h0m-3 1h0m-576 2h0m-8 0h0m-10 9h0m8-2h0m10 1h0m-3-1h0m579 0h0m0-2h0m1 1h0m8 2h0m2-3h0m-1-1h0m-1 3h0m4 1h0m0 1h0m1-5h0m2 2h0m-1 1h0m-2 0h0m6-1h0m3-1h0m-2-1h0m9 4h0m0-5h0m1 0h0m-4 2h0m-1 4h0m3-3h0m-2-3h0m3 2h0m0 3h0m6-4h0m-4 4h0m3 0h0m1-3h0m-1 4h0m5-6h0m0 1h0m0 3h0m2-1h0m-2-1h0m3 1h0m-4 5h0m3 2h0m-4-1h0m2-1h0m-2 3h0m1-1h0m-1-3h0m2 2h0m-6-2h0m1 4h0m-3-3h0m-1 1h0m-5-3h0m2 4h0m0-2h0m2 3h0m-9 0h0m-2 1h0m2-4h0m-7 0h0m0 0h0m0 1h0m2 1h0m-3 0h0m1-3h0m-1 5h0m2-3h0m2 3h0m-8-2h0m-1 1h0m1-3h0m2 1h0m1 0h0m-2 0h0m2 1h0m-1 2h0m-5-5h0m-4 5h0m-2-3h0m-584-1h0m12 10h0m575-5h0m4 1h0m4 3h0m0-3h0m1 0h0m0-1h0m-1 5h0m-1-5h0m1 5h0m4-2h0m3 1h0m-5 0h0m1-5h0m1 4h0m3-4h0m-1 6h0m-3-6h0m5 5h0m3-3h0m-1 4h0m6-1h0m1-2h0m0 1h0m-3 1h0m4-4h0m-1-1h0m0 5h0m7-4h0m-1 2h0m-3 1h0m2-2h0m-2 4h0m9-4h0m1 0h0m-3 0h0m0 10h0m2 0h0m-2-4h0m-5 0h0m3 4h0m-3-2h0m0-1h0m3-1h0m-2-1h0m2 0h0m-9 4h0m-2-3h0m-3 3h0m1-3h0m-3-2h0m4 4h0m-4-3h0m5 0h0m-4 2h0m-7 3h0m3-6h0m-1 6h0m1-3h0m1 2h0m-4-1h0m4 0h0m-4-4h0m-1 1h0m0 3h0m3 0h0m-5 1h0m0-1h0m-2-1h0m1-1h0m0 3h0m-5-2h0m1 0h0m-8-2h0m0 1h0m0 2h0m-580 5h0m6-2h0m6 0h0m2 2h0m567-2h0m-2 5h0m0-5h0m4 3h0m5 1h0m-5-3h0m5 0h0m-3 3h0m0-4h0m0 5h0m9 0h0m1-4h0m-4 0h0m1 3h0m-2-1h0m4 0h0m7-1h0m-2 1h0m-1-2h0m2-1h0m4 0h0m-2 2h0m0-2h0m6 3h0m1-1h0m4-2h0m1 2h0m0-1h0m4 1h0m-1 1h0m5-1h0m-2 0h0m5 2h0m1 7h0m-1-3h0m-4 1h0m-1 1h0m1-3h0m-7 1h0m-1 2h0m2-3h0m-1 0h0m-1 0h0m0 3h0m1 0h0m3-3h0m-1-1h0m-7 3h0m-2 1h0m2-4h0m-1 4h0m2-3h0m0 3h0m-4-5h0m1 2h0m-4-2h0m2 1h0m-1 3h0m-1-2h0m3 1h0m-8-2h0m-1 2h0m3-1h0m0 1h0m-2-1h0m3 2h0m-8-4h0m-1 1h0m2 3h0m1-2h0m-4 1h0m-7 0h0m-1 2h0m-3-1h0m-562 2h0m0-1h0m-4-1h0m-13-1h0m3 7h0m0-3h0m-1 2h0m5-1h0m6 3h0m4-2h0m-4 1h0m7-3h0m567 0h0m0 2h0m-3 0h0m4-1h0m6 2h0m-3-1h0m1 0h0m1 1h0m3 1h0m1-2h0m-2 2h0m3-1h0m7 1h0m0-2h0m6 1h0m-3-1h0m0 2h0m2 1h0m6-6h0m-1 1h0m-2 4h0m2-4h0m2-1h0m1 4h0m-1-2h0m-5-2h0m10 2h0m-1-1h0m-3 5h0m2 4h0m3-2h0m0 2h0m-4-4h0m-4 4h0m-2-3h0m5 3h0m-5-3h0m-1 4h0m1 1h0m-2-6h0m1 4h0m-1 0h0m-3-1h0m-8 2h0m3-4h0m-5 2h0m-1 2h0m3-1h0m-3-4h0m1 2h0m-4 3h0m-5-1h0m4-2h0m0-1h0m-3 1h0m3 2h0m-9-4h0m2 1h0m0 0h0m-4 3h0m1-2h0m-2 3h0m-4-4h0m1 2h0m-4 2h0m-555-4h0m1 2h0m-1 0h0m-7-1h0m3 1h0m2-1h0m-5 0h0m-11-1h0m-1 0h0m2 2h0m-2-1h0m-1 4h0m3 4h0m7 2h0m8-4h0m-4-2h0m561 2h0m3-1h0m0 4h0m0-4h0m11 1h0m-4 2h0m9 0h0m0-1h0m2 0h0m4-1h0m-2-1h0m3 2h0m-1 3h0m-4-1h0m0-1h0m-1 0h0m12-2h0m-2 0h0m-3 0h0m0-1h0m5 5h0m-5-4h0m0 0h0m9 3h0m0-3h0m-3 4h0m3-4h0m-3-1h0m2 5h0m-3-5h0m7 4h0m4 0h0m0-3h0m1 0h0m-5 1h0m0-1h0m8 0h0m-2 0h0m4 1h0m1-1h0m-5 1h0m2 0h0m-1 0h0m2-3h0m1 5h0m-5-2h0m5-2h0m1 3h0m0-4h0m0 7h0m-3 3h0m2-2h0m-2 0h0m0 0h0m-2 3h0m4-2h0m-9 2h0m1 0h0m-2-4h0m2 0h0m2 4h0m0-4h0m-2 0h0m-9 0h0m2 4h0m2-2h0m-1-2h0m0 4h0m-3 0h0m1-2h0m5 2h0m-7 0h0m-1-3h0m2 4h0m-3 0h0m-1 0h0m4-1h0m-3-1h0m-1 0h0m2 0h0m-3-4h0m-2 4h0m-3 1h0m-2 0h0m0-1h0m0-1h0m-4 0h0m3 2h0m0-5h0m-2 4h0m-2-3h0m3 1h0m-7 2h0m-4-1h0m-1 2h0m-8-3h0m0 2h0m-557-3h0m1 1h0m-3 1h0m-6-1h0m4 3h0m-7-2h0m-3 8h0m3-2h0m4 0h0m5-2h0m1 2h0m2-1h0m0 4h0m558-2h0m0 1h0m-3 0h0m-1-4h0m8 3h0m-1-2h0m4 2h0m-5-1h0m5 1h0m6 0h0m6-1h0m1-1h0m-5 2h0m8 1h0m-2-4h0m4-1h0m-5 2h0m1 0h0m6 0h0m0 0h0m-1-1h0m9 2h0m2 1h0m-1-2h0m-7 4h0m-7 4h0m2-4h0m-19 1h0m-9 1h0m3 3h0m0-5h0m-1 4h0m0 2h0m2 0h0m-561-3h0m4 1h0m-7-1h0m-4-1h0m6 3h0m-2-2h0m-5-1h0m-5 2h0m5-2h0m-1 1h0m-5 1h0m0 8h0m2-2h0m11-2h0m1 4h0m-1-3h0m4 0h0m552 2h0m-3-2h0m4 1h0m-4-3h0m6 2h0m8 2h0m2-1h0m1-1h0m-3 2h0m7-2h0m-3 1h0m0 0h0m6-1h0m11-2h0m-3 3h0m10 2h0m3-1h0m0 2h0m-3 1h0m3 0h0m-2 0h0m-3 2h0m-1 2h0m1-2h0m0-2h0m-5-2h0m6 4h0m-5-2h0m-10 0h0m0-1h0m-11 0h0m-2-1h0m1 5h0m-7 0h0m1-1h0m-6 0h0m0-3h0m0 0h0m0 5h0m-4 0h0m-542-5h0m-2 0h0m-4 4h0m3-3h0m-4 2h0m4 1h0m-2-4h0m-2 3h0m3 2h0m-7-1h0m-1-3h0m3 0h0m-4 1h0m3 3h0m-1-5h0m-7 2h0m-3-2h0m6 4h0m-4-1h0m-3-2h0m-1 1h0m7 4h0m-3-1h0m3 0h0m4 5h0m8 1h0m-3-2h0m4 0h0m6 2h0m535-1h0m0-4h0m0 4h0m9-5h0m-3 4h0m8-1h0m7-1h0m4-1h0m7 3h0m-1-3h0m2 2h0m-2 1h0m-1 1h0m3 0h0m4-3h0m-1 0h0m11-1h0m5 3h0m0-2h0m0 0h0m0 0h0m-3 4h0m-3 3h0m-11-2h0m-6 4h0m4-2h0m0-2h0m1 2h0m-14 1h0m3-2h0m-2 0h0m2 0h0m-14-2h0m-2 6h0m3-4h0m-1-1h0m-12 0h0m-2 5h0m2-2h0m-534-1h0m-2 1h0m1-2h0m1 2h0m-1 1h0m-1-3h0m-1 4h0m-6-1h0m-4 0h0m2-4h0m-1 2h0m1 2h0m-2-3h0m1 1h0m-1 6h0m1-2h0m6 4h0m533-3h0m24-1h0m-1-1h0m9 0h0m-3 5h0m2-4h0m1 1h0m5 4h0m0-3h0m3-2h0m1 3h0m9-1h0m0 0h0m-2-1h0m2 1h0m-1-1h0m14 0h0m-16 7h0m-3 3h0m-3-6h0m1 2h0m-8 1h0m1-3h0m3 4h0m0-4h0m-4 3h0m-5-1h0m0-1h0m-6 2h0m4-2h0m-3 4h0m2-3h0m-7 0h0m-8 1h0m4 0h0m-11-2h0m0 2h0m-3-3h0m-3 5h0m-1-1h0m1-2h0m-2 2h0m-524-1h0m-7 1h0m1 2h0m3-3h0m-6-2h0m0 11h0m-3-4h0m7-1h0m2 0h0m-1 1h0m-2 1h0m5 1h0m518 2h0m2-1h0m2-3h0m10-1h0m3 0h0m1 1h0m6 2h0m1 0h0m-1 0h0m-3-3h0m4 5h0m-2-2h0m-3-3h0m9 0h0m3 3h0m1-2h0m2 0h0m6 3h0m-2-1h0m0-2h0m-1 1h0m1-2h0m2 1h0m0 3h0m-2 0h0m3-2h0m0 1h0m6-4h0m-2 5h0m0-2h0m-2-3h0m9 4h0m3 1h0m-5 1h0m2-2h0m2-3h0m3 4h0m-1-3h0m3 1h0m-3-2h0m6 5h0m4 0h0m-1-3h0m4-1h0m-1-1h0m0 0h0m2 3h0m3 3h0m-4 2h0m-7 2h0m5-4h0m-3 2h0m-7-1h0m1 2h0m-2-3h0m1 2h0m-4 2h0m-2-1h0m0 0h0m1 1h0m2 0h0m-5 0h0m-1-4h0m-8-1h0m0 5h0m-7-4h0m1 5h0m-5-5h0m1 2h0m1 0h0m0 3h0m-7-5h0m-7 0h0m-2 4h0m4-2h0m-9 1h0m-8-3h0m1 2h0m-1-1h0m2 0h0m0 1h0m-6 1h0m3 0h0m-5-1h0m2-1h0m-3 3h0m6-5h0m-6 2h0m-498 4h0m-2-1h0m-21-2h0m10 3h0m0 3h0m4-3h0m6 2h0m1 1h0m-1-2h0m1 1h0m6 1h0m-2 1h0m1-3h0m-2 1h0m0 0h0m9-2h0m-1 6h0m0 0h0m495-2h0m4 0h0m2-2h0m-4 1h0m1-2h0m-1 1h0m6 1h0m2 2h0m0 1h0m0 0h0m-3 0h0m9-5h0m0 5h0m1-4h0m-5 1h0m10 0h0m1-1h0m0 0h0m-1 1h0m-1 1h0m-3-2h0m3 2h0m3 1h0m5-5h0m0 6h0m-3-5h0m1 1h0m2-2h0m2 0h0m4 4h0m1-3h0m-3 0h0m-2 1h0m8 3h0m-3 0h0m4-3h0m0 0h0m4 0h0m1-1h0m2 2h0m-1-2h0m7 1h0m0 3h0m-5 0h0m1-1h0m1 1h0m1 0h0m-3 0h0m8-3h0m1 3h0m1-3h0m-3 1h0m4 1h0m-4-2h0m13 2h0m1 7h0m0-2h0m3 2h0m-7-3h0m-9 0h0m-2 1h0m4 1h0m-8-1h0m0-2h0m1 2h0m-6-1h0m0-1h0m-1 1h0m-1 2h0m4-1h0m0 2h0m0-2h0m-10-1h0m2 2h0m-1 1h0m2 1h0m-9-3h0m3 1h0m0 0h0m-2-4h0m-1 4h0m-1 0h0m-1-1h0m0 0h0m-1-2h0m0 3h0m-9-1h0m4-2h0m-3 1h0m-6 0h0m2 2h0m-1-3h0m-2 2h0m2 1h0m-2-1h0m-6-2h0m1 0h0m2 2h0m-4-1h0m0 4h0m3-2h0m-9 2h0m4 0h0m0-3h0m-3 2h0m5-4h0m-7 3h0m-1-4h0m-492 3h0m0-1h0m-5 0h0m0-2h0m-2 2h0m1-1h0m-14 1h0m-2 7h0m9-3h0m-2 3h0m14 0h0m1 0h0m1-1h0m495 0h0m2-1h0m-3-1h0m4 2h0m-3-1h0m4-1h0m4 4h0m-2-3h0m10 2h0m1 1h0m1-1h0m0 2h0m-1-2h0m4 1h0m5-2h0m-4 3h0m2-1h0m5-3h0m3-1h0m-1 4h0m5-3h0m0-1h0m-1 2h0m1 0h0m0 4h0m10-5h0m-3 4h0m-2-1h0m-1-3h0m2 1h0m8 2h0m0-4h0m1 1h0m-5 1h0m7 4h0m4-3h0m-2-1h0m-1 2h0m-2 1h0m5 4h0m-5 1h0m-1 1h0m-2-1h0m-5-3h0m-1 0h0m1 4h0m-4-3h0m-2 3h0m1-2h0m0-1h0m0-1h0m-2 4h0m-2 1h0m1-6h0m-7 1h0m0 1h0m4 2h0m-2 0h0m-8-1h0m4 3h0m-5-1h0m-4-5h0m-1 6h0m-7-1h0m2-4h0m2 5h0m-3-1h0m-5-2h0m1 2h0m0 0h0m1-2h0m0-1h0m1-2h0m-9 4h0m0 0h0m-4-3h0m2 4h0m-2-1h0m-337 1h0m-159-3h0m-4 3h0m-2-3h0m2-1h0m-8 2h0m0 0h0m2-2h0m-2 1h0m3 1h0m-8-3h0m-2 1h0m6 6h0m6 3h0m-3-4h0m8 1h0m5 2h0m-2 2h0m11 0h0m1 0h0m13 1h0m3-3h0m-2 1h0m464-2h0m2 1h0m4 0h0m3-3h0m-1 4h0m4-1h0m-5-3h0m12 2h0m-1 1h0m-1-1h0m1 1h0m5-1h0m0-1h0m1 4h0m-2-2h0m3 2h0m2-1h0m4-3h0m-4-1h0m-1 6h0m9-2h0m-1-2h0m1 4h0m-3-3h0m3 0h0m7 0h0m-3-3h0m3 0h0m-4 2h0m0 1h0m-1-2h0m7 4h0m4-3h0m1-1h0m-3 0h0m2 2h0m-4 2h0m10-4h0m4 0h0m3 2h0m-3-2h0m0 3h0m2 2h0m0-2h0m4-1h0m3 2h0m0 1h0m-4-3h0m4 7h0m-6-3h0m4 2h0m1-3h0m1 0h0m-9 3h0m-1 0h0m3 0h0m0 1h0m-5 2h0m-6-3h0m3-1h0m1 1h0m-7-3h0m1 4h0m-3 1h0m5 0h0m-10-2h0m1 0h0m1 1h0m0-2h0m-1-1h0m-4 1h0m1 4h0m-5-1h0m2-1h0m-6 2h0m0-5h0m-2 0h0m1 1h0m2 1h0m0-2h0m-1 3h0m-3 2h0m-2-6h0m-2 6h0m1-5h0m-7 1h0m1-1h0m3 1h0m-12 1h0m5 1h0m-5-3h0m-3 4h0m1 0h0m0-1h0m-7-1h0m0-1h0m2 3h0m0-1h0m-2-3h0m-1 1h0m-2-1h0m2 1h0m-124 0h0m-9 1h0m-188 3h0m-4 0h0m-5-3h0m-8-1h0m0-2h0m-5 6h0m1-1h0m-121-5h0m1 1h0m-3 3h0m-4-3h0m0 1h0m-5-1h0m-1 5h0m-1-5h0m0 3h0m2-3h0m-3 0h0m-2 3h0m2-2h0m-6 1h0m-3-1h0m-5 4h0m-1-3h0m2 3h0m-3-1h0m-1-3h0m5 3h0m-1 0h0m-5-5h0m-1 6h0m0 2h0m4-2h0m1 0h0m-1 4h0m5-2h0m2-1h0m6 2h0m2 1h0m-5 2h0m1-2h0m4-2h0m5 4h0m0-5h0m-1 4h0m3 1h0m2-1h0m4-4h0m2 2h0m-1 2h0m4-2h0m0 0h0m119-2h0m15 4h0m1 1h0m5-6h0m178 1h0m18 0h0m-1 0h0m5 4h0m-3-4h0m1 4h0m0-4h0m112 2h0m3 1h0m0-2h0m4 3h0m2-4h0m4 2h0m-5-2h0m9 4h0m1-4h0m-3 0h0m-1 1h0m5-1h0m2 4h0m4-2h0m0 0h0m2 0h0m-2 1h0m0-1h0m9 3h0m3 0h0m-4-6h0m0 4h0m2-2h0m-2 1h0m-1 0h0m6 2h0m3-3h0m2 2h0m0 2h0m0-4h0m2 4h0m3-3h0m-5-1h0m1 1h0m-1 1h0m5-2h0m-3 2h0m9 2h0m-3 0h0m-2-3h0m4-1h0m0-1h0m-1 2h0m4 0h0m-1-1h0m6 3h0m-2 0h0m-3-2h0m4 1h0m-2-1h0m0 2h0m7-3h0m0-1h0m-3 1h0m0 0h0m3 1h0m-1-1h0m-1 0h0m-1 10h0m4-2h0m-8 0h0m-2 1h0m4-1h0m0-2h0m-5 3h0m-5-3h0m3 2h0m-3-2h0m-2 1h0m-1 1h0m2 2h0m-6 0h0m5-1h0m-4 1h0m-1-1h0m5-3h0m-5-1h0m-4 2h0m3 2h0m-8-3h0m-1-2h0m0 6h0m-7-5h0m-1 4h0m5 0h0m-6 0h0m0-5h0m-3 6h0m-6-5h0m-7 1h0m-1 2h0m1-3h0m1 2h0m0 0h0m3 0h0m-4 1h0m4-2h0m-8 1h0m2-2h0m-2 0h0m0 2h0m2 3h0m-10 0h0m3-4h0m-4 2h0m-104 0h0m-3-3h0m-15 3h0m-179-3h0m-3 1h0m-3-1h0m-4 0h0m-1 0h0m1 4h0m2-2h0m-6-2h0m-3 3h0m-4-2h0m0-2h0m-3 2h0m-130-1h0m-6 0h0m-1 0h0m6 0h0m-2 0h0m1 2h0m-2-1h0m-4-2h0m-3 1h0m1 2h0m1-2h0m-17-1h0m27 12h0m3-3h0m-2-1h0m6 2h0m121 2h0m4-3h0m14 2h0m1-3h0m-3 1h0m3-3h0m4 1h0m-1 4h0m-1-4h0m3 5h0m4-1h0m196-4h0m2 2h0m4 1h0m90-2h0m3 2h0m3 0h0m0-1h0m-3-1h0m-1-2h0m9 3h0m-3-2h0m5 0h0m-1 3h0m9-3h0m-1 3h0m1-3h0m-2 1h0m3 0h0m0-1h0m1 3h0m-3-3h0m7 5h0m0 0h0m1-2h0m4 1h0m8 0h0m-1-2h0m0 1h0m8 1h0m-4-3h0m-1-1h0m3 5h0m-1-4h0m-1-2h0m4 6h0m-4-1h0m8-4h0m-2 4h0m11-3h0m-3 1h0m1-2h0m6 1h0m1 2h0m0 1h0m-4-2h0m2-2h0m1 2h0m1-3h0m1 2h0m1-2h0m5 3h0m-2-2h0m1 1h0m-2-1h0m-2 3h0m7-1h0m2 0h0m1-2h0m-2 9h0m0 0h0m1-4h0m-3 4h0m-5 1h0m-1-4h0m3 0h0m-1 1h0m1 0h0m-2-1h0m-3 0h0m-8 3h0m0 0h0m-1-2h0m3 1h0m0-2h0m-1 0h0m-2-1h0m3 3h0m-7-2h0m-2 3h0m-5 1h0m-1-1h0m1-3h0m3 4h0m-4 0h0m1-2h0m-7 3h0m0-1h0m-1 0h0m3-4h0m-3 2h0m5-2h0m-3 3h0m0 1h0m-8 1h0m2-3h0m-5 0h0m1 0h0m0 2h0m-3-2h0m-5 3h0m2-5h0m-4 5h0m-4-3h0m-2 2h0m5-2h0m-5 1h0m0-3h0m-5 0h0m-2 4h0m-1 0h0m-6-3h0m-5 0h0m5 3h0m0-3h0m-8-1h0m1 0h0m-81 2h0m1 0h0m-1-2h0m-1 3h0m-2-3h0m-3 1h0m4 2h0m-40 1h0m-1 1h0m2-2h0m-3 1h0m-3 0h0m-1 0h0m2 0h0m-9-2h0m-151-2h0m-3 1h0m0 0h0m-1 1h0m-4 0h0m-5 1h0m-12-4h0m1 2h0m-6 0h0m-4 2h0m-6 1h0m5 0h0m-2 0h0m-9 0h0m2-3h0m-9 1h0m1 1h0m4-2h0m-6 2h0m-3 1h0m-13-1h0m-10-2h0m-8 1h0m3 2h0m-3 0h0m-4-1h0m-3 2h0m-2-3h0m1 0h0m-3 1h0m-5-1h0m0 0h0m-5 2h0m-4 0h0m-3-2h0m-2 1h0m4 0h0m-3-2h0m4 0h0m-13 2h0m1 1h0m-17-4h0m-6-1h0m1 1h0m2-1h0m1 2h0m-10 0h0m-2 0h0m12 6h0m-3 0h0m12 1h0m-1 1h0m9-4h0m-3 2h0m5 1h0m-1 0h0m10 1h0m1-1h0m1-3h0m0 3h0m-3 2h0m9-3h0m-3 1h0m3 0h0m4 0h0m-2 3h0m-1-4h0m18 1h0m-4 1h0m1-1h0m7 1h0m2 1h0m-3-2h0m9-2h0m-1 4h0m-2-1h0m-1 1h0m9-1h0m-1-3h0m8 2h0m-1 1h0m-2-2h0m5-2h0m-1 2h0m-1-1h0m4 3h0m-3 1h0m6-1h0m3-3h0m1-1h0m-2 1h0m4 5h0m4 0h0m-3 0h0m2-5h0m10 4h0m-1-3h0m5 0h0m7-1h0m11 4h0m-3-1h0m20-1h0m-4-2h0m1 1h0m3 2h0m0-3h0m-4 0h0m1 1h0m5 2h0m0-3h0m2 2h0m127 2h0m15-4h0m-1 3h0m2-2h0m-1 3h0m4 0h0m12-4h0m-4 1h0m0-2h0m0 3h0m4-1h0m2 1h0m0-1h0m8-2h0m18 6h0m14-2h0m-3 1h0m0 0h0m8-4h0m-4 1h0m4 3h0m-3-1h0m8 0h0m3-3h0m1 1h0m51 1h0m1 0h0m16-2h0m5-1h0m1 6h0m5-5h0m6 1h0m1 3h0m1 1h0m1-2h0m-2-1h0m2-2h0m-3 5h0m0-3h0m8-1h0m2 3h0m-5-1h0m10-4h0m-2 2h0m2-1h0m3 3h0m4-1h0m-3 2h0m6-2h0m5 2h0m3-5h0m7 4h0m-1 0h0m-3 1h0m4 0h0m12-3h0m1-1h0m2 2h0m2 0h0m-10 6h0m-1 0h0m-4-3h0m-1 5h0m-6-4h0m-5-1h0m-1 1h0m-2 0h0m-3 0h0m-1 1h0m3 1h0m-4 0h0m-2 2h0m-1 1h0m0-4h0m-4 4h0m-5-1h0m3-5h0m0 0h0m1 4h0m-5-4h0m-4 3h0m5 2h0m-4 0h0m4-4h0m-7 1h0m-4-2h0m-4 2h0m-1 1h0m-4 0h0m-2-1h0m3 1h0m-8 1h0m-9 0h0m2 1h0m-5 1h0m1-5h0m2 4h0m-5-1h0m3 1h0m-3-1h0m-2 1h0m-4-4h0m0 3h0m2 1h0m-8-2h0m1 3h0m-7-1h0m-1 0h0m-23 0h0m2-1h0m1-1h0m-7 0h0m-1 1h0m-2-1h0m5-2h0m-8 3h0m-6 0h0m-6 2h0m-3-3h0m1-1h0m0 1h0m1-3h0m1 4h0m1 0h0m-3-1h0m0-2h0m-3 3h0m-18-1h0m-16 0h0m4-1h0m-5 2h0m-1-2h0m-1 1h0m0 2h0m2 0h0m-4-2h0m3 3h0m-1-5h0m0 2h0m-6-2h0m1 1h0m-1-1h0m0 4h0m3-3h0m-7 0h0m-11 4h0m5-1h0m0 0h0m-16 0h0m0-3h0m-1-2h0m-2 2h0m-1 3h0m-11 0h0m-98-3h0m2 3h0m-9-3h0m-1 1h0m-1 0h0m0-2h0m-1 1h0m-18-1h0m0 0h0m-14 0h0m0 0h0m-5 2h0m-1-1h0m-2 2h0m-6-1h0m2 2h0m-3 0h0m0-2h0m-4 3h0m1-1h0m-5-3h0m3 1h0m-7-3h0m-10 4h0m2 2h0m-2-3h0m-7 1h0m2-2h0m4 0h0m-7 0h0m-1 0h0m-2-2h0m1 3h0m-2-1h0m0 1h0m-3 2h0m-4 1h0m4-5h0m-6 0h0m2 3h0m-11-1h0m-3 3h0m2 0h0m-2-1h0m1 1h0m-6 0h0m-4-6h0m5 5h0m-8-3h0m2 3h0m-9-1h0m3-3h0m-10 5h0m-6-3h0m-2 0h0m-3-2h0m-6 0h0m0 1h0m-2-1h0m-4-1h0m0 4h0m0-1h0m-3-1h0m-2 0h0m13 8h0m3-1h0m8 1h0m5-3h0m-2 2h0m13-1h0m-1 4h0m2-1h0m-1-4h0m11 4h0m1-3h0m-1 3h0m4-4h0m2 3h0m0-2h0m1-2h0m0 1h0m12 2h0m3 0h0m7 0h0m5-3h0m-4 3h0m1 1h0m7-1h0m-1 1h0m4-3h0m-4 0h0m9-1h0m-3 2h0m0-1h0m2 0h0m-1 3h0m4 1h0m0-2h0m-1 0h0m4-2h0m-3 2h0m7 1h0m3 1h0m0-4h0m-3-1h0m10 5h0m1 0h0m45-2h0m-1 1h0m4-1h0m10-1h0m-2 2h0m-2-3h0m14-1h0m0 0h0m7 5h0m3-1h0m0 2h0m15-2h0m-2-1h0m6 1h0m-1 1h0m7 1h0m13-1h0m17 0h0m13-4h0m-1 4h0m9-1h0m-3-2h0m2 3h0m7-3h0m-3 3h0m1 0h0m3-4h0m0 1h0m14 0h0m-2-2h0m10 3h0m-3-1h0m3-1h0m-3 3h0m9-1h0m-2 3h0m8-3h0m-2 1h0m2 1h0m0-4h0m5 0h0m9-1h0m17 3h0m0-3h0m7 4h0m3 1h0m3-2h0m0 2h0m5 1h0m-4-2h0m11-1h0m3-3h0m-1 4h0m3-4h0m-2 0h0m5 3h0m-2 1h0m0 1h0m6 0h0m3 0h0m7-4h0m1 0h0m-4 0h0m13 1h0m-1 0h0m2 0h0m5-1h0m4 0h0m4 3h0m5-1h0m0 3h0m2-1h0m-1-4h0m0-1h0m6 3h0m1-2h0m5 1h0m2 0h0m5-1h0m1 5h0m-5-2h0m1-3h0m8-1h0m-1 4h0m4 1h0m7-2h0m0 1h0m2-3h0m10 1h0m3 1h0m-4-1h0m4-1h0m0 4h0m-3-4h0m0 0h0m-2-1h0m4 3h0m4 0h0m0 1h0m2 0h0m5-2h0m-2 0h0m9 4h0m-2-2h0m-2 0h0m7-1h0m2 2h0m-7 1h0m-4 0h0m1 1h0m1 1h0m-8 1h0m-7 2h0m-2 0h0m-4-2h0m-2 1h0m3-4h0m-1 0h0m-6 2h0m0 1h0m-3-2h0m-4 4h0m1-3h0m-1 1h0m2 0h0m-4 3h0m3-3h0m-2 3h0m-4-5h0m1 5h0m2-1h0m-2-1h0m1-2h0m0 0h0m-1 4h0m2-2h0m-3 0h0m-4 0h0m-18-3h0m-1 3h0m-8 0h0m4-2h0m-4-1h0m1 3h0m-2-4h0m1 4h0m2 0h0m-9-1h0m-2 1h0m-4 0h0m3 1h0m-2-3h0m-4 3h0m-3-4h0m-1 1h0m5 1h0m-9 2h0m0-1h0m1-1h0m-3-1h0m0 2h0m-5 0h0m1 1h0m0-5h0m-7 6h0m-5-5h0m-1 0h0m-1 0h0m2 3h0m-11-1h0m3 1h0m-3-2h0m-1 0h0m-2 0h0m-3 0h0m-1 0h0m3 2h0m-1 0h0m-4-1h0m-35-2h0m0 1h0m-1 0h0m-5 2h0m4 1h0m-4 1h0m1-1h0m3 0h0m-1 1h0m-4-5h0m-4 0h0m4 0h0m-12 2h0m5 1h0m-4-2h0m1 0h0m0 1h0m4 1h0m-8 1h0m-3-1h0m1-1h0m-11-1h0m2 2h0m0 1h0m-1-4h0m-1 0h0m-7 3h0m-2 2h0m-2-5h0m0 3h0m-2-3h0m-1-1h0m4 1h0m-3 4h0m1-4h0m-5 0h0m-3 4h0m4-4h0m-5 3h0m2-3h0m0 4h0m-3 1h0m-2-3h0m1-2h0m-3 2h0m1-3h0m2 2h0m-7 0h0m0 1h0m-2-1h0m1-2h0m1 4h0m-4-1h0m-3 3h0m-1-2h0m-3-3h0m-1 3h0m1-4h0m-13 2h0m2-2h0m-3 3h0m0-3h0m0 2h0m-2-2h0m-4 5h0m3-4h0m1 0h0m-9 4h0m0-1h0m3 2h0m-10-2h0m0 0h0m-2 0h0m1 0h0m-6-1h0m-5-2h0m-3 4h0m0-2h0m-2 1h0m1 0h0m-9 2h0m3-3h0m1 1h0m-11 1h0m0-5h0m-5 4h0m1-3h0m-1 3h0m-5-4h0m-2 2h0m-1 1h0m-45-3h0m-6 1h0m-5 0h0m-11 1h0m1-2h0m-16 5h0m0-3h0m-1 0h0m0-1h0m0 2h0m-2-1h0m1 1h0m-6 1h0m-3-1h0m1-3h0m2 2h0m-3 3h0m-3-4h0m-3 3h0m-5-2h0m-2 3h0m-1 0h0m2-3h0m-2 4h0m0-1h0m-4-5h0m3 4h0m-5 1h0m0-2h0m0-3h0m-4 5h0m2-4h0m0 4h0m0-1h0m-7-2h0m-4 0h0m-5 1h0m-18-2h0m30 6h0m6 0h0m0 0h0m3 1h0m9 0h0m-1 2h0m0-3h0m-4 1h0m3 1h0m-4-1h0m6 0h0m4 2h0m-3 2h0m0-4h0m2-1h0m6 0h0m-1 1h0m7 0h0m0 0h0m96 1h0m7-2h0m-2 2h0m1-2h0m-2 1h0m0-1h0m5 5h0m0-2h0m1-4h0m3 2h0m7 1h0m-1-1h0m-2 0h0m-1-1h0m6 5h0m8-1h0m9-2h0m-5-3h0m10 2h0m0 1h0m5 0h0m0 1h0m-2 0h0m-1-1h0m3 0h0m7-1h0m5 0h0m-2 4h0m-1-4h0m11 0h0m1 1h0m0-2h0m10 3h0m-4-3h0m13 3h0m4 2h0m-6-2h0m12-3h0m1 4h0m2-4h0m10 2h0m10-3h0m-1 4h0m-1-4h0m8 6h0m-3-1h0m3-2h0m4-3h0m9 1h0m1 2h0m0-3h0m10 1h0m-1 1h0m3 1h0m9-1h0m20 4h0m5-5h0m-3 3h0m3 2h0m0-3h0m-5 2h0m9-4h0m1 3h0m-3 2h0m1-1h0m3 0h0m6 0h0m-2-3h0m3 1h0m1 0h0m9-2h0m0 2h0m1 2h0m-2-1h0m9-4h0m-4 0h0m15 6h0m0 0h0m3-4h0m-1 2h0m4-2h0m-1-1h0m2 4h0m5-5h0m-4 3h0m0 1h0m2-2h0m3 2h0m4-2h0m-3 1h0m2-1h0m6-2h0m2 6h0m-3-4h0m4 0h0m5 1h0m-5 1h0m5-3h0m2-1h0m1 2h0m3 3h0m1 0h0m2-3h0m1 1h0m6-1h0m3 2h0m-4-2h0m-1 2h0m-1 1h0m4-1h0m-1 0h0m-2-4h0m11 3h0m-2 0h0m-3 2h0m1-3h0m6-2h0m0 5h0m1-1h0m3-3h0m2 3h0m1 1h0m2-2h0m2 3h0m-2 1h0m-10-1h0m-4 2h0m-2 1h0m-1-1h0m-5 0h0m-1 1h0m0-1h0m-11 2h0m1 2h0m-6 0h0m-1-3h0m5-2h0m-2 3h0m-7 1h0m-8 1h0m0-2h0m4-1h0m-15-1h0m1-1h0m-33 0h0m-1 2h0m-2 0h0m-12 0h0m3 0h0m-3-1h0m0 1h0m-5 0h0m1-2h0m0-1h0m-10 1h0m-5 1h0m-25-1h0m-7 1h0m-7-1h0m-7 4h0m-4-2h0m-3 2h0m-3-1h0m-2 1h0m-1-2h0m-3-2h0m-8 4h0m-5-5h0m-2 1h0m1 1h0m-2 3h0m1-2h0m-3 0h0m6-2h0m-3 4h0m-9-1h0m-12-2h0m2 0h0m3-1h0m-6 4h0m1-3h0m-11 0h0m1 2h0m2 0h0m-6-1h0m-3 1h0m-2-3h0m-10 1h0m0-1h0m4 3h0m-10-3h0m2 3h0m2-1h0m-15 0h0m-7-1h0m3 0h0m-4 3h0m3 0h0m-4 1h0m-2-4h0m-5-2h0m-1 2h0m-98 0h0m-2-2h0m-3 1h0m3 3h0m-1-2h0m2 0h0m-3-1h0m-10 2h0m-10-2h0m-1 3h0m-12-4h0m6 1h0m136 5h0m1 1h0m0 0h0m6 0h0m0 4h0m-3-5h0m1 1h0m3 0h0m1 0h0m5 4h0m-1-3h0m-1 1h0m2 2h0m-1 1h0m7-6h0m-1 4h0m0-1h0m6 0h0m-4 3h0m0-3h0m1 0h0m-1-2h0m3 4h0m5-3h0m-1-2h0m0 1h0m12-1h0m2 3h0m0-1h0m6 0h0m1-2h0m-2 3h0m8-2h0m-4 3h0m17-3h0m2 1h0m1-1h0m19 3h0m1 2h0m1-5h0m1 4h0m1 0h0m10 1h0m-4 0h0m2-5h0m-4-1h0m5 5h0m101-1h0m-1 0h0m-2 1h0m7 0h0m8-5h0m-1 5h0m0 0h0m-2-5h0m15 3h0m-1 1h0m0-2h0m4 3h0m4-4h0m4 2h0m-2 2h0m7-3h0m2-2h0m6 6h0m1 0h0m2-6h0m5 4h0m1-1h0m-4 4h0m-3-1h0m-3 0h0m-1 3h0m-2 0h0m-5-2h0m1 2h0m3 0h0m-16-1h0m-2-1h0m-9 0h0m-3 0h0m-3 2h0m3-2h0m-13-1h0m-103 0h0m-1 1h0m-3 0h0m-10 1h0m1-1h0m4 1h0m-17 0h0m-2-1h0m-12 0h0m0 0h0m-14 4h0m3 0h0m-1-5h0m-11 5h0m-7 0h0m-1-1h0m-4-3h0m5 4h0m-3-1h0m-1-4h0m-2 1h0m-8 0h0m-5 0h0m-5 0h0m22 6h0m2 2h0m-5-3h0m1 5h0m17-3h0m4-1h0m8 5h0m2 0h0m-5 1h0m-2-1h0m4 1h0m-19 0h0m-7 0h0" stroke="#d62728" stroke-width="3.1" stroke-linecap="round" fill="none" opacity="0.72"/>
<path d="M1016 329h0m46 1h0m14 0h0m30-2h0m20 1h0m83 0h0m20 0h0m1 1h0m-1 5h0m-1 0h0m-16-2h0m-2 0h0m-6 2h0m1-4h0m-11 4h0m3-2h0m2-3h0m-32 5h0m-15-5h0m-18 0h0m-1 0h0m-5 5h0m-14 0h0m-11-1h0m-9 1h0m-5-2h0m-3-2h0m0 4h0m-1-3h0m-23-2h0m-9 5h0m-6-1h0m-27 1h0m6-5h0m-9 3h0m-1-3h0m-11 2h0m-8-1h0m-11 4h0m-79 6h0m5 0h0m0 0h0m0 1h0m1 0h0m0-3h0m0 1h0m-1 1h0m12 0h0m2-1h0m3 1h0m12-2h0m5 1h0m-3-2h0m-1 3h0m11 0h0m-2-3h0m19 3h0m12-3h0m5-1h0m-2 2h0m-1 0h0m31 1h0m16-1h0m4 3h0m0-5h0m24 4h0m23-3h0m0 1h0m10 0h0m36 0h0m-2 2h0m34-1h0m24 2h0m7 0h0m-1-1h0m0-1h0m1 1h0m6-3h0m14-1h0m-1 3h0m16 1h0m2-4h0m8 3h0m13 2h0m-2 1h0m-10 0h0m2 3h0m-9-2h0m-6 0h0m-2 3h0m-8-1h0m4-3h0m-23 0h0m3 4h0m-1 0h0m1 0h0m0-3h0m0 4h0m-1-1h0m-6 0h0m2 1h0m-2-5h0m-4 5h0m-3-2h0m1-1h0m1 1h0m2 0h0m-10-2h0m0 3h0m1-3h0m-4 1h0m1-2h0m-2 3h0m-16 1h0m-8-1h0m-24-3h0m-18 0h0m-1 1h0m-21 0h0m-26-2h0m-2 3h0m-5-1h0m-27-1h0m-9-1h0m-42 2h0m-22 1h0m-9-1h0m3 1h0m-4-1h0m3 2h0m-7 1h0m2-2h0m0-1h0m-1-2h0m-6 3h0m0 1h0m1 2h0m-3-5h0m0 0h0m-1 4h0m-10-2h0m-5 0h0m-7-1h0m-2 2h0m0-4h0m0 4h0m4-1h0m-1 0h0m0 0h0m0 1h0m1 5h0m0 1h0m-4 0h0m5-1h0m-3-2h0m8 1h0m-2 4h0m-2-5h0m4 2h0m6 0h0m-4 0h0m9 2h0m-2-1h0m-1 0h0m2 0h0m8-1h0m0-2h0m-2 0h0m1 0h0m2-1h0m3 3h0m3 0h0m-4 3h0m2 0h0m3-2h0m3 1h0m2 0h0m204-3h0m-1 1h0m3-1h0m32 3h0m-1 0h0m-1 0h0m0 0h0m-1 1h0m4-1h0m6-3h0m1 2h0m0 0h0m-5-2h0m8-2h0m1 6h0m2-6h0m9 2h0m0 2h0m8-2h0m1 2h0m-1-2h0m6-1h0m2 4h0m11 1h0m12-3h0m-2 2h0m-1 0h0m2 0h0m2-2h0m1-2h0m15 4h0m0-1h0m0 2h0m0-1h0m8-1h0m6 1h0m2-1h0m3 7h0m1-3h0m-5 1h0m-1 3h0m-1-5h0m6 2h0m-15 2h0m-20 1h0m-1-5h0m-9 0h0m1 3h0m-4-3h0m-3 4h0m-12-3h0m-1 2h0m-4-1h0m-9 3h0m-6-2h0m-10 2h0m-8-6h0m-241 4h0m-6 1h0m5-5h0m-1 2h0m-13-1h0m-6 1h0m2 1h0m-2 2h0m0 0h0m-4-2h0m-2 3h0m2-6h0m-5 5h0m-10-3h0m4 3h0m-6-4h0m-3 3h0m1-4h0m2 0h0m-16 9h0m16 3h0m2-2h0m-2 1h0m5 0h0m-1-2h0m-3 3h0m6-4h0m4 2h0m-2-3h0m-3 1h0m13-1h0m12 1h0m3 0h0m269-2h0m1 4h0m13 2h0m2 0h0m5-2h0m-4-2h0m3 3h0m-2-1h0m9 2h0m12-5h0m3 5h0m-2-4h0m-1 2h0m3-3h0m7 0h0m-4 2h0m10-1h0m1 2h0m0 0h0m17-2h0m-1-1h0m6-1h0m-1 2h0m2 4h0m5-3h0m-1 0h0m3 1h0m-4-1h0m10 2h0m5-1h0m-3 1h0m14 3h0m-2 4h0m2-3h0m-6 2h0m-3 1h0m-2 0h0m-1-2h0m-7-2h0m-13 2h0m0 0h0m-4-2h0m-2 0h0m2 2h0m-2-2h0m-3 2h0m-9-1h0m1-1h0m-25 0h0m-1-2h0m0 3h0m-5-2h0m0 1h0m-7 1h0m-1 0h0m-3 2h0m-1-3h0m-2-2h0m0 2h0m-9 0h0m-1-1h0m-6-1h0m0 1h0m-1-1h0m-290 4h0m-15-3h0m5 1h0m-19 5h0m4 3h0m16-2h0m7 0h0m323 0h0m9 0h0m0 3h0m2-4h0m1 0h0m15 5h0m13-3h0m5-2h0m28 1h0m2 3h0m3 0h0m2-5h0m8 5h0m0 1h0m6 0h0m2 6h0m-6-4h0m-4 2h0m-14-2h0m0-1h0m4 2h0m0-3h0m-5 4h0m-2 1h0m-14-2h0m3 2h0m-2-1h0m1-4h0m-10 6h0m-11-3h0m4 1h0m-7-1h0m-3-1h0m1 3h0m-5-4h0m2 3h0m-4 0h0m3 0h0m-5-3h0m-12 0h0m-374-1h0m-13 2h0m-2 5h0m414 3h0m7 0h0m7 0h0m6 0h0m0-1h0m8 0h0m-2 2h0m12-1h0m1-3h0m6 0h0m2 2h0m-3-3h0m9 2h0m1 3h0m6-1h0m10 1h0m1 4h0m-4 2h0m1-4h0m1 0h0m1 0h0m-11 2h0m-8 0h0m0 1h0m-2-2h0m3 4h0m-3-1h0m4-5h0m-2 4h0m-8-1h0m-1 1h0m1-2h0m-2 3h0m-23-5h0m3 0h0m-6 6h0m-2-2h0m-1-2h0m-3 1h0m2 1h0m-415 1h0m0 3h0m11 1h0m438-1h0m14 4h0m-3 0h0m9-5h0m-2 0h0m0 2h0m3-1h0m0 3h0m25 6h0m-1-5h0m-2 5h0m0-1h0m2 1h0m-1-1h0m-7 1h0m-9-1h0m0-3h0m0 5h0m-12-3h0m1 1h0m1-1h0m-1 1h0m-8 0h0m-1 0h0m0-1h0m-5 1h0m-9-1h0m-6 0h0m-1 0h0m3-1h0m-3 0h0m-3 1h0m-446 3h0m-5-5h0m-6 4h0m10 5h0m8-1h0m446-2h0m3 0h0m-1 3h0m9 0h0m2-4h0m6 2h0m4 1h0m23-1h0m1 0h0m0-1h0m5 3h0m2-2h0m12 4h0m-11 1h0m3 3h0m-6 2h0m0-2h0m2 1h0m-11-4h0m0 3h0m0 1h0m3 1h0m-13 0h0m2-5h0m-14 3h0m0 1h0m-5 1h0m-8-5h0m12 6h0m6 3h0m0-1h0m9-1h0m11-1h0m7-1h0m-1 1h0m7 0h0m4 3h0m10 6h0m-10-3h0m-6 4h0m-1 0h0m-1 1h0m0-3h0m-5 0h0m-6-2h0m1 0h0m-1 1h0m3 0h0m0-2h0m-4 3h0m-8 0h0m1 3h0m-5-4h0m-1 3h0m-3 0h0m2-1h0m0-3h0m-9-1h0m-481 2h0m-11 3h0m-3 0h0m0 2h0m3 1h0m10 2h0m487-1h0m3 0h0m-3-1h0m7 3h0m10-3h0m-1-1h0m5 1h0m-3 4h0m35-3h0m-2 1h0m-9 5h0m2-1h0m2 1h0m-8 1h0m-6 1h0m-7-1h0m0-1h0m3-2h0m-7 2h0m0 0h0m2 2h0m-10-5h0m-4 1h0m-2 4h0m4-3h0m-5 2h0m-495-2h0m-1 1h0m-12 2h0m-6 0h0m3 1h0m-18 0h0m-3 1h0m3 0h0m2 5h0m1-5h0m-1 2h0m2 1h0m0-1h0m2-1h0m1 2h0m8 1h0m2-2h0m1-2h0m1 0h0m7 4h0m525 0h0m-5 0h0m16 0h0m2-1h0m6-1h0m8 1h0m3 0h0m4-1h0m2 5h0m-12 3h0m-8-3h0m-5-1h0m-2 1h0m-2 4h0m-532-6h0m1 3h0m-8-3h0m-12 4h0m-7-2h0m2-1h0m3 1h0m-2 2h0m-3-3h0m-1 2h0m0 7h0m5-1h0m-3-1h0m2 0h0m3 0h0m2 0h0m531-1h0m7 1h0m3-1h0m7 1h0m4 3h0m5-1h0m3 2h0m12-1h0m6-4h0m-3 7h0m-3 1h0m1 1h0m-9-3h0m2 3h0m-6 0h0m0 2h0m-8-5h0m1 0h0m1 0h0m1 1h0m0 1h0m1 0h0m-4-3h0m-17 1h0m1 1h0m-536-1h0m-1 4h0m-10 0h0m8 5h0m0-3h0m5 4h0m-3-4h0m0 0h0m4 2h0m547 2h0m3 1h0m-1-3h0m10-1h0m-4-2h0m-1 0h0m1 4h0m3 0h0m-4-2h0m1 2h0m7-1h0m4 3h0m0-2h0m10 0h0m-2 1h0m1-5h0m1 5h0m2-4h0m-15 8h0m-6-3h0m-5 3h0m1-2h0m-1 1h0m-2-2h0m-7 6h0m3-3h0m-5 0h0m-563 2h0m4 0h0m-2 4h0m-1 3h0m1-3h0m-3-2h0m9 3h0m0 2h0m-1-4h0m8 3h0m1-3h0m-3 0h0m-1 2h0m3-3h0m-4 2h0m556 0h0m2-3h0m5 0h0m12 2h0m0-1h0m6 3h0m3-1h0m-1-2h0m11 3h0m-1 1h0m4 0h0m-2-2h0m5-1h0m1 7h0m-5 1h0m2-4h0m-1 1h0m-3 3h0m-2-1h0m-1-1h0m-3 4h0m0-1h0m-4 0h0m-5-3h0m-2 4h0m2-1h0m1 0h0m-9-1h0m5-3h0m-15 5h0m0-4h0m-2 2h0m2-3h0m-554 2h0m-5 2h0m-2 0h0m-2 0h0m-6-3h0m-2 1h0m2-1h0m-3 7h0m2 2h0m2 0h0m0 0h0m2-3h0m3-1h0m-3-1h0m3 1h0m6 0h0m-2 3h0m3 1h0m556 0h0m12 0h0m2-2h0m1 1h0m0-1h0m3 0h0m-1 1h0m1 1h0m0-2h0m9 2h0m5-4h0m-4 0h0m8 5h0m1-5h0m-4 3h0m5-4h0m0 3h0m1 9h0m-5-4h0m4 4h0m-2-1h0m-2 0h0m2 0h0m-4-5h0m-2 3h0m1-1h0m-3 0h0m1 4h0m3-4h0m-2 4h0m-6-3h0m3 3h0m-2-1h0m-4-3h0m-12 4h0m1-2h0m4 0h0m-7-3h0m1 5h0m0-3h0m-4-1h0m1-1h0m0 4h0m-2-2h0m-5-2h0m4 1h0m1-1h0m-562 1h0m-4 2h0m-2 0h0m1-2h0m-1 3h0m-7 0h0m0 0h0m-1-1h0m3-2h0m-1 0h0m-4-2h0m2 12h0m-1 0h0m-1-5h0m5 1h0m2-2h0m10 0h0m0 1h0m560 1h0m2-1h0m2 2h0m0 0h0m1-1h0m-2 0h0m8-2h0m4 4h0m8 0h0m4 2h0m4 0h0m3-2h0m1 0h0m-3-4h0m3 2h0m-3 0h0m-1 1h0m5 2h0m-4-5h0m3 3h0m2 4h0m-4 3h0m2-4h0m-6 2h0m2 1h0m-2 2h0m0-4h0m0 4h0m-9-3h0m-1 0h0m-5 2h0m0-3h0m3 4h0m-3-2h0m1-1h0m-6-1h0m-8 4h0m0 0h0m-563-2h0m1 1h0m-5 1h0m3-1h0m-3 2h0m1-3h0m-8-1h0m2-2h0m1 6h0m-4 3h0m2 0h0m3 1h0m-5-2h0m8 2h0m-2-2h0m2-2h0m2 1h0m6-1h0m563 5h0m-3-2h0m2 1h0m1 1h0m7-2h0m-5 2h0m9-1h0m3 2h0m1 0h0m7 0h0m0-4h0m5-1h0m3 10h0m1 0h0m-10 0h0m1-4h0m4 4h0m-1-3h0m-2 4h0m-9-5h0m3 3h0m-2-2h0m4-2h0m-8 0h0m3 4h0m-3-2h0m-9 2h0m4-3h0m-2 0h0m2 1h0m-7-1h0m-564 4h0m-3-1h0m-3 1h0m-3-3h0m3-2h0m-4 5h0m0 0h0m-3-4h0m3 10h0m5 1h0m-1-3h0m3 1h0m568-2h0m1 3h0m6-1h0m0 2h0m-2-2h0m0-2h0m1 2h0m4-1h0m-1 1h0m4 0h0m-2 2h0m1-3h0m0-2h0m2 4h0m5 1h0m-3-1h0m1-4h0m-1 5h0m1-1h0m-1-1h0m6-2h0m1-1h0m-3 1h0m4-1h0m2 1h0m3 2h0m-2-1h0m2 1h0m-1-1h0m4 3h0m-1-4h0m-3 3h0m2-3h0m8 0h0m-2 2h0m-4-2h0m12 1h0m-6 0h0m4 3h0m1-2h0m-2 2h0m3-4h0m0 6h0m-4-2h0m-1 2h0m0 3h0m-7 0h0m4-5h0m-2 0h0m-5 2h0m-1-2h0m1 2h0m1 4h0m1-1h0m-1-4h0m-2 5h0m-1-6h0m3 1h0m-3 0h0m-1 4h0m-4-1h0m-1-1h0m3-1h0m-3 3h0m0-2h0m-1 2h0m-1 0h0m-2-1h0m2 0h0m-1 2h0m-5 0h0m-3-5h0m0 3h0m0 2h0m-7-6h0m-2 3h0m-580 6h0m9-1h0m583-1h0m-3 4h0m-2 1h0m1-5h0m1 3h0m10-4h0m-1 1h0m-2 0h0m-2 5h0m5-1h0m5-1h0m-3-2h0m1 1h0m0-2h0m-3 0h0m5 4h0m-2 1h0m-3-2h0m5-1h0m4-1h0m0-1h0m0 4h0m2 1h0m-2-5h0m5 4h0m1 0h0m1-3h0m-1 0h0m5 1h0m-1-2h0m1 1h0m1 4h0m0-1h0m0 0h0m-2-3h0m5 1h0m-3 5h0m2 1h0m-2-1h0m1 1h0m1-1h0m-10 0h0m3 1h0m2 3h0m-5-4h0m2-2h0m-6 5h0m1-5h0m1 1h0m-3 0h0m2 2h0m-7 0h0m-3-3h0m4 5h0m0-3h0m1 3h0m-3-3h0m4 2h0m-8-2h0m1-1h0m-2-1h0m1 3h0m-2 3h0m1-2h0m0-2h0m-2 3h0m-4-3h0m-3 2h0m2 2h0m2-3h0m1 0h0m-3 0h0m2-2h0m-3 0h0m-6 3h0m3-3h0m-3 2h0m4 1h0m-6 2h0m0-2h0m1-2h0m-1 3h0m0-3h0m-569-1h0m-5 1h0m-16 1h0m6 8h0m1 1h0m-2 0h0m2-5h0m1 3h0m6 1h0m-1-2h0m575-2h0m0 1h0m7-1h0m-3 2h0m10 2h0m1 0h0m0 0h0m1-2h0m3 0h0m-4 0h0m11-3h0m-1 6h0m2-6h0m0 3h0m-4-1h0m8 2h0m0-3h0m1 4h0m-2 1h0m2-2h0m-1 1h0m-4-5h0m1 1h0m7 4h0m1-4h0m0 5h0m1 0h0m0-6h0m3 5h0m0-2h0m3 2h0m-2-4h0m-1 0h0m3 1h0m-1 2h0m-2 2h0m5-3h0m-1 9h0m-3 0h0m0 0h0m0-1h0m2-3h0m1-1h0m-1 4h0m-3-1h0m1-2h0m2 2h0m2 1h0m-8-1h0m-1-2h0m0-1h0m-5 3h0m1-2h0m-1-1h0m1 3h0m1-4h0m-2 4h0m-3 0h0m0 2h0m5-2h0m-2-3h0m-4 0h0m3 4h0m-2-3h0m-1 2h0m-9-3h0m2 4h0m-4-3h0m1 3h0m1 0h0m-1 0h0m1-2h0m-5 2h0m-2-3h0m4 3h0m-3 1h0m3-4h0m-3 1h0m0-2h0m-5 5h0m-6-6h0m-570 7h0m1 5h0m576-6h0m2 6h0m3-2h0m0 1h0m-1-1h0m-1 0h0m8 0h0m-2-2h0m0-1h0m2 3h0m-2-3h0m0 5h0m1-2h0m9-2h0m-5 0h0m5-1h0m0 2h0m3-2h0m2 4h0m-1 0h0m-4-2h0m11 3h0m-2-4h0m-1 3h0m2-4h0m6 0h0m-2 3h0m1-3h0m-2-1h0m4 4h0m-2-3h0m2 1h0m-4 3h0m0-4h0m3 6h0m-3 4h0m5 0h0m-6-3h0m5 2h0m-7-2h0m-4 3h0m1 1h0m0-4h0m-4 4h0m-1-4h0m2 3h0m-1-3h0m-3 3h0m1-5h0m-2 3h0m-8-1h0m-3-1h0m5 3h0m0 1h0m-4-2h0m-1 1h0m-4 1h0m3-2h0m0-1h0m-2 0h0m3 1h0m-5-3h0m3 1h0m-8 2h0m3-2h0m-9 3h0m3-2h0m0-1h0m-3 1h0m-566-1h0m0 2h0m-5 1h0m-1-1h0m3-1h0m-2 1h0m4 0h0m-6-1h0m1 2h0m-15-2h0m-2 0h0m24 7h0m567 2h0m0-3h0m-1 3h0m-1 0h0m7-1h0m0 1h0m-1 0h0m-1 1h0m0-5h0m9 2h0m1 0h0m0-2h0m-3-1h0m3 1h0m1 2h0m6-1h0m-4-2h0m6 0h0m1 4h0m0-1h0m-1 1h0m0-4h0m2 6h0m2-2h0m-4 1h0m0-4h0m1 3h0m-1 1h0m0 0h0m4-2h0m4 2h0m1-3h0m-3 1h0m0 1h0m1 1h0m2 0h0m6-1h0m0-3h0m0 0h0m-1 3h0m-4-2h0m4 3h0m-1-1h0m-1-3h0m10 5h0m-5-5h0m3 2h0m-3 1h0m5-1h0m0 2h0m0-5h0m-6 10h0m4-1h0m0-3h0m-2 5h0m4-3h0m-1 2h0m-6 1h0m-2 1h0m-2-3h0m-2-1h0m-1 1h0m-3-1h0m3 0h0m0 0h0m-1-1h0m0-1h0m0 1h0m0 0h0m2 1h0m0 1h0m-1 2h0m-7-2h0m0-2h0m-1 3h0m-3 1h0m-2 0h0m-1-4h0m-2 0h0m0-1h0m-1 2h0m-2-2h0m-6 5h0m1-4h0m0 1h0m-1 4h0m-3-1h0m-2-2h0m-1 0h0m-3 1h0m-558 1h0m-2-1h0m1-1h0m-11 2h0m-3 0h0m3 0h0m-7 7h0m1 0h0m3-5h0m-2 4h0m10-3h0m4 2h0m0 1h0m0-2h0m4-2h0m560 2h0m-1 0h0m3 2h0m12-4h0m-1 1h0m0 3h0m-2-4h0m5 3h0m5 0h0m-5-3h0m4 1h0m1 4h0m0-1h0m-2 1h0m-1-3h0m9-1h0m1 1h0m2 1h0m-1-2h0m-1 0h0m6 1h0m6 3h0m5-1h0m-4-4h0m-1 11h0m1-1h0m3 1h0m-5-5h0m0 2h0m0 2h0m5-2h0m0 2h0m-4-3h0m0 1h0m3-1h0m0 3h0m-8-5h0m-1 3h0m-1 1h0m0-2h0m0 4h0m-1-4h0m-1 1h0m1-2h0m-9 4h0m4 1h0m-5-5h0m-5 0h0m0 1h0m-1-1h0m4 5h0m-1-3h0m-7 2h0m2-2h0m0-2h0m-1 5h0m-1-2h0m0 2h0m-6-4h0m-6 0h0m0 1h0m-4 2h0m-562-2h0m3-2h0m-3 2h0m5 0h0m-5-2h0m5 0h0m-3 5h0m-5-1h0m-7-3h0m-1 1h0m0 2h0m2-3h0m-1-2h0m1 3h0m-5 0h0m-1-1h0m3 6h0m16 1h0m-4 2h0m5-3h0m1-2h0m0 2h0m561 1h0m-3 1h0m2-3h0m-2 1h0m12 3h0m2-3h0m-1 0h0m1 2h0m0 1h0m7-3h0m1 0h0m-5-1h0m10 0h0m-2 1h0m1 2h0m-1 1h0m3-2h0m-2-3h0m2 5h0m1-4h0m3 2h0m-1 0h0m2 1h0m-4 2h0m1-1h0m2 1h0m5-2h0m1-1h0m2 3h0m-4-2h0m1 0h0m3 0h0m-2 1h0m2-4h0m4 5h0m3 0h0m-2-3h0m-1-1h0m2 1h0m-3 0h0m3 6h0m-2 1h0m2 2h0m-4-2h0m-7 0h0m5 1h0m-4-1h0m4-3h0m-2 0h0m1 3h0m-1-2h0m-3 2h0m5 0h0m-4-4h0m-2 4h0m0 0h0m-3-1h0m3 0h0m-7 2h0m-3-1h0m4-3h0m-1 2h0m-2-2h0m1 1h0m-1 2h0m-2-2h0m-1 3h0m-4-1h0m1-4h0m2 2h0m-3 3h0m-3 0h0m0-3h0m0 2h0m0 1h0m-8-3h0m1 2h0m-11-1h0m1 1h0m-555-3h0m-8-1h0m3 4h0m1-1h0m-5-1h0m-12 9h0m7-1h0m1-1h0m11 3h0m-5-4h0m1-1h0m5 1h0m553 2h0m2-2h0m-1 1h0m1-1h0m6-2h0m0 2h0m4 3h0m3-4h0m2 4h0m2 0h0m3-3h0m-4-1h0m5 4h0m4-4h0m-4 3h0m2-1h0m5-3h0m1 2h0m3-2h0m0 0h0m0 1h0m5 2h0m1 9h0m-3-5h0m-13 2h0m-1 1h0m1-1h0m-4-2h0m-9 0h0m1 2h0m-2 0h0m-3-2h0m-9 2h0m5-3h0m-2 2h0m2 2h0m-3-2h0m-556 3h0m-3-4h0m3 2h0m-8-1h0m-1 0h0m-2 0h0m-3 3h0m-3 5h0m4 0h0m2-4h0m5 4h0m0-3h0m7 3h0m-1-1h0m549 2h0m1 0h0m-1-1h0m6 1h0m10-1h0m1-1h0m0 3h0m8-1h0m7 0h0m2 1h0m-1-2h0m1-2h0m1 2h0m1 1h0m2-2h0m1 2h0m-2 0h0m6 1h0m4 4h0m-4 1h0m4-4h0m-3 3h0m-4-1h0m-5 2h0m-1-1h0m-5-2h0m-9 4h0m-3-3h0m6-2h0m-1 3h0m-6 1h0m0-5h0m-14 0h0m-2 2h0m1 0h0m-3 0h0m-2 3h0m-544-1h0m-4 1h0m3-4h0m1 0h0m-3 4h0m3 0h0m0-2h0m1-2h0m-8 3h0m0 1h0m-1 0h0m1 0h0m-1-1h0m-2 2h0m-5-2h0m-2 3h0m5 2h0m0-1h0m0 1h0m-5-3h0m6 0h0m-5 3h0m-1-2h0m11 4h0m-2-5h0m5 4h0m3-2h0m547 0h0m6 1h0m-4-2h0m9 0h0m-1 1h0m4 3h0m1 0h0m9-5h0m-3 1h0m-2 3h0m8 0h0m2 0h0m2-3h0m-1 1h0m0 0h0m3 2h0m-3 0h0m15-3h0m-2 8h0m0 3h0m-2-2h0m-4 1h0m-1-4h0m-3 4h0m-1 0h0m-4 1h0m-1-5h0m0 2h0m1-3h0m-8 4h0m-2 0h0m1-1h0m-1 0h0m-3-2h0m1 0h0m-8 3h0m1-4h0m-4 1h0m0 2h0m1-2h0m-4 5h0m3-2h0m0-4h0m-7 1h0m-1 1h0m-1 3h0m-2-1h0m3-4h0m-2 1h0m-4 1h0m1 4h0m1-5h0m-3 3h0m3 1h0m-532-2h0m-2 1h0m0-2h0m-3 3h0m-9-5h0m-2 2h0m-1 1h0m3-3h0m-2 2h0m2 5h0m0 2h0m0 1h0m-1-2h0m546-1h0m0 3h0m2-1h0m-5-2h0m5 1h0m1 4h0m0-5h0m6 1h0m8 0h0m-3 0h0m7 2h0m9 0h0m3 0h0m0-3h0m0 3h0m-1 1h0m10-1h0m-4 2h0m6-3h0m6-1h0m-6-1h0m11 4h0m-3 0h0m4 6h0m-1 1h0m0-2h0m-13 2h0m-3-1h0m3 0h0m0 0h0m0 1h0m-1-4h0m0 3h0m2 0h0m-9-5h0m3 4h0m-3 1h0m2-4h0m-9 2h0m1-3h0m3 1h0m-10-1h0m0 1h0m2-1h0m-4 2h0m-4 2h0m5 0h0m-13 1h0m-1 0h0m-3-5h0m-1 3h0m-5 0h0m5 0h0m-5 3h0m-5-2h0m0-2h0m3 0h0m-1 2h0m-7 1h0m0-1h0m0 0h0m-1 2h0m-1-2h0m-520-4h0m0 1h0m3 4h0m-8-1h0m-1 1h0m2-1h0m-2 4h0m3-2h0m-1 1h0m-3 0h0m3 2h0m522 2h0m6 0h0m10-5h0m5 4h0m-1-2h0m5 1h0m2 3h0m3-6h0m-2 4h0m-2 1h0m5-2h0m15 0h0m-1-3h0m-2 5h0m18-3h0m-4 2h0m0 0h0m2-4h0m7 1h0m5 2h0m-2 0h0m4 7h0m0 1h0m-14-1h0m-9-1h0m0-1h0m3-1h0m1 2h0m1-3h0m-4 4h0m-7-3h0m3 4h0m1 0h0m-2-1h0m2-4h0m-5 1h0m5 1h0m1 2h0m0-2h0m-4 1h0m-2 0h0m-3 2h0m-3-1h0m-4-2h0m1-1h0m-2 1h0m-1-1h0m5-1h0m-2 1h0m-4 1h0m1-1h0m-4 0h0m3 1h0m-10 0h0m-10 3h0m3-3h0m-2-1h0m-11 3h0m0-3h0m0 0h0m1-1h0m-7 5h0m-494 0h0m-1 0h0m-7 0h0m3 1h0m-9-1h0m-1-1h0m-2 1h0m-5-2h0m-5 1h0m-4 1h0m2-1h0m11 3h0m6 4h0m-1-1h0m10-1h0m-1-1h0m-3 0h0m4 1h0m-3-2h0m-1 1h0m0 2h0m3-1h0m1 1h0m5-1h0m-2 0h0m6 0h0m3 3h0m491-2h0m-1 0h0m-1-2h0m6 3h0m2 0h0m-3-3h0m5 3h0m3-3h0m-2-2h0m9 1h0m1 0h0m-3 3h0m6-2h0m2-2h0m-2 3h0m4-1h0m5 3h0m-4-3h0m-2-1h0m12 1h0m-5 1h0m4-3h0m-1 2h0m-2 2h0m1-1h0m0-2h0m4 4h0m5 1h0m-2-2h0m3-3h0m4 4h0m-5-4h0m7 2h0m-1 1h0m1 1h0m0-2h0m2 3h0m6 0h0m-2-5h0m4-1h0m-3 2h0m1 3h0m1-3h0m7 3h0m-2-2h0m-1-3h0m8 4h0m2 5h0m-1 2h0m-3 0h0m3-4h0m0 3h0m-10-2h0m-4-2h0m0 2h0m-1-1h0m1 0h0m1 1h0m-9-1h0m2 2h0m-1 0h0m1 0h0m0-2h0m3 5h0m-8-3h0m-4 2h0m-9-1h0m3-3h0m-5 4h0m1 0h0m-1-4h0m4 2h0m0 1h0m-6 2h0m1-4h0m-3 0h0m3 0h0m-11-2h0m2 5h0m-2-1h0m3-3h0m-3 0h0m0 0h0m4 1h0m-7 4h0m-1-4h0m-2-1h0m5 2h0m-8-1h0m-1-2h0m3 1h0m-1 3h0m-1-1h0m-3-2h0m1 3h0m2-1h0m-1 2h0m-6-2h0m3 1h0m-504-1h0m1-1h0m-6 0h0m3 2h0m-9-2h0m2 1h0m-8 3h0m0 0h0m0-3h0m-1 0h0m0 3h0m-2 0h0m0 0h0m2 3h0m3 1h0m3-1h0m-3-1h0m8 2h0m-2-3h0m-1 0h0m-1-1h0m6 0h0m0 4h0m7-2h0m496 1h0m1 0h0m2 0h0m4 2h0m0 0h0m4 0h0m0 0h0m-3-1h0m2-2h0m1 1h0m1 1h0m2-3h0m3 5h0m-3-4h0m9 2h0m-1 0h0m4-2h0m9 3h0m0 0h0m0-4h0m7 4h0m-1-4h0m-3 0h0m-2 3h0m8-3h0m1 0h0m-1 1h0m1-1h0m-2 4h0m6 0h0m-1 1h0m2-1h0m2-3h0m-2 3h0m-1 0h0m4-2h0m2-1h0m1-2h0m-2 1h0m1 5h0m1 3h0m1 2h0m-1-1h0m1 1h0m-2 0h0m-6-1h0m2-3h0m-4 0h0m-2 1h0m-2 3h0m0-4h0m3-1h0m-3 4h0m2-1h0m-5 1h0m-3-1h0m0 2h0m0 0h0m2-1h0m1 1h0m-4-3h0m-5 2h0m1 0h0m2-1h0m-4-1h0m-2 2h0m0-1h0m-8 1h0m-2 1h0m3 0h0m-11-3h0m-4-2h0m3 6h0m0-5h0m-8 2h0m0 0h0m-4-1h0m1-1h0m2 3h0m0-1h0m-494-2h0m-1 1h0m2-1h0m-8 0h0m-2 5h0m-2-4h0m-4-1h0m1 0h0m3 3h0m-8 1h0m9 2h0m8 2h0m18 3h0m1-2h0m4 2h0m1-2h0m122 2h0m5-5h0m0 0h0m2 2h0m335 2h0m5 0h0m-2 1h0m1-2h0m1-1h0m0 1h0m4 1h0m1 0h0m4-2h0m2 2h0m-1-4h0m1 5h0m1-5h0m6 0h0m1 0h0m-2 1h0m0 0h0m11-2h0m5 1h0m1 1h0m5 3h0m-1 1h0m1-3h0m3 1h0m3-2h0m-1 3h0m0-2h0m4 3h0m0-3h0m-1-3h0m2 1h0m-4 3h0m12-3h0m4 2h0m-2-2h0m0 7h0m2 0h0m1-1h0m-2 2h0m1-3h0m-5 4h0m0-3h0m1 1h0m-4-1h0m-6 4h0m4-1h0m-5 2h0m2-2h0m-8-3h0m2 3h0m-7 0h0m-2-2h0m-7 1h0m-3 0h0m0-1h0m2 2h0m-1-1h0m-3-2h0m-2 5h0m2-3h0m-2 3h0m-8-5h0m1 0h0m-2-1h0m4 0h0m-6 4h0m1-2h0m0 2h0m0-3h0m-7-1h0m-1 6h0m0-2h0m-10-2h0m5 4h0m-2-3h0m1 2h0m0-4h0m0 0h0m0 2h0m-6 1h0m2 1h0m-123-5h0m2 6h0m-198-1h0m-9-3h0m-12 2h0m1 1h0m-3-1h0m-113 1h0m-6-1h0m0-3h0m0 0h0m-5 0h0m-3 0h0m-3 1h0m2 3h0m-8-3h0m-2 0h0m5 1h0m-10-1h0m3 0h0m-6 0h0m-1 3h0m-2 0h0m-1 4h0m-4 1h0m10-2h0m2-1h0m-1 5h0m1-6h0m1 4h0m-1-3h0m8 3h0m4-3h0m6 1h0m9 0h0m-3 4h0m-2-5h0m1 3h0m7-1h0m117 1h0m11-4h0m7 6h0m-3-5h0m5 1h0m197 3h0m3 1h0m-1-1h0m117-3h0m-2-1h0m1 1h0m-3 3h0m3-4h0m0 2h0m13 2h0m-5-3h0m10 4h0m1-3h0m1 2h0m0-5h0m0 3h0m2-1h0m4 1h0m-6-2h0m0 2h0m4 3h0m-1 0h0m5-1h0m2-4h0m-3 1h0m1 4h0m1-3h0m9 1h0m-3 1h0m3 1h0m-1-3h0m-5-2h0m6 2h0m5 2h0m-4-3h0m4-1h0m-4 2h0m13 0h0m1 0h0m1 2h0m-1-1h0m9-2h0m-2 0h0m-2-1h0m2 1h0m1-2h0m0 2h0m-4 2h0m0-1h0m4 5h0m-3 2h0m3 1h0m0-5h0m-3 4h0m-2-3h0m-2 0h0m-1 4h0m2-1h0m-4 0h0m5-3h0m-4 0h0m-5 3h0m-1 2h0m-2-2h0m-3-1h0m-1 0h0m-3 3h0m-2-2h0m0 0h0m-2-3h0m-2-1h0m0 5h0m-3-4h0m1 2h0m1 0h0m0 2h0m-9 0h0m2 0h0m0-3h0m-6-1h0m-4 5h0m-4-1h0m1-2h0m2-1h0m-5-1h0m-3 3h0m1-1h0m-7-2h0m0 4h0m1-2h0m-2-1h0m-4 3h0m-1-1h0m-109-4h0m0 0h0m2 2h0m-1-1h0m-3 3h0m-195 2h0m-1-6h0m5 1h0m-9 2h0m2 2h0m-5-1h0m-16 1h0m-117 0h0m-4-4h0m1 0h0m-7 3h0m0 0h0m-3-2h0m1 0h0m-4 0h0m3 0h0m-1 1h0m-6-2h0m-5 1h0m-9 2h0m-5-2h0m4 0h0m23 7h0m6 2h0m-1 1h0m4-4h0m1 2h0m1 0h0m2 0h0m119 1h0m10 0h0m-2 0h0m4-3h0m0 0h0m-3 2h0m5-3h0m1 4h0m4-5h0m0 6h0m-5-2h0m0-3h0m9 4h0m-4-5h0m182 4h0m20 1h0m2-3h0m0-1h0m5 3h0m-3-3h0m-1 0h0m6 4h0m89-4h0m3 3h0m0 0h0m-3-1h0m10 0h0m-2-2h0m3 5h0m-4 0h0m7-1h0m0-2h0m-2-3h0m2 2h0m3-1h0m6 4h0m4 0h0m2 0h0m6-4h0m-4 1h0m3 3h0m8 1h0m-1-2h0m5-2h0m2 4h0m5-2h0m-3-4h0m3 6h0m-4-4h0m1-1h0m7 4h0m0-2h0m-2-1h0m3-2h0m6 6h0m1-4h0m0 2h0m-1-4h0m2 2h0m0 1h0m-1-3h0m5 4h0m-4 1h0m4-3h0m-3 2h0m6-1h0m3-1h0m-3 3h0m1 5h0m1-1h0m-5-3h0m-1 2h0m3 2h0m-4-4h0m2 3h0m-8 2h0m-2-3h0m4 1h0m-2 0h0m-6-1h0m2 1h0m-2-3h0m0 6h0m4-3h0m-1 2h0m1-2h0m-9 2h0m2-3h0m-3 2h0m1 2h0m-2-5h0m-3 4h0m-2 0h0m-2 0h0m-1 0h0m-1 0h0m-2-4h0m-1 5h0m0 0h0m-9-3h0m-5 2h0m-2-1h0m-3-3h0m-3 3h0m-1 0h0m1 1h0m0-3h0m-1 1h0m1 2h0m-7-3h0m-5 0h0m-8 1h0m-2 0h0m-4 3h0m3-3h0m-1-2h0m-6 3h0m-74-2h0m4 3h0m-3-3h0m0 2h0m-7-3h0m-34 5h0m-1-1h0m-4-1h0m-2 0h0m-1 0h0m-5-1h0m-6 1h0m1 0h0m3-1h0m-7 1h0m-1 1h0m-139-2h0m-2 1h0m-6 1h0m-8-5h0m-15 5h0m-13-3h0m0 0h0m4 1h0m-7 3h0m-10-3h0m5-1h0m-5 0h0m-16 0h0m4 3h0m-6-2h0m-2 1h0m-9 0h0m-11 1h0m-3-1h0m-14-2h0m1 0h0m-1 1h0m-7 0h0m3 2h0m-4-1h0m-7 1h0m-3-1h0m-5-1h0m-2 1h0m-18-3h0m2 1h0m-3 1h0m-1-1h0m12 7h0m0 2h0m-1-3h0m6 4h0m3-5h0m8 4h0m8 0h0m-6-1h0m6 2h0m6-5h0m-3-1h0m-2 6h0m0-2h0m10-2h0m-2 1h0m3 2h0m-5-2h0m15 1h0m5 0h0m1-1h0m-2-2h0m5 4h0m9-4h0m2 0h0m5 5h0m-3-2h0m-1-2h0m0 3h0m1-4h0m11 1h0m3 0h0m-1 4h0m0-4h0m4-1h0m0 4h0m1-4h0m4 5h0m1-1h0m14-1h0m3-1h0m-6 1h0m1-1h0m10 1h0m0 2h0m-4-5h0m2 4h0m-1 0h0m5-2h0m2 0h0m0 1h0m-1-1h0m3-1h0m16 2h0m5 2h0m-1-1h0m2-2h0m0-1h0m3 2h0m-1-1h0m-1-2h0m2 1h0m2 2h0m-1-2h0m1 0h0m0 2h0m8 1h0m1-3h0m-2 4h0m2-3h0m121 3h0m10-3h0m8 2h0m-1-1h0m4 1h0m4-4h0m5 0h0m0 3h0m5 0h0m-2-4h0m5 4h0m1-3h0m29 2h0m1-3h0m2 5h0m-4-2h0m4-1h0m-5-1h0m7 2h0m1-1h0m9 4h0m-1-2h0m8 2h0m-3-2h0m-3-2h0m6 4h0m3 0h0m44-2h0m-1 1h0m3 1h0m0-3h0m13 2h0m-1 0h0m7-3h0m10-1h0m-1-1h0m-1 4h0m7 0h0m1 1h0m-3-2h0m1 0h0m-3 2h0m0-3h0m11 4h0m-2-6h0m1 2h0m0 2h0m7-3h0m-2 3h0m3-4h0m2 2h0m-3 3h0m6-3h0m-5 3h0m1 0h0m6-2h0m1 0h0m0 1h0m-1-1h0m8-2h0m-1 0h0m1 2h0m0 0h0m1 3h0m4-2h0m-3-3h0m6 1h0m-3 3h0m2-1h0m4-4h0m1 1h0m8 4h0m-2-3h0m2 2h0m-2-1h0m-2 0h0m2 1h0m8 4h0m-3-1h0m-11 5h0m-4-3h0m2-1h0m-6 2h0m-14-1h0m4 1h0m-2-3h0m-2 2h0m0 2h0m-11 1h0m5-3h0m-6-3h0m-4 2h0m3 3h0m-1 0h0m-10-4h0m-6 2h0m-11 0h0m-5 1h0m2 2h0m-5 0h0m-10-5h0m-9 4h0m2-3h0m-4 4h0m1-3h0m-26-2h0m-7 4h0m4-1h0m-3-1h0m5-1h0m-5 2h0m-2 2h0m0-1h0m-10 0h0m4-5h0m0 1h0m-11 1h0m0 2h0m-2-1h0m1 1h0m0 1h0m-3-2h0m2 2h0m-11-4h0m-10 0h0m1 1h0m-10 0h0m-1 0h0m1 0h0m1 4h0m-2-3h0m1 1h0m-5-3h0m-3 1h0m-1 1h0m0-1h0m-7-1h0m1 3h0m5 1h0m-2-2h0m-9 3h0m-6-6h0m2 4h0m2 0h0m1-2h0m-21 2h0m-11 1h0m-99-1h0m0-2h0m-4 0h0m-2 2h0m-4-2h0m1-1h0m2 0h0m-9-1h0m-1 0h0m-9 1h0m-2 3h0m1-1h0m2 1h0m-9-2h0m-5-1h0m-12 4h0m-3 0h0m-2 1h0m-4-6h0m-8 5h0m-2 0h0m-2-4h0m-5 1h0m-2 4h0m2-3h0m-1-1h0m-3 1h0m-3-2h0m-4 5h0m-2-3h0m-7 1h0m4-4h0m0 3h0m0 2h0m-1-2h0m-4 0h0m0 1h0m1 2h0m-9-5h0m2 4h0m-7-2h0m0 1h0m0 0h0m-2-1h0m-4 3h0m-6-5h0m-2 3h0m0 0h0m2 0h0m-4 2h0m0-1h0m-5-4h0m-5 2h0m-5 3h0m-2-5h0m-5 3h0m1-3h0m-8 1h0m-7 1h0m1 0h0m-4 0h0m0-1h0m2 1h0m-3 1h0m15 6h0m2-1h0m2 1h0m1 0h0m19-4h0m-3 5h0m3 1h0m-4 0h0m1-2h0m2-3h0m4 4h0m7 0h0m5-5h0m1 1h0m7-1h0m-3 1h0m10 4h0m5-4h0m-2 4h0m4-1h0m5 1h0m1-3h0m-2 2h0m-1 1h0m-2 1h0m12-3h0m8 2h0m3-3h0m7 2h0m1-1h0m4-2h0m-4-1h0m2 3h0m4 0h0m6-2h0m57 1h0m-2 4h0m14-2h0m13 0h0m21 1h0m-3 0h0m10 1h0m-3-1h0m25 0h0m9-2h0m0 2h0m1-3h0m-4 2h0m2-2h0m1-1h0m0 2h0m4 0h0m-3 1h0m5-3h0m1 1h0m2 0h0m0 2h0m1 1h0m-2-2h0m7 1h0m1 2h0m-1-3h0m21-2h0m-1 0h0m-3 2h0m1-2h0m0 3h0m-1-3h0m1 2h0m7 2h0m-1-4h0m8 4h0m0-2h0m1-1h0m5 4h0m1-1h0m-4-2h0m6 2h0m3-4h0m23 0h0m6-1h0m-2 0h0m5 0h0m1 4h0m2 1h0m-1-1h0m2 0h0m1 2h0m2-1h0m2 0h0m5-3h0m3-1h0m1-1h0m3 5h0m-2 0h0m15 1h0m1-3h0m-3-2h0m5 1h0m4 1h0m-2-1h0m9 2h0m-2-3h0m-2 1h0m0 4h0m4-6h0m8 1h0m8 3h0m-3-4h0m20 5h0m-2-1h0m13 2h0m3-3h0m-4-3h0m3 6h0m10-4h0m2 1h0m0 2h0m6 1h0m-2-6h0m2 1h0m-4 1h0m0 1h0m7-2h0m1 1h0m3-2h0m3 1h0m0 3h0m1-3h0m5 1h0m1 1h0m4 2h0m4-5h0m-3 4h0m4-3h0m5 5h0m-2-1h0m2-5h0m1 5h0m0 2h0m-1 0h0m-1-1h0m0 2h0m-9-1h0m-5 2h0m-8 3h0m4-3h0m-5-2h0m-3 5h0m-3 0h0m-4-2h0m4 0h0m-16-1h0m5 2h0m-5 1h0m1-3h0m4 1h0m0-3h0m-6 5h0m-5-2h0m3 0h0m-2 2h0m0-4h0m0-1h0m-8 1h0m2-2h0m-1 2h0m-3 0h0m-14 0h0m2 2h0m-6-1h0m-8-1h0m2-1h0m0 4h0m-7-3h0m0 2h0m-7 1h0m-8 0h0m4-4h0m-4 3h0m-5 1h0m5 0h0m0 1h0m-3-6h0m-8 5h0m-6-4h0m-15 3h0m-25 1h0m-14 0h0m-1 0h0m-1 0h0m-2-4h0m-1 0h0m4 1h0m-4-1h0m4 3h0m-9-3h0m-1 2h0m0-2h0m-3 5h0m-2-2h0m-4-1h0m-2 2h0m2 0h0m-7-2h0m-3 2h0m-11-4h0m-2-1h0m-3 2h0m0-1h0m1 4h0m1-3h0m0-2h0m-6 4h0m0 0h0m-4 1h0m-4-3h0m0 0h0m-1 1h0m0-2h0m2 2h0m-1-2h0m2 2h0m-5 2h0m-2-5h0m-5 2h0m0 0h0m-3 0h0m-2 3h0m5-3h0m-6 0h0m-6 3h0m-10-4h0m1 4h0m2-4h0m-3 2h0m-1 0h0m1-2h0m5 4h0m-5 0h0m5 0h0m-8 1h0m-2-3h0m-2-2h0m-10 1h0m2 1h0m-1 0h0m-6 1h0m-8 2h0m-4-5h0m-3 2h0m4-1h0m-6-1h0m1 1h0m-11 3h0m3 0h0m-1 0h0m-12 0h0m3-3h0m-3 3h0m-49-3h0m-7 0h0m-1-1h0m-2 1h0m-12-2h0m3 2h0m-17 0h0m0 0h0m-7-1h0m4 0h0m-2 2h0m4 0h0m-2-2h0m1 3h0m-1 1h0m1-3h0m0 4h0m-7-2h0m-9-4h0m3 5h0m-1-4h0m-5 1h0m-1 3h0m2-2h0m1-2h0m-3 0h0m2 2h0m-3 3h0m4-3h0m-6 2h0m-4-2h0m0 1h0m1-2h0m0 0h0m0 2h0m-7-4h0m-9 0h0m-24 2h0m1 2h0m32 7h0m7-2h0m1 0h0m-2 0h0m13-1h0m-2 3h0m1-4h0m1 0h0m2-1h0m-5 3h0m1 2h0m9-3h0m-1 1h0m4 2h0m5-4h0m0 0h0m1 2h0m0-2h0m99 3h0m0-3h0m3 3h0m0-4h0m3 5h0m-3-1h0m8-1h0m0 1h0m6 1h0m0-3h0m8 2h0m2-4h0m3 1h0m-1 3h0m9-3h0m-1 0h0m-3 3h0m9-2h0m-2 1h0m1 1h0m-1-1h0m-1 0h0m2 2h0m-2 0h0m0-2h0m1 0h0m2-1h0m-4 2h0m0-1h0m6 1h0m2-2h0m6 0h0m9 1h0m1 2h0m5-2h0m1-1h0m20 0h0m-3 1h0m2 2h0m2 0h0m6-4h0m3 1h0m6 1h0m4 0h0m5 3h0m-4-5h0m6 4h0m-2 0h0m3-1h0m1 1h0m4-4h0m1 0h0m1 5h0m-1-1h0m0-4h0m9 0h0m2 2h0m-2-2h0m2 2h0m2 1h0m2 2h0m-3-2h0m12-4h0m10 1h0m6 3h0m-4 0h0m3 1h0m4 1h0m-2-1h0m15-1h0m-1 1h0m-1-4h0m4 3h0m5-2h0m-2 0h0m-2 2h0m10 1h0m0 1h0m-1-2h0m0-1h0m3-2h0m4 3h0m-3 0h0m6-4h0m-1 4h0m3-1h0m-3-1h0m11-1h0m-4 3h0m1 1h0m2 0h0m-3-1h0m6-2h0m10-1h0m-3 1h0m5 0h0m2-1h0m-2 4h0m7-3h0m3 0h0m11 0h0m-4-1h0m9 2h0m-3-1h0m4-1h0m7 3h0m-1-3h0m5 3h0m0-2h0m1 2h0m2-4h0m-4 5h0m1-3h0m1 4h0m-4-5h0m6 0h0m5 4h0m6-1h0m0-1h0m3 1h0m4-1h0m-4-2h0m2 1h0m4-1h0m5 0h0m1 3h0m-8 5h0m-9-3h0m-8 1h0m1-1h0m3 2h0m-7 0h0m-1-2h0m-8 5h0m0-3h0m4 0h0m-7 1h0m1-2h0m0 4h0m-6 0h0m-1-4h0m0 4h0m0-4h0m-6 2h0m-5 1h0m-22-4h0m4 2h0m-4 0h0m-6 3h0m-3-5h0m-1 2h0m-8 0h0m1 0h0m4-1h0m-13 0h0m-9 1h0m1-1h0m1 2h0m-5 0h0m-6-3h0m-9 0h0m2 1h0m-1 0h0m-24-1h0m-5 0h0m0 1h0m-4 0h0m-12-1h0m-2 5h0m-12 1h0m0-2h0m-5-3h0m1 2h0m-7-2h0m-10 5h0m2-2h0m-5 2h0m2-5h0m-2 3h0m2 0h0m-4 1h0m4 1h0m-7-4h0m1 2h0m-9-3h0m-2 3h0m-1-1h0m2-2h0m-7-1h0m2 5h0m3-1h0m0-1h0m-1-1h0m-8 0h0m-14-1h0m1 2h0m-5-3h0m-1 5h0m-6 0h0m0-1h0m2-2h0m-2 3h0m-2 0h0m0-1h0m-8 2h0m0-1h0m-3-1h0m0 0h0m-4-2h0m-1 4h0m3-2h0m-6-1h0m1-1h0m-5 1h0m5 1h0m-11-3h0m3 0h0m-5 0h0m-1 0h0m-93 3h0m0-2h0m-3 1h0m-17-2h0m-6 0h0m1 2h0m-6-2h0m-5-1h0m130 7h0m10 1h0m2 0h0m3 0h0m2-1h0m-3 2h0m2-2h0m7 3h0m-2-2h0m-2 2h0m4 0h0m0-3h0m8 0h0m-4 2h0m4 0h0m-1-1h0m-3 3h0m-2-3h0m2 3h0m3-2h0m1-2h0m3 1h0m-2 0h0m1 2h0m0-3h0m-1 0h0m1 3h0m3 2h0m-4-3h0m3-1h0m-3-2h0m10 6h0m-1-5h0m7 0h0m10 4h0m0 0h0m-2-3h0m2 3h0m2-5h0m3 5h0m0-5h0m0 2h0m12 4h0m4-4h0m-4 2h0m3-1h0m4-3h0m-1 1h0m2-1h0m2 2h0m11-1h0m-4 1h0m9 3h0m0 1h0m1-4h0m-2 0h0m0 1h0m1 1h0m6-2h0m-2 1h0m5 2h0m4-3h0m-1 3h0m2-1h0m4-1h0m-3-3h0m98 4h0m2 2h0m4-3h0m2-2h0m0 1h0m4 2h0m-1 2h0m0-2h0m6-1h0m13 3h0m-2-1h0m2-4h0m6 3h0m-2-3h0m1 0h0m6 3h0m-1-2h0m0-1h0m5 0h0m6 3h0m-1-2h0m-1 4h0m0-4h0m5 3h0m-1 2h0m-11 2h0m1 0h0m-5-2h0m-9 2h0m1 0h0m0-2h0m-3-1h0m-14 2h0m-2-1h0m-107 0h0m-11 1h0m-12 0h0m-23-1h0m0 2h0m-10 2h0m1-3h0m-7-1h0m-1 4h0m3-4h0m-9 3h0m-10 1h0m2-2h0m-1 0h0m0-1h0m-7 0h0m-6-1h0m-2 1h0m-24-1h0m38 10h0m-1 1h0m3-1h0m8-5h0m-2 6h0m-1-5h0m6 4h0m9-4h0m1-1h0m3 4h0m1 1h0m-2-4h0m4 4h0m0 1h0m2-3h0m-1 3h0m2 0h0m-18 0h0m-7 1h0m1 0h0" stroke="#d62728" stroke-width="3.1" stroke-linecap="round" fill="none" opacity="0.72"/>
<path d="M1029 330h0m52-1h0m2-1h0m19 0h0m0 1h0m134 6h0m-26 0h0m-2-5h0m-1 5h0m-1-2h0m-2-2h0m-65 1h0m-2 0h0m-11 0h0m-20 0h0m-2 0h0m-17 2h0m-54-2h0m-6 1h0m-6 3h0m-6-1h0m-5-2h0m-12-1h0m-92 10h0m1 0h0m17-1h0m6-1h0m-3 1h0m4 0h0m1 0h0m8 0h0m-4-2h0m6 3h0m-4-4h0m9 3h0m2-2h0m8 1h0m7-2h0m-3 1h0m12 2h0m14-2h0m-1-2h0m0 0h0m2 0h0m50 5h0m0-2h0m72-4h0m5 3h0m10-1h0m50 3h0m15 0h0m5-4h0m0-1h0m5 5h0m9-2h0m-3 1h0m7-1h0m5 3h0m15-1h0m12 0h0m-5 4h0m-2 1h0m-7-2h0m-4 0h0m-10 1h0m-2-3h0m-6 2h0m-1-2h0m-1 2h0m-8 4h0m1-2h0m-2-1h0m-5-2h0m-4 4h0m1-1h0m2-2h0m0 3h0m-10-2h0m-4 1h0m-26 2h0m-11-1h0m4-3h0m-2 2h0m-5-2h0m-25 3h0m-32-3h0m-7 2h0m-17-3h0m-113 0h0m-1 1h0m0 0h0m-6 4h0m2-3h0m0-2h0m-8-1h0m4 4h0m-27 1h0m3-3h0m0 2h0m-1-2h0m-1 3h0m1-1h0m-7-1h0m-2 1h0m1 0h0m0-2h0m0 0h0m0 1h0m3-1h0m-2-1h0m2 0h0m-6 2h0m4 6h0m2 1h0m5-1h0m-3 0h0m5-2h0m0 4h0m0-3h0m-1 0h0m-1-1h0m-3 3h0m11-1h0m-6 0h0m1 0h0m1-3h0m-2 5h0m10-3h0m-3 1h0m4 3h0m9-2h0m2 0h0m1-4h0m3 3h0m-1-1h0m0 4h0m3-1h0m-3-1h0m3 2h0m3 0h0m219-4h0m26-1h0m-5 4h0m9-5h0m0 2h0m-1-1h0m5 0h0m-1 2h0m3-1h0m0 1h0m-3-1h0m0 1h0m23 0h0m0 0h0m-6-1h0m15 2h0m2 1h0m11 0h0m9-2h0m1-1h0m4 4h0m12-1h0m2 0h0m1 0h0m3-1h0m-6 1h0m2-1h0m6 1h0m10-1h0m2 5h0m-5-2h0m-12 0h0m-13 3h0m2-2h0m-4 4h0m-1 0h0m0 0h0m-4-5h0m-2 3h0m-20-3h0m-3 4h0m0 0h0m-8-4h0m-2 2h0m-14-3h0m-3 6h0m-6 0h0m-3 0h0m2-3h0m-6-2h0m-242 0h0m-4 1h0m0 4h0m-3-1h0m-10-2h0m1-3h0m-1 2h0m0-1h0m-4 0h0m-4 1h0m0 3h0m-6-1h0m-10-2h0m3 2h0m-5-1h0m-2 0h0m10 3h0m4 3h0m0-3h0m0 0h0m-2 4h0m0-3h0m2 3h0m1-2h0m12-1h0m-1-1h0m270 2h0m6 3h0m0-4h0m-2 3h0m-3-3h0m13 1h0m-1 4h0m10-5h0m-1 0h0m2 4h0m5 1h0m-4-3h0m2 2h0m-2-3h0m23 4h0m-3-5h0m6 5h0m-1-1h0m3 1h0m-2 0h0m9-4h0m-3-1h0m13 1h0m1 1h0m-1 0h0m13-1h0m9 2h0m26 4h0m-4 4h0m0-2h0m-3 2h0m3-1h0m-3 0h0m-5-3h0m0-1h0m3 1h0m-5-2h0m-6 0h0m0 5h0m-5 0h0m-3 0h0m-2-3h0m-2-1h0m-6 0h0m1 0h0m0 1h0m-4 3h0m1-1h0m-1-1h0m-6-3h0m-4 1h0m-1-1h0m-6 3h0m-9 3h0m-5-5h0m-9 1h0m2-1h0m3 5h0m-11-2h0m-4-2h0m1-2h0m-3 3h0m0-1h0m-9 0h0m1 1h0m-5-1h0m-4-2h0m-301 4h0m-26 1h0m-5 6h0m13 0h0m5-2h0m10 2h0m5-2h0m2 2h0m-2-1h0m0 1h0m8-4h0m328 3h0m9 0h0m-1-3h0m5 2h0m1 1h0m4 2h0m-1 0h0m4-1h0m-2 0h0m-3-1h0m10 0h0m0 2h0m6-5h0m0 0h0m6-1h0m0 0h0m13 2h0m2 0h0m0 0h0m5-1h0m3 1h0m9 0h0m3 0h0m-1-1h0m1 0h0m3 5h0m15 3h0m-11-2h0m-5 2h0m-7 1h0m-3 2h0m2-2h0m-12-1h0m-3 0h0m-2-1h0m0 1h0m1 0h0m-20 1h0m0 0h0m-2-2h0m0 0h0m-7 3h0m4-4h0m1 2h0m-9 2h0m3-1h0m-8 1h0m-352-4h0m-32 1h0m-11 0h0m2 2h0m30 4h0m381 3h0m2-2h0m23 3h0m1-2h0m1 1h0m5-1h0m4-3h0m13 0h0m3 0h0m-1 2h0m9 0h0m2 2h0m9 5h0m-7-1h0m3 1h0m-3 0h0m0-1h0m1-2h0m-14-1h0m-2 3h0m2 3h0m-4-2h0m0 0h0m0-4h0m-3 5h0m-2-5h0m-1 0h0m-7 5h0m3-5h0m2 3h0m-6-1h0m-8-2h0m-3 0h0m-3 1h0m-7 2h0m-3-2h0m-1 2h0m-5-3h0m-394 5h0m-38 2h0m28 3h0m5-1h0m-3 2h0m412-5h0m13 1h0m-4 3h0m21-3h0m9 0h0m6 4h0m0 1h0m14-6h0m4 5h0m0-2h0m12 9h0m-3-2h0m-3-2h0m3 2h0m-15 1h0m1 0h0m-1-4h0m-5 3h0m-8-2h0m6 1h0m-3 0h0m0 2h0m-2-1h0m-7-1h0m1-2h0m0 4h0m-3 0h0m0-3h0m0 3h0m-15-4h0m0 2h0m0 3h0m-2-5h0m-3 2h0m-448 3h0m455 4h0m0-1h0m-2 2h0m1-5h0m3 3h0m1-2h0m3 1h0m0 3h0m8-3h0m-1-1h0m-1 4h0m4-2h0m0-1h0m0 0h0m1 1h0m5 0h0m0-2h0m12-1h0m4 4h0m1-3h0m-4 2h0m3-1h0m11 1h0m16 5h0m-7 4h0m2-2h0m-1 1h0m-2-3h0m3 2h0m-10 1h0m-11-1h0m-22-3h0m2 1h0m-10 0h0m0-1h0m-459 4h0m-20 1h0m484 5h0m-1 0h0m4 0h0m8-3h0m1 2h0m5-1h0m5 0h0m-2 2h0m12-1h0m4-4h0m-1 0h0m7 5h0m-1-1h0m7 1h0m-2-3h0m1 4h0m12 1h0m0 5h0m-3-4h0m2 2h0m-12-4h0m0 1h0m-5 0h0m-2 2h0m-7 0h0m-2-3h0m-1 5h0m-2 0h0m2-3h0m-9 3h0m3-2h0m-3 1h0m-5-3h0m-1 0h0m4 2h0m-7 1h0m-7 0h0m-497-4h0m-1 5h0m-8 7h0m4-4h0m6-2h0m1 2h0m-1 4h0m504-5h0m-2 3h0m5-1h0m20-1h0m1 2h0m2-1h0m16-2h0m6 1h0m1-1h0m-6 10h0m3-4h0m-19 4h0m0-3h0m-7-1h0m-1 4h0m-3-4h0m0 3h0m-9 2h0m3-6h0m-5 4h0m-4-1h0m5-1h0m-4 1h0m4 1h0m1-1h0m-6 0h0m3-1h0m-5-1h0m-526 4h0m-3 5h0m1 2h0m8-1h0m-5-1h0m0 2h0m4-2h0m-5-4h0m9 5h0m14-3h0m-3 0h0m8 3h0m2 1h0m503-5h0m14 0h0m12 2h0m9 2h0m0 1h0m21 4h0m-4-1h0m-1 0h0m1-1h0m-8-1h0m-6 3h0m-6-3h0m2 1h0m-8 3h0m-1-4h0m2 4h0m3-3h0m-6 2h0m-530-1h0m-26 2h0m4 1h0m-8-5h0m3 0h0m-2 8h0m5 1h0m0-4h0m-3 5h0m4-4h0m-3 3h0m24-4h0m518 6h0m8-5h0m13 4h0m-1 1h0m6-4h0m5 3h0m-3-2h0m7 0h0m2-3h0m-3 5h0m11-5h0m0 2h0m-1 0h0m1 3h0m-2-3h0m0 3h0m3-3h0m-4 8h0m-3-3h0m3 0h0m-7 4h0m3 0h0m-10-3h0m2 4h0m-1-4h0m0 1h0m-7-3h0m2 1h0m0 1h0m3 4h0m-10-5h0m-15 3h0m-1-2h0m-535 3h0m-3-3h0m0 0h0m-4 7h0m5-1h0m548-1h0m10 4h0m-1-1h0m2 1h0m6-3h0m0 0h0m16 2h0m-5 1h0m5-5h0m-3 4h0m5 1h0m-1-4h0m-10 8h0m-6 2h0m-7-4h0m1 3h0m-1-1h0m0 2h0m-12 0h0m1-5h0m-1 2h0m-551 3h0m-6-1h0m-4 2h0m-4 5h0m7 0h0m-1-3h0m3 0h0m-4 0h0m0 1h0m4 0h0m3-1h0m1 0h0m2 3h0m-2-1h0m8-3h0m546 0h0m4 2h0m-2-3h0m7 2h0m11 2h0m-2 1h0m7-1h0m-4 0h0m0 0h0m3 1h0m13-2h0m1 0h0m4 0h0m1 0h0m0 0h0m-3 1h0m3 0h0m-1 2h0m-1 1h0m-7 2h0m-2 2h0m5-1h0m-3 0h0m3-2h0m-10 3h0m2-2h0m0 1h0m-7 0h0m3 0h0m0-3h0m0 3h0m-2 0h0m-10-2h0m0 3h0m-1-1h0m-4-3h0m-6 4h0m2-5h0m-1 2h0m1 2h0m-3-2h0m-1 0h0m-553-1h0m-4 3h0m-1-3h0m1 4h0m-1 0h0m-5-1h0m-6 1h0m7 3h0m1-2h0m9 6h0m-3-3h0m1-1h0m1 0h0m-1 1h0m6-2h0m551-1h0m2 1h0m2 4h0m7 0h0m-1-2h0m2-3h0m1 4h0m9-3h0m-3 2h0m2 1h0m3-1h0m1-1h0m5 2h0m2-2h0m0-1h0m3 0h0m1 2h0m1 2h0m-2-4h0m6 6h0m-3 5h0m-3-2h0m2 2h0m-1-1h0m2-2h0m2 2h0m-5-3h0m-3-2h0m2 4h0m0-1h0m-3-2h0m-7 0h0m1 2h0m2-2h0m2 3h0m-8-4h0m-4 1h0m-1 3h0m-2-3h0m-1 1h0m-3 0h0m-8 4h0m0-3h0m2-3h0m-557 3h0m-13 2h0m0 0h0m1-3h0m-6-1h0m0 7h0m1 3h0m1-5h0m-1 1h0m2-1h0m4 1h0m8 3h0m560 0h0m0 1h0m5-1h0m2-3h0m-5 3h0m1-2h0m-2 4h0m11-2h0m5 2h0m7-1h0m2 1h0m0-2h0m11-2h0m-4-2h0m3 5h0m-4-4h0m0-1h0m2 0h0m3 6h0m0-6h0m-3 8h0m0-1h0m-2 3h0m4-3h0m-1-1h0m-7 4h0m0 1h0m0-3h0m-2 0h0m1-1h0m-14 0h0m1 3h0m-1-4h0m-1 1h0m-7 2h0m-3 2h0m-2-3h0m-560 2h0m-5 1h0m1 0h0m-2-4h0m0 5h0m-2-2h0m3 1h0m-4-3h0m-8 1h0m3 8h0m-1-4h0m5 1h0m1 1h0m4 0h0m0-1h0m-4-1h0m6 4h0m-4-5h0m7 3h0m-3-2h0m567 4h0m1-3h0m1 3h0m7 0h0m-4-3h0m1 4h0m-2-3h0m5 1h0m-1-1h0m5 1h0m-3 0h0m5-4h0m5 6h0m-3-5h0m4 3h0m-5-4h0m2 1h0m6 2h0m0-1h0m-1 0h0m4 1h0m-5 2h0m9-3h0m-3-1h0m5 3h0m-5 1h0m3-2h0m-1 8h0m-5 0h0m-1 0h0m2-5h0m-1 3h0m-11 2h0m-1-4h0m-5 4h0m-9-1h0m4-2h0m-3 1h0m1-2h0m-565 1h0m-1 2h0m-4 1h0m1-4h0m-2 2h0m2 0h0m-1 1h0m-1-2h0m-5 1h0m1 1h0m-1 1h0m-1-3h0m-1 3h0m-2-4h0m-4 10h0m15-1h0m-3-1h0m573-1h0m0 3h0m9-3h0m1 2h0m0-1h0m1 1h0m-2 0h0m7 0h0m3-3h0m-3 5h0m1-5h0m0 3h0m-4 1h0m4 0h0m0-1h0m-1-2h0m8 2h0m-4-2h0m3-1h0m7 4h0m-1-1h0m-1-1h0m3 2h0m-1-1h0m-3-3h0m7 2h0m3-1h0m-4 0h0m0 1h0m-2 0h0m5 0h0m6 1h0m-4 0h0m0 1h0m0 3h0m-1-2h0m4 3h0m-2-3h0m1 1h0m-6 4h0m0-2h0m-1 0h0m1 1h0m2-4h0m-3 5h0m-3 1h0m0-3h0m-2 1h0m3-3h0m-2-1h0m-3 0h0m1 4h0m2-1h0m-9 2h0m4-2h0m0-1h0m-2 2h0m1 0h0m-1-3h0m-2 0h0m3 3h0m1-3h0m-4 1h0m3 2h0m-5-2h0m-3 1h0m4 1h0m-5-1h0m4 2h0m-4-3h0m5-2h0m-4 1h0m3 3h0m0 1h0m0-3h0m0 3h0m-11-1h0m3 2h0m1-2h0m-2-1h0m-1 3h0m0 0h0m-2-2h0m-3-1h0m-4 0h0m1-1h0m-1 4h0m0-6h0m-1 9h0m5-1h0m3 3h0m3-2h0m1-3h0m5 1h0m1 0h0m2 2h0m0 0h0m-3-3h0m3 5h0m-5-3h0m4-1h0m1 1h0m0 3h0m-1-3h0m1 0h0m-4 0h0m8 3h0m-2-2h0m2 1h0m1-2h0m-2-1h0m8 2h0m-1-1h0m-3 2h0m6 0h0m5 2h0m-4-3h0m-1 3h0m9-1h0m-2 0h0m0 5h0m1-1h0m1-3h0m-1 3h0m-1-1h0m0 4h0m-4-3h0m1-1h0m1-1h0m-2 4h0m-7-4h0m3-1h0m-4 4h0m4-2h0m-5 2h0m3 0h0m2-3h0m-1 4h0m-6 1h0m-2-1h0m1-4h0m0 3h0m0-2h0m2 2h0m-1-3h0m-2 2h0m1 1h0m1 2h0m0-3h0m-9 1h0m0-2h0m-1-1h0m4-1h0m1 2h0m-7 1h0m-2 1h0m-1-1h0m1 2h0m1-3h0m-3 1h0m-3 1h0m1-4h0m1 2h0m-7-1h0m0 3h0m-579-3h0m2 8h0m577 2h0m-1-1h0m1-2h0m9-1h0m0-1h0m3 6h0m2-4h0m0 2h0m-4 0h0m5-4h0m2 2h0m-1-2h0m-2 0h0m4 3h0m7 0h0m0 2h0m5-2h0m1-3h0m5 5h0m-3-5h0m1 4h0m-1 0h0m1 0h0m7-3h0m1 5h0m-2-2h0m1 7h0m0-3h0m0 3h0m-1 1h0m-8-5h0m5-1h0m-3 5h0m0-1h0m-6-4h0m-1 2h0m5 2h0m-4-2h0m4 2h0m-8-3h0m0 4h0m2-2h0m-6 1h0m1 0h0m-6-3h0m1 3h0m-2-2h0m-3 1h0m2-2h0m1 2h0m-2-3h0m-12 1h0m-571 0h0m-2-1h0m-5 3h0m3 0h0m-5-2h0m-1-1h0m580 8h0m5 4h0m-1-4h0m9 3h0m-2-1h0m1-1h0m-2 0h0m0 1h0m10 2h0m-4-4h0m1 0h0m-2 2h0m4 0h0m2-3h0m-2 5h0m2-1h0m10-3h0m5 2h0m0-3h0m-1 1h0m0-2h0m1 2h0m-1 1h0m8 2h0m-3-1h0m3-2h0m-2 4h0m0-4h0m4-1h0m-1 8h0m-2 0h0m-7 1h0m2-2h0m-1 1h0m2 2h0m-3-1h0m3 0h0m-9 0h0m4 2h0m-6-4h0m2 2h0m-2-1h0m-4 3h0m1-5h0m-1 0h0m1 0h0m2 2h0m-8 1h0m-2-4h0m3 4h0m0 0h0m0-2h0m-1-2h0m-1 1h0m-1 0h0m-2 0h0m-3 3h0m3-3h0m-7 4h0m-2 0h0m1-4h0m0 2h0m-7-2h0m4 0h0m-572-1h0m-11 11h0m580-4h0m2 0h0m-3 2h0m8 2h0m-4 1h0m0 0h0m4-3h0m5-3h0m3 1h0m0-1h0m-1 3h0m-2 0h0m2-2h0m0 0h0m6 3h0m-1-2h0m2 1h0m-5-3h0m1 3h0m2-1h0m-2 3h0m5-2h0m0-1h0m4 2h0m-3-1h0m1 3h0m1-4h0m-3-2h0m11 4h0m-2-4h0m2 0h0m1 4h0m0 1h0m6-5h0m-1 1h0m4 0h0m3 1h0m0 1h0m-6 8h0m-1-4h0m1 2h0m1 0h0m2 1h0m-1-2h0m2-1h0m0 4h0m-9-2h0m1-1h0m1 1h0m-3-1h0m3 0h0m-7 3h0m0-3h0m-1 3h0m3-5h0m-4 4h0m4-1h0m0-2h0m-4 1h0m1 1h0m-4-1h0m-4-1h0m5 3h0m-3-2h0m0 4h0m3-3h0m-3-2h0m2 1h0m0 3h0m1-1h0m0-1h0m-9-2h0m3 1h0m0 1h0m-4 2h0m3 1h0m-2-5h0m4 2h0m-2-1h0m-9 1h0m4-2h0m-4 4h0m2-1h0m-2-2h0m2 0h0m-1 1h0m1 1h0m-5 1h0m-1-4h0m1 5h0m1 0h0m-8-4h0m3 4h0m-2-1h0m-3-3h0m4-2h0m-561 2h0m-1 3h0m-4-3h0m-11 1h0m-5 9h0m-1-1h0m8-3h0m-3 2h0m-3 1h0m3 0h0m3-2h0m10-2h0m1 3h0m0-4h0m0 1h0m1 0h0m2 0h0m1 2h0m-2-3h0m556 3h0m2 3h0m1-3h0m-1 1h0m10-2h0m-3-1h0m-1 5h0m5-4h0m1 1h0m2 0h0m1 1h0m-2-2h0m4 4h0m4-2h0m2-4h0m-6 4h0m11-2h0m-5 2h0m1-3h0m-1 1h0m12 3h0m0-1h0m-5 1h0m1-1h0m6 0h0m0 0h0m5 1h0m1-5h0m5 6h0m-5 1h0m2 4h0m-3-3h0m2 3h0m-6 0h0m1-5h0m-3 5h0m1-2h0m-7 2h0m1 0h0m2-1h0m-2-4h0m-3 4h0m-3 0h0m0 1h0m-2 0h0m0 0h0m2-4h0m-1 0h0m-4 1h0m-1 2h0m4-2h0m-4 0h0m0 3h0m-1-5h0m-5 5h0m3-1h0m-4 1h0m4 0h0m-3-3h0m-8 1h0m4 2h0m0-1h0m-7-1h0m-3 0h0m-558 3h0m3-1h0m-3-4h0m-7 5h0m-11-3h0m4-3h0m-1 3h0m-1 0h0m0 1h0m-3-1h0m1-2h0m3 6h0m14 0h0m-1-1h0m1 3h0m-1 2h0m3-4h0m562 0h0m7-1h0m-2 4h0m7 2h0m-3 0h0m4-6h0m-3 1h0m-2 2h0m6-2h0m4 1h0m-4 2h0m3-3h0m0 1h0m6 4h0m-2-2h0m3 1h0m0-3h0m-4 2h0m2-2h0m-1 1h0m2 2h0m3 0h0m3-2h0m-3-2h0m0 1h0m3 2h0m-2-1h0m8-2h0m-1 1h0m-2 3h0m3-1h0m2 1h0m0 1h0m-4-1h0m8-2h0m-2 0h0m-2 2h0m3-4h0m2 3h0m1 5h0m-10 1h0m1 1h0m-2-2h0m1-2h0m0 1h0m-1-1h0m-5-1h0m-1 3h0m0 2h0m5 1h0m-3-3h0m-2 3h0m-1-2h0m-3-3h0m0 1h0m1 3h0m0-3h0m-2 2h0m-1-1h0m1 2h0m0 0h0m3-3h0m-3-1h0m0 2h0m3-1h0m-10-2h0m0 1h0m5 5h0m-4-1h0m-5-3h0m3 2h0m-5-3h0m1 2h0m0 0h0m-3 0h0m-1 2h0m-8-5h0m3 2h0m-3-2h0m1 5h0m-4-4h0m-4 1h0m4 3h0m-2-4h0m-555 2h0m2 2h0m-4-3h0m-4 2h0m-3 1h0m3-4h0m-8 3h0m-1 2h0m4 5h0m2-1h0m-2-2h0m2 2h0m8-3h0m3 1h0m550 3h0m2 1h0m4-2h0m11-2h0m-4-1h0m6 4h0m-1-4h0m9 1h0m3-1h0m-5 0h0m0 1h0m9 1h0m1 1h0m5 0h0m1-3h0m-2 1h0m1-2h0m0 0h0m-4 2h0m4 8h0m-2-2h0m-10 3h0m-3 0h0m4 0h0m-5 0h0m-1-4h0m-10-1h0m-4 6h0m-6-4h0m2 1h0m-1 3h0m-5 0h0m0-4h0m-555 1h0m-7 2h0m-1-5h0m1 3h0m-4-1h0m1-2h0m8 11h0m3-5h0m-1 4h0m0-3h0m4 1h0m547 4h0m-1-3h0m1 3h0m2-2h0m2 0h0m9-1h0m1 2h0m2-1h0m7 0h0m-2 1h0m-3-3h0m7 1h0m8 1h0m13-4h0m-1 4h0m-3 6h0m2 0h0m-3-1h0m-5-3h0m2 4h0m2 0h0m0 1h0m0 1h0m-2-3h0m-7 1h0m1 1h0m-4-2h0m-2-2h0m-3 1h0m-2 2h0m-3 0h0m-1-3h0m4 4h0m-16-1h0m2-1h0m-6-2h0m1 0h0m0 2h0m2-2h0m-4 2h0m-546 0h0m-7-2h0m3 3h0m3-1h0m-2-2h0m-1 0h0m3-1h0m-1 4h0m-9-2h0m2-1h0m1 4h0m-4-4h0m-4 4h0m-2-1h0m0-1h0m3-1h0m-4-1h0m-1 8h0m5-2h0m10 4h0m4-3h0m-1 3h0m0 0h0m0 0h0m4-4h0m1 3h0m-1 0h0m1 2h0m-2-3h0m4 2h0m538 0h0m0 1h0m7-3h0m1-1h0m-5 1h0m9-2h0m1 3h0m-2-2h0m9-2h0m5 2h0m-3-2h0m1 6h0m8-4h0m0 3h0m-1-5h0m7 2h0m-3 1h0m7-3h0m1 0h0m6 3h0m-1 2h0m3-4h0m-3 1h0m-1 8h0m-2 1h0m0 0h0m-2-3h0m-1 3h0m-5-2h0m-10 1h0m3-2h0m-2 2h0m1 0h0m4 0h0m-5 0h0m5-2h0m-2 0h0m-9 1h0m1-3h0m0 6h0m-11-2h0m1 2h0m-1-1h0m-5-2h0m-4-2h0m-6 4h0m4-1h0m-7 1h0m0-2h0m-539-3h0m-4 3h0m0-3h0m-1 1h0m-2 9h0m12-3h0m528 3h0m8-2h0m-2 0h0m-2-2h0m5 0h0m6 1h0m8 1h0m3-1h0m0 4h0m2 0h0m0-1h0m5 1h0m4-1h0m-3 0h0m9 1h0m-3-2h0m0 2h0m1 1h0m-1-2h0m1-1h0m5 3h0m5-4h0m11 1h0m1 3h0m1 3h0m-1 2h0m0-1h0m-3 2h0m-4-5h0m-7 3h0m1 0h0m-2 2h0m0 0h0m-2-4h0m-2 2h0m0-1h0m-6 1h0m-10-1h0m-1-1h0m-2 2h0m1 0h0m-7-3h0m1 4h0m-7-1h0m0-2h0m-3 0h0m1 0h0m4 1h0m-2-1h0m-2 2h0m0-3h0m1 2h0m-2 0h0m-4-3h0m-5 4h0m-4 2h0m3-1h0m-7 0h0m-518 0h0m-6 1h0m1-1h0m-1-1h0m5 0h0m-6 1h0m1-2h0m-6 1h0m-4 0h0m4 6h0m-3 1h0m5 0h0m3-2h0m521 1h0m3-2h0m1 0h0m-1 3h0m6 0h0m4-5h0m4 6h0m-3-4h0m10 0h0m1 1h0m-5 2h0m6-2h0m-2 1h0m10-1h0m1 1h0m2-1h0m3-1h0m3 0h0m-4 2h0m3-1h0m1 2h0m1-2h0m2 3h0m-1-2h0m1 1h0m9-2h0m-1-2h0m1 0h0m-1 0h0m1 2h0m-2 2h0m2-4h0m-3 5h0m4-5h0m5 3h0m-1-3h0m8-1h0m-1 2h0m0 0h0m1 1h0m-6-3h0m3 3h0m4 1h0m0 1h0m5-3h0m-1-1h0m-1 3h0m-1-3h0m1 2h0m2 6h0m-14 1h0m-8 1h0m-2-4h0m2 3h0m-1-4h0m2 5h0m-1-4h0m-7 4h0m0 1h0m4-2h0m1 0h0m-4 0h0m-3-4h0m1 1h0m-6 5h0m-4-6h0m1 5h0m-3-3h0m1 1h0m0 0h0m-1-1h0m2 1h0m0 0h0m-7 2h0m2 1h0m1-5h0m0 5h0m-2-4h0m-2 4h0m-4-4h0m-1-2h0m1 1h0m3 1h0m-6 3h0m-2-2h0m-7-1h0m0 0h0m-1 3h0m4-3h0m0 0h0m1 2h0m-11-2h0m2 0h0m-1 3h0m-8-5h0m5 3h0m-6-1h0m-1 1h0m-492 2h0m-20-1h0m-1-1h0m0 0h0m3-2h0m-2 0h0m3 5h0m-9-2h0m2 1h0m7 6h0m7-2h0m-3-1h0m-2 0h0m7 2h0m2-1h0m1-2h0m-3 1h0m1-2h0m-2 6h0m6-2h0m3 2h0m1-1h0m-2-3h0m500 3h0m5 0h0m1-1h0m-5 1h0m3-3h0m2 3h0m0-1h0m3 1h0m1 1h0m-2-3h0m4 0h0m-2-3h0m3 1h0m2 2h0m3-2h0m-5 2h0m1 2h0m8 0h0m3-2h0m3 1h0m1-1h0m1 1h0m-5-3h0m5 0h0m-4 1h0m10-2h0m-5 2h0m10 0h0m-4-1h0m3 2h0m4-1h0m3 1h0m3 1h0m2-1h0m0 1h0m-1 2h0m0-1h0m-1 0h0m0-4h0m5 0h0m-1 0h0m-1 4h0m-1 0h0m8-3h0m0 3h0m0-3h0m2 1h0m5 3h0m0-5h0m-1 1h0m0 1h0m2 0h0m-5 6h0m0 2h0m1-4h0m-4 0h0m-5 2h0m1-2h0m3 2h0m-4 0h0m3 2h0m-1 0h0m-4 0h0m-3-1h0m0-1h0m-1 1h0m3 0h0m1-1h0m-1 1h0m-1-2h0m0 2h0m2 0h0m-8 2h0m2-3h0m0-2h0m-2 3h0m0 1h0m0 0h0m1-2h0m0-1h0m-1 0h0m2 4h0m-10-2h0m3 2h0m-10-2h0m-3 2h0m2-2h0m2-2h0m-4 2h0m2-2h0m1 1h0m-10-1h0m1 3h0m-2-2h0m-3 2h0m-2-2h0m0 0h0m2 3h0m-1-4h0m-6 1h0m-1-2h0m5 3h0m-4-2h0m0 2h0m-2-1h0m-5 2h0m4-4h0m-3 5h0m1-3h0m-1 0h0m0 2h0m-3 1h0m-494 0h0m0-3h0m-3-1h0m6 0h0m-3 2h0m-11 1h0m-4-1h0m0-3h0m-8 4h0m2 4h0m2 1h0m3 1h0m-4-1h0m10 2h0m-3-2h0m-1-1h0m8 1h0m6 1h0m494-4h0m1 3h0m2 1h0m0 0h0m1 0h0m-3-2h0m3 2h0m5-2h0m3 3h0m0-4h0m-1-2h0m-1 4h0m6-2h0m-2-2h0m1 2h0m0 0h0m0 4h0m1-4h0m-1 2h0m9-2h0m-3 1h0m5 1h0m1-4h0m2 3h0m6-2h0m0-1h0m1 1h0m6 4h0m-1-4h0m2 4h0m-4-2h0m-2 2h0m10 1h0m-1-5h0m-1-1h0m0 3h0m-1 3h0m1-3h0m9 1h0m1-3h0m1-1h0m-1 3h0m2 3h0m5 4h0m-6 1h0m1 0h0m2-2h0m-2 2h0m2-2h0m-5 1h0m0-2h0m0 3h0m0-4h0m-1 4h0m-8-2h0m2-2h0m0 5h0m0-2h0m-7 0h0m3 0h0m-5 0h0m3-3h0m-5 3h0m-9-1h0m3-1h0m-6 0h0m-1 0h0m-2 2h0m4 0h0m-16-2h0m3 1h0m-2 0h0m-2-2h0m-5-1h0m1 3h0m-2-2h0m5 4h0m-8-1h0m-1-3h0m0 1h0m-491-2h0m-1 2h0m1 2h0m-7 2h0m-2-1h0m0 0h0m-1-4h0m-3 0h0m-2 1h0m-6 3h0m5-5h0m0 0h0m1 8h0m3-1h0m12-1h0m6 5h0m-2 0h0m5 0h0m9-3h0m-1 2h0m-1 0h0m6 0h0m-1 0h0m5 2h0m116-1h0m12-1h0m2 0h0m-4-3h0m336 1h0m2 2h0m4 0h0m-3 2h0m1-1h0m-3 1h0m10-1h0m5 0h0m1 0h0m-1-1h0m1 1h0m2-5h0m3 3h0m1-2h0m-1 1h0m2 2h0m-1-1h0m-1-1h0m-3 3h0m1-3h0m2 2h0m2-1h0m-4 3h0m9-5h0m-3 1h0m-2 0h0m6 4h0m1 0h0m-1-3h0m2 2h0m7 0h0m-2 0h0m1-3h0m3 0h0m4-1h0m3 4h0m-4-5h0m-1 1h0m4 3h0m1-1h0m-1 0h0m7 3h0m-1-3h0m0-1h0m-3-2h0m0 2h0m-2 1h0m6 2h0m4-2h0m-1 2h0m2-2h0m0 1h0m3-1h0m-2 1h0m7 2h0m-1 0h0m0 0h0m-4 4h0m-2-1h0m-4 1h0m-1-1h0m-5 3h0m0 0h0m2-2h0m-2 1h0m-2-2h0m3 1h0m0 0h0m0-3h0m0 3h0m-1 1h0m-2-1h0m-3 1h0m3-3h0m-12 1h0m6-2h0m-5 4h0m-2-2h0m-1-1h0m-2 2h0m-7-3h0m3 1h0m-1-1h0m0 2h0m0-1h0m-2-2h0m1 0h0m-4 5h0m-10-2h0m6 3h0m-4-3h0m-5 2h0m1-3h0m0 1h0m-6 1h0m1 0h0m-6-1h0m-4-1h0m1 2h0m0 2h0m3-3h0m0 2h0m-127-3h0m-14 4h0m-183-1h0m-7-1h0m-14 1h0m0 0h0m-119-2h0m-2 0h0m3 3h0m-2-4h0m-1 3h0m-9 1h0m-2-3h0m1-2h0m-2 4h0m-4-2h0m-7-2h0m4 1h0m-2-1h0m-7 3h0m-2 0h0m0 2h0m-2 4h0m-2-1h0m4-3h0m-1 1h0m6-1h0m-4 3h0m4-1h0m1 0h0m1 2h0m9-4h0m-1 4h0m6-3h0m-2 4h0m-2-2h0m6-2h0m5 2h0m-2 1h0m0 1h0m-3-3h0m11 1h0m-1-1h0m0 1h0m0-1h0m3 1h0m130-2h0m-4 1h0m6 2h0m3-3h0m1 0h0m1 0h0m2 1h0m184 2h0m131 1h0m-4-1h0m3-2h0m-3 4h0m9-1h0m1-4h0m-5 1h0m7 0h0m4 3h0m6 1h0m-2-4h0m2 2h0m0 0h0m1-3h0m-2 3h0m2-2h0m-4 3h0m5-2h0m8-1h0m0 3h0m0-1h0m-1-2h0m2 0h0m3-2h0m3 5h0m7 1h0m0-2h0m-2-2h0m-1 2h0m5 0h0m1-4h0m3 4h0m-4-2h0m4 0h0m-2 4h0m3-2h0m2-3h0m1 3h0m4-2h0m0 0h0m3 2h0m-3-3h0m4 4h0m-5 1h0m4-2h0m0 0h0m0-1h0m-2-1h0m3 0h0m-4 0h0m-1 1h0m1 3h0m5 2h0m-4 2h0m3-3h0m-9 0h0m1 2h0m2-3h0m1 1h0m-2 3h0m1-1h0m-2-1h0m-8 1h0m1 0h0m2 2h0m2-5h0m-7 1h0m-1 4h0m1-1h0m-8-1h0m3-2h0m-3 3h0m1 0h0m-7 0h0m2-4h0m-2 3h0m-1-2h0m-6 0h0m-1 0h0m-1 3h0m1-3h0m-3 1h0m-3-2h0m-1 4h0m1-2h0m3-1h0m0 3h0m-4-3h0m-4 3h0m0-4h0m4 3h0m-11 0h0m2-1h0m-1 1h0m2-1h0m0 0h0m0 2h0m-3 0h0m4 0h0m-3-3h0m-5 2h0m-9-1h0m3 1h0m-107 2h0m-1-4h0m-5 0h0m-191 2h0m-6 1h0m1-1h0m-137 1h0m-12-1h0m-1-3h0m2 2h0m-7-1h0m1-1h0m4 1h0m-6-1h0m3 4h0m-6-3h0m2 2h0m-8-3h0m2 1h0m-12 3h0m24 5h0m6 2h0m-1-5h0m3 5h0m1-1h0m0-2h0m-1 3h0m6 0h0m119 0h0m7-2h0m4 2h0m1-1h0m2-2h0m6-1h0m1 1h0m197-2h0m1 1h0m5 3h0m0-1h0m-1 1h0m4 0h0m96-1h0m-5 0h0m3 1h0m7 1h0m-3-5h0m-1 6h0m1-4h0m6 4h0m-1-4h0m9 0h0m-2 1h0m1-1h0m5 1h0m5-2h0m3 5h0m0-3h0m3-3h0m2 3h0m-2-2h0m4 3h0m1 1h0m-2-1h0m-1-2h0m4-1h0m0 3h0m3 0h0m5 0h0m-1-1h0m2 2h0m5-3h0m4-1h0m-5 2h0m10-1h0m1 2h0m-3 0h0m-2-2h0m6 4h0m2-3h0m-2 2h0m6-1h0m3-2h0m3 0h0m-1 4h0m-2 4h0m0 0h0m2-2h0m-12 1h0m-2-2h0m-4 1h0m3 0h0m0 4h0m-8-2h0m1 1h0m-1 0h0m2-5h0m2 1h0m-3 1h0m-5 1h0m-1 2h0m3-1h0m-6-1h0m-4 2h0m4-3h0m-4-1h0m5 4h0m-4-3h0m1 3h0m2-3h0m-4 2h0m-2-2h0m-13 1h0m0 2h0m0-5h0m-3 3h0m-6 0h0m-5 1h0m-1-1h0m2 2h0m3-3h0m-2 0h0m1 2h0m-2 0h0m-4-3h0m-5-1h0m-6 5h0m6-3h0m-9 0h0m2 2h0m1-3h0m-6 4h0m-2-2h0m-2-1h0m3 0h0m-4 1h0m-1 2h0m-76-2h0m0 2h0m0-4h0m2 4h0m-3-3h0m-6-1h0m-1 3h0m-20-3h0m-12 3h0m-4 0h0m-5 2h0m-10-1h0m-150-3h0m-1 0h0m4 0h0m-8 0h0m0 2h0m2-1h0m-9 1h0m-9-2h0m-6 2h0m2-1h0m-4 1h0m-8-2h0m0 2h0m2 0h0m-17-1h0m-9 1h0m2 1h0m-3 0h0m-2-3h0m-2 1h0m-6 2h0m-2-3h0m-5 0h0m-2 3h0m-1-2h0m0 0h0m-5 1h0m-3 1h0m-1 0h0m-4-1h0m-5 0h0m-1-1h0m-1 2h0m-6-1h0m-3-1h0m2 3h0m-2 0h0m0-3h0m3 0h0m-2 1h0m-3 0h0m-1 2h0m2-2h0m-6 1h0m-7 1h0m-5-2h0m-2-2h0m-8 2h0m-6-2h0m2 0h0m-8-2h0m2 3h0m9 6h0m9 0h0m-2-2h0m6 1h0m7 1h0m6-3h0m1 1h0m4 0h0m21 0h0m-2 1h0m3 3h0m4 0h0m8 1h0m6-3h0m-3 2h0m0-1h0m0 1h0m6-1h0m4-2h0m2 2h0m-2-3h0m6 4h0m1-4h0m6 1h0m2 4h0m3 0h0m8-5h0m3 0h0m0 2h0m1 1h0m1 1h0m5-4h0m-6 1h0m5 3h0m-1 0h0m5-4h0m8 3h0m22 2h0m-2-4h0m0 2h0m0 1h0m0-4h0m1 1h0m7 3h0m4 0h0m130-1h0m4-1h0m-3 3h0m5-3h0m-2 1h0m8-2h0m6-2h0m3 1h0m-1 0h0m1 0h0m36 1h0m1 2h0m1 2h0m1-1h0m-1-3h0m0 1h0m-1-1h0m3-1h0m3 4h0m4-5h0m4 5h0m1-2h0m55-1h0m-1 3h0m9 0h0m7-3h0m7 0h0m3 1h0m9 2h0m0 0h0m4-4h0m6 2h0m2 1h0m0-2h0m-3 0h0m2 0h0m7 2h0m6 0h0m-1 0h0m-1-1h0m-1 2h0m0-3h0m3-2h0m7 0h0m-2 3h0m-2 2h0m5-2h0m2 1h0m14 1h0m0-4h0m3 3h0m1-3h0m-2 3h0m-1 6h0m-7 0h0m-2-1h0m2-3h0m-3 2h0m-1 3h0m-5-4h0m-9 3h0m-2 1h0m2-2h0m-10 3h0m-1-3h0m1 1h0m3-2h0m1 0h0m-1-1h0m-6-1h0m2 3h0m-3 0h0m-7 2h0m3-2h0m-4-1h0m-2 3h0m1-5h0m-8 5h0m1 0h0m-4-2h0m-1 0h0m-17-1h0m-7 0h0m1 3h0m1-1h0m-1 0h0m2 1h0m-4-2h0m0 1h0m-5-1h0m-5 2h0m2 0h0m-7-2h0m1 0h0m-10 3h0m-3-1h0m-13 0h0m2-1h0m-6 1h0m-2-1h0m-3 1h0m0 0h0m-7-5h0m-2 2h0m0 3h0m-6 1h0m0-3h0m1 1h0m1 0h0m-5-3h0m1 2h0m-1-3h0m0 6h0m-3-4h0m4 3h0m-16-5h0m-11 3h0m-3 3h0m-2-1h0m1-1h0m-8-3h0m-4 0h0m-9 4h0m-6 1h0m4-1h0m-1-2h0m-5 0h0m-23 2h0m4-2h0m-92 0h0m-7 3h0m-8-4h0m-5 0h0m5-1h0m-6 0h0m-7-1h0m-1 2h0m-6 1h0m-6-2h0m-1 0h0m3 0h0m-2-1h0m-6 0h0m-18 2h0m-5 2h0m0-2h0m2-2h0m-1 0h0m-5 3h0m-1 3h0m-5-5h0m-2 5h0m-1-6h0m-13 1h0m4 0h0m-5 2h0m-2-1h0m-4 4h0m3-3h0m1 2h0m-2-1h0m3-3h0m-4 0h0m-8 0h0m0 1h0m-4 1h0m-6-2h0m2-1h0m-1 4h0m-2 0h0m1-4h0m-2 3h0m-1 1h0m-4-4h0m1 4h0m-2 1h0m-12 1h0m5-2h0m-4 1h0m-8 0h0m-2 1h0m-3-1h0m-6-4h0m4 5h0m-2-1h0m-5-3h0m-2 0h0m3 2h0m1 0h0m-14-3h0m0 2h0m-4-1h0m12 6h0m1-2h0m11 3h0m-1-2h0m0 4h0m1 0h0m6-2h0m-4 2h0m2-5h0m8 0h0m-3 0h0m1 4h0m7-3h0m1 1h0m-1-1h0m-4 5h0m5 0h0m-2-4h0m5 3h0m1-1h0m3-2h0m3-1h0m0-1h0m-3 1h0m0 5h0m1-5h0m0 3h0m8-4h0m-3 5h0m7-3h0m0 4h0m3-2h0m-1 0h0m0-1h0m13 2h0m1-1h0m-1 2h0m6-2h0m5-1h0m1 2h0m0-3h0m-2 1h0m4-1h0m-6 0h0m11 3h0m-1-2h0m4 1h0m6 1h0m3-1h0m6-1h0m-4-1h0m0-2h0m0 0h0m4 2h0m54-1h0m6 4h0m0 0h0m-5-1h0m10-2h0m10 4h0m0-2h0m3 1h0m31 0h0m33-2h0m1 2h0m1 1h0m-2-1h0m2-1h0m-2 1h0m7-3h0m2 1h0m-2 1h0m1 0h0m0-2h0m2-1h0m5 2h0m-3 3h0m2-2h0m-3 0h0m7 1h0m5 0h0m1 0h0m13-2h0m-2-2h0m3 0h0m2 1h0m0 1h0m3 0h0m3 2h0m4 0h0m-3 1h0m9-3h0m1 2h0m-1-3h0m11 0h0m14 4h0m11-4h0m-1-1h0m2 0h0m4 4h0m-3-1h0m-1 1h0m17-4h0m-3 2h0m2-2h0m1 4h0m5 0h0m-2-3h0m-1 2h0m0 1h0m21-2h0m-1-1h0m0 1h0m6-2h0m8 0h0m1 2h0m-6-2h0m0 0h0m7 0h0m0 0h0m1 1h0m6 1h0m2-1h0m0 0h0m5 2h0m2-3h0m-5 0h0m3 2h0m15-1h0m10-1h0m12 3h0m-4 1h0m5-5h0m0 5h0m-3-3h0m6 0h0m-1 1h0m9 2h0m-1-5h0m-1 1h0m-1 2h0m1-3h0m1 0h0m5 4h0m-2-3h0m10 4h0m2-3h0m-4 0h0m-1 1h0m12-2h0m1 2h0m-2 1h0m5 2h0m-3-6h0m5 5h0m-1 1h0m-11 3h0m0 0h0m-3-2h0m-8 2h0m4-2h0m-8 4h0m1 0h0m0-2h0m0 1h0m-10-1h0m4 2h0m-10-4h0m3 3h0m-2 0h0m-4-3h0m-3 1h0m2-1h0m-8 3h0m2-3h0m1 4h0m0 0h0m-12-2h0m2 2h0m-6 1h0m-2-3h0m-3-1h0m0 1h0m-6 0h0m2-2h0m-9 5h0m4-1h0m-5-1h0m-3 1h0m4-2h0m-5 3h0m-3-4h0m-1 1h0m-8 3h0m1-3h0m0-1h0m0 0h0m4 4h0m-3-2h0m-6 0h0m3 2h0m-8-4h0m-6 4h0m-10-4h0m0 3h0m6 1h0m-4-3h0m-2 0h0m-6 2h0m2-4h0m-5 0h0m2 5h0m-5-3h0m-2 0h0m-5 0h0m-10-2h0m-30 2h0m3-2h0m1 4h0m-4-2h0m0-3h0m2 1h0m-2 3h0m2-4h0m-1 5h0m-3-2h0m-4-3h0m4 1h0m-2 2h0m-2 2h0m-4-2h0m-2 1h0m4-3h0m-1 1h0m1 1h0m-3-2h0m-3 0h0m-2 2h0m2-1h0m0 4h0m-20-5h0m-3 2h0m-3 1h0m0 2h0m-1-3h0m2-1h0m-1-1h0m0-1h0m1 0h0m-1 2h0m-7-1h0m-1 1h0m1-1h0m0 4h0m-1-2h0m1 2h0m0-2h0m2-1h0m-5 0h0m-1 2h0m-8-3h0m-6 5h0m-1-1h0m4-5h0m-3 2h0m0 2h0m-7 1h0m-1-1h0m5-2h0m-8 1h0m3 1h0m-9 2h0m3-2h0m-2 2h0m-1-4h0m-13 3h0m-7-2h0m1-2h0m-11 3h0m2 1h0m-3-3h0m-4 1h0m-2 1h0m2 2h0m-3 0h0m5-2h0m-6-2h0m-4 3h0m2-2h0m-8 0h0m0 1h0m-2-4h0m0 6h0m-1-5h0m-4 1h0m-2-1h0m-65 1h0m-8 0h0m-19 1h0m1 2h0m-1-1h0m1-1h0m-7 2h0m-2 0h0m2 1h0m-6-1h0m2 0h0m-8 0h0m1-2h0m-2 0h0m2-1h0m1 0h0m0 3h0m-4-1h0m5-2h0m-16 3h0m3-4h0m-5 5h0m-3-6h0m1 4h0m-15-1h0m-5-2h0m3 1h0m20 5h0m2 0h0m1 2h0m-2 2h0m1-5h0m6 5h0m1 0h0m-1-2h0m6 1h0m3-1h0m2 1h0m2-4h0m-2 1h0m3 3h0m-4 2h0m0-2h0m1 2h0m6-4h0m8 1h0m-1-1h0m2 0h0m89-2h0m4 3h0m8 0h0m-1-2h0m3 4h0m-6 0h0m9-5h0m-2 2h0m0 3h0m2 0h0m4-2h0m0 1h0m2-2h0m-1-2h0m-1 1h0m2 1h0m8 2h0m3-2h0m3-2h0m-1 5h0m4-4h0m2 0h0m8 1h0m-6-2h0m0 1h0m12 3h0m-5 1h0m2-2h0m-3 2h0m4-1h0m3-4h0m0 1h0m0-1h0m5 2h0m0 0h0m1 3h0m-1-3h0m3-1h0m5 2h0m4 0h0m11 1h0m3 1h0m6-2h0m2 2h0m0 0h0m-1 0h0m2 1h0m-4-4h0m7 0h0m-1 4h0m-1-2h0m1-3h0m10 3h0m12 2h0m1-5h0m3 1h0m2-2h0m1 2h0m-1 1h0m2 1h0m-1-1h0m5-1h0m-1 3h0m2-1h0m3-2h0m-2 0h0m0 0h0m10-1h0m5 2h0m0 2h0m8-3h0m8 1h0m8 2h0m18-2h0m-1 0h0m4-1h0m8-2h0m1 1h0m0 2h0m-1 1h0m7 1h0m4 1h0m0-1h0m3-3h0m4 0h0m2-1h0m-5 1h0m3 0h0m0 1h0m12 2h0m-2-2h0m3-3h0m4 1h0m2 3h0m-2-2h0m6-1h0m-1 4h0m2-4h0m-3 1h0m4-1h0m13 0h0m-1 3h0m-2 0h0m3 0h0m-3-2h0m-1 1h0m3-1h0m1 2h0m-3-1h0m6-3h0m4 3h0m6 1h0m-5 0h0m4 2h0m1-1h0m6-5h0m5 2h0m-4 2h0m0-2h0m-1 1h0m2-3h0m9 2h0m-1 3h0m0 0h0m-4-3h0m6 0h0m1-1h0m-1 3h0m6-4h0m-1 4h0m0-3h0m-4 3h0m9-3h0m-2 1h0m1 2h0m0 0h0m4-2h0m-1 6h0m-12-2h0m-3 3h0m1-2h0m-9 2h0m2-1h0m-9-1h0m6 1h0m0 2h0m-7-2h0m-1 3h0m1-4h0m-9 0h0m-1 2h0m1 3h0m2-1h0m1 1h0m-23-3h0m1 0h0m-7 2h0m-3-4h0m-6 3h0m-4-3h0m-4 1h0m1 2h0m-13-3h0m-5 0h0m1 0h0m-5 1h0m-4 1h0m-5-1h0m-45-1h0m-7 0h0m-12 3h0m-1-3h0m2 0h0m-9 3h0m2-2h0m-5 1h0m0 3h0m-1-3h0m2 2h0m-13-2h0m-7 3h0m0-5h0m3 1h0m-3-1h0m2 3h0m-11-4h0m5 5h0m-3-3h0m3-2h0m-6 2h0m0 2h0m-5-4h0m-5 4h0m0-3h0m0 1h0m0 3h0m-2-2h0m0 2h0m-4-1h0m4 1h0m-3-4h0m-5 4h0m1-1h0m-1 0h0m1 0h0m-2-2h0m3 3h0m-5-5h0m1 0h0m-9 2h0m-3 3h0m-3-4h0m-3 5h0m3-3h0m-4-2h0m-2-1h0m-3 2h0m-6 3h0m-11-3h0m-1 0h0m-10-1h0m-104 2h0m2 0h0m-4-3h0m0 2h0m-18-1h0m-5 3h0m131 7h0m1-1h0m5-3h0m-5 1h0m7 1h0m3 0h0m-2-3h0m2 1h0m5 5h0m0-5h0m0-1h0m1 5h0m8-2h0m-2-2h0m1 3h0m3-2h0m3 0h0m-1 3h0m-3-1h0m1-3h0m1-1h0m-1 1h0m2 5h0m1-1h0m6-2h0m-3-1h0m0 1h0m-1-2h0m6 1h0m0 3h0m-1-5h0m1 2h0m9 3h0m4-3h0m-2 3h0m4-1h0m6-4h0m1 0h0m-5 2h0m1 1h0m5-2h0m1 1h0m2 3h0m13-4h0m7 4h0m-2 0h0m8 0h0m2-3h0m3 3h0m-1 0h0m-1-5h0m7 5h0m-1-2h0m7 0h0m2 2h0m-1-3h0m2-1h0m1 4h0m0-1h0m104-2h0m2 0h0m-4-1h0m2 2h0m5-1h0m13 1h0m0 1h0m8 1h0m-4 0h0m8-4h0m4-1h0m3 1h0m-2 0h0m4 1h0m-2-1h0m-2-1h0m0 3h0m6 1h0m4-2h0m0 2h0m-1 0h0m1-1h0m1 0h0m4 2h0m2-2h0m-10 3h0m-8 1h0m3 0h0m-4 0h0m-9-1h0m-7 0h0m-6 2h0m-2 1h0m-1-2h0m-115 0h0m-6 0h0m0 1h0m-5 0h0m-11-1h0m3 0h0m-2 1h0m3-1h0m-17 1h0m-2-2h0m-2 2h0m-16 4h0m-1-1h0m4-1h0m-10-3h0m-7 2h0m3 0h0m-8 2h0m-3-3h0m-12-1h0m-8-1h0m21 7h0m17 2h0m-1 0h0m0 1h0m-4 1h0m2-4h0m-2-1h0m12 4h0m4 1h0m0-2h0m-3-1h0m10-1h0m-9 5h0m-12 2h0m2-1h0" stroke="#d62728" stroke-width="3.1" stroke-linecap="round" fill="none" opacity="0.72"/>
<path d="M1107.3 366C1104.6 365.3 1100.9 356.1 1098 353.3C1095.1 350.5 1095.8 350.5 1090 349.3C1084.2 348.1 1072.2 346.6 1063.3 345.9C1054.4 345.2 1045.6 345.2 1036.7 345.3C1027.8 345.4 1018 345.8 1010 346.7C1002 347.6 997.6 348.5 988.7 350.7C979.8 352.9 966.5 357.3 956.7 360C946.9 362.7 938 364 930 366.7C922 369.4 915.8 372.4 908.7 376C901.6 379.6 894 382.9 887.3 388C880.6 393.1 874.9 400 868.7 406.7C862.5 413.4 855.8 420.9 850 428C844.2 435.1 838.9 441.3 834 449.3C829.1 457.3 824.5 466.2 820.7 476C816.9 485.8 813.5 497.3 811.3 508C809.1 518.7 807.7 529.3 807.3 540C806.9 550.7 807.6 561.8 808.7 572C809.8 582.2 811.8 591.5 814 601.3C816.2 611.1 818.7 620.9 822 630.7C825.3 640.5 829.8 651.6 834 660C838.2 668.4 842.4 675 847.3 681.3C852.2 687.6 858.8 694 863.3 698C867.8 702 868.7 702.3 874 705.3C879.3 708.3 887.8 713.3 895.3 716C902.8 718.7 911.3 720.8 919.3 721.3C927.3 721.8 936.2 720.2 943.3 718.7C950.4 717.2 956.4 714.7 962 712C967.6 709.3 973.2 706 976.7 702.7C980.2 699.4 981.8 696.2 983.3 692C984.8 687.8 983.3 676.4 986 677.3C988.7 678.2 995.3 691.3 999.3 697.3C1003.3 703.3 1006 708.4 1010 713.3C1014 718.2 1018.8 722.9 1023.3 726.7C1027.8 730.5 1032.2 733.6 1036.7 736C1041.2 738.4 1045.1 740.4 1050 741.3C1054.9 742.2 1060.7 741.7 1066 741.3C1071.3 740.9 1077.1 738.9 1082 738.7C1086.9 738.5 1090.4 738.9 1095.3 740C1100.2 741.1 1106 745.1 1111.3 745.3C1116.6 745.5 1123.1 743.1 1127.3 741.3C1131.5 739.5 1134.5 737.8 1136.7 734.7C1138.9 731.6 1138.5 723.6 1140.7 722.7C1142.9 721.8 1146.9 728.6 1150 729.3C1153.1 730 1156 729.4 1159.3 726.7C1162.6 724 1166 718.2 1170 713.3C1174 708.4 1179.1 702.2 1183.3 697.3C1187.5 692.4 1193.3 682.7 1195.3 684C1197.3 685.3 1193.7 699.1 1195.3 705.3C1196.9 711.5 1200.9 716.6 1204.7 721.3C1208.5 726 1212.7 729.7 1218 733.3C1223.3 736.9 1230.9 740.5 1236.7 742.7C1242.5 744.9 1246.9 747.2 1252.7 746.7C1258.5 746.2 1265.1 742.5 1271.3 740C1277.5 737.5 1284.2 735.1 1290 732C1295.8 728.9 1301.1 725.3 1306 721.3C1310.9 717.3 1315.6 712.2 1319.3 708C1323 703.8 1325.9 699.7 1328 696C1330.1 692.3 1331.6 689.3 1332 686C1332.4 682.7 1331.3 678.9 1330.5 676C1329.7 673.1 1327.1 670.5 1327 668.5C1326.9 666.5 1328.1 665.8 1330 664C1331.9 662.2 1335.1 661.5 1338.5 658C1341.9 654.5 1346.8 648.9 1350.4 643.2C1354 637.5 1357.1 630.9 1360 624C1362.9 617.1 1365.9 609.6 1368 601.6C1370.1 593.6 1371.7 584.5 1372.8 576C1373.9 567.5 1374.4 558.9 1374.4 550.4C1374.4 541.9 1374.1 533.3 1372.8 524.8C1371.5 516.3 1369.1 507.7 1366.4 499.2C1363.7 490.7 1361.1 482.1 1356.8 473.6C1352.5 465.1 1346.7 456 1340.8 448C1334.9 440 1329.1 433.1 1321.6 425.6C1314.1 418.1 1305.6 410.1 1296 403.2C1286.4 396.3 1273.9 389.3 1264 384.5C1254.1 379.7 1245.7 377.5 1236.7 374.5C1227.7 371.5 1218.9 369.1 1210 366.7C1201.1 364.3 1192.2 362 1183.3 360C1174.4 358 1165.6 355.8 1156.7 354.7C1147.8 353.6 1137.1 352.9 1130 353.3C1122.9 353.7 1117.8 355.2 1114 357.3C1110.2 359.4 1110 366.7 1107.3 366Z" fill="none" stroke="#fff" stroke-width="7" opacity=".45"/>
<path d="M1107.3 366C1104.6 365.3 1100.9 356.1 1098 353.3C1095.1 350.5 1095.8 350.5 1090 349.3C1084.2 348.1 1072.2 346.6 1063.3 345.9C1054.4 345.2 1045.6 345.2 1036.7 345.3C1027.8 345.4 1018 345.8 1010 346.7C1002 347.6 997.6 348.5 988.7 350.7C979.8 352.9 966.5 357.3 956.7 360C946.9 362.7 938 364 930 366.7C922 369.4 915.8 372.4 908.7 376C901.6 379.6 894 382.9 887.3 388C880.6 393.1 874.9 400 868.7 406.7C862.5 413.4 855.8 420.9 850 428C844.2 435.1 838.9 441.3 834 449.3C829.1 457.3 824.5 466.2 820.7 476C816.9 485.8 813.5 497.3 811.3 508C809.1 518.7 807.7 529.3 807.3 540C806.9 550.7 807.6 561.8 808.7 572C809.8 582.2 811.8 591.5 814 601.3C816.2 611.1 818.7 620.9 822 630.7C825.3 640.5 829.8 651.6 834 660C838.2 668.4 842.4 675 847.3 681.3C852.2 687.6 858.8 694 863.3 698C867.8 702 868.7 702.3 874 705.3C879.3 708.3 887.8 713.3 895.3 716C902.8 718.7 911.3 720.8 919.3 721.3C927.3 721.8 936.2 720.2 943.3 718.7C950.4 717.2 956.4 714.7 962 712C967.6 709.3 973.2 706 976.7 702.7C980.2 699.4 981.8 696.2 983.3 692C984.8 687.8 983.3 676.4 986 677.3C988.7 678.2 995.3 691.3 999.3 697.3C1003.3 703.3 1006 708.4 1010 713.3C1014 718.2 1018.8 722.9 1023.3 726.7C1027.8 730.5 1032.2 733.6 1036.7 736C1041.2 738.4 1045.1 740.4 1050 741.3C1054.9 742.2 1060.7 741.7 1066 741.3C1071.3 740.9 1077.1 738.9 1082 738.7C1086.9 738.5 1090.4 738.9 1095.3 740C1100.2 741.1 1106 745.1 1111.3 745.3C1116.6 745.5 1123.1 743.1 1127.3 741.3C1131.5 739.5 1134.5 737.8 1136.7 734.7C1138.9 731.6 1138.5 723.6 1140.7 722.7C1142.9 721.8 1146.9 728.6 1150 729.3C1153.1 730 1156 729.4 1159.3 726.7C1162.6 724 1166 718.2 1170 713.3C1174 708.4 1179.1 702.2 1183.3 697.3C1187.5 692.4 1193.3 682.7 1195.3 684C1197.3 685.3 1193.7 699.1 1195.3 705.3C1196.9 711.5 1200.9 716.6 1204.7 721.3C1208.5 726 1212.7 729.7 1218 733.3C1223.3 736.9 1230.9 740.5 1236.7 742.7C1242.5 744.9 1246.9 747.2 1252.7 746.7C1258.5 746.2 1265.1 742.5 1271.3 740C1277.5 737.5 1284.2 735.1 1290 732C1295.8 728.9 1301.1 725.3 1306 721.3C1310.9 717.3 1315.6 712.2 1319.3 708C1323 703.8 1325.9 699.7 1328 696C1330.1 692.3 1331.6 689.3 1332 686C1332.4 682.7 1331.3 678.9 1330.5 676C1329.7 673.1 1327.1 670.5 1327 668.5C1326.9 666.5 1328.1 665.8 1330 664C1331.9 662.2 1335.1 661.5 1338.5 658C1341.9 654.5 1346.8 648.9 1350.4 643.2C1354 637.5 1357.1 630.9 1360 624C1362.9 617.1 1365.9 609.6 1368 601.6C1370.1 593.6 1371.7 584.5 1372.8 576C1373.9 567.5 1374.4 558.9 1374.4 550.4C1374.4 541.9 1374.1 533.3 1372.8 524.8C1371.5 516.3 1369.1 507.7 1366.4 499.2C1363.7 490.7 1361.1 482.1 1356.8 473.6C1352.5 465.1 1346.7 456 1340.8 448C1334.9 440 1329.1 433.1 1321.6 425.6C1314.1 418.1 1305.6 410.1 1296 403.2C1286.4 396.3 1273.9 389.3 1264 384.5C1254.1 379.7 1245.7 377.5 1236.7 374.5C1227.7 371.5 1218.9 369.1 1210 366.7C1201.1 364.3 1192.2 362 1183.3 360C1174.4 358 1165.6 355.8 1156.7 354.7C1147.8 353.6 1137.1 352.9 1130 353.3C1122.9 353.7 1117.8 355.2 1114 357.3C1110.2 359.4 1110 366.7 1107.3 366Z" fill="#d62728"/>
<path d="M1107.3 366C1104.6 365.3 1100.9 356.1 1098 353.3C1095.1 350.5 1095.8 350.5 1090 349.3C1084.2 348.1 1072.2 346.6 1063.3 345.9C1054.4 345.2 1045.6 345.2 1036.7 345.3C1027.8 345.4 1018 345.8 1010 346.7C1002 347.6 997.6 348.5 988.7 350.7C979.8 352.9 966.5 357.3 956.7 360C946.9 362.7 938 364 930 366.7C922 369.4 915.8 372.4 908.7 376C901.6 379.6 894 382.9 887.3 388C880.6 393.1 874.9 400 868.7 406.7C862.5 413.4 855.8 420.9 850 428C844.2 435.1 838.9 441.3 834 449.3C829.1 457.3 824.5 466.2 820.7 476C816.9 485.8 813.5 497.3 811.3 508C809.1 518.7 807.7 529.3 807.3 540C806.9 550.7 807.6 561.8 808.7 572C809.8 582.2 811.8 591.5 814 601.3C816.2 611.1 818.7 620.9 822 630.7C825.3 640.5 829.8 651.6 834 660C838.2 668.4 842.4 675 847.3 681.3C852.2 687.6 858.8 694 863.3 698C867.8 702 868.7 702.3 874 705.3C879.3 708.3 887.8 713.3 895.3 716C902.8 718.7 911.3 720.8 919.3 721.3C927.3 721.8 936.2 720.2 943.3 718.7C950.4 717.2 956.4 714.7 962 712C967.6 709.3 973.2 706 976.7 702.7C980.2 699.4 981.8 696.2 983.3 692C984.8 687.8 983.3 676.4 986 677.3C988.7 678.2 995.3 691.3 999.3 697.3C1003.3 703.3 1006 708.4 1010 713.3C1014 718.2 1018.8 722.9 1023.3 726.7C1027.8 730.5 1032.2 733.6 1036.7 736C1041.2 738.4 1045.1 740.4 1050 741.3C1054.9 742.2 1060.7 741.7 1066 741.3C1071.3 740.9 1077.1 738.9 1082 738.7C1086.9 738.5 1090.4 738.9 1095.3 740C1100.2 741.1 1106 745.1 1111.3 745.3C1116.6 745.5 1123.1 743.1 1127.3 741.3C1131.5 739.5 1134.5 737.8 1136.7 734.7C1138.9 731.6 1138.5 723.6 1140.7 722.7C1142.9 721.8 1146.9 728.6 1150 729.3C1153.1 730 1156 729.4 1159.3 726.7C1162.6 724 1166 718.2 1170 713.3C1174 708.4 1179.1 702.2 1183.3 697.3C1187.5 692.4 1193.3 682.7 1195.3 684C1197.3 685.3 1193.7 699.1 1195.3 705.3C1196.9 711.5 1200.9 716.6 1204.7 721.3C1208.5 726 1212.7 729.7 1218 733.3C1223.3 736.9 1230.9 740.5 1236.7 742.7C1242.5 744.9 1246.9 747.2 1252.7 746.7C1258.5 746.2 1265.1 742.5 1271.3 740C1277.5 737.5 1284.2 735.1 1290 732C1295.8 728.9 1301.1 725.3 1306 721.3C1310.9 717.3 1315.6 712.2 1319.3 708C1323 703.8 1325.9 699.7 1328 696C1330.1 692.3 1331.6 689.3 1332 686C1332.4 682.7 1331.3 678.9 1330.5 676C1329.7 673.1 1327.1 670.5 1327 668.5C1326.9 666.5 1328.1 665.8 1330 664C1331.9 662.2 1335.1 661.5 1338.5 658C1341.9 654.5 1346.8 648.9 1350.4 643.2C1354 637.5 1357.1 630.9 1360 624C1362.9 617.1 1365.9 609.6 1368 601.6C1370.1 593.6 1371.7 584.5 1372.8 576C1373.9 567.5 1374.4 558.9 1374.4 550.4C1374.4 541.9 1374.1 533.3 1372.8 524.8C1371.5 516.3 1369.1 507.7 1366.4 499.2C1363.7 490.7 1361.1 482.1 1356.8 473.6C1352.5 465.1 1346.7 456 1340.8 448C1334.9 440 1329.1 433.1 1321.6 425.6C1314.1 418.1 1305.6 410.1 1296 403.2C1286.4 396.3 1273.9 389.3 1264 384.5C1254.1 379.7 1245.7 377.5 1236.7 374.5C1227.7 371.5 1218.9 369.1 1210 366.7C1201.1 364.3 1192.2 362 1183.3 360C1174.4 358 1165.6 355.8 1156.7 354.7C1147.8 353.6 1137.1 352.9 1130 353.3C1122.9 353.7 1117.8 355.2 1114 357.3C1110.2 359.4 1110 366.7 1107.3 366Z" fill="url(#sp1)"/>
<path d="M1107.3 366C1104.6 365.3 1100.9 356.1 1098 353.3C1095.1 350.5 1095.8 350.5 1090 349.3C1084.2 348.1 1072.2 346.6 1063.3 345.9C1054.4 345.2 1045.6 345.2 1036.7 345.3C1027.8 345.4 1018 345.8 1010 346.7C1002 347.6 997.6 348.5 988.7 350.7C979.8 352.9 966.5 357.3 956.7 360C946.9 362.7 938 364 930 366.7C922 369.4 915.8 372.4 908.7 376C901.6 379.6 894 382.9 887.3 388C880.6 393.1 874.9 400 868.7 406.7C862.5 413.4 855.8 420.9 850 428C844.2 435.1 838.9 441.3 834 449.3C829.1 457.3 824.5 466.2 820.7 476C816.9 485.8 813.5 497.3 811.3 508C809.1 518.7 807.7 529.3 807.3 540C806.9 550.7 807.6 561.8 808.7 572C809.8 582.2 811.8 591.5 814 601.3C816.2 611.1 818.7 620.9 822 630.7C825.3 640.5 829.8 651.6 834 660C838.2 668.4 842.4 675 847.3 681.3C852.2 687.6 858.8 694 863.3 698C867.8 702 868.7 702.3 874 705.3C879.3 708.3 887.8 713.3 895.3 716C902.8 718.7 911.3 720.8 919.3 721.3C927.3 721.8 936.2 720.2 943.3 718.7C950.4 717.2 956.4 714.7 962 712C967.6 709.3 973.2 706 976.7 702.7C980.2 699.4 981.8 696.2 983.3 692C984.8 687.8 983.3 676.4 986 677.3C988.7 678.2 995.3 691.3 999.3 697.3C1003.3 703.3 1006 708.4 1010 713.3C1014 718.2 1018.8 722.9 1023.3 726.7C1027.8 730.5 1032.2 733.6 1036.7 736C1041.2 738.4 1045.1 740.4 1050 741.3C1054.9 742.2 1060.7 741.7 1066 741.3C1071.3 740.9 1077.1 738.9 1082 738.7C1086.9 738.5 1090.4 738.9 1095.3 740C1100.2 741.1 1106 745.1 1111.3 745.3C1116.6 745.5 1123.1 743.1 1127.3 741.3C1131.5 739.5 1134.5 737.8 1136.7 734.7C1138.9 731.6 1138.5 723.6 1140.7 722.7C1142.9 721.8 1146.9 728.6 1150 729.3C1153.1 730 1156 729.4 1159.3 726.7C1162.6 724 1166 718.2 1170 713.3C1174 708.4 1179.1 702.2 1183.3 697.3C1187.5 692.4 1193.3 682.7 1195.3 684C1197.3 685.3 1193.7 699.1 1195.3 705.3C1196.9 711.5 1200.9 716.6 1204.7 721.3C1208.5 726 1212.7 729.7 1218 733.3C1223.3 736.9 1230.9 740.5 1236.7 742.7C1242.5 744.9 1246.9 747.2 1252.7 746.7C1258.5 746.2 1265.1 742.5 1271.3 740C1277.5 737.5 1284.2 735.1 1290 732C1295.8 728.9 1301.1 725.3 1306 721.3C1310.9 717.3 1315.6 712.2 1319.3 708C1323 703.8 1325.9 699.7 1328 696C1330.1 692.3 1331.6 689.3 1332 686C1332.4 682.7 1331.3 678.9 1330.5 676C1329.7 673.1 1327.1 670.5 1327 668.5C1326.9 666.5 1328.1 665.8 1330 664C1331.9 662.2 1335.1 661.5 1338.5 658C1341.9 654.5 1346.8 648.9 1350.4 643.2C1354 637.5 1357.1 630.9 1360 624C1362.9 617.1 1365.9 609.6 1368 601.6C1370.1 593.6 1371.7 584.5 1372.8 576C1373.9 567.5 1374.4 558.9 1374.4 550.4C1374.4 541.9 1374.1 533.3 1372.8 524.8C1371.5 516.3 1369.1 507.7 1366.4 499.2C1363.7 490.7 1361.1 482.1 1356.8 473.6C1352.5 465.1 1346.7 456 1340.8 448C1334.9 440 1329.1 433.1 1321.6 425.6C1314.1 418.1 1305.6 410.1 1296 403.2C1286.4 396.3 1273.9 389.3 1264 384.5C1254.1 379.7 1245.7 377.5 1236.7 374.5C1227.7 371.5 1218.9 369.1 1210 366.7C1201.1 364.3 1192.2 362 1183.3 360C1174.4 358 1165.6 355.8 1156.7 354.7C1147.8 353.6 1137.1 352.9 1130 353.3C1122.9 353.7 1117.8 355.2 1114 357.3C1110.2 359.4 1110 366.7 1107.3 366Z" fill="url(#sp1b)"/>
<g clip-path="url(#rcl)"><path d="M1107.3 366C1104.6 365.3 1100.9 356.1 1098 353.3C1095.1 350.5 1095.8 350.5 1090 349.3C1084.2 348.1 1072.2 346.6 1063.3 345.9C1054.4 345.2 1045.6 345.2 1036.7 345.3C1027.8 345.4 1018 345.8 1010 346.7C1002 347.6 997.6 348.5 988.7 350.7C979.8 352.9 966.5 357.3 956.7 360C946.9 362.7 938 364 930 366.7C922 369.4 915.8 372.4 908.7 376C901.6 379.6 894 382.9 887.3 388C880.6 393.1 874.9 400 868.7 406.7C862.5 413.4 855.8 420.9 850 428C844.2 435.1 838.9 441.3 834 449.3C829.1 457.3 824.5 466.2 820.7 476C816.9 485.8 813.5 497.3 811.3 508C809.1 518.7 807.7 529.3 807.3 540C806.9 550.7 807.6 561.8 808.7 572C809.8 582.2 811.8 591.5 814 601.3C816.2 611.1 818.7 620.9 822 630.7C825.3 640.5 829.8 651.6 834 660C838.2 668.4 842.4 675 847.3 681.3C852.2 687.6 858.8 694 863.3 698C867.8 702 868.7 702.3 874 705.3C879.3 708.3 887.8 713.3 895.3 716C902.8 718.7 911.3 720.8 919.3 721.3C927.3 721.8 936.2 720.2 943.3 718.7C950.4 717.2 956.4 714.7 962 712C967.6 709.3 973.2 706 976.7 702.7C980.2 699.4 981.8 696.2 983.3 692C984.8 687.8 983.3 676.4 986 677.3C988.7 678.2 995.3 691.3 999.3 697.3C1003.3 703.3 1006 708.4 1010 713.3C1014 718.2 1018.8 722.9 1023.3 726.7C1027.8 730.5 1032.2 733.6 1036.7 736C1041.2 738.4 1045.1 740.4 1050 741.3C1054.9 742.2 1060.7 741.7 1066 741.3C1071.3 740.9 1077.1 738.9 1082 738.7C1086.9 738.5 1090.4 738.9 1095.3 740C1100.2 741.1 1106 745.1 1111.3 745.3C1116.6 745.5 1123.1 743.1 1127.3 741.3C1131.5 739.5 1134.5 737.8 1136.7 734.7C1138.9 731.6 1138.5 723.6 1140.7 722.7C1142.9 721.8 1146.9 728.6 1150 729.3C1153.1 730 1156 729.4 1159.3 726.7C1162.6 724 1166 718.2 1170 713.3C1174 708.4 1179.1 702.2 1183.3 697.3C1187.5 692.4 1193.3 682.7 1195.3 684C1197.3 685.3 1193.7 699.1 1195.3 705.3C1196.9 711.5 1200.9 716.6 1204.7 721.3C1208.5 726 1212.7 729.7 1218 733.3C1223.3 736.9 1230.9 740.5 1236.7 742.7C1242.5 744.9 1246.9 747.2 1252.7 746.7C1258.5 746.2 1265.1 742.5 1271.3 740C1277.5 737.5 1284.2 735.1 1290 732C1295.8 728.9 1301.1 725.3 1306 721.3C1310.9 717.3 1315.6 712.2 1319.3 708C1323 703.8 1325.9 699.7 1328 696C1330.1 692.3 1331.6 689.3 1332 686C1332.4 682.7 1331.3 678.9 1330.5 676C1329.7 673.1 1327.1 670.5 1327 668.5C1326.9 666.5 1328.1 665.8 1330 664C1331.9 662.2 1335.1 661.5 1338.5 658C1341.9 654.5 1346.8 648.9 1350.4 643.2C1354 637.5 1357.1 630.9 1360 624C1362.9 617.1 1365.9 609.6 1368 601.6C1370.1 593.6 1371.7 584.5 1372.8 576C1373.9 567.5 1374.4 558.9 1374.4 550.4C1374.4 541.9 1374.1 533.3 1372.8 524.8C1371.5 516.3 1369.1 507.7 1366.4 499.2C1363.7 490.7 1361.1 482.1 1356.8 473.6C1352.5 465.1 1346.7 456 1340.8 448C1334.9 440 1329.1 433.1 1321.6 425.6C1314.1 418.1 1305.6 410.1 1296 403.2C1286.4 396.3 1273.9 389.3 1264 384.5C1254.1 379.7 1245.7 377.5 1236.7 374.5C1227.7 371.5 1218.9 369.1 1210 366.7C1201.1 364.3 1192.2 362 1183.3 360C1174.4 358 1165.6 355.8 1156.7 354.7C1147.8 353.6 1137.1 352.9 1130 353.3C1122.9 353.7 1117.8 355.2 1114 357.3C1110.2 359.4 1110 366.7 1107.3 366Z" fill="none" stroke="#fff" stroke-width="11" opacity="0.07"/><path d="M1107.3 366C1104.6 365.3 1100.9 356.1 1098 353.3C1095.1 350.5 1095.8 350.5 1090 349.3C1084.2 348.1 1072.2 346.6 1063.3 345.9C1054.4 345.2 1045.6 345.2 1036.7 345.3C1027.8 345.4 1018 345.8 1010 346.7C1002 347.6 997.6 348.5 988.7 350.7C979.8 352.9 966.5 357.3 956.7 360C946.9 362.7 938 364 930 366.7C922 369.4 915.8 372.4 908.7 376C901.6 379.6 894 382.9 887.3 388C880.6 393.1 874.9 400 868.7 406.7C862.5 413.4 855.8 420.9 850 428C844.2 435.1 838.9 441.3 834 449.3C829.1 457.3 824.5 466.2 820.7 476C816.9 485.8 813.5 497.3 811.3 508C809.1 518.7 807.7 529.3 807.3 540C806.9 550.7 807.6 561.8 808.7 572C809.8 582.2 811.8 591.5 814 601.3C816.2 611.1 818.7 620.9 822 630.7C825.3 640.5 829.8 651.6 834 660C838.2 668.4 842.4 675 847.3 681.3C852.2 687.6 858.8 694 863.3 698C867.8 702 868.7 702.3 874 705.3C879.3 708.3 887.8 713.3 895.3 716C902.8 718.7 911.3 720.8 919.3 721.3C927.3 721.8 936.2 720.2 943.3 718.7C950.4 717.2 956.4 714.7 962 712C967.6 709.3 973.2 706 976.7 702.7C980.2 699.4 981.8 696.2 983.3 692C984.8 687.8 983.3 676.4 986 677.3C988.7 678.2 995.3 691.3 999.3 697.3C1003.3 703.3 1006 708.4 1010 713.3C1014 718.2 1018.8 722.9 1023.3 726.7C1027.8 730.5 1032.2 733.6 1036.7 736C1041.2 738.4 1045.1 740.4 1050 741.3C1054.9 742.2 1060.7 741.7 1066 741.3C1071.3 740.9 1077.1 738.9 1082 738.7C1086.9 738.5 1090.4 738.9 1095.3 740C1100.2 741.1 1106 745.1 1111.3 745.3C1116.6 745.5 1123.1 743.1 1127.3 741.3C1131.5 739.5 1134.5 737.8 1136.7 734.7C1138.9 731.6 1138.5 723.6 1140.7 722.7C1142.9 721.8 1146.9 728.6 1150 729.3C1153.1 730 1156 729.4 1159.3 726.7C1162.6 724 1166 718.2 1170 713.3C1174 708.4 1179.1 702.2 1183.3 697.3C1187.5 692.4 1193.3 682.7 1195.3 684C1197.3 685.3 1193.7 699.1 1195.3 705.3C1196.9 711.5 1200.9 716.6 1204.7 721.3C1208.5 726 1212.7 729.7 1218 733.3C1223.3 736.9 1230.9 740.5 1236.7 742.7C1242.5 744.9 1246.9 747.2 1252.7 746.7C1258.5 746.2 1265.1 742.5 1271.3 740C1277.5 737.5 1284.2 735.1 1290 732C1295.8 728.9 1301.1 725.3 1306 721.3C1310.9 717.3 1315.6 712.2 1319.3 708C1323 703.8 1325.9 699.7 1328 696C1330.1 692.3 1331.6 689.3 1332 686C1332.4 682.7 1331.3 678.9 1330.5 676C1329.7 673.1 1327.1 670.5 1327 668.5C1326.9 666.5 1328.1 665.8 1330 664C1331.9 662.2 1335.1 661.5 1338.5 658C1341.9 654.5 1346.8 648.9 1350.4 643.2C1354 637.5 1357.1 630.9 1360 624C1362.9 617.1 1365.9 609.6 1368 601.6C1370.1 593.6 1371.7 584.5 1372.8 576C1373.9 567.5 1374.4 558.9 1374.4 550.4C1374.4 541.9 1374.1 533.3 1372.8 524.8C1371.5 516.3 1369.1 507.7 1366.4 499.2C1363.7 490.7 1361.1 482.1 1356.8 473.6C1352.5 465.1 1346.7 456 1340.8 448C1334.9 440 1329.1 433.1 1321.6 425.6C1314.1 418.1 1305.6 410.1 1296 403.2C1286.4 396.3 1273.9 389.3 1264 384.5C1254.1 379.7 1245.7 377.5 1236.7 374.5C1227.7 371.5 1218.9 369.1 1210 366.7C1201.1 364.3 1192.2 362 1183.3 360C1174.4 358 1165.6 355.8 1156.7 354.7C1147.8 353.6 1137.1 352.9 1130 353.3C1122.9 353.7 1117.8 355.2 1114 357.3C1110.2 359.4 1110 366.7 1107.3 366Z" fill="none" stroke="url(#sp3)" stroke-width="11" opacity="0.26"/><path d="M1107.3 366C1104.6 365.3 1100.9 356.1 1098 353.3C1095.1 350.5 1095.8 350.5 1090 349.3C1084.2 348.1 1072.2 346.6 1063.3 345.9C1054.4 345.2 1045.6 345.2 1036.7 345.3C1027.8 345.4 1018 345.8 1010 346.7C1002 347.6 997.6 348.5 988.7 350.7C979.8 352.9 966.5 357.3 956.7 360C946.9 362.7 938 364 930 366.7C922 369.4 915.8 372.4 908.7 376C901.6 379.6 894 382.9 887.3 388C880.6 393.1 874.9 400 868.7 406.7C862.5 413.4 855.8 420.9 850 428C844.2 435.1 838.9 441.3 834 449.3C829.1 457.3 824.5 466.2 820.7 476C816.9 485.8 813.5 497.3 811.3 508C809.1 518.7 807.7 529.3 807.3 540C806.9 550.7 807.6 561.8 808.7 572C809.8 582.2 811.8 591.5 814 601.3C816.2 611.1 818.7 620.9 822 630.7C825.3 640.5 829.8 651.6 834 660C838.2 668.4 842.4 675 847.3 681.3C852.2 687.6 858.8 694 863.3 698C867.8 702 868.7 702.3 874 705.3C879.3 708.3 887.8 713.3 895.3 716C902.8 718.7 911.3 720.8 919.3 721.3C927.3 721.8 936.2 720.2 943.3 718.7C950.4 717.2 956.4 714.7 962 712C967.6 709.3 973.2 706 976.7 702.7C980.2 699.4 981.8 696.2 983.3 692C984.8 687.8 983.3 676.4 986 677.3C988.7 678.2 995.3 691.3 999.3 697.3C1003.3 703.3 1006 708.4 1010 713.3C1014 718.2 1018.8 722.9 1023.3 726.7C1027.8 730.5 1032.2 733.6 1036.7 736C1041.2 738.4 1045.1 740.4 1050 741.3C1054.9 742.2 1060.7 741.7 1066 741.3C1071.3 740.9 1077.1 738.9 1082 738.7C1086.9 738.5 1090.4 738.9 1095.3 740C1100.2 741.1 1106 745.1 1111.3 745.3C1116.6 745.5 1123.1 743.1 1127.3 741.3C1131.5 739.5 1134.5 737.8 1136.7 734.7C1138.9 731.6 1138.5 723.6 1140.7 722.7C1142.9 721.8 1146.9 728.6 1150 729.3C1153.1 730 1156 729.4 1159.3 726.7C1162.6 724 1166 718.2 1170 713.3C1174 708.4 1179.1 702.2 1183.3 697.3C1187.5 692.4 1193.3 682.7 1195.3 684C1197.3 685.3 1193.7 699.1 1195.3 705.3C1196.9 711.5 1200.9 716.6 1204.7 721.3C1208.5 726 1212.7 729.7 1218 733.3C1223.3 736.9 1230.9 740.5 1236.7 742.7C1242.5 744.9 1246.9 747.2 1252.7 746.7C1258.5 746.2 1265.1 742.5 1271.3 740C1277.5 737.5 1284.2 735.1 1290 732C1295.8 728.9 1301.1 725.3 1306 721.3C1310.9 717.3 1315.6 712.2 1319.3 708C1323 703.8 1325.9 699.7 1328 696C1330.1 692.3 1331.6 689.3 1332 686C1332.4 682.7 1331.3 678.9 1330.5 676C1329.7 673.1 1327.1 670.5 1327 668.5C1326.9 666.5 1328.1 665.8 1330 664C1331.9 662.2 1335.1 661.5 1338.5 658C1341.9 654.5 1346.8 648.9 1350.4 643.2C1354 637.5 1357.1 630.9 1360 624C1362.9 617.1 1365.9 609.6 1368 601.6C1370.1 593.6 1371.7 584.5 1372.8 576C1373.9 567.5 1374.4 558.9 1374.4 550.4C1374.4 541.9 1374.1 533.3 1372.8 524.8C1371.5 516.3 1369.1 507.7 1366.4 499.2C1363.7 490.7 1361.1 482.1 1356.8 473.6C1352.5 465.1 1346.7 456 1340.8 448C1334.9 440 1329.1 433.1 1321.6 425.6C1314.1 418.1 1305.6 410.1 1296 403.2C1286.4 396.3 1273.9 389.3 1264 384.5C1254.1 379.7 1245.7 377.5 1236.7 374.5C1227.7 371.5 1218.9 369.1 1210 366.7C1201.1 364.3 1192.2 362 1183.3 360C1174.4 358 1165.6 355.8 1156.7 354.7C1147.8 353.6 1137.1 352.9 1130 353.3C1122.9 353.7 1117.8 355.2 1114 357.3C1110.2 359.4 1110 366.7 1107.3 366Z" fill="none" stroke="#d62728" stroke-width="3"/></g>
<g clip-path="url(#rcl)"><ellipse cx="1108" cy="580" rx="175" ry="120" fill="url(#sp1)" opacity=".8"/><ellipse cx="1105" cy="590" rx="135" ry="95" fill="url(#sp2)" opacity=".8"/><ellipse cx="1060" cy="610" rx="70" ry="60" fill="url(#sp4)" opacity=".22"/><ellipse cx="1150" cy="590" rx="70" ry="60" fill="url(#sp4)" opacity=".2"/></g>
<path d="M1101.5 368C1101.5 373.3 1101.5 388 1101.5 400C1101.5 412 1101.5 433.3 1101.5 440" fill="none" stroke="#fff" stroke-width="1.6" stroke-linecap="round" stroke-linejoin="round" opacity="0.14"/>
<path d="M1101.5 368C1101.5 373.3 1101.5 388 1101.5 400C1101.5 412 1101.5 433.3 1101.5 440" fill="none" stroke="url(#sp3)" stroke-width="3.1" stroke-linecap="round" stroke-linejoin="round" opacity="0.66"/>
<path d="M1109 368C1109 373.3 1109 388 1109 400C1109 412 1109 433.3 1109 440" fill="none" stroke="#fff" stroke-width="1.6" stroke-linecap="round" stroke-linejoin="round" opacity="0.14"/>
<path d="M1109 368C1109 373.3 1109 388 1109 400C1109 412 1109 433.3 1109 440" fill="none" stroke="url(#sp3)" stroke-width="3.1" stroke-linecap="round" stroke-linejoin="round" opacity="0.66"/>
<path d="M1012 450C1013.2 448.2 1015.3 441.8 1019 439C1022.7 436.2 1028.8 433.8 1034 433C1039.2 432.2 1045 433.2 1050 434.5C1055 435.8 1059.3 438.6 1064 441C1068.7 443.4 1075.7 447.7 1078 449" fill="none" stroke="#fff" stroke-width="4.5" stroke-linecap="round" stroke-linejoin="round" opacity="0.19"/>
<path d="M1012 450C1013.2 448.2 1015.3 441.8 1019 439C1022.7 436.2 1028.8 433.8 1034 433C1039.2 432.2 1045 433.2 1050 434.5C1055 435.8 1059.3 438.6 1064 441C1068.7 443.4 1075.7 447.7 1078 449" fill="none" stroke="url(#sp3)" stroke-width="6.0" stroke-linecap="round" stroke-linejoin="round" opacity="0.92"/>
<path d="M1049 489C1051.5 490.2 1058.8 496.8 1064 496C1069.2 495.2 1074.5 489 1080 484C1085.5 479 1094.2 469 1097 466" fill="none" stroke="#fff" stroke-width="4" stroke-linecap="round" stroke-linejoin="round" opacity="0.20"/>
<path d="M1049 489C1051.5 490.2 1058.8 496.8 1064 496C1069.2 495.2 1074.5 489 1080 484C1085.5 479 1094.2 469 1097 466" fill="none" stroke="url(#sp3)" stroke-width="5.5" stroke-linecap="round" stroke-linejoin="round" opacity="0.99"/>
<path d="M1040 450C1042 450.8 1047.7 453.2 1052 455C1056.3 456.8 1061.7 459.3 1066 461C1070.3 462.7 1076 464.3 1078 465" fill="none" stroke="#fff" stroke-width="11" stroke-linecap="round" stroke-linejoin="round" opacity="0.14"/>
<path d="M1040 450C1042 450.8 1047.7 453.2 1052 455C1056.3 456.8 1061.7 459.3 1066 461C1070.3 462.7 1076 464.3 1078 465" fill="none" stroke="url(#sp3)" stroke-width="12.5" stroke-linecap="round" stroke-linejoin="round" opacity="0.66"/>
<path d="M1124 453C1128 451.4 1140.3 445.2 1148 443.5C1155.7 441.8 1163.7 441.8 1170 443C1176.3 444.2 1182 447.3 1186 451C1190 454.7 1193.3 460.8 1194 465C1194.7 469.2 1190.7 474.2 1190 476" fill="none" stroke="#fff" stroke-width="4.5" stroke-linecap="round" stroke-linejoin="round" opacity="0.19"/>
<path d="M1124 453C1128 451.4 1140.3 445.2 1148 443.5C1155.7 441.8 1163.7 441.8 1170 443C1176.3 444.2 1182 447.3 1186 451C1190 454.7 1193.3 460.8 1194 465C1194.7 469.2 1190.7 474.2 1190 476" fill="none" stroke="url(#sp3)" stroke-width="6.0" stroke-linecap="round" stroke-linejoin="round" opacity="0.92"/>
<path d="M1104 469C1106 472.2 1111.7 482.5 1116 488C1120.3 493.5 1124.7 500.8 1130 502C1135.3 503.2 1145 496.2 1148 495" fill="none" stroke="#fff" stroke-width="4" stroke-linecap="round" stroke-linejoin="round" opacity="0.20"/>
<path d="M1104 469C1106 472.2 1111.7 482.5 1116 488C1120.3 493.5 1124.7 500.8 1130 502C1135.3 503.2 1145 496.2 1148 495" fill="none" stroke="url(#sp3)" stroke-width="5.5" stroke-linecap="round" stroke-linejoin="round" opacity="0.99"/>
<path d="M1122 464C1125 464.3 1134 465.7 1140 466C1146 466.3 1153.3 466.3 1158 466C1162.7 465.7 1166.3 464.3 1168 464" fill="none" stroke="#fff" stroke-width="11" stroke-linecap="round" stroke-linejoin="round" opacity="0.14"/>
<path d="M1122 464C1125 464.3 1134 465.7 1140 466C1146 466.3 1153.3 466.3 1158 466C1162.7 465.7 1166.3 464.3 1168 464" fill="none" stroke="url(#sp3)" stroke-width="12.5" stroke-linecap="round" stroke-linejoin="round" opacity="0.66"/>
<polygon points="1000.0,441.0 980.0,452.0 976.0,475.0 982.0,466.0 994.0,464.0 986.0,458.0 996.0,450.0" fill="#fff" opacity=".9"/>
<polygon points="1207.0,462.0 1220.0,474.0 1218.0,480.0 1222.0,492.0 1214.0,484.0 1210.0,470.0" fill="#fff" opacity=".9"/>
<polygon points="1356.0,532.0 1362.0,538.0 1360.0,540.0" fill="#fff" opacity=".9"/>
<polygon points="1033.0,579.0 1036.0,582.0 1031.0,583.0" fill="#fff" opacity=".9"/>
</g>
<g id="pink">
<polygon points="311.3,908.0 464.8,908.0 464.8,920.0 536.0,920.0 536.0,932.0 569.3,932.0 569.3,943.5 593.3,943.5 593.3,955.5 616.0,955.5 616.0,966.7 640.0,966.7 640.0,978.7 652.0,978.7 652.0,990.7 664.0,990.7 664.0,1002.7 676.0,1002.7 676.0,1014.7 688.0,1014.7 688.0,1026.1 698.7,1026.1 698.7,1049.3 709.3,1049.3 709.3,1072.0 721.3,1072.0 721.3,1178.7 710.7,1178.7 710.7,1213.3 698.7,1213.3 698.7,1225.3 688.0,1225.3 688.0,1237.3 676.0,1237.3 676.0,1249.3 664.0,1249.3 664.0,1260.7 652.0,1260.7 652.0,1272.7 628.0,1272.7 628.0,1284.7 616.0,1284.7 616.0,1296.7 605.3,1296.7 605.3,1307.3 593.3,1307.3 593.3,1319.3 569.3,1319.3 569.3,1331.3 501.3,1331.3 501.3,1319.3 474.7,1319.3 474.7,1308.7 462.7,1308.7 462.7,1290.0 455.0,1255.0 300.0,1200.0 230.0,1100.0 225.0,1026.1 205.5,1026.1 205.5,1002.7 216.7,1002.7 216.7,978.7 228.7,978.7 228.7,966.7 240.1,966.7 240.1,943.5 263.3,943.5 263.3,932.0 287.3,932.0 287.3,920.0 311.3,920.0" fill="#f7b6d2" fill-opacity="0.58" stroke="#fff" stroke-width="3.5" filter="url(#rough)"/>
<polygon points="216.7,1210.0 242.0,1210.0 242.0,1236.7 216.7,1236.7" fill="#f7b6d2" fill-opacity="0.58" stroke="#fff" stroke-width="3.5" filter="url(#rough)"/>
<polygon points="240.7,1242.0 270.0,1242.0 270.0,1262.0 240.7,1262.0" fill="#f7b6d2" fill-opacity="0.58" stroke="#fff" stroke-width="3.5" filter="url(#rough)"/>
<polygon points="263.3,1262.0 270.0,1262.0 270.0,1274.0 263.3,1274.0" fill="#f7b6d2" fill-opacity="0.58" stroke="#fff" stroke-width="3.5" filter="url(#rough)"/>
<polygon points="310.0,1284.7 395.3,1284.7 395.3,1296.7 310.0,1296.7" fill="#f7b6d2" fill-opacity="0.58" stroke="#fff" stroke-width="3.5" filter="url(#rough)"/>
<path d="M464 908h0m-3 2h0m0 1h0m-9 0h0m3-2h0m-3 1h0m-5 0h0m0 0h0m-4 1h0m-7-2h0m-2 0h0m-4 2h0m-1-1h0m-12 1h0m-3 0h0m1 0h0m-6-2h0m-5 1h0m-14 1h0m1 0h0m-7-3h0m0 1h0m0 2h0m6-3h0m-21 3h0m-8 0h0m-13-1h0m0 0h0m-12 0h0m6 0h0m-12 1h0m-12-1h0m0 0h0m0-1h0m-5 1h0m7 3h0m1 2h0m12 0h0m2 1h0m-5 0h0m4-2h0m-3 3h0m3-4h0m-1 1h0m10-2h0m4 0h0m3 5h0m3 0h0m-4-4h0m10 3h0m-1 1h0m2-2h0m4-2h0m5 1h0m2 1h0m-2 0h0m8 3h0m0-1h0m7-5h0m0 1h0m-2 3h0m3-1h0m0-2h0m7 1h0m0-2h0m9 1h0m-2 5h0m0-4h0m7 3h0m-2 0h0m3 0h0m0-3h0m-2 1h0m8-2h0m0 2h0m-2-2h0m6 1h0m-3 4h0m1-3h0m9 0h0m-2-1h0m-1 2h0m0-3h0m0 5h0m8-6h0m3 2h0m-4 1h0m8-2h0m2 5h0m0-3h0m4 3h0m8-4h0m-5 1h0m3 1h0m5 2h0m82 3h0m-6 0h0m5 2h0m-4-1h0m2-2h0m-1 2h0m-6-1h0m-9 1h0m-3 1h0m1-2h0m-5-1h0m-3 1h0m4 0h0m-7 1h0m-4 1h0m-2-2h0m-2 3h0m-7-1h0m1-1h0m-3-2h0m-11 3h0m1-3h0m-12-1h0m-1-1h0m-6 4h0m1 1h0m-4-4h0m-4 2h0m3 1h0m-9 0h0m2-1h0m-2 2h0m-6-1h0m-11-1h0m-11 0h0m2 2h0m-5-4h0m-3 4h0m-8-3h0m1 3h0m-4-3h0m-2-2h0m1 3h0m-7-2h0m0 4h0m3-1h0m-9 0h0m3-4h0m-3 3h0m1 2h0m1-5h0m-6 2h0m0-1h0m-5 3h0m-3-1h0m-1 3h0m-1-3h0m-10 2h0m5-2h0m-3-2h0m0 1h0m0 3h0m0-2h0m1 1h0m0-2h0m-3 2h0m-1 1h0m-2-2h0m-1 2h0m1 1h0m-8-1h0m-7 0h0m-3-5h0m-4 0h0m2 5h0m-7-1h0m-1-2h0m-5 0h0m3 1h0m-4 1h0m-10-4h0m2 3h0m-1 2h0m-4 1h0m0-1h0m-10-1h0m3 1h0m-6-2h0m-8 1h0m-1 5h0m9-1h0m1 0h0m-2 1h0m2-2h0m2 1h0m2 1h0m-1 0h0m-1 0h0m1 1h0m6 0h0m7-4h0m1 3h0m3 2h0m0-2h0m4 0h0m-5 2h0m7-1h0m1-4h0m-1 4h0m2-2h0m4-2h0m6 1h0m2 2h0m9 3h0m5-4h0m2 4h0m0-5h0m4 4h0m-5-4h0m6 3h0m15-3h0m-1 5h0m3-5h0m6 0h0m-4 5h0m9-5h0m0 0h0m6 1h0m-1-2h0m1 1h0m21 3h0m1-2h0m0-1h0m1 4h0m-1-4h0m0 2h0m3 1h0m1 1h0m2-1h0m3-3h0m-3 1h0m4 3h0m-2-2h0m3 3h0m4-5h0m0 2h0m-4 2h0m3-2h0m-1 1h0m6-2h0m3-2h0m0 2h0m4 0h0m8-2h0m-4 2h0m0 2h0m9-1h0m-5-2h0m9 4h0m1-4h0m10 2h0m1-3h0m13 3h0m-1-2h0m3 3h0m0-2h0m-5 3h0m8-1h0m6-4h0m0 1h0m2 4h0m-1 0h0m1 0h0m-3-4h0m9 2h0m-4-3h0m5 6h0m-5-6h0m0 1h0m2 2h0m2 0h0m-4-1h0m6 2h0m0-1h0m0 3h0m0 0h0m5-2h0m-2-1h0m7 0h0m1 0h0m0 0h0m2-3h0m-2 1h0m3 0h0m0 2h0m6-3h0m-3 2h0m3-1h0m-1 2h0m8-1h0m-2-2h0m35 12h0m2-2h0m-1 0h0m-4 1h0m0-2h0m-7 2h0m3-3h0m-12 3h0m-11-1h0m0-4h0m3 5h0m-7-4h0m-7 5h0m-7-4h0m2 4h0m-3-1h0m0-3h0m-5-2h0m5 2h0m-6 3h0m-8-4h0m-4 2h0m1-2h0m4-1h0m-16 4h0m2 1h0m-2-3h0m4-1h0m-9 0h0m0 1h0m0-1h0m-3 2h0m-3-2h0m-7 0h0m-5 3h0m1-1h0m-5-2h0m1 2h0m-6-2h0m1 0h0m-11 4h0m-3 0h0m-4-4h0m2 5h0m2-4h0m-10 0h0m-6-2h0m4 5h0m-5-2h0m-5-3h0m-6 1h0m-3-1h0m-6 1h0m-3 1h0m0 0h0m0 2h0m-1-1h0m-10-3h0m-5 3h0m-7 2h0m1-3h0m-4 1h0m-4 2h0m4-3h0m-4 0h0m3-2h0m-1 4h0m-2-4h0m0 1h0m0 0h0m0 0h0m-4 3h0m-5-2h0m-3 1h0m2-2h0m-8 0h0m1 4h0m-1-4h0m3 2h0m1-3h0m-4 1h0m-2-1h0m-9 3h0m3-2h0m-5 5h0m-4-5h0m-6 3h0m3-3h0m-9 2h0m3 2h0m-3-4h0m2 3h0m0 1h0m-6-2h0m-8-2h0m2 0h0m-2 0h0m-1 4h0m-1-3h0m-2 1h0m-5 2h0m0-2h0m-3 2h0m-6-3h0m0-1h0m-3 4h0m-2 0h0m2 0h0m-9 0h0m0-2h0m1 0h0m0-1h0m-3 2h0m-1-2h0m-5 2h0m-8 1h0m0-2h0m-3 4h0m1 2h0m-1-2h0m5 1h0m4 0h0m-2 3h0m3-3h0m0 2h0m4-2h0m10-2h0m-6 1h0m7 3h0m4-2h0m12 2h0m-3 0h0m8 1h0m0-3h0m-2 2h0m-1-3h0m8-1h0m-1 2h0m3 2h0m-2 0h0m7-3h0m2 0h0m4 0h0m0-1h0m7 4h0m3 0h0m12 2h0m0-3h0m-2 3h0m1-4h0m10-2h0m3 6h0m0-4h0m21-2h0m-3 4h0m-2-3h0m2 2h0m2 1h0m7 0h0m5-2h0m14 3h0m3-1h0m-2 0h0m11-2h0m-6-1h0m7 3h0m1-1h0m-1 3h0m11-1h0m4-4h0m-2 0h0m10 0h0m-3 2h0m3-3h0m-1 4h0m1 0h0m3 1h0m2-3h0m-1 2h0m-2-1h0m4 0h0m-4 3h0m4-1h0m5-1h0m-4-3h0m-1-1h0m6 2h0m-2 2h0m0-3h0m-2-1h0m10 1h0m-4 2h0m0-1h0m2 3h0m5-4h0m0 0h0m5 0h0m4 3h0m-2-3h0m4 5h0m8 0h0m7-5h0m5 1h0m-3 3h0m10 1h0m0-5h0m-4 4h0m15-1h0m0-3h0m4 5h0m-1-1h0m6-1h0m2-1h0m-2 1h0m16 0h0m-3 0h0m5-4h0m2 1h0m9 4h0m1-1h0m3-2h0m0 0h0m4-1h0m2 1h0m28 7h0m-7 2h0m3 0h0m-3-2h0m-6 2h0m5-2h0m-5 1h0m-9 0h0m-6 0h0m-8-2h0m0-1h0m-3 3h0m-7-4h0m-3 4h0m3 1h0m1-1h0m-5 0h0m-6 2h0m3-3h0m3 2h0m-5 0h0m3 0h0m-13-1h0m-3 0h0m3-1h0m-1-1h0m4-1h0m-2 3h0m-8-4h0m-1 1h0m5 4h0m-3 0h0m-7-3h0m3-1h0m-9 5h0m-5-6h0m-2 2h0m2-1h0m0 1h0m-4 3h0m-4 0h0m-2-3h0m-10 2h0m1 0h0m-3-3h0m-2 4h0m-1-5h0m-6 5h0m0-5h0m4 3h0m-12 3h0m5-4h0m-5-2h0m-1 6h0m-3-1h0m-8-2h0m1-2h0m-5 5h0m3 0h0m-10-3h0m2-2h0m-5 0h0m0 1h0m0-2h0m-6 3h0m-6-1h0m-1-2h0m-8 0h0m-2 1h0m-6-1h0m-46 0h0m5 1h0m-17-1h0m3 3h0m-3 0h0m0 1h0m-4-4h0m-9 4h0m5-2h0m-8 2h0m-1-3h0m-13-1h0m0 2h0m-6-1h0m4 2h0m-1 2h0m-2-2h0m-6-1h0m0-1h0m1 0h0m-8 2h0m3 0h0m1 1h0m-1 2h0m1-2h0m-8 0h0m0 0h0m-11 1h0m-11-2h0m-1 2h0m-2-5h0m2 5h0m-5-4h0m-4 0h0m-18 2h0m-4 6h0m6 0h0m1-2h0m1 3h0m1 0h0m5-4h0m16 6h0m-2-2h0m3-1h0m-3 0h0m6 2h0m0-1h0m6 1h0m1-2h0m0-1h0m5 1h0m4-3h0m4 5h0m5-4h0m3 2h0m7 2h0m1 0h0m130-5h0m6 4h0m0 2h0m-4-3h0m5 2h0m-4-1h0m13-2h0m5 2h0m7-1h0m1-2h0m2 0h0m4-1h0m1 0h0m8 4h0m9 0h0m1-1h0m4 0h0m-2 0h0m9 3h0m-3-1h0m7-2h0m2-2h0m-3 2h0m-1 1h0m8 2h0m1-1h0m3 0h0m-5-1h0m7 1h0m1 0h0m5-1h0m6 0h0m-1-2h0m2 0h0m-3 1h0m8 1h0m2 1h0m0 0h0m1 0h0m0-4h0m1 5h0m-6-4h0m8-1h0m3 1h0m-2 1h0m2-1h0m6-1h0m-2 4h0m-2-2h0m0-2h0m7 1h0m10 3h0m3-1h0m0 0h0m0-2h0m0 1h0m-2 1h0m0 0h0m4 2h0m2-1h0m-1-1h0m10-3h0m1 5h0m-4 0h0m2-1h0m0-1h0m3 1h0m1-4h0m3 1h0m0 3h0m0-2h0m-4-3h0m24 10h0m-6-2h0m2 0h0m-8 2h0m4-2h0m-2 0h0m4 0h0m0 1h0m-7 1h0m-3 2h0m-1-4h0m-1 4h0m1-4h0m1 0h0m-2 1h0m-4 1h0m0 2h0m3-5h0m-2 0h0m1 3h0m-6 1h0m-1-2h0m1-2h0m-8 4h0m1 0h0m1-3h0m-4 2h0m6 1h0m-2 0h0m0-1h0m1 0h0m-8-1h0m-2-2h0m3 1h0m-2 0h0m-8 4h0m5-5h0m1-1h0m-9 4h0m-5 0h0m-10-3h0m1 0h0m-1 1h0m1-2h0m-2 3h0m-1 1h0m0 0h0m1-2h0m-2 0h0m-3 2h0m4-1h0m1 3h0m-10-5h0m3 3h0m0 1h0m1 0h0m1-5h0m-11 0h0m2 3h0m-11 3h0m-2-5h0m0 2h0m-4 0h0m2-1h0m-4-1h0m-7-1h0m-1 0h0m-3 3h0m-8 2h0m-1-3h0m-12 1h0m-3 3h0m-8-2h0m-16 1h0m0 0h0m-3-4h0m-3 3h0m0-4h0m-140 2h0m2-1h0m-10 4h0m-5-1h0m2-1h0m1 2h0m0-2h0m-2 0h0m-7 1h0m6 1h0m-6-5h0m-16 6h0m2-5h0m-9 1h0m-2 0h0m-2 3h0m-5-4h0m-1 5h0m1-2h0m1-2h0m-2 2h0m-6-2h0m-4-1h0m-1 2h0m-1 7h0m-1-1h0m4 3h0m3-5h0m6 1h0m0 4h0m-1-5h0m-1 4h0m4 1h0m-2 0h0m-2-2h0m10-3h0m-1 2h0m-1 3h0m5-1h0m3-1h0m-4 2h0m0-5h0m11 1h0m1 2h0m10-1h0m-4-2h0m0 3h0m6-3h0m2 1h0m1 1h0m3-2h0m165 0h0m6 5h0m3-6h0m2 2h0m-2 1h0m8 3h0m9-5h0m1 2h0m0 0h0m10-1h0m-1 0h0m2 0h0m6-2h0m-5 2h0m0 1h0m7 0h0m0-1h0m4-1h0m3-1h0m-1 3h0m13-2h0m0 4h0m4-3h0m5 3h0m0 0h0m4-5h0m-3 1h0m2 2h0m-2-1h0m9 1h0m-3-2h0m4 4h0m-3-1h0m-1 2h0m9-1h0m4-1h0m1 0h0m-2-2h0m8 3h0m-2-5h0m10 2h0m-3 3h0m9-3h0m-1-1h0m-2 3h0m6 1h0m0 0h0m2 0h0m3 0h0m4-2h0m-1-2h0m-1 1h0m-2 0h0m8-2h0m-1 6h0m4-1h0m-1 0h0m-3 0h0m1-1h0m4-4h0m8 1h0m3 3h0m9 1h0m23 3h0m-14 0h0m5 0h0m-11 2h0m2-1h0m1 3h0m-1-4h0m-4 3h0m1-3h0m1 2h0m-6-3h0m-10 3h0m1-2h0m0 3h0m2-5h0m-2 5h0m-5-4h0m-3 1h0m1 0h0m-4 4h0m-8-6h0m-1 1h0m-2 3h0m-3-1h0m3-2h0m-10 5h0m5-2h0m-14-1h0m-10-1h0m2 1h0m0-1h0m-1-2h0m0 3h0m0-1h0m-7 3h0m-3-3h0m-2 4h0m3-2h0m-10-1h0m1-1h0m0-1h0m0-1h0m-1 1h0m-66-1h0m-3 3h0m-182-3h0m1 1h0m-4 0h0m-9 0h0m-6 2h0m3 0h0m-8-3h0m3 2h0m-2-1h0m-16-1h0m-2 1h0m-5 0h0m-6 3h0m-1 3h0m0 0h0m-1 0h0m-1-1h0m21 3h0m0 1h0m1-4h0m6 5h0m-5-5h0m4 0h0m1 2h0m4-2h0m4 2h0m4 3h0m-3-3h0m297 0h0m-4 1h0m9 1h0m2-1h0m2-2h0m-1 2h0m6-3h0m4 1h0m-3 2h0m8 1h0m1 1h0m8 1h0m6-1h0m10-1h0m-1 1h0m7-2h0m-1-2h0m-1 2h0m-1 1h0m8-2h0m-1 1h0m3-2h0m-5 4h0m9-1h0m2 0h0m4 0h0m-1 1h0m-1-3h0m0 3h0m6-1h0m1 1h0m0 0h0m11 7h0m2-1h0m-5-2h0m0 1h0m-6-2h0m-3-2h0m2 2h0m-1 4h0m-5 0h0m-4-6h0m2 5h0m-2-3h0m-12 2h0m-11-3h0m-1 4h0m-5-5h0m2 3h0m-5 0h0m1 2h0m-1-2h0m-2-1h0m-6-1h0m1 1h0m2 1h0m-11 2h0m1-4h0m-4 5h0m2-2h0m0 0h0m0 0h0m-2 2h0m1-6h0m1 1h0m-6 3h0m-13 1h0m-3-1h0m3 0h0m-5-3h0m1 0h0m-298 3h0m2 0h0m-9 1h0m0 1h0m1 0h0m-2-1h0m2 0h0m-3-4h0m-4 2h0m4 1h0m-9 2h0m0-1h0m1-3h0m-2 2h0m-14 0h0m-10-2h0m1 4h0m-1 6h0m9-4h0m4-2h0m7 1h0m7-1h0m0 5h0m3-3h0m0-2h0m3 2h0m-1 0h0m5-1h0m1-1h0m323 3h0m-1 0h0m1-2h0m-1 0h0m7 3h0m5-1h0m11 0h0m-2 0h0m8 2h0m-2-4h0m-1 4h0m7-4h0m-4 5h0m11-1h0m5 0h0m-1-4h0m2 2h0m-4 0h0m5-1h0m1 0h0m7 3h0m8 0h0m2-4h0m4 5h0m-2-3h0m-2-2h0m5 0h0m-1 4h0m3-5h0m-1 1h0m1 4h0m1-4h0m-1 1h0m12 6h0m0 2h0m3-1h0m-2 0h0m-6 0h0m-8 3h0m0-1h0m-11-1h0m3-4h0m-3 4h0m-2-1h0m-5 0h0m-4 0h0m-1 2h0m-1-2h0m5 3h0m-10-5h0m4 2h0m-2 3h0m2-2h0m-1 1h0m-1-2h0m2 0h0m-6-2h0m-3 5h0m-6 0h0m2-6h0m0 0h0m-2 3h0m1-1h0m-4-2h0m-1 4h0m-1-4h0m-3 3h0m4-2h0m-9 2h0m0 1h0m-2-2h0m0 3h0m-12-1h0m-1-2h0m-4-1h0m-328 3h0m0-3h0m-1 0h0m-1 5h0m0 0h0m-1-5h0m-11 3h0m4-1h0m-6 0h0m-5-1h0m-2-2h0m1 3h0m-8 1h0m1 7h0m2-3h0m5 4h0m0 0h0m7-4h0m-2 3h0m2-2h0m-1-1h0m1 0h0m352-2h0m6 0h0m4 3h0m1-2h0m-1 2h0m0 0h0m9-2h0m4 1h0m-1 1h0m8-1h0m-3-2h0m11 5h0m-4-2h0m0 1h0m4-2h0m3 2h0m4-1h0m-4 1h0m3 1h0m1-1h0m-1-1h0m2-2h0m3 3h0m-2-1h0m3-1h0m5-2h0m1 1h0m-1 0h0m6 3h0m14 1h0m-3-2h0m0 1h0m1 0h0m17 5h0m-14 1h0m-6-3h0m4 5h0m0-4h0m-10 0h0m0 0h0m0 2h0m-4-3h0m0-1h0m-8 4h0m-5-3h0m-1 1h0m-1 1h0m-1-3h0m-2 2h0m0 3h0m-8-4h0m-1 0h0m-9-1h0m0 4h0m-1 2h0m-6-5h0m2 1h0m-369 3h0m-8-3h0m-9 3h0m-1-2h0m-5-1h0m-1-1h0m-4 1h0m1 4h0m1 5h0m-1 1h0m5-2h0m0-2h0m-3-2h0m11 0h0m-3 5h0m2-1h0m4-2h0m0 4h0m1-4h0m3 3h0m-4 1h0m0-3h0m3 2h0m0-2h0m3 1h0m-2-2h0m3 1h0m3-3h0m372 2h0m-1 1h0m3-1h0m2 2h0m4-2h0m0-1h0m9 2h0m4 0h0m0-2h0m-2 1h0m5-2h0m-3 0h0m1 1h0m-3 0h0m9 3h0m-1 2h0m-3-5h0m2 3h0m10 2h0m8-3h0m9-1h0m-1 0h0m17 0h0m11 10h0m0-4h0m-5 1h0m-4-1h0m-2 3h0m1 0h0m-9 1h0m1-4h0m-3-1h0m-1 3h0m-4 0h0m-5 2h0m-5-4h0m0 2h0m-5 0h0m-8-1h0m-5 2h0m-2-2h0m-3-2h0m2 3h0m-12-1h0m-389-1h0m1-2h0m0 3h0m1-2h0m-4 3h0m-3-3h0m-5 0h0m1-1h0m-2 3h0m0 1h0m-3-1h0m-4-1h0m-2 3h0m2-3h0m-2 7h0m1 0h0m-1-1h0m-2-1h0m8 4h0m-4-2h0m12 2h0m395-5h0m7 1h0m5 1h0m10-1h0m3 5h0m2-2h0m3 0h0m1 1h0m11-2h0m-2 1h0m8-1h0m0 0h0m-4-2h0m4 4h0m0-4h0m-2 1h0m6 3h0m-1 0h0m-2 0h0m1 1h0m11-6h0m4 4h0m2-1h0m-1 2h0m-4-3h0m4 0h0m1 0h0m3 0h0m1 3h0m9 4h0m-5-2h0m2 0h0m-5 4h0m-4-3h0m3 2h0m-6-3h0m-2 1h0m1-1h0m-2 0h0m2 3h0m-8-3h0m5 1h0m-1-2h0m1 3h0m-7-1h0m-4 4h0m2-6h0m-16 6h0m-8-2h0m1 1h0m-2-3h0m2 3h0m-3 1h0m2-5h0m-9 5h0m6-2h0m0 1h0m0 0h0m-10-4h0m2 1h0m2 0h0m-1 1h0m-8-2h0m0 1h0m-4-2h0m-403 0h0m-5 5h0m-19 5h0m4-3h0m15 5h0m1 0h0m416-3h0m10-1h0m-4-1h0m-1 5h0m9 0h0m0-2h0m13-4h0m-1 4h0m8-2h0m-5 3h0m13-1h0m3-3h0m-1 3h0m-3 2h0m11-6h0m-5 2h0m9 3h0m-1-5h0m-1 2h0m0-1h0m3 5h0m-3-6h0m3 2h0m4 5h0m0 3h0m-8-3h0m4 1h0m-11 2h0m2-2h0m1 4h0m2-2h0m-9 2h0m0-1h0m-2 0h0m1 1h0m-3-1h0m-6-1h0m1-4h0m-11 3h0m2-1h0m-2-1h0m-1-1h0m0 3h0m0-2h0m-3 4h0m2-1h0m-7-1h0m-9-3h0m-423 2h0m-1 0h0m1 4h0m1-3h0m-7-3h0m-9 2h0m5 0h0m-5 3h0m2-1h0m-6 0h0m1-1h0m7 6h0m-4 0h0m7 2h0m1-4h0m1 4h0m2-1h0m3-4h0m433 3h0m-1-3h0m-2 1h0m3 0h0m4 1h0m6 4h0m5-5h0m5 3h0m3 2h0m4-6h0m2 3h0m9 1h0m-2-2h0m-1 2h0m6 0h0m0-2h0m0 3h0m2-3h0m4 1h0m3 0h0m1-1h0m2 2h0m9 2h0m-11 0h0m0 5h0m-2-4h0m-2 1h0m3 0h0m-4 1h0m-23-3h0m3 5h0m-4-4h0m-5 3h0m1 2h0m-9-4h0m-4 1h0m2 1h0m-445-1h0m2 0h0m-5 2h0m3 1h0m-7-1h0m4-3h0m-1 5h0m1 4h0m2-4h0m0 4h0m447-3h0m1 2h0m6-1h0m-1-1h0m3 2h0m3-2h0m0 2h0m-4-3h0m15 4h0m-4 0h0m4-1h0m7 1h0m-1 0h0m0 1h0m0 0h0m0-5h0m3 2h0m9 2h0m-3-4h0m9 2h0m1 2h0m4 1h0m0 0h0m-2-5h0m5 1h0m-4 5h0m1-1h0m-6 2h0m2 1h0m-8 1h0m2-1h0m1 2h0m-9-5h0m-7 3h0m0-1h0m-2 4h0m-5-4h0m0 2h0m5 0h0m-1-3h0m-3 0h0m-3 0h0m-2 3h0m-6-4h0m-463 0h0m3 4h0m-20 2h0m12 4h0m3-2h0m5 2h0m0 1h0m0-2h0m2 1h0m456-1h0m-1-2h0m10 4h0m-3-5h0m3 1h0m-3 2h0m7-3h0m-1 1h0m2 4h0m6 1h0m0-5h0m13-1h0m1 5h0m3-4h0m-2-1h0m0 0h0m11 1h0m-3 2h0m8 2h0m1 0h0m-3 0h0m11 5h0m-1-1h0m-3-1h0m-2 3h0m5-3h0m-8 3h0m-7-4h0m-8-1h0m-2 3h0m-3-1h0m-3 2h0m-3 0h0m-2-3h0m5 4h0m-8-2h0m0 0h0m1-1h0m-2 0h0m-8 1h0m4 2h0m2-1h0m-9-3h0m-6 1h0m-464-2h0m4 2h0m-9 0h0m-6 1h0m1 1h0m-1-1h0m0 2h0m-4-2h0m-1 0h0m16 3h0m0 3h0m0-3h0m5 3h0m469 2h0m4-4h0m4 1h0m7 2h0m0 0h0m0-4h0m-1 3h0m1 1h0m1 0h0m1-1h0m6 2h0m-2-5h0m4 1h0m2 3h0m-3-1h0m6-3h0m3 5h0m0-3h0m7 0h0m-1 0h0m-1 0h0m3 1h0m7 8h0m-4-1h0m-2 1h0m4-1h0m-6-2h0m-6 4h0m-2-5h0m-1 5h0m-1-2h0m-3 1h0m2 1h0m-10-4h0m4-1h0m-10 1h0m-1 1h0m4 3h0m-3-5h0m-11 4h0m-5-4h0m1 2h0m-4 2h0m-2-3h0m1 2h0m-477-3h0m1 4h0m-5-4h0m1 1h0m-3 1h0m-1 8h0m5-3h0m4 2h0m0-2h0m-2 3h0m8 0h0m474-5h0m3 3h0m3 3h0m9-4h0m1-1h0m8 5h0m-3 0h0m10-1h0m-2-3h0m-2 0h0m3-1h0m-1 3h0m4-4h0m-1 1h0m0 1h0m2 1h0m9 3h0m-4-1h0m0-4h0m-2 5h0m5-4h0m-4 1h0m1 2h0m8-2h0m0 0h0m-4 4h0m1 3h0m4 1h0m-4 0h0m1 1h0m-1-4h0m-3 0h0m-13-1h0m1 4h0m1-3h0m-5 3h0m-1-3h0m-7 1h0m-9-3h0m1 6h0m-6 0h0m-1-1h0m4 0h0m-2-4h0m-475 1h0m-8 2h0m5-4h0m-10 1h0m-4-1h0m4 8h0m9 4h0m7-4h0m-4 1h0m4 0h0m467 1h0m-1 0h0m8-3h0m0 4h0m-5 0h0m1-2h0m6-2h0m3 2h0m-2 3h0m7-4h0m-2 0h0m0 0h0m0-1h0m11 4h0m4-5h0m0 4h0m1-4h0m4 5h0m9-2h0m-3-1h0m2 0h0m-3-2h0m1 0h0m6 2h0m-1 3h0m2 0h0m0 1h0m3-5h0m-1 5h0m-3 0h0m2 0h0m-13 2h0m0 1h0m1 1h0m-9-1h0m-1-1h0m2-1h0m-7 5h0m-1 0h0m-3-3h0m-1 2h0m1 0h0m-5 1h0m-11-2h0m5-1h0m1 2h0m-490 1h0m2-4h0m-6 0h0m2 5h0m-1 1h0m7 0h0m12 3h0m-3-3h0m475 0h0m2 3h0m-2 0h0m0 1h0m2-1h0m7-4h0m3 4h0m0-1h0m-2-3h0m4 1h0m-1 4h0m-3-5h0m2 2h0m2 0h0m4-1h0m-4 0h0m11 1h0m7 1h0m-2 1h0m0-4h0m-2 1h0m8-2h0m-4 1h0m2 4h0m8-4h0m-8 9h0m1 0h0m-4 1h0m-4-1h0m2-3h0m-2 3h0m-3 0h0m-2-2h0m1 3h0m-2-2h0m-7 0h0m2-2h0m-1 5h0m-1-2h0m2-3h0m-12 2h0m-1 0h0m-5 0h0m-1-2h0m2 2h0m0-1h0m-470 1h0m-1 0h0m-5-2h0m3 1h0m-8 1h0m-10 7h0m1-1h0m-2-1h0m9 0h0m5 2h0m-2 0h0m2 1h0m-2 0h0m6-3h0m-1-1h0m-1 1h0m0 3h0m5-4h0m2 0h0m465-1h0m6 4h0m1-2h0m3 2h0m-1 1h0m4-4h0m-2 4h0m5-5h0m-3 4h0m7-3h0m2 1h0m-3-1h0m10 0h0m7 3h0m-1-1h0m0 0h0m4-3h0m5 10h0m0 0h0m0-1h0m-10 2h0m-2 0h0m-5-5h0m-1 1h0m3 4h0m-13-4h0m-12 1h0m-471 4h0m-2-4h0m2 0h0m-13 3h0m-6-2h0m10 3h0m1 3h0m-1-3h0m1 2h0m0-1h0m-4 3h0m0-3h0m7 4h0m4 0h0m6 0h0m-1-4h0m2 3h0m-4 1h0m472-1h0m-1 2h0m-2-4h0m8 2h0m8 0h0m0 0h0m10-3h0m0 0h0m0 3h0m6-3h0m0 1h0m-3 4h0m2-1h0m7-3h0m-2 0h0m7 1h0m2 3h0m-3 0h0m2 1h0m-3 2h0m-3-1h0m-9-1h0m-5 4h0m-1-5h0m3 0h0m-15 6h0m-7-4h0m1 2h0m4 1h0m-3-4h0m-2 3h0m-3-4h0m-1 2h0m-1 3h0m-466-1h0m-3 1h0m3-2h0m-12-1h0m1 2h0m-1-3h0m1 3h0m-13-2h0m3 6h0m2 0h0m6 2h0m4 0h0m8 0h0m-2-4h0m3 4h0m-2 1h0m1-5h0m2 4h0m2 0h0m1-3h0m465 0h0m-5 1h0m10 0h0m-3 0h0m2 2h0m8 0h0m-3-1h0m1 0h0m-1 2h0m8-4h0m3 3h0m19 2h0m0-5h0m0 2h0m3 7h0m-5-4h0m-16 2h0m1 2h0m-2-2h0m-5 3h0m2-2h0m-4 2h0m-4-4h0m0 3h0m2-2h0m-10 3h0m-4 0h0m2-4h0m-8 1h0m-453-1h0m0 3h0m-3-1h0m0 1h0m-2-2h0m3 1h0m-5 2h0m1 1h0m-14-3h0m3 6h0m5 0h0m-1-2h0m1 1h0m6 0h0m-2 0h0m462 3h0m10-1h0m0-4h0m11 6h0m-3-4h0m7 1h0m-2 3h0m2-5h0m-3 1h0m6 0h0m10 0h0m-1 3h0m-2-1h0m5-3h0m-1 0h0m7 3h0m3-3h0m3 6h0m-8 4h0m-4-2h0m-6-2h0m5 5h0m-3-4h0m3 4h0m-8-3h0m-1-2h0m-13 3h0m3 1h0m-14-5h0m-470 5h0m-1 1h0m-4 2h0m5 0h0m459 2h0m8 1h0m2-1h0m2-2h0m1 3h0m0-5h0m-2 3h0m7 1h0m0-1h0m4-1h0m1 3h0m7-3h0m-2 3h0m-1 1h0m5-3h0m-1-2h0m5 4h0m0 0h0m-2-1h0m6-2h0m-1 0h0m-1 0h0m8-2h0m1 0h0m0 1h0m-8 8h0m2 0h0m-1 0h0m0 0h0m-6 1h0m2 0h0m1-2h0m-1 1h0m-8-3h0m3 1h0m-4-1h0m3 2h0m-10 0h0m6 2h0m-4-2h0m3 0h0m-2 0h0m1 3h0m-1-4h0m-6 2h0m-2 1h0m-1 0h0m-5-2h0m3 2h0m2-2h0m-4 0h0m0-2h0m-8 2h0m4 3h0m-4-4h0m-3 2h0m2 1h0m-3-2h0m-449 3h0m-1-1h0m-1-3h0m-2 3h0m-2 1h0m-1-5h0m0 5h0m2 0h0m-2-2h0m-3 1h0m-5-1h0m11 8h0m0-2h0m-2 1h0m451 2h0m6-4h0m-4-2h0m5 3h0m-2-1h0m-2 2h0m8 2h0m1-5h0m0 3h0m0-3h0m3 2h0m2-1h0m-1 1h0m3-2h0m0 4h0m6-1h0m4-3h0m1 2h0m-3 2h0m8 0h0m1-2h0m-2 0h0m1 3h0m8-3h0m-1 1h0m6 1h0m-1-2h0m-1-1h0m6 6h0m-3-1h0m-2-1h0m1 3h0m-3 2h0m-4-3h0m-1 0h0m2 2h0m-4 1h0m5-2h0m-3 1h0m2 2h0m-14-1h0m3-1h0m-2 1h0m-6-2h0m1 2h0m-3 1h0m-4-1h0m-6-1h0m-9-1h0m2 2h0m0-5h0m-4 5h0m-450-4h0m2 4h0m-4-2h0m2 0h0m449 9h0m7-3h0m-3-1h0m10 4h0m6-5h0m-4 3h0m1-4h0m9 2h0m-1-1h0m-1 2h0m2 1h0m4 1h0m0-3h0m2-1h0m-4 0h0m0 4h0m4-5h0m-2 3h0m1 0h0m5-1h0m-2 4h0m4-6h0m-1 5h0m2-3h0m-3-1h0m14 2h0m-4 0h0m3 1h0m-4-1h0m5 3h0m0-2h0m2 1h0m2-2h0m0 6h0m-8 2h0m-6-4h0m4 2h0m-10-3h0m-10 3h0m-1-1h0m-1 2h0m2 2h0m-8-2h0m4-3h0m-8 2h0m-2 0h0m0 1h0m0 0h0m-2-2h0m1-1h0m-2 4h0m-9-2h0m2 1h0m-1-3h0m-5 4h0m2 0h0m-435 5h0m-1-2h0m1-2h0m-1 6h0m5-1h0m-2 0h0m6-3h0m6 3h0m5 1h0m-1-4h0m2 2h0m409-3h0m0 0h0m-2 1h0m3 3h0m-6 1h0m7-4h0m2 1h0m-2 0h0m2 0h0m4 2h0m8-4h0m0 0h0m8 4h0m-2-4h0m0 2h0m-2-1h0m5-1h0m4 2h0m-1-3h0m-3 3h0m1-3h0m2 5h0m8 0h0m-3-4h0m1 1h0m7 3h0m2-2h0m-1 1h0m-2-1h0m-3 3h0m5-1h0m-2 0h0m2-2h0m-2 2h0m8-4h0m-4 1h0m0-1h0m0-1h0m6 4h0m0-2h0m5-1h0m4-1h0m-8 11h0m-3 1h0m-2-1h0m1-5h0m-3 5h0m3-4h0m2 1h0m-5-1h0m2-1h0m-3 2h0m-7-1h0m-3 4h0m-6-5h0m2 5h0m-8-3h0m-6 0h0m4 1h0m-2 3h0m-6-4h0m-8 0h0m3 3h0m0-1h0m-3-4h0m-4 2h0m0-1h0m-8 2h0m3 3h0m-401-2h0m-5 0h0m0 1h0m4 0h0m-8-4h0m1 5h0m-9-4h0m4 0h0m-6-1h0m0 1h0m-1 9h0m-3-4h0m1 4h0m10-1h0m-5 2h0m1 0h0m5 0h0m8-1h0m2-5h0m-4 4h0m5-3h0m388 4h0m1 0h0m5-3h0m-1 2h0m6 1h0m-2-1h0m8 0h0m1-1h0m2 2h0m-2-2h0m4 0h0m4 2h0m-2-2h0m-1-2h0m1 3h0m5-1h0m0-2h0m-3 0h0m4 3h0m12-4h0m0 5h0m-1-5h0m0 2h0m1 0h0m8 0h0m4-2h0m5 6h0m-2 0h0m2-5h0m11 0h0m-12 8h0m-6 0h0m2 1h0m-6-1h0m-1 2h0m1-3h0m-2 2h0m-2-1h0m-16 1h0m2-3h0m-8 1h0m-3-2h0m-8 1h0m-1-1h0m2 2h0m-5-1h0m0 2h0m0-2h0m-2 0h0m2 0h0m-9 1h0m-2-1h0m-2 4h0m-1 1h0m-383-2h0m-1-4h0m-7 1h0m4 4h0m-9-2h0m-2-3h0m0 2h0m4-1h0m1 5h0m-4-2h0m-5-3h0m2 0h0m-1 1h0m0-1h0m0 2h0m4 3h0m-1 0h0m387 3h0m2-1h0m-5 2h0m6 0h0m3-4h0m2 1h0m0 0h0m4 3h0m-4-3h0m2 2h0m4 2h0m4 0h0m3-2h0m1 0h0m-2 2h0m3 0h0m6 0h0m2-1h0m-4-2h0m6 1h0m9-3h0m3 3h0m1-1h0m1 3h0m6 1h0m1-1h0m-1 0h0m-1 0h0m-2-3h0m10 2h0m-4 2h0m1-5h0m4 4h0m-1 0h0m6-1h0m-1-1h0m-1 8h0m-3-4h0m-2 1h0m-1 2h0m-6-1h0m-5 1h0m3-3h0m-11 0h0m1 5h0m4-4h0m-12-2h0m-2 5h0m0 1h0m-9-5h0m1 4h0m2-3h0m0 0h0m1 0h0m-4-2h0m-7 5h0m5-4h0m-5 0h0m4 5h0m1-5h0m-3 5h0m-5-2h0m1 1h0m-6-3h0m-2 3h0m-8-5h0m5 1h0m-4 0h0m3 0h0m-16 4h0m3 1h0m2-1h0m-5 1h0m-326-5h0m1 4h0m-12-2h0m-9 2h0m-3-4h0m-2 2h0m-1 7h0m7-3h0m-1 1h0m2 0h0m7-1h0m-2 1h0m0 2h0m2 0h0m4-2h0m1-1h0m131 4h0m13-3h0m0 3h0m188-1h0m-3-4h0m4 3h0m0 2h0m-1-2h0m11 1h0m-4-2h0m16 0h0m1 2h0m-1 1h0m-1-4h0m-1-1h0m0 3h0m1-1h0m-2 2h0m2-3h0m2 3h0m2 0h0m1-2h0m-3-1h0m3 1h0m2-2h0m5 5h0m-4-5h0m10 3h0m1 0h0m-2 0h0m0 1h0m6-4h0m-1 4h0m2-3h0m-4 3h0m8-2h0m4-1h0m-4 2h0m1 1h0m0 1h0m1-3h0m-1 4h0m4-3h0m3 3h0m0-3h0m2 2h0m-4 0h0m6-1h0m2 0h0m4 2h0m-2-4h0m2 5h0m-2 1h0m-4 1h0m-1 2h0m-2-4h0m-3 0h0m-2 0h0m-4 3h0m4-1h0m-10 1h0m0-2h0m1 0h0m-3 1h0m-5 0h0m4-1h0m1 0h0m-5-2h0m1 0h0m-1 0h0m0 5h0m3-1h0m-9-1h0m1 1h0m3-4h0m-2 2h0m2 0h0m-1 0h0m-5 4h0m-2-4h0m-2 4h0m0-5h0m0-1h0m-5 3h0m-7 1h0m-6-4h0m5 6h0m-15-1h0m-6 0h0m2-2h0m-7 1h0m-168 1h0m-2 0h0m-7-3h0m-7 2h0m-13-3h0m-118 3h0m-3-2h0m-1 0h0m1 0h0m-1 1h0m-6-2h0m-8 2h0m-4 2h0m3-4h0m0 6h0m5 0h0m15 1h0m-1 3h0m1 1h0m95 0h0m16-4h0m23-1h0m3 0h0m173 2h0m3-3h0m0 1h0m2 0h0m7 0h0m-4 4h0m3-2h0m1 2h0m3-3h0m9 3h0m20 0h0m-1-5h0m9 1h0m-3 3h0m1-4h0m2 3h0m6 0h0m0-2h0m-3 0h0m5 0h0m13 1h0m2-2h0m-6 7h0m0 2h0m3 3h0m-3-4h0m1 0h0m0 0h0m-7 2h0m2 0h0m-8-3h0m-6 2h0m1-3h0m-16 5h0m1-2h0m-2-1h0m-14 3h0m0-3h0m0 0h0m-4 2h0m-3 1h0m3 1h0m-10-1h0m0 0h0m-2-4h0m-5 5h0m-142-1h0m-6 0h0m-12 0h0m-4 1h0m-7-2h0m-6 2h0m-2-4h0m4 2h0m-11 1h0m-4 0h0m1-1h0m2 2h0m-11-1h0m6-4h0m-3 4h0m-1 0h0m-8 0h0m-6-4h0m5 4h0m-15 0h0m-5 1h0m-9-1h0m-5-1h0m1 1h0m3 0h0m-12-1h0m-21 0h0m-7 0h0m-19 1h0m-15-5h0m-3 7h0m16 4h0m0-2h0m-3 1h0m2 0h0m-1 0h0m10 0h0m1-2h0m-1 2h0m0-3h0m3 2h0m4-1h0m3 0h0m5 3h0m7-4h0m-3 3h0m17-1h0m4 1h0m-2-1h0m2-2h0m-1 5h0m8-2h0m3-2h0m4 0h0m-2 1h0m-2 0h0m1 0h0m0 1h0m0 2h0m-2 0h0m1-4h0m8-1h0m-3 0h0m4-1h0m-1 3h0m8 2h0m-1 0h0m6 1h0m-4-5h0m4 3h0m2-2h0m3 4h0m6-3h0m-3-1h0m1 3h0m2-3h0m-3 4h0m-1-5h0m3 0h0m1 2h0m3 1h0m3-2h0m-3 1h0m8 3h0m3 0h0m4-1h0m1-4h0m-4 3h0m5-2h0m0 1h0m4 0h0m-2-3h0m10 5h0m-2-1h0m5 2h0m0-1h0m6 1h0m1-1h0m1-1h0m-3 0h0m0-3h0m0 4h0m6-2h0m15-2h0m-2 2h0m4-1h0m6 4h0m1-1h0m123-1h0m1 2h0m8 0h0m0-4h0m2 4h0m-3-3h0m5-1h0m4 3h0m2-5h0m5 1h0m1 3h0m-1-2h0m4-1h0m0 1h0m-3 2h0m1-1h0m3-2h0m2 4h0m-2-3h0m5-1h0m1 1h0m0 2h0m4 2h0m0-1h0m3 0h0m3-4h0m3 3h0m-4-1h0m17 0h0m2 3h0m8-5h0m-2-1h0m-5 6h0m-3 3h0m1 1h0m2 0h0m-1-1h0m-1-2h0m-3 3h0m-1 1h0m2-3h0m0-1h0m1 4h0m-16 0h0m0-2h0m-6 3h0m4-6h0m-8 5h0m2 1h0m-10 0h0m-2-5h0m1 3h0m-13 0h0m1-2h0m-12 4h0m1-2h0m-2-2h0m-88 3h0m-9-2h0m-3-3h0m-30 6h0m-1-1h0m-3-2h0m-14 0h0m-11-3h0m2 3h0m-4-1h0m0-1h0m-2 0h0m1 2h0m-5 2h0m1 0h0m-1 0h0m3-1h0m-5-2h0m0 0h0m0-2h0m-2 4h0m-1-3h0m-6 4h0m2-4h0m-1 0h0m-2-1h0m2 3h0m-1-2h0m-2 0h0m-2 2h0m0 0h0m-3 1h0m-1-2h0m-4 3h0m4-5h0m-5 0h0m-7 2h0m3 0h0m1 1h0m-2-3h0m-2 1h0m-5-1h0m4 1h0m-8 4h0m3-4h0m-1 0h0m-20 4h0m1-5h0m-8 3h0m-1-2h0m-6 1h0m4-1h0m-3 1h0m-4-1h0m0 3h0m2-1h0m-2 3h0m1-4h0m-5 0h0m-1 2h0m0-2h0m-10-1h0m2 5h0m-3-2h0m0-1h0m-2 2h0m-2 0h0m0 0h0m2 1h0m-9-4h0m1 4h0m4-1h0m-3-1h0m2 2h0m-10-3h0m-1 0h0m2-2h0m3 1h0m-3-1h0m0 2h0m-1 2h0m-4-2h0m-3-1h0m-1-1h0m-2 0h0m10 6h0m9-1h0m8 1h0m10 0h0m2 2h0m3-3h0m3 4h0m2 1h0m0 1h0m16-1h0m4-1h0m5-3h0m-2 3h0m3 2h0m-1 0h0m7-1h0m1 1h0m1-1h0m5-3h0m-2 1h0m6 3h0m0-2h0m-1-4h0m6 3h0m1 3h0m0-3h0m5 2h0m6 1h0m7-3h0m0 2h0m69-5h0m0 2h0m6 3h0m11-4h0m-1 4h0m1-2h0m-3 2h0m4 1h0m1-2h0m0 0h0m3 0h0m4 2h0m60 0h0m7-2h0m-2-1h0m5 2h0m-1-3h0m2-1h0m0 2h0m5-3h0m1 3h0m10 0h0m-4 2h0m-1-1h0m2-3h0m9 4h0m-1-3h0m6 4h0m2-6h0m-1 1h0m7 0h0m-3-1h0m4 0h0m5 2h0m-5 2h0m0-2h0m6-1h0m1 0h0m0 3h0m3-1h0m-3 0h0m6-1h0m4 4h0m2-4h0m1 3h0m0 0h0m0 1h0m-1-2h0m-1 7h0m1-4h0m-1 1h0m2-2h0m1 1h0m-7 1h0m-1 1h0m-2-1h0m4 0h0m-3 4h0m1-3h0m-13-1h0m1 2h0m0 2h0m-1-5h0m-1-1h0m-3 0h0m-2 5h0m5 1h0m-5-2h0m-7-1h0m-3-1h0m2 3h0m-11 0h0m0-5h0m-6 5h0m-11 1h0m4-5h0m-8 2h0m-3-1h0m1-2h0m3 3h0m-3-2h0m-2 3h0m-3 1h0m2 0h0m-3-1h0m-2 0h0m-5 1h0m-9 1h0m-11 0h0m-5-2h0m-6-1h0m-10 2h0m-5-4h0m-7 0h0m4-1h0m-3 5h0m3-4h0m-6 1h0m-1-1h0m1 1h0m-8 2h0m1 1h0m-3 0h0m2-2h0m-7 2h0m1 0h0m1-3h0m0 4h0m-7-2h0m-65 1h0m-1-3h0m2 1h0m-7 1h0m1-4h0m0 1h0m-7 1h0m-2-1h0m-6 1h0m0 3h0m-4-2h0m0 0h0m-8 1h0m0-2h0m-1 0h0m-4 2h0m1-4h0m-6 0h0m-7 2h0m-6 0h0m-2-2h0m2 1h0m3 2h0m-6 0h0m-5-1h0m1 2h0m0-2h0m2 0h0m-2 3h0m2-3h0m0-1h0m-6 3h0m-1-2h0m1 0h0m-1 0h0m1 0h0m-1 0h0m1 3h0m11 1h0m3 0h0m12 0h0m113 1h0m-4 0h0m2 2h0m-1-1h0m4-1h0m6 2h0m11-1h0m-3-1h0m-1-1h0m12 2h0m4 3h0m-2 0h0m-3-2h0m1 1h0m0-2h0m10 0h0m-5 3h0m11-2h0m0 2h0m-3-5h0m0 5h0m7-4h0m0 2h0m2-1h0m10-1h0m7 2h0m-4-1h0m3 2h0m-3-3h0m6 5h0m-6-1h0m5-4h0m2 3h0m1 2h0m3-5h0m0 5h0m0-1h0m4-2h0m-2 3h0m0-1h0m3-5h0m-1 5h0m-1-2h0m9-3h0m-3 2h0m6 1h0m-1 0h0m-1-2h0m12 4h0m-2-1h0m-2 2h0m0 0h0m-1-4h0m1 1h0m12-1h0m6-1h0m9 3h0m-1 1h0m-4-2h0m2 2h0m9-2h0m7 1h0m0-4h0m2 2h0m-1 0h0m1-1h0m-2 2h0m10-3h0m-6 11h0m0-3h0m-10-1h0m3 0h0m3 4h0m-6-5h0m4 4h0m-5-3h0m-10 0h0m0 0h0m1 0h0m-2 3h0m-4-3h0m-6 3h0m-4-2h0m-1 4h0m-1-2h0m-2 1h0m4-3h0m1 3h0m-4-1h0m-1-4h0m0 0h0m-3 2h0m1 2h0m0-3h0m0 5h0m-3-1h0m-1-4h0m4 3h0m-6 1h0m2-1h0m-4-1h0m2-1h0m-1-1h0m-2 0h0m5 2h0m-4 0h0m-6 0h0m-1-1h0m-1 1h0m5 0h0m-1 0h0m-1-1h0m-4-1h0m-3 0h0m4 3h0m-6-3h0m2 4h0m-1-1h0m3-2h0m-10 0h0m4-1h0m-1 2h0m2-2h0m-2 4h0m-3-3h0m-4 1h0m4-1h0m-2 0h0m-6 1h0m-3-2h0m5 2h0m-3-1h0m0-1h0m1 2h0m-1 2h0m-1-4h0m1 5h0m-14-4h0m0 0h0m4 1h0m1 1h0m-3 0h0m-4 0h0m-1-2h0m-1 2h0m-5-3h0m2 3h0m-6 0h0m-3 1h0m2-4h0m0 4h0m-3-5h0m-13 5h0m2-4h0m-1 0h0m1 1h0m-6 0h0m-3-2h0m1 4h0m-4-2h0m0 2h0m-1 1h0m-2-2h0m2 0h0m-4 1h0m-7 0h0m21 6h0m-4-2h0m5 3h0m8-4h0m0 0h0m4 1h0m0 0h0m2 0h0m6-1h0m-2 4h0m0-1h0m1-1h0m0-1h0m8-1h0m1-1h0m-5 4h0m5-2h0m0 4h0m4-4h0m-2 2h0m6 2h0m-1-1h0m4-4h0m0 0h0m7 1h0m1-1h0m-1 2h0m0 0h0m-1 2h0m1 0h0m5-3h0m0 1h0m-1 3h0m9-6h0m-4 5h0m-1-4h0m5 3h0m-2-3h0m-2 5h0m7-5h0m-2 3h0m5 2h0m-6-2h0m2-1h0m-2-3h0m9 6h0m1 0h0m7-5h0m0-1h0m0 5h0m0 0h0m0-3h0m-4-1h0m3 0h0m3 1h0m0 1h0m2 2h0m3-2h0m-2 2h0m0-4h0m-4 2h0m7 2h0m5 0h0m-2-3h0m-1 4h0m1-4h0m-2 0h0m4 2h0m1-1h0m0 1h0m0 0h0m6-3h0m-1 1h0m5 1h0m-2-3h0m2 5h0m6-3h0m-2 3h0m6-5h0m-3 4h0m0 5h0m4 2h0m-9-3h0m4 1h0m-15-1h0m-4 0h0m0 0h0m-2-2h0m-2 3h0m1 0h0m0 1h0m-1-1h0m3-2h0m-1 2h0m1-3h0m-2 4h0m-3-2h0m1 3h0m-3-4h0m0 2h0m4 1h0m-1-3h0m-4 3h0m-4 1h0m-1-4h0m1 4h0m0-3h0m0 2h0m1 1h0m-9-4h0m-1 3h0m3-1h0m-2-2h0m-5 3h0m4 0h0m-3-3h0m1 4h0m-4 1h0m-3-1h0m0-5h0m-6 5h0m-3-1h0m-9-1h0m-2 2h0m-3-3h0m2 0h0m-8 1h0m1-2h0m-2-1h0m-6 2h0m-3 0h0m1 2h0m-4-2h0m2 1h0m-4 0h0m-3 1h0m-6 0h0m-4-3h0m0 4h0m-3-2h0m33 7h0m-5-4h0m0 2h0m3 0h0m-4 3h0m1-1h0m6 0h0m2-3h0m2-1h0m-1 1h0m4 4h0m6-4h0m2 2h0m0-2h0m-1 3h0m0-1h0m1 3h0m1-4h0m-1-1h0m6 5h0m-1 0h0m1-4h0m0 0h0m-2 2h0m1 2h0m3-1h0m-2 0h0m6-3h0m-2 2h0m3-3h0m-3 0h0m3 3h0m-1-3h0m2 4h0m4-4h0m-2 4h0m9-2h0m1 0h0m-5 0h0m4 2h0m0-2h0m-2 1h0m1 0h0m-1 1h0m5 0h0m-1 0h0m5 0h0m-5 0h0m4 0h0m-4-4h0m-1 1h0m10 4h0m1-1h0m-1-3h0m-3 1h0m5 1h0m-1 2h0m-1-2h0m2-4h0m5 1h0m-2-1h0m2 5h0m-2-4h0m-2-1h0m-1 9h0m5 0h0m-4 0h0m4 1h0m-10-3h0m0 1h0m1-1h0m2 0h0m-2 4h0m-1-4h0m-3 2h0m-2 0h0m0 1h0m2-2h0m0 1h0m-1-2h0m2 0h0m-7 3h0m2 0h0m-3 0h0m-2-4h0m4 1h0m-1 2h0m-3 1h0m-5-3h0m2 3h0m1-2h0m-2 2h0m2-3h0m-13 3h0m0-2h0m1-2h0m-1 1h0m1-1h0m1 3h0m-5-2h0m-3 0h0m-6 2h0m-10 1h0m4-1h0m-5-2h0" stroke="#f7b6d2" stroke-width="3.1" stroke-linecap="round" fill="none" opacity="0.86"/>
<path d="M463 910h0m0-2h0m-4 1h0m0 3h0m-3-2h0m4 0h0m-1-1h0m-5 0h0m-2 2h0m-1 1h0m-1-2h0m5 1h0m-18 0h0m-2-2h0m-20-1h0m-11 2h0m1 1h0m-2-1h0m1-1h0m-2 2h0m-11 0h0m4-2h0m0 2h0m-2-2h0m-3 2h0m0 0h0m-1-2h0m-1 1h0m-1 1h0m-2 0h0m0 0h0m0 1h0m1 0h0m-2 0h0m-11-1h0m-6 0h0m2-3h0m-3 2h0m-11-1h0m0 2h0m4-2h0m-8 0h0m1 0h0m0 2h0m0-3h0m1 3h0m-4 0h0m-5-2h0m-4 1h0m-1 1h0m0-1h0m-21 2h0m3 3h0m14-2h0m-4 3h0m5 1h0m-5-1h0m0 1h0m1-3h0m6 1h0m3 2h0m-4-2h0m0 3h0m9-5h0m-2 1h0m8-2h0m1 1h0m-4-1h0m15 3h0m3 0h0m2 3h0m6-2h0m10 0h0m0 1h0m7 0h0m-2-1h0m1-3h0m0 4h0m-1 1h0m12-1h0m-4-5h0m0 1h0m2 3h0m-1-1h0m5 0h0m0-3h0m4 5h0m-5 0h0m11 0h0m3-4h0m5 1h0m2-1h0m0 3h0m11-3h0m-2 3h0m1-1h0m10 0h0m-3 2h0m9 1h0m3-6h0m82 8h0m-5 1h0m-19 2h0m-4-3h0m-2 0h0m-12 3h0m1-1h0m-6 0h0m2 1h0m-6-3h0m-4 3h0m-8 0h0m2 0h0m-3 0h0m-7-3h0m0 0h0m-8 3h0m0 1h0m1-4h0m3 3h0m-3 0h0m1-2h0m-4 0h0m-2 1h0m2 2h0m2-4h0m-2 2h0m1-2h0m-2 3h0m-1-2h0m2 2h0m1 0h0m-16-2h0m1 1h0m0 1h0m-2-1h0m0-1h0m-3 2h0m-6-5h0m-4 6h0m-5-2h0m-15-2h0m-5-1h0m1-1h0m0 2h0m0 0h0m-3 3h0m-1-1h0m-4-1h0m-2 2h0m3-3h0m-3 3h0m-5-3h0m-2 1h0m-8 1h0m-8-3h0m-8 4h0m6 0h0m-2-5h0m-4 1h0m-2 4h0m-3-4h0m-4 0h0m-12 5h0m-7-3h0m-1-2h0m2-1h0m1 0h0m-5 3h0m-2 0h0m1 1h0m1-1h0m-8-2h0m0 3h0m3 0h0m-7 2h0m-4-4h0m-3 3h0m-5-2h0m-3 0h0m3 1h0m-18 0h0m1-1h0m5 5h0m6 1h0m5 2h0m-1-2h0m7 0h0m-1 1h0m4 0h0m1-1h0m3 0h0m-1 0h0m7 2h0m0 0h0m0-4h0m-3 5h0m4-2h0m5-1h0m-5 1h0m11-1h0m-2 1h0m20 2h0m-2-5h0m7 4h0m0 0h0m3-4h0m8 1h0m7 3h0m-1-1h0m1-1h0m3 1h0m6 0h0m-1 1h0m3-1h0m8-3h0m-4 5h0m0-3h0m10 2h0m-1-5h0m-3 1h0m1 4h0m0 0h0m-1-3h0m6 0h0m15 0h0m0 2h0m2 1h0m-1-2h0m2 0h0m2-2h0m-2 5h0m4-4h0m0 1h0m-3 2h0m2-1h0m-3-1h0m5-2h0m19 4h0m4 0h0m4-3h0m2 0h0m6 2h0m0-4h0m-2 0h0m3 2h0m7-2h0m0 0h0m7 2h0m-1 0h0m0 2h0m8 1h0m-1 0h0m2-3h0m-2-1h0m6 4h0m1-1h0m-2-2h0m6 1h0m3 1h0m0 1h0m1-3h0m-1 2h0m2 0h0m1-1h0m8-2h0m-2-1h0m4 5h0m1-3h0m2-2h0m1 2h0m1-1h0m1 0h0m2 2h0m3-1h0m0 0h0m1 1h0m11 0h0m-4-1h0m5-2h0m35 11h0m-3 1h0m-2-1h0m-2-1h0m2 1h0m-9-1h0m3-2h0m-17 3h0m-2 0h0m-10-1h0m-4 1h0m-8-2h0m4 1h0m1-1h0m-3 1h0m4 1h0m-3-3h0m-7-1h0m-3 1h0m-2-1h0m-1 1h0m-7 1h0m-2 0h0m1 3h0m-3-5h0m3 1h0m-8 3h0m1-4h0m-2 5h0m-4-6h0m-11 3h0m-4 0h0m-1-2h0m-4 2h0m-2 2h0m5-2h0m-10 1h0m1-1h0m0 2h0m2-3h0m-4 3h0m2 0h0m-4-3h0m-6 3h0m-4-4h0m-1 4h0m-4-3h0m0 4h0m1-1h0m3 1h0m-10-1h0m3-5h0m-11 1h0m-2 1h0m-2 0h0m-3 3h0m-1-3h0m-5-1h0m0 3h0m-1 0h0m-8 1h0m3-4h0m-6 2h0m-1-2h0m0 0h0m-3 0h0m-11 3h0m0-1h0m-5 2h0m-3-3h0m-3-2h0m-5 2h0m2 3h0m-2-4h0m1 4h0m1-1h0m-11-4h0m0 3h0m-4-1h0m2 1h0m-6 0h0m1 2h0m-1 0h0m-5-1h0m-8-1h0m-1 0h0m-3 2h0m-3-5h0m-3 5h0m1-1h0m5 1h0m-12-2h0m2 0h0m2 0h0m-1-2h0m-9 4h0m5-2h0m-2 1h0m-1 1h0m3-4h0m-11 3h0m1-4h0m-2 2h0m-4 0h0m4 2h0m-6 1h0m-5-2h0m-5-1h0m-5 1h0m1-2h0m-1 4h0m1-2h0m2-1h0m-9 3h0m-5 0h0m3-1h0m-4 1h0m-3 1h0m-5-2h0m5-1h0m-6 3h0m-5-1h0m-1 5h0m2-2h0m9-1h0m0-1h0m1 4h0m-4 0h0m7-1h0m1-1h0m0 0h0m5 3h0m3-2h0m-4 1h0m8-2h0m16 3h0m2 1h0m-1-4h0m3 3h0m-4-4h0m0 4h0m7-1h0m4-1h0m1 1h0m5-4h0m4 1h0m1 2h0m15 0h0m3-1h0m0 0h0m-3 2h0m1-2h0m0-2h0m7 1h0m2 0h0m-5 0h0m4 5h0m3-2h0m-1-3h0m3 0h0m-1 2h0m7 1h0m4 0h0m0 1h0m9 1h0m0-1h0m3-4h0m-1-1h0m3 6h0m3-2h0m10 1h0m3 1h0m7 0h0m-3-1h0m3-3h0m-1 3h0m15-4h0m4 0h0m-2 2h0m6 1h0m4 1h0m-2 1h0m3 0h0m2-1h0m-1 0h0m10-3h0m-3-2h0m1 1h0m-2 3h0m5-1h0m8-1h0m-2-1h0m2 2h0m0 1h0m6-1h0m-2 0h0m13-2h0m4 3h0m-4-2h0m6 4h0m10-3h0m11 3h0m3-3h0m5 1h0m4-3h0m2 2h0m4 1h0m3 1h0m0-3h0m5 3h0m3-4h0m-1 0h0m3 2h0m-1 0h0m6-3h0m7 1h0m0 2h0m2 0h0m0-2h0m5 3h0m4 2h0m12-4h0m6-1h0m-1 1h0m23 9h0m-4-2h0m-5 0h0m0 1h0m-2-1h0m1 1h0m-1 0h0m-5 2h0m0-2h0m-10-2h0m-3 1h0m0-3h0m-1 5h0m2-2h0m1-2h0m-4-1h0m-2 5h0m-5-2h0m0-1h0m-3 2h0m-8 2h0m1 0h0m-8-4h0m1 3h0m2 0h0m-7-4h0m0 4h0m2 0h0m-1-1h0m-7-3h0m1 2h0m-1-2h0m2 2h0m-3-1h0m2 2h0m-3 1h0m-4-3h0m-1 2h0m0-2h0m3 1h0m-1-3h0m-12 5h0m-2-3h0m-4 0h0m-9 0h0m-2 1h0m-6-2h0m1 3h0m-5-2h0m-2 0h0m-8 2h0m1-4h0m-3 4h0m1-4h0m-7 5h0m0-5h0m2 3h0m-3-1h0m0 1h0m1 2h0m-8 0h0m1 1h0m-9-2h0m-1 0h0m0-3h0m1 2h0m1-1h0m-8 3h0m-1-1h0m2-2h0m0 1h0m4-1h0m-11 0h0m0 1h0m-1-3h0m-2 3h0m-10-1h0m-2 0h0m1 0h0m-29-1h0m-6-1h0m5 0h0m-8 1h0m-12-1h0m-1 0h0m-2 1h0m0-1h0m-15 0h0m-9 3h0m5 0h0m-6-1h0m-1 1h0m-6 3h0m-1-3h0m2-3h0m-6 6h0m-7-3h0m-2 0h0m-3-2h0m-4 0h0m5 2h0m-12 0h0m2-2h0m0 4h0m-2-1h0m-4-2h0m-1 0h0m-5 3h0m2-1h0m-16-2h0m-6 0h0m-3 3h0m-2-4h0m1-1h0m-3 1h0m-15 3h0m-7-1h0m2 1h0m1-2h0m-3 3h0m1-2h0m-3 0h0m-2-1h0m-2 6h0m4 4h0m1-3h0m-3 2h0m0-5h0m5 1h0m0 2h0m-1-1h0m1 2h0m0-1h0m4 0h0m0-2h0m2 4h0m0-1h0m6-1h0m-1-3h0m7 1h0m-2 0h0m3-1h0m15 2h0m9-1h0m5 2h0m1-1h0m7 1h0m3 0h0m0-2h0m3 3h0m2 0h0m3 2h0m12-4h0m7-2h0m110 4h0m6 1h0m7-2h0m-1-2h0m3 3h0m2-3h0m7 1h0m2 3h0m3-4h0m-2-1h0m14 3h0m1-3h0m5 0h0m-5 4h0m3 0h0m8 1h0m-2 0h0m8-1h0m-4-3h0m2 2h0m2 2h0m0-1h0m4 0h0m2 2h0m-1-3h0m2 3h0m3-4h0m1 2h0m-3 0h0m6 1h0m1-2h0m0 2h0m4-2h0m1 1h0m10-2h0m-1 1h0m-3-1h0m4-1h0m6 0h0m0 0h0m3 1h0m0 2h0m0-4h0m-2 2h0m5-2h0m-4 2h0m1-1h0m3 5h0m-1-1h0m5-1h0m0-3h0m-2 3h0m6-3h0m1 1h0m-1 1h0m2 1h0m5 0h0m1-2h0m-2 0h0m2 3h0m12 0h0m1-2h0m0 1h0m2 1h0m2-2h0m0-3h0m1 0h0m0 3h0m7 1h0m-1-4h0m3 0h0m-4 6h0m2 0h0m4-4h0m-2-1h0m24 9h0m4 0h0m-3 1h0m3-3h0m-4 1h0m0 2h0m-4-3h0m-5 2h0m1-1h0m-9-1h0m3 3h0m-5 0h0m-4-1h0m-6-2h0m-2 0h0m-2 3h0m-3-1h0m0-3h0m6 2h0m-4 0h0m2 2h0m0-3h0m-9 2h0m2-1h0m3-1h0m-3 0h0m-5 0h0m-1 4h0m-1-6h0m-12 5h0m-4-4h0m-3 2h0m-4-1h0m-2 0h0m1-1h0m-2 1h0m5 1h0m-2 1h0m-6 2h0m2-2h0m-3 0h0m2-1h0m2 2h0m0-3h0m-5 1h0m-3-1h0m-7 3h0m0-2h0m-7 2h0m3-4h0m-7 5h0m-1-1h0m-1 0h0m-4-3h0m2 2h0m-4 0h0m-7-1h0m1 0h0m-8-2h0m4 2h0m-1-2h0m2 3h0m1 1h0m-6-4h0m-11 0h0m2-1h0m-3 2h0m-4 0h0m4-1h0m-4 3h0m3 0h0m1 0h0m-4 1h0m1-1h0m2-2h0m-1 1h0m-4 0h0m-14 0h0m-1 2h0m-5-1h0m-3-1h0m2 0h0m1-1h0m-5 1h0m-1 0h0m-2-1h0m-138-1h0m3-1h0m-7 2h0m-3-2h0m2 2h0m-8 2h0m-7-1h0m2-2h0m2 3h0m-2 1h0m-1 0h0m-4-1h0m-8-4h0m-3 5h0m1 0h0m-1-3h0m-9 3h0m-5 0h0m2 0h0m-1 0h0m2-2h0m-1-1h0m-6-2h0m1 4h0m-1-1h0m1 3h0m-7-2h0m-1-1h0m-7 4h0m2 2h0m0 1h0m1 1h0m-1-3h0m-2-1h0m-2 1h0m9 0h0m0 0h0m1 2h0m-1 2h0m-1-5h0m0 0h0m1 4h0m4 0h0m4-4h0m-4 3h0m4 1h0m2-2h0m2 0h0m7 0h0m1 1h0m1 2h0m2 0h0m8-3h0m0 1h0m-4 0h0m1-4h0m5 4h0m2-1h0m1-1h0m1 2h0m-3-2h0m1 3h0m8-4h0m-3 3h0m0-2h0m0 0h0m0 2h0m170-1h0m-3-3h0m1 1h0m5 2h0m8 1h0m5 0h0m14-2h0m5-1h0m4 1h0m5 1h0m7-3h0m-5 1h0m11 1h0m-3 0h0m6 1h0m-2-3h0m9 1h0m-4 4h0m7-1h0m6 0h0m2-1h0m1-3h0m1 1h0m1-1h0m3 5h0m0 0h0m-1 0h0m1-3h0m4 1h0m4 2h0m0-2h0m4-1h0m1 2h0m7-4h0m0 5h0m1-2h0m5 0h0m1-1h0m-4 1h0m12 0h0m3 2h0m-4 0h0m3-3h0m-2 3h0m7 0h0m-1-2h0m-1-3h0m4 3h0m0-1h0m-1 2h0m-1 0h0m5 0h0m0-2h0m2 4h0m0-1h0m4-2h0m2 2h0m3 1h0m5-4h0m-4 2h0m10 0h0m-5 0h0m5-3h0m1-1h0m18 9h0m1-1h0m3 0h0m-6 2h0m-4-1h0m-2 0h0m-6 1h0m-3-1h0m0 1h0m-11-4h0m2 1h0m-5 1h0m-1 0h0m0 2h0m-4-3h0m3 0h0m-3 3h0m-1-2h0m-1 2h0m-4-1h0m-3-1h0m-9-1h0m1 1h0m-4-1h0m0 3h0m1-2h0m-6 1h0m-8 2h0m-6 0h0m-1-5h0m3 4h0m-2-2h0m-15-2h0m5 1h0m-1 0h0m-2-1h0m-2 6h0m-4-5h0m0-1h0m-7 2h0m-6-2h0m-53 1h0m-6 3h0m0-1h0m3 0h0m-192 0h0m-8-1h0m-3 1h0m-1 1h0m-4 0h0m0-3h0m1 0h0m-5 4h0m-2-1h0m0 1h0m-7-4h0m-3 3h0m-9 2h0m-2-4h0m1 1h0m-2 7h0m-2-2h0m0-1h0m3-1h0m2 2h0m4 3h0m-2-3h0m1 1h0m-2 1h0m1-4h0m6 1h0m6 3h0m-1-1h0m0 0h0m4-2h0m6 1h0m7 2h0m0 2h0m5-2h0m276-2h0m1-2h0m4 3h0m6-2h0m7 4h0m0-2h0m6-1h0m0-1h0m-3-1h0m4 2h0m9 0h0m9 0h0m-3 2h0m3 0h0m-3-1h0m-1 1h0m9 0h0m-3-4h0m2 5h0m-3 0h0m7-2h0m0 0h0m4 1h0m-5 2h0m3-4h0m0-1h0m0 5h0m-1 0h0m8 0h0m-5-1h0m3-3h0m1 0h0m-1 1h0m1-2h0m11 4h0m0-1h0m8 0h0m-2-2h0m-1 2h0m13 0h0m-1 0h0m2 0h0m3 0h0m11 6h0m1 2h0m-2-2h0m-1-2h0m1 1h0m-11 2h0m5 0h0m-6-4h0m-2 5h0m0-3h0m-13 2h0m-5-5h0m0 2h0m2 1h0m-7 1h0m-1-4h0m-3 3h0m-2-1h0m-2 1h0m-1 1h0m3-3h0m-8 3h0m-1-4h0m-4 1h0m3 2h0m-11 1h0m-6-3h0m-1 5h0m1 0h0m5-4h0m-1 3h0m-6-1h0m1 1h0m-10-3h0m0 4h0m3-5h0m-9 2h0m0 1h0m-301 0h0m4-1h0m-4-3h0m4 0h0m-9 4h0m-1 0h0m-7-1h0m4 2h0m2-1h0m-5-3h0m-3 4h0m-7 0h0m0-2h0m0-3h0m2 2h0m-5-1h0m-13 2h0m-3-1h0m4 0h0m-4 7h0m4 3h0m-2-3h0m-3-2h0m2 3h0m2-1h0m-4-2h0m1 2h0m9 3h0m4-6h0m-1 1h0m22 4h0m-4 0h0m0 0h0m2-4h0m-1 2h0m0 3h0m3-5h0m316 0h0m10 0h0m2 4h0m4-2h0m0-3h0m10 5h0m5 1h0m0-3h0m2 1h0m7-3h0m0 1h0m0 4h0m2-2h0m1-3h0m5 3h0m3 2h0m4-2h0m-4 1h0m4-4h0m7 2h0m-5-3h0m7 5h0m0 0h0m0 0h0m1-1h0m1 0h0m5-3h0m-2 4h0m2 1h0m-1-1h0m8-5h0m-2 1h0m-1 0h0m-1 3h0m6 0h0m2-4h0m14 12h0m-21-6h0m-6 3h0m3 3h0m-2-1h0m-2-2h0m3-3h0m-4 4h0m-2-3h0m3-1h0m0 3h0m-9 2h0m1-2h0m-2 1h0m1 1h0m1-2h0m-9 2h0m1-1h0m1-3h0m3 4h0m-5-4h0m3 4h0m0-1h0m-6-4h0m-9 1h0m1 4h0m2-3h0m-2 3h0m0-1h0m2-1h0m-8 1h0m3-2h0m-8 4h0m2-4h0m-1 4h0m-2-3h0m-2-2h0m-4 4h0m1 0h0m2-2h0m-5 1h0m-6-3h0m-336 3h0m4-2h0m0 0h0m-7 0h0m-6 1h0m-8 3h0m1-2h0m-5-1h0m0-2h0m-7 1h0m8 10h0m-1-2h0m3 2h0m3-2h0m356-4h0m7 3h0m3 1h0m0-1h0m11-3h0m-2 4h0m3 0h0m-1-2h0m0 1h0m9-1h0m3 0h0m-2 1h0m1-1h0m0 0h0m3-1h0m-1 0h0m8 3h0m-2 1h0m0-4h0m3 3h0m4-2h0m1-1h0m-1 0h0m1 1h0m6 1h0m-1-2h0m-2 2h0m-1 1h0m2 1h0m-2-4h0m5 3h0m6 1h0m2-2h0m24 7h0m0-3h0m-7 5h0m3-2h0m-2-1h0m-7 0h0m4 2h0m-8-1h0m-7-2h0m-2 0h0m1 4h0m-12-6h0m-3 6h0m1-4h0m-2 1h0m-7 2h0m2-4h0m-10 3h0m1 2h0m1-3h0m-4-1h0m-2 0h0m-6-1h0m-1 3h0m-6 0h0m-4-3h0m-361 3h0m0 1h0m-1-2h0m1 0h0m0-2h0m-2-1h0m-7 2h0m-5 0h0m-3 2h0m-2-3h0m-4 1h0m-4 0h0m-2 4h0m1-3h0m-1 2h0m3 2h0m2 4h0m1-2h0m-1 3h0m2-5h0m3 2h0m1 1h0m7-1h0m0-2h0m0 3h0m4 1h0m1-1h0m0-3h0m1 0h0m-2 5h0m3-5h0m372-1h0m13 5h0m7-4h0m0-1h0m9 4h0m-1-4h0m0 6h0m2-4h0m0 1h0m-2 3h0m-2-4h0m5 1h0m-1-1h0m9 2h0m7 1h0m3-4h0m0-1h0m9 4h0m5-2h0m6 3h0m2-1h0m7 3h0m-3 5h0m5-4h0m-9-1h0m3 3h0m-10-4h0m-2 1h0m2-1h0m-2 6h0m-4-5h0m2 1h0m-9 1h0m-3-3h0m0 3h0m-5 0h0m-11-1h0m-1-1h0m-5-1h0m-4 3h0m-1 0h0m-4 3h0m-5 0h0m-391-5h0m0 3h0m-9-3h0m-3 0h0m-2 3h0m0 0h0m0 0h0m-4-1h0m1 5h0m-1 0h0m2 2h0m1-2h0m5-2h0m-2 0h0m2 2h0m2 1h0m1-2h0m398-1h0m6 3h0m0-2h0m4 0h0m3 1h0m-4 0h0m11 0h0m1 1h0m15-3h0m-4 4h0m6 2h0m9-2h0m2 2h0m-4 0h0m1-4h0m-2-1h0m6 4h0m3 0h0m-1-4h0m1 2h0m8-2h0m-4 5h0m6-4h0m0 0h0m0 1h0m9 0h0m-1 1h0m4 6h0m-5-1h0m2-3h0m-2 4h0m-2-4h0m-1 0h0m-3 5h0m3-1h0m-3 0h0m0 0h0m-4 0h0m-5-2h0m-4 2h0m-13 1h0m-1 0h0m-11-1h0m-3 0h0m-5 0h0m0-1h0m-2 1h0m-3-1h0m-1-2h0m-406 0h0m-3 3h0m1-4h0m-2 5h0m-3 1h0m-2 4h0m5-3h0m416 0h0m-3 1h0m10 1h0m0 1h0m10 0h0m2 2h0m-3-6h0m5 3h0m1-3h0m7 5h0m3-4h0m-4 0h0m2 1h0m15 0h0m4-1h0m4 2h0m0 0h0m6 1h0m-2 0h0m1-4h0m2 6h0m-2-5h0m-2 2h0m7 2h0m1-1h0m-2 6h0m1 1h0m1-4h0m-6 0h0m2-1h0m2 4h0m0 1h0m-5-5h0m-6 4h0m0 1h0m1-4h0m1 0h0m-17 4h0m-2 0h0m-6-5h0m-1 1h0m3 1h0m0 1h0m-2-1h0m-5 3h0m1-4h0m-3 0h0m4 0h0m-7 0h0m2-1h0m-6 4h0m-3 1h0m-3-2h0m-426-1h0m-1-1h0m-3 4h0m0-3h0m0 1h0m2-3h0m-3 2h0m1 1h0m-6-1h0m3 2h0m-8 0h0m2-3h0m-7 2h0m0-1h0m0 0h0m-1 10h0m6-2h0m-3 0h0m5 1h0m-1-4h0m-3 0h0m10 3h0m-2 0h0m2 2h0m3-3h0m-1 1h0m-1-1h0m0 3h0m436-3h0m1 0h0m3-3h0m0 1h0m9 0h0m-3-1h0m2 2h0m10 3h0m1-1h0m-1-2h0m15 0h0m-1-1h0m12 1h0m-1 0h0m-1 3h0m2-5h0m-2 6h0m6-3h0m-1 2h0m3 1h0m-1 0h0m2 1h0m-2 4h0m-6-3h0m-2 0h0m4-1h0m-11 3h0m5-2h0m-7 2h0m-2 0h0m-6-3h0m2 1h0m-2 4h0m-7-3h0m0 3h0m-11-4h0m-6 2h0m-444-4h0m4 4h0m-2-2h0m-9 0h0m1 1h0m3-1h0m-1 2h0m6 6h0m-4-3h0m1 2h0m448 0h0m12 0h0m-5 1h0m2 1h0m7-4h0m4 4h0m4 0h0m-1 1h0m1 0h0m-4-5h0m1 4h0m2-1h0m-3 1h0m7 0h0m-1 0h0m4 1h0m2-3h0m4 1h0m3 0h0m0 0h0m0 1h0m1-4h0m5 0h0m5 3h0m6-1h0m-6 5h0m0-1h0m5 5h0m-11-2h0m4-4h0m-3 1h0m0 2h0m0-2h0m-5 1h0m2 1h0m-5-1h0m1-2h0m2 1h0m1 3h0m2 0h0m-11-3h0m-3 1h0m1 4h0m-8-4h0m0-1h0m-8 0h0m-5 3h0m1 1h0m-4-2h0m-4-2h0m3 1h0m-453 0h0m-21 4h0m0 0h0m13 1h0m3 3h0m3 1h0m1 0h0m456-1h0m5-1h0m0 3h0m-1-1h0m6-3h0m7-1h0m3 3h0m-1-3h0m-1 0h0m1-1h0m11 2h0m14 1h0m16 8h0m-1 0h0m-2 0h0m-3-1h0m-8-2h0m0 3h0m1-4h0m-17 1h0m0 4h0m-2-3h0m-8 0h0m1 3h0m-13-5h0m2 4h0m1-2h0m-9 3h0m1-1h0m0-4h0m-458-1h0m-5 2h0m-2 3h0m-9 1h0m-6 1h0m3 0h0m3 0h0m13 1h0m464 2h0m1 2h0m1-5h0m4 1h0m7 0h0m9 4h0m0-3h0m3 3h0m8-1h0m0-5h0m2 5h0m-1-1h0m6 2h0m1-2h0m-4-2h0m9 3h0m7-1h0m-1 6h0m-4-3h0m1 1h0m3 3h0m-8-3h0m2-1h0m-2 0h0m4 4h0m-11 1h0m2-2h0m-2-2h0m-1 4h0m-1-2h0m0 1h0m-10 0h0m2-4h0m-18 4h0m-3-4h0m-1 3h0m-2-2h0m-467 2h0m-17 2h0m-2 2h0m-1 1h0m4-2h0m1 2h0m1-1h0m1 2h0m3-3h0m482 2h0m1-2h0m-2 4h0m0-4h0m6 5h0m0-2h0m4-1h0m2 2h0m1-2h0m8-1h0m7-2h0m0 3h0m0 1h0m-2-1h0m-3 0h0m10 0h0m-4-1h0m1-1h0m-1 4h0m5-3h0m6 1h0m-2 2h0m8 0h0m0-3h0m-2 2h0m4 4h0m-6-2h0m-1 1h0m-16-1h0m3 0h0m-11 3h0m-4-2h0m-3 4h0m-2 1h0m-9-1h0m0 0h0m5-2h0m-4 2h0m-480 1h0m-4 0h0m3-4h0m-10 4h0m3-6h0m-3 8h0m3-1h0m2 0h0m12 4h0m4-3h0m1 0h0m474 1h0m-6 3h0m1-3h0m11-1h0m-1-2h0m0 2h0m-3 3h0m1-3h0m4-2h0m2 4h0m-3 0h0m4-1h0m-1 2h0m5-2h0m-1 0h0m2 1h0m20 0h0m3-3h0m0 3h0m-1 0h0m0 1h0m0-1h0m1-1h0m1 6h0m-11-2h0m0 5h0m-14 0h0m-1-1h0m0 0h0m1 0h0m-4-3h0m-1 0h0m-8 1h0m1 1h0m0-4h0m-2 2h0m-5 2h0m-468-2h0m-4-2h0m-1 4h0m-16 3h0m0 3h0m0 0h0m6-2h0m-3-1h0m1-1h0m-1 4h0m0 2h0m8-2h0m9-2h0m467-2h0m-1 4h0m4 0h0m1-1h0m0-2h0m-2 0h0m3 4h0m2-4h0m8 0h0m-1 2h0m1 3h0m1-6h0m5 4h0m7-2h0m1 0h0m8 4h0m0-4h0m-3-1h0m0 2h0m4-1h0m2 2h0m-3-3h0m3 2h0m7 0h0m2-1h0m-5 1h0m3 5h0m-6 3h0m-3 0h0m3-1h0m-3 1h0m0 1h0m2 0h0m-8-3h0m2-3h0m-1 4h0m2-2h0m-2 1h0m4-1h0m-6 2h0m-1-1h0m-7-1h0m1-1h0m-5 5h0m-3-1h0m2 0h0m-17 1h0m5-2h0m-471-1h0m0 1h0m-2-3h0m-1 0h0m-1 2h0m-1-1h0m2 1h0m-20-3h0m7 9h0m4-2h0m3-1h0m-3 4h0m0 1h0m6-5h0m3 1h0m-1 0h0m2 0h0m470 0h0m12 4h0m10 0h0m-3-1h0m2 0h0m0 0h0m1-3h0m5 4h0m-4-3h0m11 2h0m-3 0h0m3-3h0m-3 3h0m4-2h0m0-1h0m-1 2h0m9 2h0m-2-2h0m6 8h0m-7-2h0m0-1h0m-5 2h0m5 0h0m-1-1h0m-2 0h0m3 1h0m0 1h0m-10-3h0m-3 3h0m1-1h0m-11-1h0m3 1h0m0 1h0m-8-2h0m2-3h0m-482 3h0m-5-1h0m2 1h0m-6 2h0m0-4h0m-1 3h0m-3-1h0m0 1h0m-6-4h0m3 4h0m-1 3h0m6 2h0m-3-1h0m5 1h0m4 3h0m0-2h0m-3-1h0m7-1h0m-1-1h0m4 0h0m-1 1h0m1 2h0m-3 1h0m468-2h0m11 2h0m-1 0h0m5 1h0m1-4h0m0 0h0m0 2h0m2-1h0m-1 0h0m3-1h0m7 2h0m-2 1h0m3 0h0m2-1h0m11 2h0m-1-5h0m-4-1h0m3 4h0m1 1h0m-2-4h0m4 2h0m1 1h0m0-1h0m0 8h0m1-4h0m1-1h0m1 3h0m-4 1h0m-4 0h0m3 1h0m-8-2h0m-7-2h0m0 0h0m-10 1h0m-2 0h0m-1 1h0m2-1h0m-9 3h0m2 0h0m2-2h0m-1 1h0m-10-2h0m-1 4h0m-463 0h0m-4-4h0m-1 4h0m-5-3h0m3-3h0m0 0h0m-3 5h0m-1 1h0m6 3h0m-1 1h0m-3-3h0m11 1h0m459 3h0m2 1h0m3-5h0m1 4h0m8-4h0m2 2h0m3-3h0m9 3h0m10 3h0m1-5h0m9 6h0m-9 3h0m2-1h0m-2 2h0m0 1h0m-2 0h0m-8-6h0m1 0h0m-6 2h0m-12 3h0m-3 1h0m6-4h0m-5-1h0m4 3h0m1 1h0m-10-3h0m2-1h0m-8 4h0m3 0h0m-460-4h0m2 2h0m0-1h0m-7 3h0m2-5h0m-7 6h0m-7-6h0m8 8h0m7 1h0m6 1h0m455 0h0m10 1h0m0 1h0m7-4h0m3-2h0m-1 1h0m-4 2h0m11 2h0m-2-2h0m1-1h0m3-2h0m1 2h0m2 3h0m-2-5h0m0 0h0m8 2h0m2 0h0m6 3h0m5 0h0m0 4h0m-7-3h0m0 2h0m-10 3h0m2-3h0m-7 3h0m-3-3h0m-5 1h0m1 3h0m2-3h0m0-3h0m-5 2h0m-8 3h0m-8 0h0m1 0h0m-6-1h0m-462-3h0m1 1h0m-5 2h0m-5-1h0m-1-2h0m470 8h0m1-2h0m10 1h0m1-2h0m-1 4h0m-1-1h0m-1-1h0m4 1h0m2 3h0m1-4h0m4 0h0m4 1h0m5 2h0m0-1h0m-4-1h0m7 0h0m2 1h0m8-4h0m0 5h0m-2 4h0m2 0h0m0 3h0m-7-1h0m0-3h0m-1-2h0m0 2h0m2 1h0m0-3h0m-8 0h0m-8 1h0m3 0h0m-9 3h0m2 1h0m-3-4h0m1 0h0m2 3h0m-4 0h0m-1-3h0m0 0h0m0 0h0m2 3h0m-9 1h0m1-2h0m0 2h0m-5-4h0m-3 3h0m-446-3h0m-8 3h0m-2 1h0m1-1h0m-3-2h0m0 1h0m3-1h0m3 3h0m-8-2h0m-5 0h0m10 7h0m1 0h0m-3 0h0m455 1h0m1 0h0m0-4h0m-1 0h0m1 4h0m-1-4h0m1 1h0m1-1h0m-1 0h0m10 4h0m1-2h0m-1 1h0m4-2h0m0-1h0m-1 2h0m8 0h0m0-2h0m5 4h0m2-4h0m6 3h0m12 2h0m-2-4h0m5 5h0m-7 0h0m-6 4h0m4-4h0m-7 2h0m-4 2h0m-1-2h0m0 2h0m-5-1h0m4-2h0m-3 1h0m-1-2h0m-4 4h0m3-4h0m-18 5h0m-2-2h0m-4-4h0m0 1h0m-451 2h0m-1 3h0m1-1h0m-1 3h0m7 0h0m443 3h0m-1-3h0m1 4h0m-1-4h0m7-1h0m4 0h0m1 1h0m3 3h0m5-4h0m-1 5h0m6-2h0m-1 0h0m3 1h0m4-5h0m-2 2h0m3-2h0m4 5h0m6-3h0m-1 0h0m2 0h0m2-1h0m5 0h0m2 1h0m-5 2h0m0-1h0m2-1h0m4 3h0m-4 6h0m-3 0h0m1-3h0m-6-1h0m-5 2h0m-2 2h0m4 0h0m-3-2h0m0 0h0m-1-2h0m-4-1h0m-6 3h0m-6 0h0m1 2h0m-2-4h0m-6 3h0m-1 0h0m4 2h0m-7-3h0m2 1h0m1-3h0m-1 3h0m-5-2h0m2 2h0m-6-3h0m0 1h0m1 0h0m-4 4h0m0-3h0m-4 1h0m4-4h0m-421 5h0m-4-1h0m-5 2h0m8 1h0m3 3h0m-5-4h0m7 6h0m0-4h0m4 1h0m2 2h0m404-2h0m1-1h0m0 1h0m1 1h0m5-2h0m2 1h0m3 1h0m1 1h0m5-5h0m0 4h0m0-3h0m-2 0h0m6 4h0m4-1h0m3 2h0m-1-2h0m0-3h0m8 4h0m-1-1h0m-2-3h0m7 2h0m0 0h0m7-1h0m-2 4h0m-1 0h0m4 5h0m-1-1h0m-2-1h0m-1 1h0m-2 0h0m-3-3h0m1 0h0m0 4h0m-5 0h0m-5-4h0m-1-1h0m-4 0h0m-5 3h0m2 0h0m-7-2h0m4 3h0m-11 1h0m4-4h0m0 0h0m0 2h0m-7-2h0m-3 1h0m-2 3h0m0-4h0m1 1h0m-8 3h0m-1-1h0m-403-2h0m2 3h0m-1-4h0m-4 1h0m-10-1h0m-4 1h0m2 0h0m-1-1h0m4 6h0m6 1h0m-1-2h0m1 3h0m3-2h0m4 2h0m-2-2h0m5 2h0m1-3h0m392 5h0m15 1h0m-1-5h0m1 3h0m1-3h0m1-1h0m2 3h0m2-2h0m0-1h0m-2 2h0m3 3h0m3-4h0m0 2h0m-1-2h0m-2 4h0m11-2h0m0-2h0m-4 2h0m6 3h0m1-5h0m-2 1h0m12-1h0m-5 2h0m-1-1h0m11-1h0m-4 0h0m7 1h0m-5 9h0m-2-3h0m-7 1h0m5 2h0m-3 0h0m2-5h0m-5 1h0m-3 5h0m-2-2h0m6-3h0m-10 3h0m-4 1h0m1-1h0m0 2h0m-13-2h0m-10-3h0m1 1h0m1 1h0m-7-2h0m-1 0h0m-12 5h0m-381-4h0m-10 2h0m-2-2h0m-2 1h0m0-2h0m4-1h0m-9 1h0m3 3h0m385 8h0m0-1h0m9-5h0m0 1h0m1 1h0m7 0h0m3 1h0m9 0h0m-3 0h0m1 3h0m1-5h0m3 4h0m1 0h0m9-3h0m4 3h0m4-2h0m3 1h0m-2 2h0m3-4h0m2-1h0m3 2h0m-3 2h0m4-2h0m-3 0h0m2-2h0m-2 3h0m3-2h0m-3 0h0m0 3h0m2 1h0m0-6h0m6 4h0m2 2h0m-1-1h0m1-2h0m2 1h0m1-2h0m6-2h0m3 1h0m-10 8h0m-2-1h0m0 1h0m2 1h0m-4-3h0m-15 2h0m3 1h0m-5 2h0m-2 0h0m0-5h0m-5 2h0m-1 3h0m-5-1h0m-4-2h0m5 0h0m-5-1h0m2 1h0m-5 0h0m0 1h0m0-2h0m-2 2h0m-4 2h0m-2 0h0m2-2h0m1 2h0m0-1h0m-8 0h0m-10-1h0m-1-2h0m-2 0h0m5 3h0m-11-3h0m-2 3h0m0 0h0m-4-1h0m-3 1h0m2-1h0m-333-3h0m-3 2h0m-7-1h0m1 3h0m-10-1h0m13 6h0m4 2h0m3-4h0m7 1h0m120 1h0m-3 2h0m22-5h0m7 1h0m4 2h0m167 1h0m5-2h0m3 0h0m3 1h0m-2-2h0m10 0h0m6 4h0m1 0h0m-3-2h0m7-2h0m-3 0h0m-1 2h0m4 0h0m-2-3h0m5 1h0m-1-1h0m6 2h0m-6 2h0m6 0h0m-6-3h0m9 1h0m-3 1h0m5-1h0m-5-2h0m2 2h0m9 2h0m-3-5h0m1 6h0m-2-2h0m8-2h0m2-1h0m-3-1h0m5 1h0m8 3h0m0 0h0m1-1h0m-3 1h0m2 1h0m0-1h0m3 0h0m-1 2h0m-2-2h0m0 2h0m5-1h0m8-1h0m-2 0h0m11-3h0m-11 7h0m-1-1h0m3-1h0m-10 2h0m-1-2h0m-2 5h0m2-4h0m0 0h0m-11 4h0m2-2h0m-7-1h0m0 3h0m-4-2h0m-1 0h0m2 0h0m-1-2h0m1-1h0m-3 5h0m5-2h0m-5 2h0m4-4h0m-6 0h0m-4 3h0m-1-1h0m1 2h0m0 0h0m-2-2h0m-9-2h0m0-1h0m0 1h0m2 3h0m1-4h0m-14 2h0m2 0h0m-1 2h0m-2 1h0m-2-3h0m-2 1h0m-15-2h0m-3 4h0m-152 1h0m1-1h0m0 1h0m-23-4h0m-2 3h0m-8-2h0m4 0h0m-2-1h0m-7 0h0m-13 2h0m-108 1h0m-3 1h0m-2-1h0m-7-3h0m2 3h0m4 1h0m-10-3h0m1 0h0m1-1h0m0 0h0m-3 4h0m-5-3h0m3 2h0m-3-2h0m-4 0h0m1 2h0m-1-2h0m-2 2h0m3 1h0m0 1h0m-1 1h0m12-1h0m12 0h0m81 1h0m12 2h0m7-4h0m8 6h0m7-1h0m-1 0h0m1-3h0m11 0h0m9 2h0m175 0h0m1-3h0m0 1h0m7-1h0m3 1h0m10 3h0m6-1h0m6 2h0m0-4h0m7 1h0m-1 1h0m-3-4h0m4 5h0m11-4h0m2-1h0m5 0h0m11 4h0m2 1h0m1-2h0m-1-2h0m12-1h0m0 1h0m-11 9h0m-2-1h0m-4-1h0m-7 0h0m3 1h0m-2-2h0m-1 1h0m0 4h0m0-1h0m1-5h0m-6 0h0m-2 3h0m-6 1h0m4-3h0m-2-1h0m-2 2h0m-7-1h0m1 2h0m-5 0h0m-5 2h0m2 0h0m-6-1h0m-8 1h0m2-4h0m2 4h0m-6-1h0m-11 0h0m3-3h0m-5 1h0m-6 4h0m-5-2h0m-132-2h0m-24 3h0m0 0h0m-5-1h0m-9 1h0m-12 0h0m-5-4h0m-3 0h0m-8 5h0m4-1h0m-5 0h0m1 1h0m-8-1h0m1 0h0m-10 0h0m0-1h0m-2 0h0m0 2h0m-5-1h0m-10 1h0m-5-2h0m-9 1h0m1 0h0m-8 1h0m-17-1h0m-6 1h0m-29-3h0m4 5h0m12 2h0m-4 1h0m10-4h0m-2 4h0m7-2h0m-4-3h0m3 1h0m6 0h0m2 5h0m0-3h0m-4-2h0m11 0h0m18 2h0m-1 3h0m6-6h0m-5 2h0m4 0h0m2 1h0m10-2h0m-1 2h0m3 0h0m-5 1h0m2-4h0m0 2h0m3 1h0m-3-1h0m2 2h0m-5 2h0m6-4h0m1 1h0m1 2h0m-2-3h0m6 2h0m-5 2h0m7-1h0m-1-5h0m9 1h0m-3 2h0m2 3h0m6-1h0m0-4h0m4 2h0m4-2h0m0-1h0m-3 4h0m5-1h0m4-2h0m-2 3h0m-2-1h0m1 2h0m1-1h0m-2-1h0m0-3h0m11 3h0m-3 2h0m8-2h0m-2-3h0m-1 2h0m-1 3h0m9-2h0m-1-1h0m8 3h0m-2-3h0m-3 0h0m9 1h0m2 2h0m-2-1h0m-1 1h0m-1-4h0m10 1h0m-4 3h0m2-2h0m3 2h0m-3 1h0m5-1h0m1-3h0m-2 0h0m13 2h0m7-3h0m13 3h0m133-1h0m-4-1h0m0 1h0m9 2h0m0-2h0m-2 3h0m4-5h0m2 2h0m0 2h0m1-2h0m-2 0h0m1-1h0m5 0h0m2-2h0m0 2h0m-3 3h0m3-1h0m5 1h0m2-4h0m3 2h0m0 1h0m0-4h0m6 3h0m0 3h0m-1 0h0m5-2h0m5 0h0m1-4h0m3 5h0m2 6h0m0 0h0m-6-3h0m-4 1h0m-5-3h0m-5 6h0m0-2h0m2 0h0m-4-3h0m-4 1h0m-2 1h0m-7 2h0m-10-3h0m4 0h0m-1-1h0m-14 4h0m0-2h0m-1 1h0m2 2h0m-7-3h0m-1 3h0m0-1h0m0-5h0m-4 4h0m-86 2h0m-4-3h0m-5 2h0m2-3h0m-8-1h0m2 1h0m-1-1h0m0 3h0m-18-3h0m0 3h0m-11-2h0m4-2h0m1 1h0m-7 4h0m-15 1h0m1-5h0m0 1h0m-5-1h0m-7 5h0m-1 0h0m1-5h0m-2 4h0m-1-2h0m-2 1h0m0 0h0m-3 0h0m2-2h0m0 3h0m4-1h0m-17 2h0m5-3h0m-3-3h0m-7 0h0m3 1h0m-2 2h0m-2 1h0m4-2h0m-2 4h0m2-5h0m-10 0h0m1 2h0m-2-2h0m-4 0h0m-8 2h0m1-3h0m2 2h0m-3 1h0m-1-3h0m-3 6h0m-5-3h0m-8-1h0m5 0h0m-5 3h0m4-3h0m-3 0h0m2 1h0m-8-2h0m2 0h0m-9 0h0m3 1h0m0 3h0m-3-1h0m-6 2h0m1-1h0m3-4h0m-3 5h0m-4-4h0m-4 3h0m6-2h0m-1 1h0m0-4h0m-5 1h0m-3 0h0m-5 1h0m-9 2h0m-2-3h0m-5 1h0m1 1h0m0 3h0m-9-2h0m-2-3h0m0 1h0m-5 0h0m-2 3h0m0-2h0m2-2h0m-2-1h0m0 5h0m1-2h0m12 4h0m12-1h0m12 4h0m1 0h0m0 1h0m1-1h0m5 1h0m0 1h0m14-1h0m0-4h0m-3 3h0m5 2h0m8-3h0m0 3h0m2-3h0m-1-2h0m7-1h0m0 5h0m-4-2h0m2 3h0m2 0h0m2-1h0m16-2h0m-5-1h0m17 4h0m-2 0h0m14-4h0m16-2h0m20 0h0m36 5h0m-4 0h0m3-3h0m-3-1h0m2 4h0m11-3h0m-1-1h0m3 2h0m-3 2h0m-1-5h0m4 2h0m1 0h0m-3 2h0m6-2h0m-1 3h0m72 0h0m3 0h0m-1-2h0m2-2h0m-2 3h0m-1-1h0m0 1h0m10-4h0m-5 3h0m4 0h0m-4 0h0m6-2h0m1 2h0m-1 0h0m1 3h0m3-5h0m-3 1h0m6-1h0m4 3h0m3 0h0m-1 0h0m2 1h0m4 0h0m-2 0h0m11-3h0m2 4h0m-1-5h0m5 3h0m1-2h0m0-2h0m-1 3h0m-2 1h0m8-3h0m-4 0h0m5 1h0m-5-1h0m3 1h0m-3 1h0m8 2h0m-2 0h0m3-2h0m-3-2h0m8 2h0m-2 2h0m1 0h0m10-5h0m4 0h0m-15 9h0m-1-1h0m-2 3h0m1-4h0m-2 1h0m-2 3h0m3-4h0m-1 3h0m3-3h0m-10 4h0m-1-1h0m0-1h0m-2-3h0m-7 6h0m-8-3h0m2-2h0m-15 0h0m4 1h0m-9 1h0m-1 3h0m0-3h0m-2 0h0m-4 1h0m2-1h0m-12-2h0m2 2h0m-7 1h0m-10 1h0m-28-1h0m0-1h0m-7 2h0m2-1h0m-14 1h0m-5 0h0m-2-2h0m4-3h0m-4 5h0m-7-3h0m-7-1h0m-11 5h0m-5-4h0m-56-2h0m-3 2h0m3-1h0m-3 2h0m1-2h0m1 3h0m-5 1h0m2-2h0m-10-3h0m2 3h0m1-1h0m-10 1h0m-1 0h0m4 0h0m-2 0h0m-2-2h0m-4 4h0m1-2h0m0-2h0m-7 5h0m-3-1h0m0-4h0m-10 0h0m2 0h0m-2 0h0m-2 2h0m1 1h0m-6 0h0m-3-2h0m-1-2h0m1 6h0m-8-1h0m-1-3h0m1 4h0m3-5h0m1 4h0m-10-4h0m4 1h0m-4 2h0m-5-2h0m-2-1h0m-5 3h0m22 2h0m21 0h0m103 0h0m-1 0h0m2 0h0m6 2h0m7-2h0m0 6h0m-4-6h0m5 3h0m1-1h0m11 3h0m-2-2h0m-3-1h0m1 3h0m-1-3h0m5 2h0m2-1h0m2 1h0m1 1h0m-1-3h0m7 2h0m-2-1h0m0 2h0m5 0h0m0-4h0m0 1h0m-2 0h0m3 3h0m7-1h0m2-2h0m5-1h0m-2 0h0m-2 0h0m2 1h0m4 3h0m7-2h0m0-1h0m2 1h0m6 3h0m7-2h0m-4 0h0m4 2h0m6-1h0m6-2h0m-3 0h0m4-2h0m-3 5h0m2-5h0m-3 2h0m3-2h0m6 2h0m-2 1h0m0 1h0m-2-1h0m0 0h0m3 1h0m-1-1h0m3 0h0m6-3h0m-5 4h0m4 0h0m-2-2h0m-2 1h0m7 1h0m11-2h0m6 2h0m4-4h0m-3 3h0m3-2h0m-1 2h0m4-4h0m5 1h0m1 5h0m7-5h0m-1 3h0m0-3h0m2 3h0m-3-1h0m1-1h0m3-1h0m-3 3h0m0 0h0m2-3h0m1 4h0m-4 2h0m3 3h0m-6-1h0m-6-2h0m1 3h0m-4 0h0m3-4h0m-4 5h0m-1-5h0m-4 1h0m3 2h0m-9 2h0m4-2h0m-4-2h0m-1 3h0m-6-3h0m4 3h0m1 0h0m-8-2h0m0 3h0m-3 0h0m-4-2h0m-2-1h0m2 4h0m-1-1h0m-7-5h0m4 2h0m-2 3h0m2-2h0m2 2h0m-2-1h0m0 2h0m-6-4h0m0-1h0m-6 5h0m1-2h0m0-3h0m0 0h0m0 3h0m-3-3h0m1 4h0m2 1h0m-4-5h0m-5 4h0m2 0h0m-3-3h0m3 2h0m1 1h0m0 0h0m-3-2h0m2 1h0m-1 1h0m-4 0h0m0-4h0m-1 0h0m1 1h0m-6 3h0m-1-4h0m-1-1h0m-2 3h0m2 2h0m2-1h0m-10-2h0m2 0h0m1 3h0m1-2h0m-6-2h0m-4 1h0m4 1h0m-2-1h0m-7-2h0m2 0h0m-3 1h0m4 1h0m-7 3h0m-5-3h0m1 1h0m0 0h0m-6-3h0m4 5h0m-18-1h0m0 1h0m-10 1h0m5-5h0m-3 1h0m3 2h0m-8-1h0m2 1h0m8 5h0m11 0h0m-4 1h0m8-1h0m0 1h0m5-3h0m-1 0h0m4 2h0m6 1h0m-4-3h0m1 0h0m0-1h0m6 2h0m-2-1h0m6 5h0m2-1h0m-2-5h0m5 6h0m-4-5h0m7 3h0m-1 1h0m-2-2h0m6-1h0m1 3h0m1-5h0m2 3h0m-2 0h0m9 3h0m-1-1h0m-1-5h0m1 2h0m7 0h0m-2 0h0m-3 3h0m0-2h0m2 2h0m5-4h0m4 3h0m-1-1h0m1 1h0m-1-3h0m4 1h0m1 0h0m0 0h0m-2 4h0m3-2h0m7 1h0m-4 1h0m1-3h0m-1-2h0m5 5h0m-1-3h0m6-2h0m-1 5h0m1-5h0m-1 3h0m6-2h0m-2 0h0m0-1h0m9 0h0m-1 1h0m1 0h0m6 1h0m-1 0h0m7 1h0m0-3h0m-3-1h0m1 2h0m8 6h0m-4 2h0m-1-1h0m-1 2h0m-9-4h0m-14 0h0m5 3h0m-3-4h0m0 2h0m-6 0h0m4 1h0m-1-1h0m-1 0h0m1 1h0m0 0h0m-1 3h0m-8-4h0m-5 2h0m0-2h0m-1-1h0m4 0h0m-3-1h0m1 1h0m-9 0h0m-1 4h0m-4 0h0m1 0h0m1-3h0m1 3h0m-1 0h0m-4-2h0m-8 3h0m2-4h0m-3-1h0m3 3h0m-6-2h0m-6 4h0m1-6h0m-1 3h0m-5-2h0m-1 4h0m4-1h0m-2-1h0m-7 2h0m-1-1h0m6 0h0m-8 0h0m1-3h0m-4-1h0m1 3h0m-2-2h0m0 4h0m-1-5h0m1 2h0m-2 0h0m-1-2h0m1 2h0m0-1h0m2 2h0m-15 1h0m-6-2h0m-1 2h0m31 3h0m1 0h0m-3 2h0m5-3h0m3 4h0m5-3h0m5 2h0m6-1h0m5 3h0m-2-1h0m-3 1h0m1-5h0m4 3h0m11-2h0m-4 4h0m0 1h0m1-4h0m3-2h0m6 2h0m-1 2h0m0 1h0m-1 0h0m1-4h0m1 2h0m-2 2h0m1-3h0m1 0h0m-4 2h0m1 0h0m7-2h0m-1 0h0m-1 3h0m3 0h0m-3-3h0m0 0h0m2 2h0m-1 0h0m-1 2h0m-1 0h0m3-3h0m1 1h0m-1-3h0m2-1h0m-4 1h0m8 4h0m2-4h0m1 3h0m-6-1h0m5 2h0m-5 1h0m5-2h0m3-3h0m0 2h0m1 3h0m-2 4h0m4-1h0m-7-2h0m-2 2h0m1 1h0m-2 0h0m1-3h0m1-1h0m1 1h0m2 1h0m-8 2h0m1-1h0m-4-1h0m3-2h0m0 1h0m-1 4h0m-2-3h0m4 0h0m1 2h0m-4-1h0m-3 2h0m0-3h0m-3-1h0m-1 3h0m2-2h0m3 1h0m-2-1h0m-8 0h0m1-1h0m1 3h0m-4-3h0m2 2h0m0-3h0m-3 1h0m-3 0h0m2 0h0m-3 0h0m3 0h0m-3 3h0m-5 1h0m-2-4h0m1 3h0m-3-3h0m-3 1h0m2-2h0m-2 1h0m0 1h0m0-2h0m-1 0h0m-10 3h0m3 2h0m-1-3h0m-6 0h0m2-2h0m-9 3h0" stroke="#f7b6d2" stroke-width="3.1" stroke-linecap="round" fill="none" opacity="0.86"/>
<path d="M463 911h0m-4-1h0m-2 2h0m4-1h0m-3 0h0m-4-2h0m-10 0h0m2 3h0m-1 0h0m-5-2h0m4-1h0m-9 2h0m-19 0h0m2-1h0m-5-2h0m-11 2h0m-15-1h0m-2 2h0m-6-2h0m1 0h0m4 1h0m-8-1h0m-2 2h0m-4 0h0m1-2h0m-9 3h0m0-1h0m-2 0h0m-6 0h0m0 0h0m4-2h0m-9 1h0m4 0h0m-6 1h0m-7-3h0m0 0h0m0 2h0m-2-2h0m2 1h0m-3 0h0m2 3h0m-5-4h0m-4 0h0m5 1h0m-15 0h0m-6-1h0m1 4h0m1-2h0m-3 1h0m2 5h0m6 2h0m0 0h0m2-1h0m-4-2h0m5 2h0m9-2h0m1 2h0m-3 0h0m4 0h0m4-5h0m9 2h0m-1-1h0m7 1h0m4 4h0m-1-5h0m2 4h0m6-5h0m-4 6h0m4-2h0m7-1h0m2-2h0m-1-1h0m11 1h0m4 3h0m-3 0h0m2-3h0m1 3h0m-1-1h0m6 1h0m2-2h0m2 0h0m3 3h0m-1-3h0m6 1h0m0 3h0m1-3h0m-3 1h0m3 0h0m-3 1h0m10-3h0m-1 1h0m2-3h0m0 6h0m3-2h0m0-2h0m6-1h0m1 0h0m0-1h0m-3 1h0m3 1h0m-2-1h0m-2-1h0m18 0h0m5 5h0m-1-1h0m6-3h0m-1 1h0m6-1h0m-2 1h0m5-1h0m79 8h0m-1 1h0m0 0h0m-1 1h0m-5-3h0m3 3h0m-3-3h0m-1 1h0m-9 3h0m-1-2h0m3 2h0m-4-3h0m-1 1h0m-3 1h0m1-3h0m-14 3h0m1-2h0m-14-1h0m3 1h0m-1 1h0m-6 2h0m4-3h0m-12 2h0m-4-2h0m-9-3h0m-9 4h0m1 0h0m0 0h0m1 0h0m-1 0h0m0 2h0m-6-3h0m0 0h0m-4 1h0m-4-2h0m1 1h0m1 0h0m3-3h0m-5 0h0m-5 6h0m1-1h0m0 0h0m2 0h0m-10 0h0m4-5h0m-10 2h0m3-2h0m-9 3h0m4-2h0m0 2h0m-2 1h0m-7-4h0m-7 2h0m4-1h0m-4 2h0m-1-3h0m4 3h0m-9 1h0m2 0h0m1 0h0m0 0h0m1-1h0m0 0h0m-7 0h0m-1-1h0m2 2h0m0-1h0m-2-1h0m-1 3h0m-5-2h0m-1-2h0m3 0h0m-5 5h0m-2-6h0m1 0h0m-8 5h0m0-1h0m1 1h0m-4-2h0m5 1h0m-1-1h0m-8 0h0m0-2h0m1 2h0m-3 2h0m-3-1h0m1-1h0m-2 0h0m0 1h0m-7-1h0m0-1h0m5 2h0m-6-3h0m4 5h0m-10-5h0m4-1h0m-11 3h0m-1 2h0m-10-5h0m-3 3h0m2 0h0m-5 1h0m5 1h0m-11 0h0m-2-2h0m-1 2h0m-3-4h0m0 4h0m-14 1h0m-1-3h0m-6 6h0m0 1h0m-3 2h0m11-4h0m6 3h0m-4-4h0m8 3h0m2 2h0m-2-2h0m8-1h0m0 1h0m2-3h0m7 4h0m0 0h0m0-1h0m2-1h0m3-2h0m3 4h0m0-4h0m5 4h0m1-2h0m9 3h0m5 0h0m5-5h0m0 0h0m-1 1h0m1 0h0m2 2h0m13-4h0m16 2h0m-3 2h0m1-1h0m6 2h0m1-3h0m0-1h0m6 4h0m-5-5h0m11 1h0m2 5h0m4 0h0m2-2h0m1-3h0m3 3h0m3 1h0m2-2h0m0-1h0m5 0h0m5-1h0m3 2h0m-3-3h0m1 2h0m4 3h0m4-1h0m-3 0h0m4-2h0m9-1h0m3 3h0m12-4h0m-2 5h0m-3-2h0m8-2h0m-1 0h0m3 4h0m7 0h0m-4-3h0m12 0h0m0-2h0m7 5h0m-2-1h0m5-3h0m-2 1h0m0 2h0m-1 0h0m-2-3h0m9 2h0m-2 0h0m3-2h0m0 0h0m6 2h0m4-2h0m3 1h0m6-2h0m-5 3h0m2-2h0m0 3h0m-2-4h0m7 6h0m-2-3h0m2 3h0m1-1h0m0-2h0m-2 0h0m7 0h0m5 1h0m28 7h0m-7-1h0m0 1h0m-8 1h0m4-2h0m-12 1h0m-7-4h0m-4 5h0m4-1h0m0 0h0m-3 1h0m-7-1h0m0-1h0m3-2h0m2-2h0m-13 3h0m-3-3h0m-2 1h0m3 0h0m-4 2h0m-4 0h0m4 1h0m-8 2h0m-1-3h0m1 1h0m-9-2h0m4 1h0m-3 2h0m0-5h0m3 2h0m-1-1h0m-7 0h0m3 1h0m-3 3h0m1-1h0m-6-2h0m-3 3h0m-12-4h0m-1 3h0m0 1h0m-9-1h0m2-3h0m-4 0h0m1 4h0m0-2h0m0-1h0m2 3h0m-8 1h0m-11 0h0m3-3h0m-3 2h0m-7 0h0m-2 0h0m-4-3h0m1 4h0m3-4h0m-2 0h0m1 4h0m2-6h0m-7 2h0m0-1h0m-16 5h0m0-6h0m5 5h0m-10 0h0m1-5h0m-3 3h0m-6 1h0m5-1h0m-3 3h0m0-3h0m-7 2h0m-4-1h0m-1 2h0m-8-5h0m3-1h0m1 0h0m-4 4h0m1 1h0m2-1h0m-7 1h0m1-1h0m-2 0h0m0-4h0m-3 5h0m1-4h0m1 2h0m-1 2h0m-16-1h0m0 1h0m0 1h0m2-3h0m-2-1h0m-1 2h0m-2-1h0m-6 2h0m-3-5h0m4 3h0m-1 0h0m-2-1h0m0-1h0m-6 3h0m0-4h0m1 4h0m-11 1h0m-1-1h0m-1-1h0m-1-3h0m3 5h0m1-1h0m-6 0h0m1-2h0m-1 0h0m-4 4h0m-6-3h0m5 3h0m-1-1h0m-3-4h0m0 4h0m-3-3h0m1 2h0m-12 0h0m-1-2h0m-9 3h0m2 1h0m-1-4h0m-9 1h0m2 0h0m2 1h0m0-1h0m-13-1h0m-5 3h0m-3-2h0m-1 0h0m9 5h0m3-1h0m1 0h0m9 1h0m2 1h0m0 1h0m2-3h0m2 2h0m19-1h0m3 0h0m6 1h0m-1-2h0m7-1h0m2 3h0m7 1h0m-5-2h0m1 4h0m6-3h0m7-3h0m2 1h0m-1 5h0m-1-1h0m9-5h0m4 5h0m3 1h0m9-5h0m-1 3h0m-2 0h0m4-1h0m11 0h0m0 1h0m1-1h0m6-3h0m-2 2h0m0 2h0m-2-4h0m15 5h0m7-2h0m2 0h0m6-3h0m-6 6h0m12-1h0m23-4h0m-1-1h0m-1 1h0m1 1h0m0 0h0m0 1h0m-3 0h0m11-1h0m-5-1h0m3 2h0m-4 0h0m8-1h0m3 3h0m-5-4h0m2-1h0m-1 3h0m8 0h0m1 1h0m-3-1h0m9-2h0m6 4h0m1-3h0m-3 0h0m6 4h0m1-1h0m5-2h0m2 2h0m2-4h0m3 5h0m2-5h0m-2 0h0m5 3h0m0 2h0m2-2h0m2 1h0m3-1h0m-2-3h0m11 3h0m-3-2h0m3 1h0m0-1h0m1 0h0m9 1h0m0 1h0m0 2h0m7-4h0m0 3h0m4-3h0m1 1h0m3-2h0m8 0h0m-1 1h0m1-1h0m-2 2h0m0-3h0m3 5h0m-3-2h0m7-2h0m14 1h0m-2-1h0m2 3h0m-2-2h0m29 9h0m-1-3h0m2 2h0m-5 0h0m-2 2h0m-1-1h0m3 0h0m-6 0h0m-7-1h0m3-2h0m-6 2h0m-10-4h0m0 1h0m5-1h0m-3 5h0m-6-2h0m-5-2h0m-3 4h0m3-3h0m-8 2h0m-1 0h0m-6 2h0m4-2h0m-3 0h0m-2-4h0m-1 1h0m-8 2h0m-2 0h0m2-1h0m-3-1h0m1 1h0m1 0h0m-8-1h0m2 1h0m-1 2h0m2 0h0m-3-1h0m-1 3h0m-10-2h0m5 1h0m-10 0h0m4-3h0m-5 3h0m5-1h0m-2-1h0m-1 0h0m-2 0h0m3 1h0m-5-3h0m-4 0h0m4 1h0m0-2h0m-1 1h0m1 4h0m-15-5h0m-2 2h0m2-1h0m-4 5h0m0 0h0m-2-4h0m2-1h0m-7 2h0m3-2h0m-5-1h0m2 6h0m-1-1h0m4-3h0m-1 3h0m1-1h0m-10 0h0m0-1h0m3 3h0m-2-1h0m-3 0h0m-3-4h0m0 4h0m0 0h0m-8 1h0m4-1h0m-5-3h0m0-2h0m-10 1h0m-2 2h0m1 2h0m-3-2h0m-6-2h0m-11 1h0m0-1h0m-6 0h0m-9-1h0m-23 0h0m-4 1h0m-10 0h0m-6 0h0m-6-1h0m-6 2h0m2 1h0m-3-2h0m-9 5h0m0-5h0m2 4h0m-10-5h0m2 1h0m-9 1h0m4-1h0m-22 4h0m2-4h0m0 2h0m0-2h0m-2 0h0m-3 0h0m-1 2h0m3-1h0m0 0h0m-2 3h0m-3-3h0m-2 1h0m-6 2h0m-5 1h0m-9-4h0m-4 3h0m2 0h0m-7-4h0m-11 2h0m-5 2h0m-6-3h0m-6 1h0m3 0h0m-3 5h0m1 3h0m3-2h0m1 2h0m0-2h0m3 1h0m0-4h0m0 3h0m3 0h0m-3 0h0m8 0h0m-2 2h0m-1 1h0m-1-5h0m7 1h0m7 3h0m3-1h0m4 0h0m8-4h0m0 1h0m5 0h0m0 3h0m4 0h0m2-1h0m5-1h0m1 1h0m-1-2h0m0 2h0m-1 2h0m0 0h0m7-1h0m-1 1h0m2-4h0m-5 1h0m5-2h0m-4 5h0m10 0h0m-4 0h0m0-1h0m4 0h0m21-3h0m109 5h0m2-3h0m4-2h0m-1 2h0m0 1h0m7-2h0m-2 3h0m10-2h0m-2-2h0m2 1h0m-1 1h0m1-2h0m-1 2h0m8-1h0m-4 0h0m-1 1h0m9 1h0m-4-1h0m1 1h0m1-4h0m8 0h0m3 2h0m7 1h0m-1 2h0m9 0h0m-3-5h0m9 5h0m-1 1h0m0-1h0m8 1h0m-3-2h0m2 2h0m1-2h0m1-1h0m0 0h0m11 2h0m6-1h0m5-3h0m-2 2h0m-2-3h0m2 3h0m8 1h0m-1-1h0m3-3h0m-1 3h0m6-3h0m-2 4h0m2-3h0m-3 1h0m2 4h0m6-4h0m1 2h0m-3-2h0m5-1h0m14 3h0m5 1h0m1-5h0m3 1h0m-6 4h0m3 1h0m3-4h0m3 0h0m-1 3h0m1-2h0m-1 3h0m0-5h0m10 2h0m-2-1h0m1 2h0m1-2h0m0 1h0m-4 0h0m4 0h0m-3-2h0m2 4h0m-2-4h0m2 1h0m-1 1h0m2 0h0m1 0h0m2 1h0m0-3h0m24 7h0m-3 4h0m2 0h0m-3-1h0m-11-1h0m6-1h0m-4 1h0m-8-1h0m2 1h0m-1 1h0m4-2h0m-5 0h0m5 3h0m-1-2h0m-2 1h0m-3-1h0m-11-3h0m5 5h0m0-1h0m-4-3h0m-7-1h0m4 3h0m-9-1h0m4 0h0m-1-2h0m2 0h0m-9 1h0m1 1h0m-1-2h0m0 5h0m2-2h0m1-3h0m-1 1h0m-9-1h0m-6 2h0m-1-3h0m-6 2h0m-2-1h0m-2 4h0m0-1h0m0-1h0m-1-1h0m-4-2h0m1 3h0m0-2h0m-8 2h0m-4 3h0m1-3h0m-5-2h0m4 0h0m-8 1h0m-1 2h0m3-3h0m-1 4h0m-1-4h0m-8 1h0m0 4h0m1-5h0m1 2h0m2 0h0m-7 3h0m-3-5h0m-6 1h0m2 1h0m3 3h0m-4-5h0m3 0h0m-1 3h0m-3-4h0m-4 3h0m-4-2h0m-1-1h0m0 3h0m0 2h0m1-1h0m-9-2h0m0 4h0m0-5h0m0 0h0m1 1h0m-2-2h0m0 3h0m0-1h0m3 2h0m-4-3h0m3 0h0m-5 2h0m1 0h0m1 2h0m0-5h0m-5 2h0m3 3h0m-9-4h0m5-1h0m-8 1h0m0 4h0m-3-2h0m-3 3h0m-1-2h0m-1 2h0m-1-4h0m5 0h0m-11 2h0m1 2h0m-3-5h0m-2 1h0m2 2h0m-1 2h0m1-3h0m-141-1h0m-9 3h0m1-4h0m-3 4h0m-7 0h0m3-1h0m-5 0h0m3 2h0m0-2h0m-7 2h0m2-3h0m2 1h0m-13 0h0m-3 2h0m3-6h0m-2 1h0m-1 0h0m-3 0h0m-4 5h0m-4-1h0m-6-1h0m0 1h0m0 0h0m-1-1h0m-5 2h0m-2-4h0m0 2h0m-6 1h0m2 4h0m0-1h0m2 2h0m0-2h0m-1 1h0m0 0h0m7 1h0m6-2h0m-3 2h0m-2 0h0m4-1h0m0 2h0m-2 1h0m-1-6h0m6 3h0m9 3h0m0 0h0m-1-5h0m6 1h0m1-1h0m10 2h0m0-2h0m-1 2h0m3 1h0m0-3h0m-1 2h0m6-1h0m-1 1h0m164 3h0m2-2h0m-3-3h0m4 2h0m7 2h0m9-3h0m3 2h0m0 0h0m-2-2h0m19 1h0m3 0h0m1-1h0m4 1h0m12-1h0m-3 0h0m3-1h0m3 0h0m9 0h0m-1 4h0m4-1h0m5 0h0m-1-3h0m0 2h0m7 1h0m0 2h0m0-2h0m-5-2h0m3 1h0m6 1h0m-1-2h0m5 1h0m4 3h0m5-5h0m3 1h0m9-1h0m7 5h0m-1 0h0m3-2h0m2 1h0m3-5h0m-3 5h0m6 1h0m-1-2h0m0-1h0m3 0h0m0 1h0m-1-4h0m5 5h0m2 0h0m-3-1h0m2-3h0m1 3h0m-2 1h0m10-1h0m4-2h0m1 0h0m-5-2h0m6 2h0m1-2h0m5 0h0m2 1h0m-1-1h0m1 2h0m22 8h0m-6-1h0m4 0h0m1 1h0m0 0h0m-10-3h0m-5 3h0m-1 0h0m3 0h0m-7 0h0m-1-1h0m2-1h0m-3 0h0m2 1h0m-4 1h0m4-2h0m0-1h0m-8 5h0m4-6h0m-11 4h0m2-3h0m1 0h0m-6 0h0m-2 3h0m-2-2h0m-3-1h0m1 3h0m-7-2h0m2 2h0m0 1h0m-3 0h0m-1-1h0m3-2h0m-1-2h0m-7 2h0m-1-2h0m-1 3h0m-2 1h0m-5-4h0m0 3h0m-2-3h0m-3 2h0m-3 0h0m-2 4h0m2-2h0m-5-1h0m2 1h0m-5 0h0m1-3h0m-12-1h0m3 2h0m-3 0h0m-1 2h0m1-2h0m-3-1h0m-1 0h0m-1 2h0m1 3h0m-10-5h0m-58 0h0m-6 2h0m1 1h0m-1-3h0m2 0h0m-1 0h0m-190 3h0m0-3h0m-10 2h0m1 0h0m-3-2h0m-4 1h0m0 3h0m-7-1h0m1 1h0m-1-1h0m-2-1h0m-8 1h0m1-2h0m0-1h0m-6 0h0m0 0h0m-7 0h0m1 3h0m1 2h0m-1 4h0m-2-2h0m7 4h0m0-4h0m1 0h0m3 0h0m11-1h0m-3 1h0m2 0h0m1-1h0m0 0h0m11 4h0m1-1h0m-4-4h0m6 2h0m7-1h0m270 0h0m7 2h0m2 2h0m-5-3h0m9 3h0m2-1h0m-3-3h0m5 1h0m8 4h0m3-4h0m8 2h0m4-3h0m-2 2h0m8 1h0m-3 1h0m7-4h0m-4 4h0m4-1h0m0 1h0m5 0h0m0-2h0m12 3h0m1-1h0m-4 0h0m5-3h0m-2 1h0m6 3h0m5-2h0m4-3h0m2 3h0m-1-1h0m5-1h0m2 0h0m-1 4h0m3-4h0m-3 4h0m1 0h0m-2-2h0m7-1h0m-1 2h0m12 6h0m-4 1h0m3-1h0m-16-1h0m0-1h0m5 0h0m-6-1h0m1 0h0m3 1h0m0 1h0m-7-2h0m-1 1h0m4-1h0m-5 0h0m4-2h0m-5 5h0m-4 1h0m3-3h0m-7 2h0m0-2h0m-7 2h0m-4-1h0m-2-4h0m3 0h0m-5 4h0m-4-1h0m1 0h0m0 1h0m1-1h0m-10 2h0m-3-4h0m-3 1h0m-3 0h0m-15 3h0m-1-4h0m-5 1h0m3 1h0m1-2h0m-2 3h0m-2-1h0m-1-2h0m-3 1h0m-1-1h0m-295 4h0m0-4h0m-6 5h0m-1-1h0m-5-1h0m-5-1h0m0 1h0m-1-2h0m1 3h0m-5-3h0m-19 0h0m2 3h0m1 0h0m-1-1h0m-2-1h0m1-1h0m0 10h0m14-1h0m5-4h0m1 0h0m6 4h0m1-1h0m1-1h0m6 2h0m325-1h0m2 2h0m6-4h0m4 2h0m3 1h0m-3-4h0m6 4h0m8 1h0m-3 0h0m7-2h0m2-2h0m7 4h0m7-5h0m-5 0h0m8 5h0m-3-3h0m11 0h0m-2 2h0m0-1h0m0 0h0m2 0h0m12 2h0m1-6h0m14 9h0m2 2h0m-10-1h0m-7-4h0m1 1h0m-10 1h0m-1 3h0m0-3h0m0-1h0m0 4h0m-3 1h0m-2-3h0m-5 0h0m0 0h0m2 0h0m0 1h0m-2 2h0m-2-3h0m-3 0h0m1-3h0m-1 4h0m-1-3h0m2 5h0m-7-2h0m1-1h0m-6-2h0m-2 5h0m-1-5h0m0 4h0m0-4h0m1 2h0m2-3h0m-2 2h0m-5 0h0m1 1h0m-11 1h0m1-2h0m0-2h0m-6 2h0m-7-2h0m-4 3h0m2-2h0m-330 1h0m-4 2h0m-9 0h0m0-2h0m1 1h0m0-1h0m0 0h0m-5 1h0m-1 2h0m-5-3h0m-2-1h0m-4 1h0m-2-2h0m0 1h0m2 11h0m13-6h0m357 2h0m-1 2h0m0-3h0m9 0h0m10 4h0m-1-5h0m2 3h0m-2-2h0m0 0h0m6 0h0m7 2h0m-2-2h0m1 1h0m-1 2h0m7 2h0m10-3h0m-1-2h0m1 3h0m3 0h0m1-2h0m2 1h0m5 0h0m-4-1h0m5 3h0m0-1h0m1-1h0m0-1h0m4 1h0m10 2h0m12 7h0m-5-1h0m-7-2h0m0 2h0m-1-2h0m1-3h0m-2 0h0m-3 1h0m-1 1h0m-2 1h0m-2-1h0m0 4h0m-6-5h0m1 1h0m-7 2h0m0-1h0m-2-3h0m-9 3h0m1 2h0m-5-1h0m0-3h0m4 3h0m0 1h0m-1-4h0m-10 0h0m2 3h0m-7-2h0m2 4h0m-4-1h0m-4-4h0m1 1h0m0 0h0m-3 1h0m3-1h0m-14-2h0m0 2h0m-360 0h0m-1 2h0m-2-3h0m0 2h0m0 0h0m-13 2h0m1-4h0m0 5h0m1-1h0m-11-2h0m1 1h0m-1-3h0m-1 4h0m-1 4h0m3 1h0m10 0h0m5-1h0m-4-1h0m2 2h0m8-3h0m373 2h0m-2-2h0m1-1h0m8 5h0m-5-2h0m2-2h0m5 2h0m16-2h0m-4-1h0m1 1h0m3 2h0m-3-1h0m1 3h0m2-3h0m11 1h0m-4 2h0m9-3h0m-4 2h0m2 2h0m5 0h0m8-3h0m17 3h0m-1-1h0m5 2h0m6 0h0m-4 5h0m-4-1h0m-1 0h0m-11-3h0m-2 0h0m-6 2h0m-1-1h0m-17-3h0m-6 3h0m-3 0h0m-2-2h0m-5 5h0m-2-2h0m3 1h0m-7-3h0m-389 0h0m-2-2h0m-13 0h0m0 4h0m-2-3h0m5 2h0m-5 6h0m0 0h0m-1 2h0m5-3h0m-2 1h0m-1 3h0m3-4h0m-4 4h0m2-5h0m6 2h0m1 0h0m-1-2h0m4 3h0m0-3h0m402 4h0m2-3h0m-2 1h0m11 2h0m13 0h0m0-1h0m9-4h0m5 1h0m2 2h0m1-2h0m0 3h0m0-1h0m7 2h0m-5 1h0m0-5h0m0 4h0m9-2h0m3-2h0m8 4h0m5 5h0m-2-1h0m-5-2h0m5 4h0m-3-4h0m1 4h0m1-2h0m-8-1h0m-1 0h0m2-1h0m-4 1h0m-3 2h0m-6-2h0m-5 4h0m-3-2h0m4-2h0m-6 1h0m0 2h0m-5-1h0m-3 0h0m-5 1h0m-7-4h0m0 4h0m-3 0h0m-5-1h0m1-2h0m-4 2h0m-1 0h0m-2-2h0m-404-1h0m-5 0h0m-5 4h0m-7-1h0m-8 3h0m13 3h0m7-2h0m-3 1h0m2-1h0m-4 2h0m6-3h0m412 0h0m2 2h0m0-2h0m10 4h0m5 0h0m7-2h0m-3 2h0m8 0h0m-2-2h0m3 2h0m1-4h0m0 2h0m0-2h0m3 0h0m-3 4h0m17-4h0m0 0h0m6 4h0m5-5h0m-2 3h0m3 2h0m0-2h0m0 1h0m-3-4h0m3 2h0m-1-2h0m10 3h0m-2-1h0m1 9h0m1-2h0m-1 2h0m1 1h0m-7-4h0m4 0h0m0-1h0m-14 3h0m-5-4h0m-3 6h0m0-5h0m-4-1h0m2 6h0m-4-2h0m-5 2h0m-3-2h0m1 0h0m-6 0h0m3 2h0m0-4h0m-4 4h0m1-3h0m-12 2h0m6-2h0m-12-3h0m-423 2h0m0 3h0m-1-5h0m1 3h0m1-2h0m-8 1h0m3 0h0m0 1h0m-7 1h0m-5 0h0m1 0h0m-1-3h0m7 8h0m-4-3h0m10 2h0m438 2h0m4-4h0m-4 5h0m11-1h0m-2-4h0m1 3h0m11 1h0m4-3h0m0 2h0m-1 0h0m8 1h0m4-2h0m-4 1h0m6 0h0m3-1h0m-3 2h0m4-4h0m-3 2h0m4 2h0m4-1h0m-3 1h0m1-1h0m-2 3h0m6-1h0m1 1h0m1 3h0m-5 3h0m-7-1h0m-2-3h0m3 2h0m-4 0h0m0 2h0m-5-2h0m-1-1h0m-7-2h0m-2 2h0m1 1h0m-6-3h0m-1 4h0m3-4h0m-5 4h0m-7 0h0m6-2h0m-1 3h0m1-1h0m-7-4h0m-4 1h0m-442 0h0m1-2h0m0 1h0m-10 5h0m2-4h0m-3 8h0m-1-2h0m7 4h0m-1-2h0m451-1h0m-2-3h0m2 4h0m-1-3h0m1 2h0m12-1h0m-2 3h0m-1-2h0m0 2h0m1 0h0m-1-2h0m2-1h0m13 3h0m-1 0h0m1-4h0m5 5h0m3-4h0m6-1h0m0 3h0m-1-1h0m2 1h0m-1-3h0m0 1h0m6-1h0m9 4h0m0-1h0m3-1h0m0 6h0m-6-3h0m-7 2h0m4 2h0m-8-1h0m0 3h0m2-5h0m-6 0h0m-6-1h0m-9 4h0m0-2h0m0 3h0m0-5h0m-3 5h0m-10-1h0m5-1h0m-5 3h0m-5-5h0m-462 7h0m9 2h0m1-1h0m2-1h0m458 4h0m3-3h0m4 0h0m0 1h0m-1-3h0m-1 2h0m3 2h0m2-2h0m1 1h0m7-3h0m14 0h0m-3 0h0m-1 4h0m8-2h0m-2 1h0m7 2h0m3-4h0m12 8h0m0 2h0m0-1h0m-1 1h0m-6-4h0m-9-2h0m3 6h0m-5-4h0m0 3h0m-9 0h0m3-5h0m-4 6h0m1-5h0m-7 0h0m4 4h0m-5-4h0m5 0h0m-9 0h0m3 0h0m-1 2h0m-8 2h0m1-5h0m-5 3h0m2 3h0m-2-3h0m-7 1h0m-1-2h0m0 1h0m-464 0h0m4-3h0m-14 3h0m-2-1h0m1 9h0m15 0h0m-1-3h0m3 1h0m460 0h0m0 3h0m6-2h0m-2 1h0m0 0h0m10-1h0m-2-1h0m4 0h0m3 3h0m10 0h0m2-2h0m5-1h0m1 0h0m5-2h0m4 4h0m1-1h0m5-4h0m2 2h0m1 2h0m-1 1h0m1 6h0m-6 0h0m-6-4h0m0-1h0m-3 1h0m3 0h0m0 0h0m-11 5h0m6-4h0m-2 3h0m0-5h0m-8 6h0m1-2h0m0 1h0m-7-3h0m2 1h0m-3 0h0m-5-2h0m1 0h0m-2-1h0m-6 0h0m0 4h0m-2-1h0m-2-3h0m-3 1h0m0 5h0m-1-1h0m-469-3h0m-7 0h0m-2 3h0m-4 3h0m1 1h0m-1-3h0m5 5h0m482 0h0m0-3h0m-3 2h0m10-4h0m-1 1h0m-3 0h0m9 3h0m3-1h0m5-1h0m-3 2h0m6-1h0m1-2h0m1 3h0m3 1h0m-2-4h0m1 5h0m0-6h0m6 3h0m3 1h0m-1-1h0m-2-2h0m4 3h0m-3-3h0m3 2h0m3-2h0m3 2h0m1 1h0m3-2h0m-3 1h0m6-3h0m1 1h0m-4 7h0m0 3h0m-5-2h0m2 3h0m-1-4h0m-1 2h0m0-2h0m1 2h0m-4 0h0m-8-1h0m1-1h0m-1-1h0m-1 3h0m-1-2h0m-11 0h0m-2 2h0m-4-3h0m-1 2h0m-4 1h0m0 2h0m1-6h0m-2 3h0m-1 3h0m1-4h0m1 1h0m-477 1h0m-17-4h0m20 7h0m-1 1h0m469 3h0m0-1h0m3 0h0m4-1h0m-3 0h0m-1-3h0m8 2h0m2-1h0m2-1h0m0 2h0m2 2h0m-1-1h0m1-2h0m5 5h0m-2-4h0m3 0h0m-2 3h0m6-1h0m1-1h0m-1 1h0m0-4h0m-1 3h0m9-2h0m-4 4h0m11-3h0m-1 2h0m1-1h0m2 1h0m0 1h0m0 0h0m1 1h0m2-3h0m0 1h0m1 1h0m-1-1h0m-7 2h0m2 4h0m-9 0h0m-7 1h0m1-3h0m-6 2h0m-2 2h0m-1-4h0m-2-2h0m1 0h0m1 4h0m-3 0h0m-8-1h0m2-2h0m-1 1h0m0 3h0m1-3h0m-9-2h0m0 1h0m-467 1h0m-19 8h0m4-1h0m4 1h0m8-3h0m4 4h0m465-2h0m7 2h0m-4 0h0m1-2h0m0 0h0m2 3h0m-3-5h0m0 4h0m2-4h0m7 4h0m1-2h0m-2-3h0m3 3h0m0-2h0m6 1h0m-2 2h0m3-3h0m9 3h0m7-1h0m-4-1h0m5 0h0m1 1h0m3 2h0m9-1h0m-12 8h0m1-5h0m2 0h0m-7 3h0m-3 1h0m-2-1h0m-3 0h0m-1-2h0m4 1h0m-3-1h0m2 3h0m-6 1h0m-1-2h0m-1 2h0m1-5h0m-5-1h0m2 3h0m1 2h0m-1 0h0m-2-1h0m-4 0h0m-3 1h0m-2-1h0m-4-4h0m-3 3h0m0 0h0m-471 3h0m2-4h0m-2 1h0m-7-1h0m-9 3h0m-2 6h0m3-3h0m8-1h0m0 3h0m3-2h0m-1 1h0m6-2h0m0 0h0m-2 3h0m1-2h0m2-1h0m469 2h0m4 0h0m0-3h0m1 1h0m4 4h0m14-4h0m-3 4h0m10 1h0m1-4h0m3 2h0m8-3h0m-4-1h0m-1 1h0m13-1h0m-4 7h0m-2 3h0m1 2h0m3-5h0m-3 2h0m-5 3h0m1-1h0m2-1h0m-12 1h0m-5-1h0m-11-3h0m3 1h0m-3 0h0m0-1h0m-13 3h0m-475-4h0m2 5h0m-1-2h0m4-1h0m-5 2h0m-1-2h0m-7 2h0m-4-3h0m-1 0h0m-3 6h0m7 0h0m-1 2h0m9-1h0m-1 2h0m2-1h0m-1 2h0m5-1h0m0-3h0m1 4h0m-4-1h0m9-3h0m464 5h0m-2-1h0m3 0h0m-1-5h0m0 4h0m19-2h0m-1 0h0m4 4h0m7-5h0m1 5h0m-1-6h0m9 1h0m1 1h0m-3 0h0m7 3h0m3-4h0m1 9h0m-1-4h0m-5 1h0m1 1h0m-12-2h0m-6 2h0m5 0h0m-10-1h0m4 0h0m-2 4h0m-6 0h0m-5 0h0m-2-1h0m4-2h0m-4 0h0m-8 2h0m-464 0h0m-9 1h0m1 0h0m3-5h0m-6 5h0m0-2h0m-10-1h0m-4-1h0m4 6h0m13-1h0m0 2h0m5 1h0m1 1h0m0-4h0m5 4h0m462 2h0m1-3h0m-1 2h0m2-5h0m9 3h0m-1 0h0m0-3h0m6 4h0m6-2h0m-4 3h0m1-3h0m6 3h0m11-4h0m4 3h0m-2-3h0m9 8h0m-6-2h0m5 0h0m-10 4h0m-4-3h0m-8 2h0m3-1h0m-4 1h0m0 2h0m-6-4h0m-3-1h0m-5 0h0m-2 4h0m-1-2h0m-5-1h0m-2 0h0m-1 0h0m-3 4h0m-453-2h0m-5-4h0m1 3h0m-6-3h0m5 6h0m-8-1h0m-8-2h0m3 0h0m10 5h0m8-1h0m456 1h0m-1-1h0m-1 1h0m5 0h0m-1-1h0m6 1h0m10-1h0m7 3h0m3-1h0m-2-1h0m0 3h0m17 0h0m-2-3h0m2 1h0m1 6h0m0-2h0m1 0h0m-4 3h0m1 0h0m0-3h0m1 3h0m0-4h0m-9 3h0m-6-3h0m-6 2h0m3 2h0m-9-2h0m-2 2h0m-10-1h0m1 0h0m-10 1h0m-455 0h0m-4 0h0m-3 0h0m-2-1h0m-7 3h0m12 1h0m1 2h0m458-2h0m-2 4h0m4 0h0m1-1h0m2-1h0m3-2h0m-1 4h0m5 0h0m3 0h0m14-3h0m0 4h0m-5-1h0m6-1h0m4 1h0m2-3h0m13 0h0m6-1h0m-1 1h0m-18 9h0m4-4h0m-6-1h0m-9 6h0m0-5h0m5 2h0m-8 0h0m-3-1h0m2-1h0m-6 2h0m3-1h0m-3 1h0m0 0h0m-1-2h0m-3-1h0m-1 4h0m0-2h0m-9 2h0m0-4h0m-5 5h0m1-2h0m0 1h0m-458-3h0m-4 1h0m-1 2h0m0-3h0m0 1h0m-1 2h0m-2 2h0m-1 2h0m463 3h0m-1 1h0m3-3h0m6-2h0m2 2h0m5 0h0m2 0h0m6-2h0m1 1h0m-2 2h0m5 2h0m-1-6h0m4 5h0m4-2h0m-3 2h0m5 0h0m7-5h0m4 0h0m0 0h0m-1 1h0m-2 0h0m8 7h0m-5-1h0m0 5h0m-4-2h0m1 0h0m5 2h0m-7-2h0m-3-2h0m-8 1h0m-3 1h0m-2-1h0m0-2h0m2 5h0m-7-1h0m2 1h0m-1-4h0m0 3h0m1-1h0m0 1h0m-6-3h0m-4 3h0m-1-1h0m-5 0h0m-6-4h0m1 2h0m-3-1h0m0 0h0m-446-1h0m-5 3h0m1-2h0m3 5h0m1 0h0m2 1h0m439 5h0m7-4h0m14 3h0m1-4h0m5 4h0m3 1h0m4-3h0m11-2h0m-2-1h0m10 1h0m2 1h0m-3-2h0m-3 1h0m3 3h0m3 7h0m-5-1h0m1 1h0m-12-1h0m2-3h0m-6 0h0m-1 0h0m-7 1h0m-2 3h0m1-4h0m-5 0h0m0 1h0m1 1h0m-3 1h0m-4-3h0m3 2h0m-14 0h0m-6-2h0m0 4h0m-413 1h0m-8-2h0m-9 1h0m1 0h0m-4 4h0m2 0h0m-2-3h0m8 3h0m5 2h0m-1-4h0m-1 4h0m5 1h0m1-2h0m1-1h0m412-2h0m-1 3h0m7 0h0m-5-2h0m0-2h0m-1 1h0m13-1h0m11 1h0m6 2h0m-1 2h0m-4-1h0m1-3h0m2 4h0m5-4h0m7 2h0m5 2h0m6 0h0m-1-1h0m-1 5h0m0-1h0m0 2h0m0-3h0m-5 0h0m0 3h0m-7 0h0m4-3h0m-1 1h0m-3 2h0m0-1h0m-2 3h0m1-2h0m-9 0h0m0-4h0m-20 0h0m-4 2h0m0 1h0m-3 1h0m-1-3h0m-8 4h0m1-4h0m-410 0h0m3-1h0m-2 1h0m-9 2h0m0-3h0m-4 2h0m0 5h0m-1 4h0m4-3h0m1 4h0m5-3h0m0 3h0m2-5h0m3 1h0m7 1h0m-5 1h0m400-1h0m14-2h0m-4 4h0m-1-1h0m5-1h0m2 2h0m2-5h0m5 2h0m2 2h0m4-1h0m5 2h0m0-5h0m4 0h0m0 5h0m0 0h0m1-1h0m9-4h0m-3 1h0m0 0h0m1 0h0m-1 11h0m3-4h0m-4-2h0m1 1h0m-1 1h0m-2-1h0m0 5h0m0-1h0m0-3h0m-9 0h0m2-1h0m-9 4h0m4-5h0m-4 1h0m-1 2h0m-3 3h0m-6-4h0m1 2h0m0-3h0m-13 2h0m-4 0h0m-4 0h0m-12 1h0m5 1h0m-6 0h0m-377-4h0m-1 5h0m-1-5h0m0 4h0m-8-1h0m-5-3h0m2 4h0m-2-1h0m2-1h0m0-2h0m-10 1h0m3 1h0m0 0h0m-1-2h0m8 5h0m386 3h0m4 2h0m-1-4h0m5 5h0m8 0h0m-5-1h0m12-2h0m-4 0h0m7-2h0m-1 1h0m-1 3h0m6-2h0m7-2h0m5 4h0m3 0h0m-2-4h0m-1 1h0m7-1h0m0 4h0m9-1h0m2-2h0m0 9h0m3 0h0m-10-2h0m2 0h0m-3 3h0m0-4h0m1 3h0m-15-2h0m-1 2h0m1-3h0m-3-1h0m-5 0h0m2 1h0m-7 0h0m-11 3h0m3 0h0m-1-2h0m-3 0h0m-2 3h0m-6-2h0m-6-2h0m-4 1h0m-1-1h0m-1 3h0m4-1h0m-2-1h0m3 0h0m-11-1h0m5 2h0m-11 0h0m-1 1h0m-333-3h0m0 4h0m0-2h0m-5 1h0m-8-5h0m4 1h0m1 0h0m-10 10h0m10-1h0m-4 1h0m-1-2h0m0 2h0m9-1h0m-1 0h0m-3 1h0m0-2h0m2 2h0m3-1h0m6 2h0m-2 0h0m-1-2h0m8 0h0m1 2h0m120 0h0m0 0h0m8-1h0m5 0h0m185-1h0m-3 1h0m10-4h0m-1-1h0m1 1h0m3 5h0m0-5h0m5 3h0m-1 2h0m1-6h0m1 3h0m-2 2h0m10-3h0m-1 3h0m0 0h0m3-4h0m3 2h0m0-2h0m1 0h0m-2-1h0m-2 2h0m4 3h0m3-2h0m0 0h0m-1 0h0m4 1h0m2 0h0m3-1h0m-1-1h0m-1-1h0m1 2h0m-1 1h0m7-2h0m-3-1h0m2 4h0m2-3h0m-1-1h0m-1 0h0m0 0h0m1 0h0m2 4h0m3-3h0m0 0h0m2 1h0m6 0h0m7 2h0m1-3h0m-3 1h0m1 1h0m4-4h0m0 2h0m7 3h0m11-5h0m-13 6h0m-4 4h0m3-3h0m-4 3h0m-18-1h0m2 3h0m-4-3h0m3 3h0m1-4h0m0 2h0m-4-1h0m-2 0h0m-2 3h0m0-3h0m0-1h0m4 2h0m-6-3h0m2 0h0m-7 1h0m1 1h0m3-1h0m-2-1h0m-1 1h0m-6 1h0m-2-1h0m5 0h0m-11-2h0m-2 3h0m-6-2h0m-3 3h0m-1-4h0m-6 0h0m-9 3h0m-1 2h0m-149 1h0m-6-1h0m3-1h0m-4 2h0m0 0h0m-28-3h0m-2 1h0m2-2h0m-21 3h0m-4-2h0m-113-3h0m-6 2h0m1 2h0m-1 0h0m1 2h0m-5-1h0m-1-4h0m-6 5h0m0-4h0m-3 2h0m1 4h0m9-2h0m2 1h0m0-1h0m8 0h0m2 2h0m0 3h0m4-5h0m-2 4h0m88-2h0m21 0h0m2 2h0m-2 1h0m20 1h0m4-2h0m3-1h0m19-2h0m15-1h0m-4 2h0m7 0h0m138-1h0m14 4h0m-2-1h0m11-3h0m4 2h0m1 0h0m0 0h0m22 1h0m1-4h0m1 4h0m-2-2h0m9 2h0m-1-1h0m12 3h0m1-3h0m-2 6h0m0 2h0m2-5h0m-9 0h0m0 4h0m-3 1h0m1-2h0m5-2h0m-9 5h0m-8-4h0m-8 2h0m-7-2h0m-3 3h0m2-3h0m1 2h0m-7 1h0m3-2h0m-10-1h0m-7 0h0m-7 4h0m-2-1h0m-11 0h0m-133 0h0m-21 1h0m-2-1h0m-10 1h0m-5-6h0m-15 0h0m-11 2h0m-5 3h0m2 0h0m-1 1h0m-12 0h0m3-1h0m-9 0h0m-1 1h0m-1-1h0m-10 0h0m-10 1h0m-5 0h0m1-2h0m-20 1h0m-7-1h0m-3 1h0m-3 0h0m-2-1h0m-6 0h0m4 1h0m-18-1h0m-3 0h0m-1 1h0m2 2h0m19-1h0m0 4h0m-3-3h0m0 3h0m1 1h0m4 1h0m-5-2h0m4-2h0m3-1h0m1 3h0m20-2h0m2 0h0m6 3h0m1-3h0m1 2h0m9-3h0m-5 1h0m0 3h0m6 1h0m8-5h0m2 4h0m-1 1h0m0-1h0m-2 1h0m4-3h0m1-1h0m0 2h0m2-3h0m0 4h0m-2 0h0m4 0h0m-5-3h0m11 0h0m-2-1h0m0 0h0m4 4h0m4-4h0m-4 0h0m3 5h0m4-5h0m4 1h0m3-1h0m2 2h0m-3 1h0m-1-1h0m7 0h0m1-2h0m3 1h0m-4 4h0m8 0h0m18-1h0m-3-3h0m3 4h0m-1-3h0m1-1h0m0-1h0m3 4h0m0-5h0m8 1h0m1 4h0m4-3h0m0 0h0m12 4h0m9-5h0m-4 1h0m8 2h0m19-1h0m6 3h0m103-3h0m-5 1h0m11-2h0m3 2h0m2 0h0m7-4h0m-1 2h0m-1-2h0m1 3h0m0 1h0m-2 2h0m9-4h0m-1 0h0m1 1h0m-4 3h0m10-4h0m-2-2h0m-3 5h0m4-4h0m-1 3h0m1 0h0m1 2h0m3-1h0m5-2h0m1-1h0m4 1h0m15-2h0m24-1h0m-25 10h0m1-1h0m-4-2h0m-2 0h0m-2 1h0m0 2h0m-6 1h0m4-3h0m1 1h0m-11-1h0m1 1h0m3 1h0m-3-2h0m-2 2h0m1-1h0m4-2h0m-3 0h0m0-1h0m3 2h0m-4 4h0m2-6h0m-2 2h0m-1 1h0m-11 3h0m-2-2h0m-5-1h0m3 2h0m2-3h0m-4 1h0m-6 0h0m4 3h0m-10-3h0m4-1h0m-4 2h0m-4-1h0m-2 1h0m-1-1h0m3 1h0m-8 2h0m1 0h0m2-2h0m0-2h0m-6-2h0m-85 6h0m-2-1h0m-13-3h0m1-2h0m-2 1h0m-20-1h0m-8 3h0m0 3h0m1-2h0m2 1h0m-24-1h0m-9-1h0m1-1h0m-2 3h0m3-5h0m-5 2h0m-3 1h0m2-1h0m1 0h0m1 0h0m-6-2h0m-2 1h0m3 3h0m-6-1h0m-1 0h0m-6-1h0m-2 3h0m-2-2h0m2 2h0m0 0h0m-1-4h0m2 4h0m-4-3h0m2 4h0m-5-5h0m-3-1h0m-2 2h0m1 0h0m-1-1h0m-2 2h0m2-1h0m-5-1h0m-2 4h0m1-3h0m-5-2h0m-5 5h0m4-5h0m-10 6h0m5-1h0m-10-4h0m3 2h0m-6-3h0m-3 3h0m3-3h0m-1 2h0m-7 0h0m-6 0h0m4 4h0m-3-5h0m-2 3h0m-4-1h0m1 0h0m0 0h0m-4-2h0m-5 3h0m-6-2h0m3-2h0m-6 4h0m1-3h0m-5-1h0m-11 3h0m-4-2h0m-1 3h0m4-2h0m-5 1h0m-3-2h0m-3 3h0m1-1h0m-2 0h0m6 3h0m-5 0h0m1 0h0m10 1h0m13 0h0m14 3h0m4-2h0m-1 0h0m10 4h0m-2-1h0m10 1h0m8-3h0m3 3h0m2-3h0m7 1h0m13 1h0m12-5h0m2 3h0m-1-3h0m7 6h0m3-3h0m0 0h0m8-2h0m3-1h0m12 0h0m20 0h0m28 1h0m0 4h0m10-1h0m-3 1h0m6-4h0m3 4h0m-3-1h0m-1-3h0m0 0h0m1 4h0m-1-1h0m10 1h0m65 0h0m5-2h0m3 1h0m-2-2h0m0 3h0m0-3h0m6 4h0m3-2h0m2-1h0m4-2h0m6 3h0m-1 0h0m5-3h0m7 3h0m1 0h0m4 2h0m7-5h0m-6 2h0m4 2h0m1-2h0m0 0h0m4 1h0m-3-2h0m2-1h0m2 1h0m5 4h0m0-3h0m-2-1h0m0-1h0m1-1h0m7 5h0m12-5h0m-12 10h0m-2-2h0m-1-2h0m3 4h0m0-2h0m-2-1h0m-5 3h0m3-4h0m-2 3h0m-1 0h0m1-2h0m0 1h0m1 1h0m-2 0h0m-6 2h0m-5-4h0m-2 4h0m2-2h0m-5 2h0m-4-1h0m-5-3h0m-3 1h0m-2 1h0m3 1h0m-13 1h0m-4-5h0m-21 3h0m1 0h0m-5 2h0m-19 0h0m-12 1h0m-10-4h0m-5-1h0m0 0h0m-7 1h0m6-1h0m-1 1h0m-2 4h0m1-5h0m0 2h0m0-2h0m0 1h0m-7 2h0m3-1h0m-2 2h0m-5-4h0m-1-1h0m1 5h0m-9-2h0m-2-3h0m0 3h0m-3 0h0m-7 1h0m-63-1h0m-3-2h0m-3 4h0m-5-4h0m4 5h0m1-3h0m-9 1h0m-18-1h0m-2-1h0m5 2h0m-3 2h0m-4-1h0m0-4h0m-1 0h0m1 0h0m-4 4h0m5-4h0m0 5h0m-9-2h0m-3 0h0m-2-3h0m-5 1h0m-4-1h0m5 0h0m-3 1h0m-2 0h0m3 2h0m-7 0h0m3-2h0m-8 0h0m-2 2h0m3-3h0m-4 1h0m3 1h0m-9-3h0m5 2h0m-9 4h0m4 0h0m17 0h0m16 1h0m39-1h0m61 6h0m15-5h0m11 2h0m7 2h0m0 1h0m5-2h0m-1-2h0m2 1h0m6 0h0m-1 3h0m3-3h0m-4 1h0m0 2h0m1-4h0m0 2h0m3 1h0m2 1h0m4-3h0m2 2h0m10-4h0m-6 4h0m0-5h0m2 5h0m8 0h0m-4-1h0m4-3h0m-3 3h0m2 1h0m4-3h0m3 3h0m-2-3h0m0 3h0m6 1h0m0-1h0m3 0h0m1-4h0m9-1h0m1 1h0m-1 2h0m1-2h0m5 3h0m1-3h0m3 5h0m5-1h0m-6-3h0m5 3h0m6-3h0m1 2h0m-4-1h0m0 0h0m3 2h0m-5-1h0m6-2h0m2 3h0m2-1h0m2 0h0m3-1h0m0 1h0m4-2h0m8 4h0m3-2h0m-5 1h0m6-4h0m5 2h0m5 0h0m6 0h0m-1 1h0m-3 0h0m4-1h0m0 0h0m-2 0h0m-2 2h0m7-4h0m-2-1h0m-2 10h0m1 0h0m-4-3h0m-5 4h0m-1 0h0m4-1h0m1-1h0m0 1h0m-6 1h0m-5-2h0m4 2h0m-5-4h0m-3 3h0m-2-1h0m-7 1h0m4-1h0m2-1h0m-2 0h0m-7 2h0m3 2h0m-5-6h0m-5 1h0m-1 1h0m2 0h0m1 3h0m-4-3h0m-3 1h0m2-2h0m0 3h0m-2-1h0m2 1h0m-4 2h0m4-3h0m1-3h0m-5 6h0m1-2h0m-7-3h0m3 1h0m-2-1h0m-1 3h0m4-1h0m-2 1h0m2 2h0m-2-1h0m-6-1h0m2-3h0m-5 2h0m5 1h0m-10 1h0m4-5h0m-1 4h0m-2-3h0m1 0h0m2 0h0m1 4h0m-1-1h0m-6 2h0m-3-1h0m-3-4h0m-1 3h0m-1-2h0m1 3h0m-5-3h0m-3-1h0m2 2h0m0 1h0m-4-2h0m3 2h0m2 1h0m-8-4h0m2 0h0m-4 0h0m0-1h0m-6 4h0m1-2h0m-1-1h0m2 0h0m-3 1h0m4-1h0m-9 2h0m3-3h0m-1 3h0m-4 0h0m-2 0h0m-6-1h0m0 3h0m3-1h0m-4 1h0m1 1h0m-2 0h0m-11-3h0m-6-2h0m4 0h0m-6 1h0m-3 2h0m-2 0h0m4-1h0m-4 3h0m0 0h0m-1-3h0m12 5h0m-2 3h0m6-3h0m11 0h0m-1 0h0m0 3h0m3-1h0m0 1h0m5-3h0m0 1h0m-2 0h0m2 0h0m0-1h0m-4-2h0m4 4h0m6-2h0m0 3h0m14-3h0m2 0h0m-1 1h0m2-3h0m-2 2h0m2 0h0m-1 2h0m8-1h0m7-1h0m-4 1h0m3-3h0m0 6h0m-2-1h0m-2-2h0m1 1h0m6 2h0m4-4h0m-3 1h0m2 3h0m-2-2h0m4-1h0m-6-1h0m11 2h0m1-4h0m-6 4h0m5 1h0m-4-4h0m7 1h0m1 2h0m1-1h0m0 0h0m5-1h0m2-2h0m-1 2h0m6 3h0m-2-1h0m3 2h0m-1-3h0m-1 3h0m-2-3h0m2-2h0m8 2h0m7-2h0m-1 1h0m4-1h0m-1 0h0m1 3h0m-3-2h0m2 0h0m2 1h0m2 0h0m5 2h0m-1 4h0m-4 0h0m-1 2h0m-23-2h0m2-1h0m1-2h0m1 3h0m-9-2h0m2 0h0m0 3h0m3-2h0m-5 4h0m3-5h0m2 1h0m-1 2h0m-3-2h0m-1-1h0m-6 2h0m2 0h0m2 0h0m-9 0h0m2-3h0m-2 2h0m2 3h0m-4-4h0m2 5h0m-3-4h0m0 1h0m-3 2h0m0-1h0m-8 1h0m3-1h0m-2 2h0m-6-5h0m0 3h0m5-2h0m-3 0h0m3 0h0m-2 2h0m0 1h0m-6-3h0m-2 1h0m-7 2h0m1-3h0m-10 0h0m2 3h0m-9-5h0m-3 0h0m3 2h0m-3 1h0m-4 1h0m-10-4h0m-3 2h0m-1 0h0m-2 3h0m0-1h0m-1-1h0m26 8h0m5-2h0m2 1h0m12-1h0m-4 0h0m1-2h0m4 3h0m0 0h0m2-1h0m3-2h0m5 1h0m-2 3h0m0 1h0m-3-1h0m2 0h0m4-1h0m-6 1h0m2-2h0m4 3h0m-1-3h0m3 2h0m7-4h0m-2 2h0m3 0h0m5 2h0m2-3h0m-1 0h0m5 2h0m0-1h0m-1 2h0m0 0h0m-1 0h0m4-1h0m-1-2h0m1 3h0m5-2h0m0-2h0m-2 4h0m1-1h0m6 0h0m0 0h0m0-4h0m-2 1h0m2 5h0m0 1h0m2 0h0m-2 0h0m-7 4h0m0-5h0m2 0h0m-7 5h0m0-2h0m-5-1h0m-2 2h0m-1 1h0m3 0h0m-3-2h0m-3 0h0m-3 0h0m3 2h0m0-5h0m-9 1h0m3 2h0m-4 0h0m5-2h0m-5 0h0m1 0h0m0 1h0m4 2h0m-3-1h0m4-1h0m-3 0h0m-7 0h0m-1 2h0m0-1h0m0 2h0m3-4h0m-2 2h0m-3-1h0m-1 0h0m-2-2h0m-1 3h0m-3 0h0m-5-1h0m-5-2h0m6 0h0m-8 1h0m-6 1h0" stroke="#f7b6d2" stroke-width="3.1" stroke-linecap="round" fill="none" opacity="0.86"/>
<polygon points="311.3,908.0 464.8,908.0 464.8,920.0 536.0,920.0 536.0,932.0 569.3,932.0 569.3,943.5 593.3,943.5 593.3,955.5 616.0,955.5 616.0,966.7 640.0,966.7 640.0,978.7 652.0,978.7 652.0,990.7 664.0,990.7 664.0,1002.7 676.0,1002.7 676.0,1014.7 688.0,1014.7 688.0,1026.1 698.7,1026.1 698.7,1049.3 709.3,1049.3 709.3,1072.0 721.3,1072.0 721.3,1178.7 710.7,1178.7 710.7,1213.3 698.7,1213.3 698.7,1225.3 688.0,1225.3 688.0,1237.3 676.0,1237.3 676.0,1249.3 664.0,1249.3 664.0,1260.7 652.0,1260.7 652.0,1272.7 628.0,1272.7 628.0,1284.7 616.0,1284.7 616.0,1296.7 605.3,1296.7 605.3,1307.3 593.3,1307.3 593.3,1319.3 569.3,1319.3 569.3,1331.3 501.3,1331.3 501.3,1319.3 474.7,1319.3 474.7,1308.7 462.7,1308.7 462.7,1290.0 455.0,1255.0 300.0,1200.0 230.0,1100.0 225.0,1026.1 205.5,1026.1 205.5,1002.7 216.7,1002.7 216.7,978.7 228.7,978.7 228.7,966.7 240.1,966.7 240.1,943.5 263.3,943.5 263.3,932.0 287.3,932.0 287.3,920.0 311.3,920.0" fill="url(#sp4)" opacity=".75"/>
<path d="M438 942.7C431.9 940.9 416.2 940.5 406 940C395.8 939.5 386 939.5 376.7 940C367.4 940.5 358.9 941.4 350 942.7C341.1 944 331.8 945.8 323.3 948C314.9 950.2 306.9 952.9 299.3 956C291.8 959.1 285.1 962.2 278 966.7C270.9 971.2 263.4 977.2 256.7 982.7C250 988.2 243.8 993.6 238 1000C232.2 1006.4 226.7 1013.8 222 1021.3C217.3 1028.8 213.3 1036.8 210 1045.3C206.7 1053.8 203.6 1063.1 202 1072C200.4 1080.9 200.5 1089.8 200.7 1098.7C200.9 1107.6 202 1116.4 203.3 1125.3C204.6 1134.2 206 1143.5 208.7 1152C211.4 1160.5 215.3 1168.5 219.3 1176C223.3 1183.5 228.2 1190.6 232.7 1197.3C237.1 1204 241.1 1209.8 246 1216C250.9 1222.2 256.2 1228.9 262 1234.7C267.8 1240.5 274 1246.3 280.7 1250.7C287.4 1255.1 294.4 1258.9 302 1261.3C309.6 1263.7 318.4 1264.8 326 1265.3C333.6 1265.8 340.2 1265.3 347.3 1264C354.4 1262.7 361.6 1259.6 368.7 1257.3C375.8 1255 383.3 1251.6 390 1250C396.7 1248.4 402.9 1247.5 408.7 1247.5C414.5 1247.5 419.8 1248.4 424.7 1250.3C429.6 1252.2 433.6 1255.5 438 1259C442.4 1262.5 446.4 1267.5 451.3 1271.3C456.2 1275.1 461.5 1278.7 467.3 1282C473.1 1285.3 479.3 1288.8 486 1291.3C492.7 1293.8 500.3 1295.6 507.3 1296.7C514.3 1297.8 521.4 1298.5 528 1298C534.6 1297.5 541.4 1296.2 546.7 1294C552 1291.8 556 1288.5 560 1284.7C564 1280.9 567.5 1275.1 570.7 1271.3C573.9 1267.5 576.3 1264.9 579 1262C581.7 1259.1 584.2 1256.4 587 1254C589.8 1251.6 591.8 1249.8 596 1247.5C600.2 1245.2 606.3 1242.9 612 1240C617.7 1237.1 624.8 1233.5 630 1230C635.2 1226.5 639 1223 643 1219C647 1215 650.8 1210.5 654 1206C657.2 1201.5 659.7 1197.2 662 1192C664.3 1186.8 666.3 1181.2 668 1175C669.7 1168.8 671 1162.5 672 1155C673 1147.5 673.9 1137.5 674 1130C674.1 1122.5 673.7 1117.5 672.5 1110C671.3 1102.5 669.2 1092.8 667 1085C664.8 1077.2 661.8 1068.8 659 1063C656.2 1057.2 654 1054.7 650 1050C646 1045.3 640.8 1040.8 634.7 1034.7C628.6 1028.6 621.3 1020 613.3 1013.3C605.3 1006.6 595.6 1000.5 586.7 994.7C577.8 988.9 568.9 983.4 560 978.7C551.1 974 542.2 969.8 533.3 966.7C524.4 963.6 515.6 960.9 506.7 960C497.8 959.1 487.1 960 480 961.3C472.9 962.6 467.8 967.3 464 968C460.2 968.7 460.9 968.2 457.3 965.3C453.8 962.4 445.9 954.5 442.7 950.7C439.5 946.9 444.1 944.5 438 942.7Z" fill="none" stroke="#fff" stroke-width="24" opacity=".42" clip-path="url(#pinkR)"/>
<path d="M438 942.7C431.9 940.9 416.2 940.5 406 940C395.8 939.5 386 939.5 376.7 940C367.4 940.5 358.9 941.4 350 942.7C341.1 944 331.8 945.8 323.3 948C314.9 950.2 306.9 952.9 299.3 956C291.8 959.1 285.1 962.2 278 966.7C270.9 971.2 263.4 977.2 256.7 982.7C250 988.2 243.8 993.6 238 1000C232.2 1006.4 226.7 1013.8 222 1021.3C217.3 1028.8 213.3 1036.8 210 1045.3C206.7 1053.8 203.6 1063.1 202 1072C200.4 1080.9 200.5 1089.8 200.7 1098.7C200.9 1107.6 202 1116.4 203.3 1125.3C204.6 1134.2 206 1143.5 208.7 1152C211.4 1160.5 215.3 1168.5 219.3 1176C223.3 1183.5 228.2 1190.6 232.7 1197.3C237.1 1204 241.1 1209.8 246 1216C250.9 1222.2 256.2 1228.9 262 1234.7C267.8 1240.5 274 1246.3 280.7 1250.7C287.4 1255.1 294.4 1258.9 302 1261.3C309.6 1263.7 318.4 1264.8 326 1265.3C333.6 1265.8 340.2 1265.3 347.3 1264C354.4 1262.7 361.6 1259.6 368.7 1257.3C375.8 1255 383.3 1251.6 390 1250C396.7 1248.4 402.9 1247.5 408.7 1247.5C414.5 1247.5 419.8 1248.4 424.7 1250.3C429.6 1252.2 433.6 1255.5 438 1259C442.4 1262.5 446.4 1267.5 451.3 1271.3C456.2 1275.1 461.5 1278.7 467.3 1282C473.1 1285.3 479.3 1288.8 486 1291.3C492.7 1293.8 500.3 1295.6 507.3 1296.7C514.3 1297.8 521.4 1298.5 528 1298C534.6 1297.5 541.4 1296.2 546.7 1294C552 1291.8 556 1288.5 560 1284.7C564 1280.9 567.5 1275.1 570.7 1271.3C573.9 1267.5 576.3 1264.9 579 1262C581.7 1259.1 584.2 1256.4 587 1254C589.8 1251.6 591.8 1249.8 596 1247.5C600.2 1245.2 606.3 1242.9 612 1240C617.7 1237.1 624.8 1233.5 630 1230C635.2 1226.5 639 1223 643 1219C647 1215 650.8 1210.5 654 1206C657.2 1201.5 659.7 1197.2 662 1192C664.3 1186.8 666.3 1181.2 668 1175C669.7 1168.8 671 1162.5 672 1155C673 1147.5 673.9 1137.5 674 1130C674.1 1122.5 673.7 1117.5 672.5 1110C671.3 1102.5 669.2 1092.8 667 1085C664.8 1077.2 661.8 1068.8 659 1063C656.2 1057.2 654 1054.7 650 1050C646 1045.3 640.8 1040.8 634.7 1034.7C628.6 1028.6 621.3 1020 613.3 1013.3C605.3 1006.6 595.6 1000.5 586.7 994.7C577.8 988.9 568.9 983.4 560 978.7C551.1 974 542.2 969.8 533.3 966.7C524.4 963.6 515.6 960.9 506.7 960C497.8 959.1 487.1 960 480 961.3C472.9 962.6 467.8 967.3 464 968C460.2 968.7 460.9 968.2 457.3 965.3C453.8 962.4 445.9 954.5 442.7 950.7C439.5 946.9 444.1 944.5 438 942.7Z" fill="none" stroke="#fff" stroke-width="9" opacity=".3"/>
<path d="M438 942.7C431.9 940.9 416.2 940.5 406 940C395.8 939.5 386 939.5 376.7 940C367.4 940.5 358.9 941.4 350 942.7C341.1 944 331.8 945.8 323.3 948C314.9 950.2 306.9 952.9 299.3 956C291.8 959.1 285.1 962.2 278 966.7C270.9 971.2 263.4 977.2 256.7 982.7C250 988.2 243.8 993.6 238 1000C232.2 1006.4 226.7 1013.8 222 1021.3C217.3 1028.8 213.3 1036.8 210 1045.3C206.7 1053.8 203.6 1063.1 202 1072C200.4 1080.9 200.5 1089.8 200.7 1098.7C200.9 1107.6 202 1116.4 203.3 1125.3C204.6 1134.2 206 1143.5 208.7 1152C211.4 1160.5 215.3 1168.5 219.3 1176C223.3 1183.5 228.2 1190.6 232.7 1197.3C237.1 1204 241.1 1209.8 246 1216C250.9 1222.2 256.2 1228.9 262 1234.7C267.8 1240.5 274 1246.3 280.7 1250.7C287.4 1255.1 294.4 1258.9 302 1261.3C309.6 1263.7 318.4 1264.8 326 1265.3C333.6 1265.8 340.2 1265.3 347.3 1264C354.4 1262.7 361.6 1259.6 368.7 1257.3C375.8 1255 383.3 1251.6 390 1250C396.7 1248.4 402.9 1247.5 408.7 1247.5C414.5 1247.5 419.8 1248.4 424.7 1250.3C429.6 1252.2 433.6 1255.5 438 1259C442.4 1262.5 446.4 1267.5 451.3 1271.3C456.2 1275.1 461.5 1278.7 467.3 1282C473.1 1285.3 479.3 1288.8 486 1291.3C492.7 1293.8 500.3 1295.6 507.3 1296.7C514.3 1297.8 521.4 1298.5 528 1298C534.6 1297.5 541.4 1296.2 546.7 1294C552 1291.8 556 1288.5 560 1284.7C564 1280.9 567.5 1275.1 570.7 1271.3C573.9 1267.5 576.3 1264.9 579 1262C581.7 1259.1 584.2 1256.4 587 1254C589.8 1251.6 591.8 1249.8 596 1247.5C600.2 1245.2 606.3 1242.9 612 1240C617.7 1237.1 624.8 1233.5 630 1230C635.2 1226.5 639 1223 643 1219C647 1215 650.8 1210.5 654 1206C657.2 1201.5 659.7 1197.2 662 1192C664.3 1186.8 666.3 1181.2 668 1175C669.7 1168.8 671 1162.5 672 1155C673 1147.5 673.9 1137.5 674 1130C674.1 1122.5 673.7 1117.5 672.5 1110C671.3 1102.5 669.2 1092.8 667 1085C664.8 1077.2 661.8 1068.8 659 1063C656.2 1057.2 654 1054.7 650 1050C646 1045.3 640.8 1040.8 634.7 1034.7C628.6 1028.6 621.3 1020 613.3 1013.3C605.3 1006.6 595.6 1000.5 586.7 994.7C577.8 988.9 568.9 983.4 560 978.7C551.1 974 542.2 969.8 533.3 966.7C524.4 963.6 515.6 960.9 506.7 960C497.8 959.1 487.1 960 480 961.3C472.9 962.6 467.8 967.3 464 968C460.2 968.7 460.9 968.2 457.3 965.3C453.8 962.4 445.9 954.5 442.7 950.7C439.5 946.9 444.1 944.5 438 942.7Z" fill="none" stroke="url(#pm)" stroke-width="26" clip-path="url(#pinkR)"/>
<path d="M438 942.7C431.9 940.9 416.2 940.5 406 940C395.8 939.5 386 939.5 376.7 940C367.4 940.5 358.9 941.4 350 942.7C341.1 944 331.8 945.8 323.3 948C314.9 950.2 306.9 952.9 299.3 956C291.8 959.1 285.1 962.2 278 966.7C270.9 971.2 263.4 977.2 256.7 982.7C250 988.2 243.8 993.6 238 1000C232.2 1006.4 226.7 1013.8 222 1021.3C217.3 1028.8 213.3 1036.8 210 1045.3C206.7 1053.8 203.6 1063.1 202 1072C200.4 1080.9 200.5 1089.8 200.7 1098.7C200.9 1107.6 202 1116.4 203.3 1125.3C204.6 1134.2 206 1143.5 208.7 1152C211.4 1160.5 215.3 1168.5 219.3 1176C223.3 1183.5 228.2 1190.6 232.7 1197.3C237.1 1204 241.1 1209.8 246 1216C250.9 1222.2 256.2 1228.9 262 1234.7C267.8 1240.5 274 1246.3 280.7 1250.7C287.4 1255.1 294.4 1258.9 302 1261.3C309.6 1263.7 318.4 1264.8 326 1265.3C333.6 1265.8 340.2 1265.3 347.3 1264C354.4 1262.7 361.6 1259.6 368.7 1257.3C375.8 1255 383.3 1251.6 390 1250C396.7 1248.4 402.9 1247.5 408.7 1247.5C414.5 1247.5 419.8 1248.4 424.7 1250.3C429.6 1252.2 433.6 1255.5 438 1259C442.4 1262.5 446.4 1267.5 451.3 1271.3C456.2 1275.1 461.5 1278.7 467.3 1282C473.1 1285.3 479.3 1288.8 486 1291.3C492.7 1293.8 500.3 1295.6 507.3 1296.7C514.3 1297.8 521.4 1298.5 528 1298C534.6 1297.5 541.4 1296.2 546.7 1294C552 1291.8 556 1288.5 560 1284.7C564 1280.9 567.5 1275.1 570.7 1271.3C573.9 1267.5 576.3 1264.9 579 1262C581.7 1259.1 584.2 1256.4 587 1254C589.8 1251.6 591.8 1249.8 596 1247.5C600.2 1245.2 606.3 1242.9 612 1240C617.7 1237.1 624.8 1233.5 630 1230C635.2 1226.5 639 1223 643 1219C647 1215 650.8 1210.5 654 1206C657.2 1201.5 659.7 1197.2 662 1192C664.3 1186.8 666.3 1181.2 668 1175C669.7 1168.8 671 1162.5 672 1155C673 1147.5 673.9 1137.5 674 1130C674.1 1122.5 673.7 1117.5 672.5 1110C671.3 1102.5 669.2 1092.8 667 1085C664.8 1077.2 661.8 1068.8 659 1063C656.2 1057.2 654 1054.7 650 1050C646 1045.3 640.8 1040.8 634.7 1034.7C628.6 1028.6 621.3 1020 613.3 1013.3C605.3 1006.6 595.6 1000.5 586.7 994.7C577.8 988.9 568.9 983.4 560 978.7C551.1 974 542.2 969.8 533.3 966.7C524.4 963.6 515.6 960.9 506.7 960C497.8 959.1 487.1 960 480 961.3C472.9 962.6 467.8 967.3 464 968C460.2 968.7 460.9 968.2 457.3 965.3C453.8 962.4 445.9 954.5 442.7 950.7C439.5 946.9 444.1 944.5 438 942.7Z" fill="#f7b6d2"/>
<path d="M438 942.7C431.9 940.9 416.2 940.5 406 940C395.8 939.5 386 939.5 376.7 940C367.4 940.5 358.9 941.4 350 942.7C341.1 944 331.8 945.8 323.3 948C314.9 950.2 306.9 952.9 299.3 956C291.8 959.1 285.1 962.2 278 966.7C270.9 971.2 263.4 977.2 256.7 982.7C250 988.2 243.8 993.6 238 1000C232.2 1006.4 226.7 1013.8 222 1021.3C217.3 1028.8 213.3 1036.8 210 1045.3C206.7 1053.8 203.6 1063.1 202 1072C200.4 1080.9 200.5 1089.8 200.7 1098.7C200.9 1107.6 202 1116.4 203.3 1125.3C204.6 1134.2 206 1143.5 208.7 1152C211.4 1160.5 215.3 1168.5 219.3 1176C223.3 1183.5 228.2 1190.6 232.7 1197.3C237.1 1204 241.1 1209.8 246 1216C250.9 1222.2 256.2 1228.9 262 1234.7C267.8 1240.5 274 1246.3 280.7 1250.7C287.4 1255.1 294.4 1258.9 302 1261.3C309.6 1263.7 318.4 1264.8 326 1265.3C333.6 1265.8 340.2 1265.3 347.3 1264C354.4 1262.7 361.6 1259.6 368.7 1257.3C375.8 1255 383.3 1251.6 390 1250C396.7 1248.4 402.9 1247.5 408.7 1247.5C414.5 1247.5 419.8 1248.4 424.7 1250.3C429.6 1252.2 433.6 1255.5 438 1259C442.4 1262.5 446.4 1267.5 451.3 1271.3C456.2 1275.1 461.5 1278.7 467.3 1282C473.1 1285.3 479.3 1288.8 486 1291.3C492.7 1293.8 500.3 1295.6 507.3 1296.7C514.3 1297.8 521.4 1298.5 528 1298C534.6 1297.5 541.4 1296.2 546.7 1294C552 1291.8 556 1288.5 560 1284.7C564 1280.9 567.5 1275.1 570.7 1271.3C573.9 1267.5 576.3 1264.9 579 1262C581.7 1259.1 584.2 1256.4 587 1254C589.8 1251.6 591.8 1249.8 596 1247.5C600.2 1245.2 606.3 1242.9 612 1240C617.7 1237.1 624.8 1233.5 630 1230C635.2 1226.5 639 1223 643 1219C647 1215 650.8 1210.5 654 1206C657.2 1201.5 659.7 1197.2 662 1192C664.3 1186.8 666.3 1181.2 668 1175C669.7 1168.8 671 1162.5 672 1155C673 1147.5 673.9 1137.5 674 1130C674.1 1122.5 673.7 1117.5 672.5 1110C671.3 1102.5 669.2 1092.8 667 1085C664.8 1077.2 661.8 1068.8 659 1063C656.2 1057.2 654 1054.7 650 1050C646 1045.3 640.8 1040.8 634.7 1034.7C628.6 1028.6 621.3 1020 613.3 1013.3C605.3 1006.6 595.6 1000.5 586.7 994.7C577.8 988.9 568.9 983.4 560 978.7C551.1 974 542.2 969.8 533.3 966.7C524.4 963.6 515.6 960.9 506.7 960C497.8 959.1 487.1 960 480 961.3C472.9 962.6 467.8 967.3 464 968C460.2 968.7 460.9 968.2 457.3 965.3C453.8 962.4 445.9 954.5 442.7 950.7C439.5 946.9 444.1 944.5 438 942.7Z" fill="url(#sp1)"/>
<path d="M657 1186C655 1189.7 649.8 1201.7 645 1208C640.2 1214.3 634.2 1219.3 628 1224C621.8 1228.7 614 1232.7 608 1236C602 1239.3 594.7 1242.7 592 1244" fill="none" stroke="#fff" stroke-width="9" stroke-linecap="round" stroke-linejoin="round" opacity="0.10"/>
<path d="M657 1186C655 1189.7 649.8 1201.7 645 1208C640.2 1214.3 634.2 1219.3 628 1224C621.8 1228.7 614 1232.7 608 1236C602 1239.3 594.7 1242.7 592 1244" fill="none" stroke="url(#sp3)" stroke-width="10.5" stroke-linecap="round" stroke-linejoin="round" opacity="0.48"/>
<path d="M443.3 944C446.9 948 462.5 958.7 464.7 968C466.9 977.3 458.9 989.3 456.7 1000C454.5 1010.7 452.2 1026.7 451.3 1032" fill="none" stroke="#fff" stroke-width="3" stroke-linecap="round" stroke-linejoin="round" opacity="0.14"/>
<path d="M443.3 944C446.9 948 462.5 958.7 464.7 968C466.9 977.3 458.9 989.3 456.7 1000C454.5 1010.7 452.2 1026.7 451.3 1032" fill="none" stroke="url(#sp3)" stroke-width="4.5" stroke-linecap="round" stroke-linejoin="round" opacity="0.66"/>
<polygon points="404.5,1080.0 412.7,1088.0 405.5,1096.0" fill="#fff" opacity=".9"/>
<polygon points="480.7,1092.0 474.0,1109.3 470.5,1098.0" fill="#fff" opacity=".9"/>
<polygon points="448.0,1033.0 451.5,1030.5 454.5,1033.0 451.0,1036.0" fill="#fff" opacity=".9"/>
<polygon points="479.0,971.0 484.0,970.0 483.5,975.0 480.0,974.5" fill="#fff" opacity=".9"/>
</g>
<g id="cyan">
<polygon points="893.3,1272.0 922.7,1272.0 922.7,1301.3 893.3,1301.3" fill="#9edae5" fill-opacity="0.72" stroke="#fff" stroke-width="3.5" filter="url(#rough)"/>
<polygon points="909.3,1306.7 1026.7,1306.7 1026.7,1320.0 909.3,1320.0" fill="#9edae5" fill-opacity="0.72" stroke="#fff" stroke-width="3.5" filter="url(#rough)"/>
<polygon points="930.7,1320.0 1026.7,1320.0 1026.7,1332.0 930.7,1332.0" fill="#9edae5" fill-opacity="0.72" stroke="#fff" stroke-width="3.5" filter="url(#rough)"/>
<polygon points="1064.0,1235.0 1097.3,1235.0 1097.3,1293.3 1064.0,1293.3" fill="#9edae5" fill-opacity="0.72" stroke="#fff" stroke-width="3.5" filter="url(#rough)"/>
<polygon points="1093.3,1186.7 1122.7,1186.7 1122.7,1221.3 1093.3,1221.3" fill="#9edae5" fill-opacity="0.72" stroke="#fff" stroke-width="3.5" filter="url(#rough)"/>
<polygon points="1114.7,1098.7 1146.7,1098.7 1146.7,1160.0 1114.7,1160.0" fill="#9edae5" fill-opacity="0.72" stroke="#fff" stroke-width="3.5" filter="url(#rough)"/>
<path d="M972 846h0m0 6h0m-47-2h0m-24 4h0m14 1h0m2 0h0m6 3h0m7-6h0m11 5h0m8-3h0m7-1h0m12 2h0m3-3h0m12 5h0m31 6h0m-30-4h0m-2 0h0m-14 2h0m-34 1h0m-10-3h0m-19 3h0m-17 0h0m-2 4h0m1 2h0m6 1h0m-3 0h0m23-3h0m105-1h0m3 1h0m11 0h0m-140 4h0m-12 4h0m1 1h0m-15-3h0m-10-1h0m23 6h0m134 4h0m25-1h0m-2-3h0m7 3h0m0-1h0m-2 3h0m1 0h0m7-1h0m2-1h0m7 1h0m17-2h0m-1 6h0m-2 0h0m-2-1h0m-5 3h0m0 0h0m-1-1h0m-1 1h0m-4-4h0m3 4h0m-3 0h0m-6-4h0m-9 2h0m5-1h0m-9 0h0m3 0h0m1 1h0m-11 1h0m-14-2h0m-7 3h0m16 4h0m9 1h0m7-1h0m3 1h0m1-3h0m7 4h0m9-4h0m6 4h0m2-2h0m-4-1h0m2 4h0m1 3h0m3-1h0m-6 2h0m5-3h0m-6 0h0m-3 1h0m-7 1h0m2-2h0m1 2h0m-4 1h0m-3 0h0m-1 0h0m2 1h0m-6-3h0m-2-1h0m2 2h0m-9 1h0m4-2h0m-6 2h0m-5 1h0m-1 0h0m1 4h0m-5 1h0m5 0h0m18-3h0m6 3h0m7 8h0m-2-2h0m-10-2h0m12 5h0m20 1h0m2 10h0m-11-2h0m-17-2h0m-243 7h0m235 0h0m17 1h0m-1-2h0m-2 3h0m3-4h0m5 5h0m0-3h0m-2 3h0m4 0h0m-3-1h0m6-1h0m1 0h0m0 1h0m2-1h0m2 0h0m0-1h0m0-2h0m3 4h0m5 0h0m-1 0h0m8 1h0m-2-2h0m1 1h0m3-1h0m7 4h0m-3 3h0m-1-3h0m-2 3h0m-2 1h0m-5-2h0m-4 0h0m1 1h0m-5-4h0m-5 1h0m-1 0h0m-4 3h0m0-2h0m-16-2h0m-2 0h0m-249 1h0m-4 3h0m-5 4h0m262 2h0m5-1h0m11-4h0m13 0h0m6 2h0m-1-1h0m-1 5h0m10-5h0m-4 4h0m3-5h0m4 5h0m0-2h0m2 3h0m2 2h0m-29-2h0m-1 1h0m-12 4h0m0-4h0m-260 2h0m-5 1h0m-7-3h0m-5 10h0m2 0h0m2-4h0m-1 2h0m10 0h0m260-1h0m7 3h0m-2-4h0m0 3h0m9-3h0m5 0h0m1 2h0m-3-1h0m11 1h0m3-2h0m5 5h0m-1-3h0m1-1h0m-31 9h0m0-5h0m2 5h0m-1 1h0m-2-1h0m-273-1h0m2-2h0m2 5h0m2 2h0m3-2h0m0 0h0m277 0h0m29 4h0m-2 5h0m-15-1h0m-298-1h0m3 0h0m-2 2h0m2 1h0m-7 1h0m-1-1h0m2 4h0m6 2h0m-3-1h0m3-4h0m310 2h0m10 1h0m-1 0h0m1-2h0m2 1h0m4 6h0m-3 0h0m-3 3h0m-5 0h0m2-2h0m-4 1h0m-7 0h0m2 1h0m-1 1h0m-3-3h0m-2-1h0m2-1h0m-300 5h0m-2-2h0m-7 0h0m-1-2h0m5 0h0m-5-1h0m0 0h0m-2 8h0m0-1h0m304 3h0m9-1h0m-5-3h0m8 5h0m3-4h0m-2 0h0m-2 1h0m9 3h0m1-2h0m-3-1h0m11 0h0m-5 8h0m0-4h0m-7 0h0m-1-1h0m-310 3h0m-7 4h0m2 2h0m301 0h0m7-1h0m-5-1h0m19 4h0m7 1h0m-2 5h0m-4 0h0m-1-2h0m-4 1h0m-2-4h0m-3 5h0m1 0h0m-2-5h0m-12 4h0m0-2h0m-1 0h0m-294-1h0m-2 11h0m310-1h0m0 1h0m5 0h0m9-4h0m0 10h0m-11-5h0m-5 1h0m4-1h0m-1-1h0m1 2h0m-2 3h0m-11-2h0m0 2h0m0-4h0m0 1h0m0 3h0m1-3h0m-1 3h0m0-2h0m-292-2h0m-1 0h0m0 5h0m-13-1h0m-13-2h0m4 9h0m16-2h0m0-2h0m0 4h0m-2-2h0m3 0h0m4 0h0m3-1h0m289-2h0m8-1h0m-2 0h0m-3 2h0m9 4h0m1-2h0m7-1h0m-2 0h0m7 2h0m3 5h0m-2-1h0m1 0h0m-1-1h0m-2 0h0m0 1h0m0-1h0m-3 2h0m1 0h0m-6 0h0m-298 2h0m-7-1h0m-2-4h0m-5 4h0m1-1h0m-3 0h0m-10 2h0m-4-4h0m0 1h0m15 4h0m3 3h0m1-2h0m4-1h0m-2 3h0m0-4h0m10 3h0m-4 1h0m284-1h0m1 2h0m5-2h0m1 1h0m2-1h0m0-1h0m10 2h0m0-3h0m2 2h0m-2 2h0m7-5h0m3 4h0m-4 8h0m-3-3h0m3 1h0m-1-2h0m-4 3h0m0-3h0m-9 0h0m-3 4h0m0-1h0m-6 0h0m-280 0h0m-3-4h0m-7 4h0m1 1h0m-1-4h0m1 1h0m-6 0h0m-7 0h0m8 6h0m0 2h0m4 0h0m-2-5h0m5 2h0m3-1h0m1 1h0m4 3h0m-1-3h0m3-1h0m277 4h0m8 0h0m-6-5h0m14 2h0m9 2h0m-3-4h0m4 8h0m1 3h0m-6-2h0m-1-2h0m4 4h0m-10-1h0m1 1h0m-9-4h0m-318 6h0m16-1h0m2 5h0m-1-5h0m12 6h0m2-2h0m5-3h0m-4 4h0m287-4h0m2 0h0m0 3h0m1-1h0m13 2h0m-2-4h0m3 1h0m2 4h0m11 5h0m-2-3h0m0 4h0m-8-1h0m2-3h0m-1-1h0m-1 4h0m-4-4h0m1 1h0m-12 4h0m-4-1h0m-6-1h0m-269-3h0m-2 2h0m-15-1h0m-1 2h0m-3 2h0m1-1h0m-5-1h0m6 1h0m-9 0h0m0-1h0m1-3h0m0 3h0m-9-3h0m-2 10h0m-1 1h0m-4-1h0m13 1h0m-1-4h0m11 1h0m-2 1h0m12-3h0m11-1h0m-2 4h0m6 1h0m266-4h0m12 2h0m6-3h0m14 4h0m2 1h0m-1 2h0m-3 1h0m-16 1h0m-1-1h0m-1 1h0m-7 0h0m-4 1h0m-4 2h0m0-3h0m-264-1h0m-1 3h0m-2-5h0m2 5h0m0 0h0m-19-2h0m-1 2h0m-4-3h0m-3 1h0m-5-2h0m4-1h0m-1 5h0m-2-4h0m0 0h0m1 3h0m-6-1h0m-5 8h0m3 0h0m6-3h0m5-1h0m3 0h0m8 4h0m-5 1h0m11-3h0m-2-1h0m-1 4h0m0 0h0m-3-1h0m4-3h0m1 2h0m4 2h0m-2-3h0m1 2h0m0 0h0m10-4h0m6 3h0m-1-2h0m258 2h0m-1-1h0m0-2h0m10 0h0m3 1h0m-1 2h0m3-1h0m6-2h0m10 1h0m1 4h0m2 0h0m1 1h0m0 1h0m-5 0h0m-2 3h0m-20 0h0m5-5h0m-9 2h0m-1 0h0m3-1h0m1 0h0m-273 4h0m-5-3h0m-2 3h0m1 1h0m-7-5h0m-1 3h0m-4-3h0m0 4h0m-2-5h0m0 3h0m4 2h0m-4 0h0m2-5h0m-3 2h0m-4 3h0m5 1h0m-9-6h0m-4 1h0m8 10h0m2-4h0m1 4h0m5-2h0m1 1h0m-2-4h0m0 4h0m3-2h0m2 0h0m4 3h0m-3 0h0m9-2h0m0 0h0m-3 1h0m0-2h0m278 2h0m1-4h0m2 3h0m14 1h0m2 1h0m-4 0h0m3-3h0m11-1h0m15 6h0m-2 4h0m-10-1h0m-4 1h0m1-1h0m-9 0h0m2-1h0m1-1h0m-3 2h0m2-2h0m0 0h0m-3 3h0m-286-2h0m2-2h0m-12 2h0m2-1h0m0 4h0m-4-4h0m0-2h0m-5 1h0m1 4h0m1 0h0m2-1h0m-3-3h0m-5 2h0m-2 0h0m4-3h0m-1 5h0m0-1h0m-8 2h0m2-3h0m-1 1h0m-2 0h0m1-3h0m-2 2h0m-2 9h0m-1-4h0m7 2h0m0 0h0m-5 0h0m12-3h0m4 0h0m2 0h0m5 2h0m-1-1h0m1 1h0m0 3h0m3-1h0m1-1h0m2-1h0m-4 3h0m2-1h0m3-4h0m283 2h0m9 3h0m-3-5h0m20 3h0m2-2h0m-3 10h0m-1-3h0m1 1h0m-5-2h0m-3-1h0m1 0h0m0 1h0m3 1h0m-4 3h0m-4-2h0m2-3h0m-4 3h0m-2-4h0m2 4h0m-2-2h0m-1 2h0m-1-1h0m-2 0h0m-1 0h0m-1-2h0m-2 0h0m0 0h0m-1 3h0m-290-4h0m-7 6h0m-8-4h0m1-1h0m-3 0h0m-5 0h0m4 1h0m-6 0h0m-1 9h0m1 0h0m6-1h0m1 0h0m2 1h0m303-2h0m6 2h0m2-1h0m0 1h0m11-4h0m0 0h0m-2 3h0m-1-2h0m-3 1h0m2-2h0m-1 3h0m4 2h0m5-5h0m-3 2h0m2 1h0m5-3h0m2 7h0m1-1h0m-6 0h0m-3 0h0m3 0h0m0 1h0m-5 4h0m-1-3h0m-2 0h0m-3 0h0m0 1h0m-1 2h0m-5-4h0m5 2h0m0-1h0m-6 1h0m0 1h0m1-1h0m-310-2h0m-3-1h0m-1 4h0m-3-1h0m-4-4h0m2 3h0m4 7h0m2 1h0m0-2h0m1 3h0m2 0h0m-1-3h0m0 0h0m306-2h0m4 0h0m7 1h0m-3 1h0m-1 0h0m7 1h0m1-3h0m-4 0h0m9 5h0m-2-3h0m1 2h0m-1-5h0m8 4h0m2-3h0m1 0h0m-3-1h0m2 11h0m-1-3h0m2-2h0m-1 5h0m-10-4h0m1 0h0m-2 1h0m1 0h0m-2 0h0m1-1h0m-2 5h0m-3-6h0m-6 1h0m4 3h0m-4-2h0m-2 4h0m-3-3h0m2 1h0m-309-4h0m1 3h0m-1 1h0m-1-1h0m-1 2h0m-1 1h0m-5-1h0m1 0h0m6 5h0m-4-3h0m-1 0h0m4 4h0m3-3h0m-1 1h0m2 2h0m305-4h0m1 2h0m6-2h0m2 3h0m0-3h0m-3 2h0m1 0h0m-2 3h0m4-4h0m-1-1h0m-3 4h0m3-2h0m3-2h0m0 5h0m3-4h0m-4 0h0m10 1h0m-2-3h0m-1 5h0m4-3h0m0 2h0m-4 0h0m6 1h0m1-4h0m1 11h0m-2-3h0m-5 0h0m-3-3h0m-11 4h0m-4-1h0m-310-2h0m0 1h0m2 1h0m-4 2h0m-3-2h0m1 1h0m-2 5h0m10-1h0m309 0h0m-1 3h0m-3-1h0m-1 1h0m0-2h0m1 1h0m4-3h0m-2 1h0m-2 1h0m6-1h0m3-1h0m2 1h0m-1 0h0m2-2h0m11 5h0m-3-4h0m0 0h0m8 5h0m-3-1h0m-2 0h0m4 5h0m0-4h0m0 5h0m-7-3h0m-3 2h0m1-2h0m-5-2h0m2 1h0m-9 4h0m2-3h0m-7-1h0m-2 5h0m-1-4h0m-303-2h0m-2 1h0m0 1h0m-1-1h0m1 3h0m-4-1h0m3 3h0m-5 5h0m0-1h0m1-1h0m8 0h0m302 0h0m3 1h0m-2-3h0m4 3h0m0 0h0m2-3h0m3 1h0m0 3h0m5-1h0m3-1h0m-3 2h0m1 0h0m2-3h0m-5 2h0m2-2h0m7 1h0m-3 1h0m2 0h0m0-1h0m-1-2h0m8 5h0m0-1h0m0 3h0m0 3h0m0 0h0m-7-3h0m3 2h0m0-4h0m-2 5h0m-7-5h0m-1 5h0m2-1h0m-2-3h0m-7 5h0m3-2h0m-2-1h0m-4 3h0m2-3h0m-310-2h0m2 0h0m-3 1h0m-2 0h0m-6-1h0m3 9h0m3-2h0m-2-1h0m314 2h0m-1 0h0m-2 1h0m-1-3h0m4 3h0m0-1h0m6 1h0m2-3h0m0 2h0m2 0h0m2-3h0m5 6h0m2 0h0m-1-3h0m2-3h0m4 6h0m-3 2h0m2 2h0m-8-2h0m2 2h0m-5-2h0m-3-1h0m-2 2h0m-5 0h0m6-3h0m-11 1h0m0 0h0m3 4h0m-8 0h0m-305-2h0m-2-3h0m-3 3h0m0-2h0m7 10h0m-1-1h0m289 1h0m-2 0h0m2-3h0m-3-1h0m6 3h0m-1-3h0m10 3h0m1-2h0m-5 0h0m1 0h0m-1 1h0m7 3h0m-1-2h0m3-1h0m-4 3h0m10 0h0m1-2h0m1 0h0m-5-1h0m1-1h0m1 1h0m-1 2h0m9-1h0m-1 0h0m-1-1h0m6 1h0m-2 1h0m1 1h0m5-3h0m9 0h0m-1 0h0m0 0h0m-3 1h0m4-2h0m-1 0h0m-1 7h0m1 0h0m0-2h0m0 0h0m2 3h0m-9 0h0m-1-1h0m0 1h0m3-2h0m-3-1h0m5 1h0m-7 0h0m0 0h0m-4 0h0m-2 0h0m-4-1h0m0 2h0m-5 0h0m-4 1h0m-10 0h0m5-3h0m-6 5h0m-4-6h0m0 5h0m-1 1h0m0-4h0m-2-1h0m-3 4h0m2 0h0m-283-2h0m1 0h0m-3 0h0m-4-2h0m-1 0h0m3 0h0m-1 3h0m0-1h0m0 2h0m-2-3h0m0-1h0m1 3h0m0 0h0m-2 2h0m1-4h0m1 4h0m0-2h0m-3 7h0m0-3h0m4 4h0m-1-5h0m1 0h0m1 1h0m289 2h0m-1 1h0m-1-2h0m3 2h0m4-5h0m6 0h0m-1 4h0m-3-3h0m10-1h0m-2 1h0m1 2h0m-1 2h0m8-3h0m-3 1h0m3 1h0m-1-2h0m-3 1h0m4-3h0m6 5h0m-4 1h0m3-1h0m8-2h0m1 2h0m-2 1h0m7-4h0m-1 2h0m0-1h0m7-3h0m-2 3h0m2 0h0m0 1h0m-3-3h0m-1 1h0m3 0h0m3 0h0m-2 7h0m-1 2h0m0-2h0m-5 1h0m-5-4h0m0 6h0m2-3h0m-4 0h0m-4 0h0m-5 3h0m-1-2h0m3-2h0m-3 3h0m4-4h0m-1 4h0m1-2h0m-1 2h0m2 0h0m-5 0h0m-4 0h0m-1-5h0m3 1h0m-8 4h0m-4 1h0m-9-3h0m3 1h0m0-1h0m-2-1h0m-3-1h0m-1-1h0m0 6h0m-1-1h0m-283-1h0m-1-1h0m1 0h0m0 3h0m1-5h0m-2 3h0m-6-2h0m1 4h0m2-3h0m1 0h0m-7-2h0m1 3h0m291 4h0m10 2h0m-2-1h0m3 2h0m2 1h0m-2-6h0m5 1h0m-3 3h0m-1-4h0m4 3h0m2 3h0m3-2h0m1-3h0m-3 1h0m2 2h0m3 0h0m-2-3h0m3 3h0m-2-3h0m2 0h0m10 0h0m6-1h0m-16 11h0m3-3h0m-8 3h0m-1-3h0m2 0h0m-4 3h0m3-3h0m-9-1h0m2 3h0m1-2h0m-2 4h0m-1-4h0m0-1h0m-9 2h0m-2 3h0m2 6h0m-1-1h0m-2-3h0m3 3h0m-2-2h0m7 1h0m-3-3h0m4 4h0m1 1h0m1-1h0m5-4h0m-5 4h0m6-2h0m3 2h0m9-2h0m-4 1h0m2-1h0m-4 1h0m2-3h0m4 0h0m0 7h0m0 2h0m-10-3h0m3 4h0m-3 0h0m-8 0h0m5 1h0m-8-1h0m-1-1h0m-1 0h0m-1-1h0m-2-1h0m-2 4h0m2-1h0m0-3h0m-4 3h0m-5 0h0m-6 1h0m-16 0h0m0 0h0m5 5h0m3 0h0m7 0h0m-5-3h0m3 4h0m-3-3h0m0 1h0m10-1h0m-5-3h0m0 3h0m6 1h0m-1 1h0m-1-1h0m3-3h0m9 2h0m0 0h0m8 0h0m-1-2h0m10 0h0m1 5h0m5-4h0m2 2h0m-4-3h0m4 9h0m-6-1h0m0-1h0m-2-2h0m0 2h0m0 0h0m-7 2h0m3-2h0m1 2h0m-2-1h0m-2 0h0m4-1h0m-3 0h0m-7 4h0m1-5h0m-3 1h0m-1 3h0m-2-4h0m2 1h0m-2 0h0m-4-1h0m-4 0h0m1 0h0m-2 4h0m-1-4h0m-5 0h0m-1 0h0m1 2h0m-10 2h0m3-1h0m-2-1h0m0-3h0m1 6h0m0-4h0m1 1h0m-8 0h0m0-2h0m-201 3h0m2-2h0m-6 4h0m1 0h0m-2-5h0m-2 3h0m-1 1h0m-11-2h0m-2 2h0m-1-1h0m-5-1h0m-2-1h0m3 2h0m-4-2h0m-3 2h0m3 0h0m-10-3h0m1 1h0m2 1h0m-7 0h0m-2 0h0m3 1h0m-5-3h0m5 8h0m0 2h0m1-2h0m0 1h0m-1 2h0m4-4h0m2 3h0m-3-1h0m6-3h0m7 2h0m0 1h0m-2 2h0m7-2h0m2-1h0m-3 2h0m2-2h0m1-2h0m1 0h0m-1 1h0m0-2h0m2 2h0m-2 4h0m-1-4h0m4-1h0m0 2h0m6-1h0m5 2h0m-2 2h0m0-2h0m-2-2h0m8 4h0m-2-2h0m0-1h0m0 1h0m2 0h0m0-2h0m3-1h0m-1 2h0m206 0h0m0-2h0m2 2h0m0-3h0m0 1h0m5 3h0m1 0h0m6 1h0m-4-3h0m15 1h0m-2 3h0m3-1h0m-3 2h0m0 0h0m1 4h0m1 1h0m-6-3h0m0 2h0m2 0h0m-1 1h0m-7-3h0m-8 2h0m1 1h0m4-2h0m-4-3h0m2 3h0m-6 2h0m-4-2h0m0-4h0m3 2h0m-1 1h0m0 2h0m-1 1h0m-1-5h0m-204 1h0m2-2h0m-5 0h0m1 3h0m-9 3h0m3-1h0m-3 0h0m-1 0h0m-4 0h0m1 1h0m-1-4h0m-3 0h0m-10-2h0m2 3h0m0 3h0m2-3h0m-2 1h0m2 0h0m-10-2h0m1 2h0m3-1h0m1-2h0m-2 0h0m-9 4h0m0-3h0m3 1h0m0 1h0m-5 1h0m-4 1h0m5 4h0m-3-1h0m-1 2h0m6-4h0m1 3h0m-1 2h0m8-2h0m6-4h0m0 5h0m2-4h0m-3 3h0m-1 2h0m-1-1h0m8-1h0m2 0h0m-2-1h0m-3 0h0m1 1h0m1 1h0m6-3h0m-1 4h0m3-1h0m0-1h0m4 2h0m2-6h0m0 1h0m-2 0h0m4 2h0m0 1h0m5-1h0m1-2h0m9 2h0m-2 2h0m7 0h0m3 0h0m3 0h0m0-3h0m9 0h0m175-1h0m3 3h0m5-2h0m16 0h0m3 2h0m1-1h0m0 8h0m-2-4h0m-1 2h0m-4 2h0m2-1h0m-8-4h0m-5 0h0m-3 5h0m-6 0h0m1-3h0m-2-2h0m-38 6h0m-9-1h0m-27 0h0m-14 0h0m-92-3h0m1 3h0m3 1h0m-8-1h0m-1-1h0m5-2h0m-8-1h0m-3 0h0m2 0h0m2 3h0m-8-3h0m-9 5h0m1-1h0m2-1h0m-2-4h0m0 6h0m-4-3h0m0-2h0m1-1h0m-9 2h0m-1 4h0m6-4h0m0-1h0m-5 1h0m-6 4h0m1-4h0m4 1h0m-2 2h0m2-3h0m-4 2h0m2-2h0m-9 1h0m2-2h0m-5-1h0m0 0h0m-1 2h0m-6 0h0m-7 1h0m-1-1h0m-1 0h0m5-1h0m11 5h0m1 6h0m-2-3h0m7-3h0m0 3h0m4 0h0m0-2h0m2 0h0m-1 1h0m3 0h0m11-2h0m-1 1h0m5 0h0m-1 2h0m2-3h0m1 2h0m-4 1h0m1-1h0m0-1h0m15 4h0m1-5h0m-2 4h0m3-4h0m13 6h0m1-2h0m9 1h0m-6-1h0m1 2h0m-1-5h0m11 0h0m0 0h0m1-1h0m-6 4h0m6 2h0m-2-2h0m-4 0h0m11-2h0m-5 0h0m5-1h0m-3 2h0m3-1h0m2 3h0m10-5h0m8 5h0m5-3h0m5 0h0m2-1h0m20-1h0m4 3h0m3 3h0m5-1h0m9-5h0m-3 3h0m0 2h0m3-4h0m2 4h0m6-2h0m1 0h0m-3 0h0m18-1h0m0-1h0m-2 3h0m1-2h0m2 0h0m0-1h0m2-1h0m-2 4h0m7-2h0m0 2h0m4-1h0m-2-2h0m8 4h0m-2-4h0m4-1h0m4 3h0m-2 1h0m1-4h0m0 5h0m-1 1h0m3-4h0m4 3h0m4-4h0m-1 5h0m4-3h0m0 1h0m11 0h0m6-3h0m0 5h0m2-1h0m1-2h0m4 0h0m-4-2h0m-1 4h0m1-5h0m-1 2h0m0 0h0m14 3h0m1-2h0m10-2h0m-2 11h0m4-1h0m0 0h0m-4-3h0m-9 2h0m-2 1h0m0-5h0m2 0h0m-1 1h0m2 5h0m-6 0h0m-9-4h0m0 0h0m-1 2h0m0 1h0m-10-3h0m3-2h0m-14 4h0m1-3h0m1 5h0m0-2h0m-5-1h0m-2-1h0m0 2h0m-4 1h0m3-3h0m-3 4h0m3-1h0m-2-1h0m-3-3h0m0 1h0m1 2h0m0-1h0m-4-3h0m4 4h0m0-2h0m-11 1h0m-5-1h0m-1 0h0m-2 0h0m-1 2h0m-1-1h0m-12 0h0m4 3h0m-1-3h0m-13-2h0m2 1h0m-10 2h0m-20 1h0m-7-1h0m-5-2h0m-3-1h0m1 3h0m-4-2h0m-4 3h0m-6-5h0m-7 0h0m-2 1h0m0 4h0m-4-1h0m0-1h0m0 2h0m-1-1h0m3 2h0m-3-4h0m-4 3h0m1-3h0m-1-2h0m0 1h0m-1 4h0m4-1h0m-15-3h0m4 3h0m-6 1h0m-5-2h0m-1-3h0m2 4h0m-2 1h0m3-2h0m1 0h0m-9 0h0m3 1h0m2-3h0m-3 0h0m-6 2h0m-2-2h0m4 3h0m-1-2h0m0-1h0m-1 3h0m-2-1h0m3 3h0m-1 0h0m2-2h0m-5-3h0m-2 2h0m-2 1h0m4-1h0m-9 3h0m1-3h0m-11 0h0m-3 2h0m1-5h0m1 1h0m-2-1h0m-1 5h0m2-1h0m-7 0h0m-12 1h0m-7-2h0m1 2h0m-3 7h0m0-3h0m6-1h0m-2 4h0m0-5h0m2 2h0m-2-1h0m2-2h0m6 5h0m-3 1h0m2-2h0m-1-2h0m0 1h0m-1 3h0m4-1h0m2-4h0m-2-1h0m1 1h0m1 2h0m5-1h0m3 3h0m8-2h0m-4 2h0m1-4h0m7 2h0m2 2h0m0-4h0m-5 2h0m1-1h0m10-2h0m-2 3h0m-1-1h0m5-1h0m1 0h0m-1 2h0m-1-1h0m7-2h0m2 4h0m1-4h0m-2 2h0m-1-1h0m9 0h0m-5 5h0m3-2h0m-2-1h0m6-3h0m11 1h0m-2 3h0m1 0h0m-4-3h0m4 1h0m-4 3h0m6 0h0m0 0h0m4-3h0m0 2h0m3-1h0m8-2h0m-4-1h0m9 2h0m1 3h0m-3-4h0m4 0h0m5 0h0m2 5h0m1-1h0m4-2h0m1-2h0m5 5h0m14-1h0m1-4h0m6 0h0m-2 3h0m0 1h0m6-4h0m23 3h0m-1-1h0m11 2h0m9-2h0m-3 2h0m6-3h0m-1-2h0m4 3h0m3-1h0m1 1h0m-1-2h0m6 0h0m2 4h0m2-1h0m3 2h0m7-2h0m-2-1h0m-3-3h0m4 3h0m-4-2h0m6 1h0m5 1h0m-4-2h0m4 0h0m-5 4h0m23-2h0m-1 0h0m3-2h0m7 0h0m1 4h0m7-1h0m0 0h0m5 2h0m-2-2h0m-1-2h0m5 4h0m-2-3h0m1 0h0m-2 4h0m-4-1h0m-8 3h0m-4-1h0m-4 4h0m-3-4h0m1 0h0m-1 2h0m-4 1h0m-1-1h0m-9 2h0m-1-1h0m-5-2h0m-7 2h0m6-3h0m-6 0h0m3 2h0m-5-1h0m-1 2h0m2 0h0m-2-1h0m-1-3h0m0 4h0m3-1h0m-11-3h0m3 0h0m0 4h0m1 0h0m1-2h0m-1 0h0m1-2h0m-10 3h0m2 0h0m0-1h0m-2-2h0m0 1h0m3-2h0m-8 0h0m0 0h0m-7 3h0m1-2h0m0 1h0m0 0h0m-7 4h0m1-1h0m-2-3h0m4 2h0m-10-3h0m2 0h0m-5 1h0m1 2h0m0 0h0m-4 0h0m2-1h0m-12-1h0m-5-2h0m-7 0h0m-1 6h0m2-5h0m-6 4h0m3-2h0m-2-1h0m-6 1h0m-4 1h0m-9-3h0m1 2h0m-4-2h0m-4 3h0m-4 0h0m0 0h0m2 1h0m-4-5h0m1 3h0m0 2h0m1-3h0m-3-1h0m-1 1h0m-3 0h0m-15 3h0m4-1h0m-9 2h0m0-3h0m0 2h0m0 0h0m1 0h0m1-4h0m-2 2h0m-2 0h0m-4 3h0m1-5h0m3 4h0m-6 1h0m-3 0h0m-1-3h0m4 3h0m-2-2h0m-1-2h0m-1-2h0m2 5h0m-7 0h0m3-5h0m-8 4h0m1 1h0m-1-3h0m-4-1h0m-5 1h0m3 0h0m-4 0h0m-1 0h0m-8-2h0m1 3h0m-7-2h0m-4 0h0m-4 0h0m-7 0h0m-1 2h0m-2 0h0m-1-2h0m-3 2h0m43 8h0m0 0h0m0-4h0m-1 2h0m4 1h0m1-3h0m6 2h0m7-1h0m0 3h0m0-1h0m1-2h0m1 2h0m1 1h0m1-1h0m1 2h0m1-4h0m8-2h0m-1 5h0m-3-1h0m5 0h0m-1 0h0m1-2h0m3-1h0m11 2h0m4-1h0m2 0h0m14 1h0m-1 0h0m14-2h0m-4 1h0m3 3h0m-5-4h0m11 4h0m6-4h0m12 0h0m12 5h0m12-5h0m4 0h0m2 1h0m-2 3h0m2-4h0m3 1h0m1 1h0m-1-1h0m2-1h0m4 5h0m8-1h0m-4 0h0m4-4h0m-2-1h0m4 0h0m-3 2h0m0 3h0m4-3h0m3 0h0m2 3h0m-5-5h0m2 2h0m2 1h0m-1 2h0m-1-4h0m0 0h0m-2 0h0m2 5h0m3-4h0m-4 1h0m3 0h0m-5 1h0m2-3h0m9 0h0m-5 3h0m0 2h0m2-4h0m3 0h0m-4 2h0m4-2h0m-4-1h0m10 2h0m1 0h0m0 2h0m0 0h0m3-1h0m2 2h0m-2-2h0m0 0h0m1-3h0m-1 3h0m12-3h0m1 0h0m-2 6h0m2 3h0m-9-3h0m-7 0h0m6 1h0m-4 4h0m-3-4h0m-2 0h0m-2 0h0m0 0h0m-2 1h0m-1-2h0m-2 0h0m-1 1h0m3-1h0m-8-1h0m-1 1h0m-4 3h0m1-4h0m-19 5h0m2 0h0m-11-4h0m0 0h0m-10 3h0m-3 2h0m-4-1h0m2 0h0m-19-4h0m1 1h0m-7 1h0m0 0h0m3 3h0m-3-2h0m2-1h0m-7-2h0m-1 1h0m-7 0h0m-1 4h0m-16-3h0m-7 2h0m4 0h0m-16-3h0m0 3h0m0-2h0m0-1h0m1 0h0m-2 2h0m-1-2h0m0 3h0m0-1h0m-7-2h0m0 4h0m-1-3h0m-20 1h0m21 6h0m2 2h0m1-4h0m1 0h0m-1 4h0m5-3h0m0 0h0m1 2h0m2-2h0m8 1h0m-2-1h0m2-2h0m6 0h0m1 5h0m-2-2h0m1-1h0m3 1h0m0-3h0m3 1h0m-5 4h0m7-4h0m2-1h0m9 0h0m-5 3h0m8 0h0m-2 2h0m0 0h0m6-3h0m0 2h0m11-4h0m2 0h0m4 2h0m5 1h0m0-1h0m1 2h0m2 0h0m-1-2h0m6-2h0m0 3h0m1 0h0m2 1h0m11-4h0m-1 0h0m2 0h0m-1 3h0m0-3h0m0 1h0m8 1h0m-3-3h0m0 2h0m-2 3h0m2-4h0m0 1h0m7 2h0m2 0h0m-3 0h0m-1-1h0m7 0h0m3 2h0m-1-2h0m13 1h0m2-3h0m4 1h0m-2 0h0m0-1h0m2 2h0m-3 1h0m0-1h0m-1-1h0m9-1h0m8 3h0m-1 0h0m1-2h0m-5-1h0m5 0h0m3 0h0m-2 4h0m-33 2h0m-1 0h0m-8 0h0m4 3h0m-1-3h0m-5 5h0m0 0h0m-11-2h0m1-1h0m-2 1h0m-6 2h0m-2 0h0m1-6h0m-3 4h0m3-3h0m-1 1h0m0 2h0m-4-2h0m-3-1h0m3 3h0m-5 2h0m6-4h0m-2 0h0m-4 3h0m-2-2h0m-1-2h0m-3 2h0m4 0h0m1-3h0m-7 0h0m1 1h0m0 1h0m-4 3h0m3 0h0m-4 0h0m-11-3h0m0-1h0m-3 0h0m-4-1h0m-7 5h0m-5-4h0m-2 0h0m-3 2h0m3-3h0m-2 5h0m3-5h0m-3 1h0m-5 0h0m-1-1h0m-3 2h0m-4 1h0m4-1h0m0-1h0m-4 5h0m-5-1h0m-2-2h0m1-1h0m-7 0h0m23 6h0m-3-2h0m6 5h0m-2-1h0m10-3h0m-1 5h0m-1-1h0m-2-3h0m6 2h0m3-2h0m-2 2h0m7 2h0m6-2h0m3 2h0m-1-4h0m6 1h0m-2-2h0m3 2h0m-2-2h0m-2-1h0m0 1h0m7 4h0m1-2h0m4-1h0m-1-1h0m3 1h0m1 2h0m8 2h0m-2-3h0m5 3h0m-2-4h0m-1-1h0m4 3h0m1-2h0m-4 3h0m4 1h0m0-5h0m4 4h0m13-1h0m12-2h0m-2 3h0m1 3h0m-8 0h0m5 1h0m-10-1h0m-11 0h0m-3 1h0m-6 3h0m0-5h0m2 3h0m-2 2h0m-5-2h0m5 0h0m-11-1h0m4-2h0m0 5h0m-4-1h0m2-4h0m-1 1h0m3-1h0m-2 5h0m-1 0h0m0-2h0m-5-2h0m2 3h0m-4-2h0m2-1h0m-5 0h0m-3 1h0m5-2h0m-11 0h0m4 4h0m-5-4h0m-1 5h0m0-3h0m-1 0h0m-8 2h0m3 0h0m-6-2h0m0-3h0m-2 3h0m1 0h0m-10-3h0m5 5h0m-3-5h0m-1 0h0m-1 0h0m-3 2h0m3 1h0m-2 0h0m-1 0h0" stroke="#9edae5" stroke-width="3.1" stroke-linecap="round" fill="none" opacity="0.86"/>
<path d="M974 849h0m0-2h0m-50 4h0m2-4h0m3 1h0m1 5h0m17 0h0m23 5h0m9-5h0m-2 8h0m-50 2h0m1-2h0m-1 0h0m-6 0h0m-35 8h0m5 0h0m127-1h0m4 2h0m10-2h0m3 1h0m-8 4h0m-146 2h0m-19-4h0m-9 2h0m1 2h0m-1 0h0m-3 4h0m162 2h0m33 0h0m4 0h0m1-2h0m25 9h0m-3-3h0m2 0h0m-5 2h0m-2 0h0m-9-3h0m2 4h0m-13-2h0m2-2h0m-5-2h0m2 6h0m1-2h0m-6 2h0m-4-4h0m-24 1h0m24 8h0m0-3h0m6 1h0m-1 0h0m-2 0h0m2 1h0m4-4h0m-2 5h0m6-2h0m-2-3h0m3 5h0m4-2h0m-1-1h0m8-2h0m-5 4h0m10 1h0m-4-3h0m10 3h0m2 6h0m0-3h0m-4-1h0m0 2h0m-9 3h0m1-1h0m-3-2h0m-7-1h0m0 3h0m-1-3h0m-5 1h0m-4 0h0m-6 2h0m0-2h0m-10 5h0m4 0h0m39-2h0m-1 1h0m-9 6h0m-1 5h0m12 3h0m10 5h0m-11 2h0m-5 1h0m0-2h0m-1-2h0m4 8h0m0 3h0m5-1h0m-4 0h0m0-2h0m3 2h0m7 0h0m-3 0h0m4-2h0m3-1h0m0 3h0m-3-1h0m5-2h0m4 4h0m2-1h0m5-1h0m1-1h0m10 6h0m1 0h0m-10 2h0m-3-3h0m-2 2h0m-2-3h0m-8 4h0m0 0h0m-8-4h0m-7 4h0m2-4h0m2-1h0m-2 1h0m-5 5h0m0 0h0m-2-4h0m-260 2h0m-3-2h0m-2 8h0m5 0h0m4-3h0m252 3h0m8 1h0m-5-3h0m3 0h0m6 1h0m14-2h0m2 2h0m1 1h0m-2-3h0m3 4h0m9-2h0m-1-2h0m-2 0h0m2 0h0m0 2h0m6-3h0m3 12h0m3-3h0m0-2h0m0 0h0m-7 4h0m-14-1h0m2-3h0m-7-1h0m-1 0h0m-1 6h0m1-1h0m-3 0h0m-9 1h0m-6-1h0m-256-2h0m0 1h0m-15 4h0m274 3h0m-4-1h0m1-4h0m4 5h0m-4 0h0m8-1h0m0-1h0m-2 0h0m1-1h0m0 3h0m31-2h0m-2-1h0m2 0h0m-2 3h0m3-4h0m1 2h0m3 4h0m-8 0h0m-14 1h0m-14 3h0m-1 1h0m-266-3h0m0 1h0m-2 0h0m-10-2h0m2 8h0m4 1h0m3-2h0m308 3h0m3-5h0m12 3h0m0 1h0m0 2h0m-1 0h0m-28 3h0m-296 1h0m-3-4h0m-2 1h0m0 0h0m1 1h0m-9 9h0m10-4h0m-1 1h0m-1 0h0m-1-1h0m5-2h0m-4 5h0m-1-1h0m2 1h0m3 1h0m304-1h0m5-2h0m9 0h0m1-3h0m5 10h0m0 0h0m-6 2h0m-6 0h0m1-3h0m1-2h0m-4-1h0m1 3h0m-4 0h0m-4 0h0m2 2h0m0 0h0m-3-4h0m-299 4h0m-1-3h0m2-1h0m-6-1h0m-3 2h0m-7 4h0m-2-5h0m0 10h0m7-2h0m-1 1h0m-2-2h0m2 1h0m-2 2h0m311-5h0m7 2h0m2 1h0m1 1h0m-3 0h0m2-2h0m2-2h0m10 2h0m1 2h0m3 6h0m0 1h0m-6-3h0m-4 2h0m1 1h0m-6 0h0m-308-1h0m-8-3h0m5 7h0m-3 2h0m299-4h0m-1 0h0m5 2h0m21 4h0m-2 4h0m4 1h0m-4-2h0m-7 3h0m3-3h0m-1 1h0m-6 0h0m-5 0h0m-4 0h0m-297-4h0m3 2h0m295 5h0m9 2h0m2-2h0m7-1h0m7 9h0m-2-1h0m-9 2h0m-3-1h0m-6 2h0m-3 0h0m1 1h0m-2 0h0m2 0h0m1 0h0m-4-1h0m-2 1h0m-1-3h0m-292 2h0m-4 0h0m0 3h0m296-2h0m0 0h0m12 1h0m1 3h0m12-1h0m3-1h0m-1 5h0m-3 3h0m0-3h0m0 0h0m-3 0h0m4 3h0m-4-1h0m4-1h0m1 1h0m-2-3h0m-4 0h0m-12 0h0m1 6h0m-1-2h0m-4 1h0m-288-2h0m-13 7h0m4-3h0m2 0h0m-2 0h0m8 0h0m-6 1h0m10 1h0m304 0h0m2-1h0m3-2h0m-7 9h0m1-2h0m-1 3h0m-5-1h0m-7 0h0m5-1h0m-8-1h0m1-1h0m0 5h0m-2-2h0m1 1h0m2-3h0m1 0h0m-1 0h0m-289 0h0m1 3h0m-3 1h0m-6 0h0m0-5h0m-4 4h0m-2 1h0m0-1h0m3-2h0m0-1h0m-10 1h0m-15 8h0m16-3h0m4 3h0m3 1h0m6-3h0m2 4h0m2 0h0m3-6h0m0 1h0m5 3h0m-1 2h0m281-2h0m8 2h0m0-4h0m7 4h0m-3-1h0m5-1h0m2-3h0m0 1h0m2 4h0m-2 2h0m1 3h0m-1-3h0m-13 3h0m-2-4h0m-1 3h0m-9 0h0m-276 1h0m0-2h0m-12 1h0m4-3h0m-9-1h0m4 5h0m-19 4h0m0-1h0m3-1h0m15 4h0m11 0h0m5-4h0m-2 5h0m279-6h0m12 3h0m1 1h0m-5 1h0m2-3h0m7-2h0m6 5h0m-2 0h0m1-1h0m12 2h0m0 3h0m-10 1h0m-1 0h0m-2-2h0m0 2h0m-7-2h0m-10 3h0m-3-2h0m-275 2h0m0 0h0m-10-2h0m-3 2h0m-4-2h0m5 1h0m-6 0h0m0 2h0m-1-5h0m-5 3h0m-9 2h0m-1 3h0m11 0h0m1 3h0m10-4h0m12-1h0m-1 0h0m13 3h0m-6 2h0m269 0h0m0 0h0m5-1h0m7-4h0m0 4h0m-4-2h0m16-2h0m4 5h0m1-2h0m0-2h0m0 3h0m4-4h0m5 8h0m-1 2h0m-8-2h0m-16 1h0m-8-4h0m1 1h0m-4 5h0m0-5h0m5-1h0m-8 2h0m-262 1h0m-1 1h0m-2-3h0m1 3h0m-4 0h0m3-1h0m1 0h0m0-1h0m-5 0h0m-5 3h0m-11 1h0m-4-4h0m-1 4h0m0-5h0m-7 0h0m-1 1h0m4 1h0m-5-3h0m0 2h0m-9 3h0m9 2h0m-1 3h0m-1-3h0m7 0h0m9 2h0m3-3h0m0 4h0m-2-1h0m-1-1h0m-1 0h0m1 0h0m-1 1h0m3 1h0m6-3h0m1 0h0m4 1h0m2 1h0m2 2h0m-4 0h0m4-5h0m-3 5h0m8 0h0m5-1h0m256-1h0m8-3h0m8 2h0m1-2h0m3 2h0m3 1h0m5 0h0m-2-1h0m-1-1h0m8 4h0m1 1h0m0-1h0m4 2h0m1 3h0m-7-4h0m1 5h0m-4-3h0m5 4h0m-3-4h0m-6 1h0m-12 2h0m-267-2h0m0 0h0m-15 1h0m-6-3h0m3 1h0m-9 2h0m-2-1h0m-9 3h0m1 1h0m1 1h0m-1-2h0m3 2h0m-1 1h0m0 0h0m4 0h0m3 2h0m1-3h0m-1 2h0m-2 1h0m4 1h0m11-4h0m-1-1h0m9 3h0m-2 2h0m-3-1h0m3-2h0m8 1h0m259-1h0m47 8h0m-1-2h0m-9 0h0m1-2h0m2 4h0m-7-4h0m0 4h0m0-4h0m-4 1h0m-1 1h0m0 3h0m-3 0h0m-3-4h0m-1 2h0m2 2h0m-4 0h0m-10-5h0m0-1h0m-278 1h0m2 1h0m-7-2h0m-1 5h0m1 0h0m1-1h0m0-4h0m-2 5h0m-1-3h0m-3 1h0m-1-2h0m-1-1h0m0 6h0m-5-5h0m2 2h0m-8-1h0m-3-1h0m6 10h0m-2 0h0m3-1h0m-4 1h0m7-4h0m-1 2h0m9-1h0m-2 0h0m2-1h0m-1 2h0m3 1h0m5-2h0m-3 2h0m5 2h0m2-3h0m-4 1h0m288-3h0m0 1h0m1-1h0m9 3h0m-3-1h0m5-2h0m-6 1h0m10 2h0m0-3h0m-4 5h0m9-2h0m1 2h0m1-4h0m0 3h0m3 1h0m1-5h0m4 3h0m-7 8h0m2-5h0m-3 0h0m-5 5h0m3-3h0m-5 3h0m0-3h0m-9-3h0m-1 1h0m1 1h0m2 2h0m3 1h0m-6-4h0m3 4h0m-1-1h0m2-1h0m-3-2h0m2 1h0m-4-2h0m0 5h0m0 0h0m0-4h0m-5 4h0m-290-4h0m-5-1h0m-8 1h0m0 0h0m0 2h0m-4 0h0m0 1h0m0 0h0m-2-3h0m-3 4h0m-2 4h0m5-1h0m4 0h0m5-1h0m8 1h0m294-1h0m2 4h0m0-4h0m4 4h0m-2-3h0m10 0h0m-4 3h0m2-4h0m4 4h0m-2-4h0m3 5h0m0-5h0m5 2h0m1 1h0m5-4h0m-5 6h0m0-3h0m3 9h0m-2 0h0m-2-1h0m1-3h0m0 3h0m1 0h0m-5-5h0m1 1h0m-1 2h0m1 3h0m-8-2h0m-1-2h0m-4 2h0m-7-2h0m1-1h0m-4 5h0m-303-3h0m-2-3h0m1 0h0m-8 10h0m5 2h0m4-1h0m307 0h0m-3 0h0m9-5h0m4 0h0m4 1h0m-3 2h0m9 0h0m2 2h0m1-3h0m2 4h0m2 4h0m-17 1h0m2-2h0m-2 0h0m4 3h0m-6-4h0m1 1h0m-1 2h0m1-4h0m-12 1h0m1 2h0m5 0h0m-1 2h0m-1-1h0m-5-3h0m1 3h0m-303-3h0m-5 3h0m-3 1h0m5-6h0m-3 2h0m3 0h0m-8 4h0m7 6h0m-2-5h0m1-1h0m-4 4h0m318-1h0m3-2h0m-2 5h0m4-6h0m-4 1h0m7 4h0m-1-3h0m5 1h0m6 1h0m2 1h0m3-4h0m-5 2h0m1 8h0m-2 0h0m1 0h0m-9-3h0m-1-1h0m-8-1h0m1 3h0m3 3h0m-9-2h0m-2 0h0m0-1h0m0 1h0m0 0h0m-305 1h0m1-1h0m-4-3h0m0 4h0m3-2h0m-1-3h0m-7 4h0m0 8h0m6-2h0m-2 1h0m2-3h0m-3 3h0m7-1h0m-2 1h0m3-3h0m-1 2h0m304-4h0m2 5h0m3-1h0m4-2h0m-2-1h0m2 0h0m7 3h0m1-2h0m6 3h0m-2-5h0m-3 5h0m6 0h0m-5 0h0m3-1h0m1 0h0m-1 1h0m3-3h0m5 3h0m-3 0h0m-2-1h0m1 1h0m-1-2h0m4 2h0m1-1h0m0 3h0m-5 0h0m-7 0h0m6 1h0m-4 3h0m-6 0h0m-1 1h0m1-3h0m-6 0h0m3 0h0m-6-2h0m-5-1h0m-1 3h0m-302 2h0m0 1h0m0-5h0m-3 2h0m3-1h0m-7-2h0m2 3h0m1-1h0m-2 1h0m1 3h0m2-2h0m-3 0h0m0-4h0m-2 4h0m-3 5h0m5 0h0m0 1h0m1-3h0m307 2h0m0 3h0m6-5h0m-5 0h0m3-1h0m1 2h0m5 0h0m2-1h0m-2 3h0m4-1h0m0-3h0m1 4h0m3 0h0m3-1h0m-1 1h0m0-2h0m0 4h0m7-5h0m1 4h0m-1 6h0m0 0h0m-1-1h0m-5-3h0m-6 1h0m3 3h0m-3-3h0m-1 3h0m3-1h0m-3 0h0m3 0h0m2 2h0m-11-1h0m3-4h0m-2 2h0m3-2h0m-10 1h0m-2 0h0m-303 3h0m-2-3h0m-2 3h0m0-2h0m-4 3h0m4 5h0m1-4h0m-1 0h0m312 2h0m6-3h0m1 1h0m7-1h0m-1 4h0m-3-1h0m3 3h0m11-5h0m-4 5h0m4-1h0m-3 1h0m2-5h0m-1 1h0m2 9h0m0-4h0m-2 3h0m2-1h0m1-3h0m-7 3h0m0 2h0m0-1h0m2-2h0m-2-2h0m-1 5h0m-3-2h0m-11 2h0m-1-3h0m-6 1h0m6 3h0m-2-2h0m0-2h0m-2 3h0m2-1h0m-4 1h0m-304-3h0m-4 4h0m-4-4h0m-1 0h0m1 10h0m0-4h0m7 3h0m2 0h0m284-4h0m-3-1h0m0 2h0m1 1h0m2 2h0m-3-2h0m5 2h0m2 0h0m5 0h0m2-1h0m1-1h0m0-1h0m-1-1h0m0 5h0m0-5h0m5-1h0m1 4h0m1 1h0m0-3h0m-1-2h0m3 4h0m0-1h0m5 0h0m-5-1h0m2 3h0m0-1h0m8 0h0m0-2h0m5 0h0m1 2h0m-4 0h0m0 1h0m4 1h0m-1-2h0m8 1h0m-4-1h0m1 2h0m3-2h0m3 0h0m2-2h0m-1 0h0m-2 3h0m2-5h0m-3 9h0m-1-2h0m5-1h0m-4 4h0m2 0h0m-8-1h0m2 0h0m1-2h0m-6 4h0m-1-3h0m1-1h0m0 1h0m-8 1h0m1-2h0m-3 0h0m-2 1h0m2-1h0m-3-1h0m2 3h0m-5 1h0m-11 0h0m2 2h0m-2-1h0m-5-3h0m-1 1h0m0-1h0m-4 2h0m0-3h0m1-1h0m1 1h0m-285 1h0m-6 2h0m-1 2h0m3-2h0m-1 1h0m-2-4h0m0 1h0m4-1h0m-5 1h0m1 2h0m-1 1h0m-1 0h0m0 6h0m0-2h0m7 0h0m283 0h0m1 0h0m3 3h0m1-1h0m-4-3h0m5 0h0m4 3h0m-2-1h0m5 1h0m6 1h0m1-4h0m3 1h0m1 2h0m2-2h0m0-2h0m2 1h0m-2 1h0m2 2h0m2 0h0m-1-3h0m12 1h0m-3 1h0m-2 2h0m2-1h0m-1-4h0m8 4h0m-2 1h0m1-5h0m7 2h0m-3-1h0m4 3h0m-3 1h0m4 3h0m0-1h0m-3 0h0m-8 2h0m-2-4h0m-1 6h0m-4-1h0m-11 1h0m3 0h0m-2-5h0m-1-1h0m-9 2h0m-2 4h0m2-2h0m-3 1h0m-6-2h0m2-2h0m-1 3h0m1-3h0m-3 4h0m-287 1h0m2-3h0m-8 2h0m2 0h0m0-2h0m2-3h0m0 5h0m-6-1h0m291 2h0m2 2h0m7-1h0m1 5h0m-2-5h0m1 4h0m-3-3h0m4 3h0m1 0h0m1-2h0m3 2h0m0 0h0m-2 0h0m-1-1h0m-1 1h0m3-2h0m4-2h0m3 4h0m-5 0h0m9-3h0m-1 1h0m-2 3h0m7 2h0m-7 2h0m-1-3h0m-2 4h0m-1 1h0m1-4h0m-7-2h0m0 0h0m-3 5h0m-7-4h0m-1 1h0m0 4h0m-1-6h0m3 10h0m0 2h0m-3-5h0m1 0h0m1 1h0m0 3h0m-3-3h0m5 2h0m1-2h0m0 1h0m19-3h0m3 1h0m-1 3h0m2 3h0m-1 4h0m-10-3h0m5 3h0m-4-2h0m-14 1h0m1-1h0m2-1h0m0 3h0m-1 1h0m-2-5h0m4 3h0m-3-1h0m0 0h0m-4 1h0m2-2h0m-3 3h0m3 0h0m-15 0h0m-4 0h0m1 1h0m-12-1h0m-2 0h0m2 1h0m-1 3h0m-2 2h0m3-4h0m6 0h0m-5 3h0m5-4h0m-2 2h0m2-1h0m-3 2h0m-1 0h0m10-3h0m0 2h0m-1 0h0m-2 0h0m4 0h0m-4-2h0m3 2h0m-3 2h0m10 0h0m-5-1h0m2 0h0m6 1h0m-1 0h0m0-2h0m9 0h0m-2 2h0m3 2h0m-5-1h0m1-5h0m2 1h0m-1 0h0m-3-1h0m11 1h0m-5 1h0m3 1h0m1-2h0m0 0h0m-2 4h0m5-4h0m9 3h0m1-2h0m0 3h0m-1 0h0m7-1h0m-3 0h0m4 2h0m-2-3h0m-2 4h0m-5 0h0m0 2h0m0-2h0m-1 5h0m3-4h0m-1-2h0m-4 4h0m-10-3h0m-4 2h0m-1-2h0m0 1h0m0-1h0m-3 5h0m-6-3h0m-5-2h0m0 2h0m0-2h0m-6 2h0m4-2h0m-1 3h0m-4 1h0m5-1h0m-5-3h0m-5 3h0m4-1h0m0 3h0m0-5h0m-1 3h0m-6-4h0m2 1h0m-202 3h0m-3-3h0m1 5h0m-11-3h0m5 1h0m-2-3h0m-9 5h0m1 0h0m4-1h0m-9 0h0m-2-2h0m-1-1h0m2 2h0m2 2h0m-5-3h0m0-2h0m-10 4h0m3-2h0m-6 3h0m-2-3h0m-5 0h0m-2-2h0m-1 2h0m-1 4h0m6 1h0m0 4h0m-1-4h0m0-1h0m4 1h0m0-2h0m3 3h0m-4 0h0m3 0h0m-2 2h0m4-2h0m10 1h0m1-1h0m1 2h0m-3-1h0m8-3h0m-3 1h0m-2 1h0m2 2h0m0 0h0m0-1h0m1 2h0m3-5h0m9 1h0m1 4h0m4-2h0m6-1h0m200 1h0m1-2h0m7 1h0m3 3h0m-3 0h0m1-1h0m7 0h0m7 1h0m3-6h0m2 4h0m3-4h0m0 2h0m-2 1h0m-2 2h0m1 1h0m-5 3h0m2 2h0m-3-5h0m3 5h0m0-5h0m1 1h0m-2-1h0m-1 2h0m-8-1h0m0 3h0m-5-2h0m0 0h0m-2 3h0m3-2h0m-8-3h0m-205 5h0m-6-1h0m0-1h0m5-1h0m0 4h0m-2-5h0m-8 3h0m-6-1h0m5 1h0m-5 0h0m4-1h0m-4 3h0m0 0h0m5-4h0m-8 3h0m-15-2h0m-6 3h0m5-4h0m-2 4h0m-6-1h0m0 0h0m2-2h0m-4 3h0m3 5h0m3 0h0m3-3h0m-3 1h0m4 3h0m-2 0h0m-2-5h0m5 3h0m4 1h0m0-1h0m-2 2h0m-3-3h0m10 2h0m0-2h0m-2-2h0m1 3h0m5 1h0m2 0h0m-1-4h0m0 5h0m0-2h0m2 1h0m-2 1h0m3-1h0m4-3h0m-4 0h0m12-1h0m-4 1h0m9 2h0m-5 0h0m4-3h0m-4 0h0m2 1h0m-1 2h0m3 2h0m2-3h0m2 2h0m0-2h0m11 3h0m3 0h0m5 0h0m8-4h0m174 0h0m-1 3h0m0 0h0m7-3h0m-5-1h0m2 5h0m1-5h0m3 4h0m0-3h0m8 2h0m4-1h0m-1 3h0m-5-1h0m4-4h0m7 0h0m-2 3h0m-1-2h0m-1 0h0m9 4h0m0-3h0m-4 7h0m-6 1h0m4 0h0m-5-3h0m1 1h0m-2-1h0m-6 1h0m0-1h0m2 0h0m-4 3h0m0 0h0m-5-2h0m1 2h0m-3-1h0m-1-4h0m-53 4h0m3 2h0m-25 0h0m-105-4h0m-4 1h0m1-1h0m-6-1h0m1-1h0m-3 4h0m3-3h0m-6 0h0m1 0h0m-4 5h0m-3-4h0m-1 1h0m1-2h0m-2 4h0m-1 0h0m-4 1h0m0-1h0m3 0h0m-1-1h0m0-2h0m0 2h0m-8 0h0m0 2h0m-2-3h0m-1 1h0m4 1h0m0-5h0m0 1h0m-2 4h0m-6 0h0m2-1h0m-9-3h0m2 1h0m-2-1h0m-5 2h0m3-1h0m-4-1h0m5 1h0m0-2h0m0 3h0m-9-1h0m1-1h0m-4 2h0m3-1h0m-2 1h0m-2-1h0m-2 0h0m19 9h0m-3 0h0m2-3h0m0 1h0m0 3h0m1-4h0m4 2h0m4-3h0m-4 3h0m1 0h0m-2-3h0m4 0h0m0 2h0m0 1h0m0-2h0m-2 0h0m-2 2h0m8-1h0m1 1h0m3-2h0m0-1h0m2 5h0m-1-3h0m-1 2h0m5-3h0m3 0h0m2 3h0m-3-1h0m2-1h0m9 2h0m4-5h0m4 1h0m-2 0h0m5 3h0m2-1h0m5 2h0m2-3h0m1 2h0m-2-4h0m7 1h0m0 5h0m-2-5h0m4 2h0m-2 2h0m5-1h0m-1 1h0m3-5h0m3 5h0m0 0h0m-1-4h0m12 4h0m-2-3h0m12-1h0m5 4h0m15-1h0m-5-3h0m3 2h0m-3 1h0m3-3h0m3 0h0m2 0h0m9 2h0m6 2h0m5 0h0m-5 1h0m3-5h0m-1 0h0m9 4h0m-2-2h0m0 0h0m11-2h0m-2 3h0m7-3h0m16 3h0m2-1h0m9-1h0m1 2h0m-2 2h0m9-1h0m0-1h0m1-3h0m1 0h0m2 0h0m1 2h0m-1 0h0m4 1h0m3 0h0m2-1h0m6 0h0m2 2h0m1-2h0m2-3h0m10 2h0m6-2h0m-1 0h0m0 3h0m-1-2h0m-2 5h0m3-2h0m-2 2h0m7-1h0m3-4h0m2 0h0m2 5h0m1-2h0m0-3h0m4 1h0m5-2h0m1 6h0m2-3h0m-1 6h0m0-1h0m-3 3h0m-3 1h0m-2-2h0m4 1h0m-9-5h0m-1 5h0m2 0h0m1-3h0m-3 3h0m3-4h0m-8 5h0m1-3h0m-2-2h0m3 0h0m-9 2h0m4-2h0m-4 2h0m-10-3h0m-1 5h0m1-5h0m-6 3h0m-7 3h0m3-5h0m-4-1h0m-7 3h0m4 1h0m2-3h0m-1 1h0m-1 1h0m-3 3h0m-2-3h0m-2 1h0m1 1h0m-3-1h0m-5-2h0m1 2h0m-1-2h0m3 2h0m-10 0h0m-9-3h0m-11 4h0m-1 0h0m-2-1h0m-3 2h0m-1-4h0m-5-2h0m-4 2h0m-24 3h0m4-2h0m-8 2h0m2-1h0m-2 0h0m-7 0h0m-7 1h0m-2-3h0m-2 4h0m-3 0h0m0-6h0m-7 5h0m0-4h0m-4 4h0m-1-3h0m-4 3h0m-1-3h0m3-2h0m1 2h0m-2-1h0m-8 0h0m1 5h0m4-5h0m-10 1h0m-8 3h0m4-5h0m-4 2h0m-4 4h0m3 0h0m0-3h0m-9 0h0m-1 1h0m4-2h0m-3 1h0m1 3h0m0 0h0m-1-5h0m1-1h0m-7 4h0m-4-2h0m-1 4h0m-3-1h0m-2 0h0m-7-5h0m-1 0h0m-6 1h0m1 4h0m-2-4h0m5 2h0m-1-1h0m0 4h0m-11-6h0m4 5h0m-1-5h0m-6 1h0m2 3h0m-5-2h0m-6-1h0m-1 1h0m1 9h0m-2-4h0m7 4h0m-2-4h0m-1 0h0m0-1h0m0 0h0m3 5h0m-2-2h0m-2 2h0m6 0h0m1-1h0m0 2h0m3-1h0m-4-2h0m2 1h0m4 1h0m5-5h0m1 5h0m0-2h0m13 2h0m0-1h0m0-1h0m5 1h0m4-3h0m2 1h0m0 1h0m0-3h0m3 3h0m-1-3h0m7 0h0m-3 0h0m8 3h0m0 0h0m-2 1h0m7 0h0m0 1h0m0-1h0m-2 1h0m11-1h0m-4 2h0m4-1h0m6 0h0m2-4h0m10 0h0m0 0h0m-1 0h0m-1 4h0m2-2h0m0-2h0m-5-1h0m12 3h0m-1 0h0m0-3h0m-4 0h0m1 0h0m4 2h0m1-1h0m8 3h0m3 1h0m2-2h0m15-1h0m-3 0h0m13 4h0m14-2h0m10-2h0m4 2h0m4-2h0m-1-1h0m2 5h0m-4-2h0m3-1h0m6 0h0m0 2h0m-1-1h0m-1 2h0m17-2h0m4-1h0m0 2h0m-3-3h0m-3 0h0m13 4h0m-1-4h0m0 3h0m11-1h0m6-1h0m-4 3h0m0-2h0m9 2h0m6-1h0m-1-1h0m0-4h0m1 3h0m6 3h0m2-2h0m-6-1h0m8-1h0m3-1h0m5 2h0m1 1h0m4 0h0m1 2h0m-1-6h0m1 4h0m-2-3h0m5 0h0m4 2h0m-3-2h0m-1 1h0m1 0h0m3 0h0m-1 6h0m-1 0h0m-2-1h0m3 1h0m-2-2h0m1 3h0m-8-1h0m-6 1h0m2-2h0m-1 2h0m-3-2h0m-8 1h0m-4-1h0m-8 2h0m-3 3h0m-5-3h0m-1-3h0m1 3h0m-3 3h0m-1-5h0m0 4h0m0-4h0m-1 5h0m-8 0h0m3-2h0m-2 1h0m-1 0h0m3 0h0m-2-3h0m-3 1h0m-4 0h0m2 1h0m2 1h0m1-1h0m0 0h0m0 0h0m-10-2h0m4-2h0m-9 6h0m4-5h0m-3 2h0m0 0h0m0-2h0m-7 3h0m0-1h0m-6 2h0m2-4h0m-4 0h0m-9 1h0m-3 0h0m-15 3h0m-5 0h0m-9-3h0m-1 1h0m2 2h0m-8-4h0m-5 1h0m-5-1h0m-3 1h0m-5-2h0m-3 2h0m-2-1h0m2 5h0m-5-6h0m-2 2h0m-5-2h0m-2 4h0m-7 0h0m1 1h0m-2 1h0m-3-2h0m0 0h0m4 2h0m-5-1h0m0-1h0m-5-4h0m-2 5h0m4-1h0m-4 0h0m1 2h0m5-4h0m-4 3h0m1-1h0m-6 0h0m1-1h0m0 3h0m1-2h0m-1-1h0m-9 0h0m1 0h0m1 1h0m-6 1h0m-3-4h0m2 4h0m2-3h0m-7-1h0m-5 1h0m-2-2h0m-6 0h0m-3 3h0m-5-3h0m-1 0h0m-17 2h0m46 6h0m5 2h0m0 1h0m-2-3h0m4 3h0m-1-1h0m-2 1h0m10-1h0m0 1h0m-1-3h0m-1 0h0m0 0h0m-3 2h0m3-4h0m1 2h0m7 1h0m-6-2h0m1 1h0m1 1h0m2-1h0m-3 3h0m1-1h0m-1 0h0m0-3h0m4 4h0m6-4h0m-4 0h0m2 1h0m-1-2h0m7 2h0m-1 2h0m0-1h0m0 1h0m1 0h0m-1 0h0m17 0h0m2-1h0m3-1h0m4-2h0m20 3h0m-2 2h0m2-3h0m1 2h0m6-1h0m8 1h0m1 0h0m5 2h0m13-2h0m-3 2h0m0-1h0m6-2h0m0 1h0m7 1h0m-1-1h0m7 2h0m5-1h0m16-1h0m0-3h0m4 2h0m2-2h0m1 4h0m-6-2h0m3-2h0m1 3h0m2-3h0m-3 1h0m0 1h0m4 2h0m0-2h0m1-2h0m0 2h0m9 2h0m-4-2h0m4-1h0m0 2h0m-2 1h0m1-4h0m-2 3h0m3 0h0m2-1h0m-1 0h0m1 2h0m2-2h0m-2 3h0m4-4h0m7 2h0m-5 1h0m6-4h0m3 4h0m-3-1h0m2 5h0m1 0h0m-8-3h0m-2 1h0m1-1h0m0 3h0m3-1h0m1 1h0m-10-2h0m0-1h0m2 5h0m-4-3h0m-1 0h0m2-1h0m-6 1h0m-2-1h0m-1-1h0m-8 1h0m3 3h0m-4-4h0m6 2h0m-2 3h0m1-4h0m-2 3h0m-2 1h0m-2-3h0m0 2h0m-3-4h0m3 5h0m-2-2h0m-9 2h0m1-3h0m5 0h0m-10 3h0m-7-4h0m2 4h0m-9 1h0m4-1h0m0 0h0m-1 0h0m0 1h0m-10 0h0m-1-6h0m-2 6h0m1-5h0m-1 4h0m-2 0h0m2-4h0m1 2h0m-14 2h0m4 0h0m0-2h0m-16 0h0m-6-2h0m-3 0h0m2-1h0m-9 3h0m-5-3h0m-10 4h0m6 2h0m-4-6h0m-7 6h0m5-5h0m-1 4h0m-10 0h0m-4 1h0m-8-1h0m3 0h0m-6-1h0m-2-4h0m0 4h0m-9-3h0m-1 3h0m-7 0h0m19 3h0m-1 4h0m2-2h0m0-3h0m-4 4h0m-1-3h0m7 4h0m5-2h0m3 1h0m3 2h0m4-2h0m3 1h0m-1-4h0m10 3h0m-3 2h0m0 0h0m7-1h0m3-4h0m3 1h0m0-2h0m0 6h0m5 0h0m5-4h0m-2 2h0m6 0h0m-1 1h0m5-2h0m7 2h0m-3-3h0m2 4h0m6-6h0m-2 5h0m10-2h0m-2-2h0m-2 2h0m2-1h0m0 0h0m9 0h0m-3 0h0m1-1h0m3 1h0m5-2h0m4 0h0m-2 1h0m2 0h0m6 5h0m0-1h0m1-1h0m0-1h0m-4 0h0m2 0h0m10 0h0m-3 0h0m1-1h0m0 2h0m-1 2h0m0-3h0m0-3h0m1 6h0m-2-5h0m2 5h0m2-2h0m9 0h0m1-1h0m0 3h0m2-3h0m0 2h0m0-2h0m8 1h0m7-3h0m5 0h0m-32 7h0m-6 0h0m4 0h0m-8 2h0m-1-3h0m3-1h0m1 4h0m-8-1h0m-9 3h0m3-6h0m-1 3h0m-2-2h0m-2 4h0m-7 0h0m-2-2h0m2-3h0m-3 1h0m-5 5h0m3 0h0m1-4h0m-2-1h0m2 0h0m0 1h0m-7 3h0m-4-4h0m6-1h0m-5 2h0m0-1h0m-1 1h0m-1 3h0m-12 0h0m-1 0h0m-8-3h0m-1-2h0m1 0h0m3 1h0m-6 2h0m-7 1h0m0-3h0m0 1h0m1 3h0m-10-4h0m1 1h0m2 0h0m-6-1h0m-4 1h0m-2 4h0m1-2h0m-2 0h0m-9 1h0m0-2h0m0 2h0m0 0h0m-3-2h0m26 6h0m0 2h0m-3 0h0m-1-1h0m5-2h0m5 3h0m5-2h0m3 0h0m2 2h0m2-3h0m1 0h0m1 4h0m3-5h0m7 0h0m-4 1h0m2 0h0m2 0h0m-3 1h0m2-2h0m8 2h0m0 2h0m-4-1h0m1-1h0m6 2h0m6 0h0m2-3h0m-2-1h0m7 5h0m-2-3h0m0-2h0m3 2h0m-2-2h0m-1 3h0m10 0h0m-2-1h0m3 1h0m4-3h0m-4 0h0m13 3h0m2-2h0m3 2h0m6 0h0m-1 8h0m-3-3h0m-4-3h0m0 2h0m-17 0h0m5 1h0m-8 1h0m-7 1h0m-9 1h0m-1-5h0m1 0h0m-3 2h0m-4-1h0m-3 2h0m0-2h0m4 1h0m-3 3h0m2-4h0m-8 2h0m2 2h0m-1-1h0m0-1h0m-3-2h0m4 2h0m-9 0h0m0-4h0m2 4h0m-1 0h0m1-1h0m2 1h0m-4-3h0m-5 3h0m2-2h0m-4 2h0m-3-2h0m2 1h0m-2-3h0m-7 1h0m1 0h0m2 3h0m-2 0h0m1-3h0m2 4h0m-2-5h0m-6 0h0m-1 1h0m1 1h0m-2 0h0m-1 0h0m1-2h0m1 2h0m-3-1h0m-3 1h0m3-1h0m-1 3h0m-1 0h0m2-3h0" stroke="#9edae5" stroke-width="3.1" stroke-linecap="round" fill="none" opacity="0.86"/>
<path d="M972 851h0m-17 1h0m0 0h0m0-2h0m-23-1h0m1 1h0m-9 7h0m12-3h0m19 1h0m10 2h0m-4 0h0m9-2h0m-1-3h0m1 1h0m10 7h0m1 1h0m-5-2h0m-14 2h0m-36 0h0m0-1h0m-1 4h0m-2-3h0m-17-2h0m-17 3h0m0 4h0m129 0h0m1 0h0m1 0h0m9 3h0m3-2h0m0 1h0m-1 2h0m-8 6h0m-5-4h0m-128 1h0m-8 2h0m-14-4h0m-12 2h0m157 8h0m3 0h0m-2 1h0m37-2h0m-1-1h0m15 2h0m2 0h0m1 6h0m0-3h0m3 3h0m-1-1h0m-5-4h0m0 0h0m0 1h0m1-1h0m-3 5h0m4 1h0m-6-2h0m-4-2h0m-1 0h0m-5 1h0m-2 1h0m0-4h0m-1 4h0m-1 0h0m-19 8h0m15-3h0m1-1h0m-1 2h0m-2 0h0m-2 1h0m4-1h0m-2-4h0m-1 2h0m9 4h0m3-2h0m6-2h0m-1 2h0m11-4h0m-6 2h0m5 0h0m-1-1h0m2 1h0m8 1h0m-1-1h0m0 5h0m-1 2h0m-1 1h0m-4 0h0m-12-1h0m3-1h0m1 3h0m-2-2h0m-3 1h0m0 1h0m-2 0h0m-4-2h0m2 3h0m-1-2h0m-1-2h0m-10-1h0m1 2h0m0 3h0m-2-2h0m2-3h0m-12 3h0m3 6h0m0 0h0m17-2h0m0 0h0m1 2h0m9-3h0m9 1h0m5 3h0m-34 2h0m19 6h0m4 1h0m24 5h0m-20 5h0m0-4h0m-17 1h0m-235 5h0m-1 0h0m254-1h0m-4 3h0m2-3h0m3 2h0m-3-1h0m2 0h0m0 2h0m12-3h0m1 4h0m0-2h0m3-3h0m9 6h0m1-2h0m13 4h0m-4 1h0m1-1h0m-9 2h0m3 2h0m-7-1h0m2-4h0m-10 0h0m-3-1h0m0 3h0m-4-1h0m-3-1h0m-2-1h0m3 1h0m-3-1h0m-4 5h0m1-3h0m-3 0h0m-1 3h0m-250-3h0m-14 3h0m1-1h0m3 0h0m-5 8h0m4-4h0m1-1h0m2 0h0m262 3h0m-3-1h0m12-2h0m8 2h0m1 0h0m-4-1h0m11 1h0m-1-3h0m-4 1h0m1 2h0m4 0h0m3 2h0m8 0h0m-4-5h0m4 3h0m0 0h0m-2-3h0m4 3h0m3 3h0m-2 1h0m-11 0h0m0 0h0m-3 1h0m-3 0h0m-9 3h0m-7-5h0m-12 0h0m-253 3h0m-1 1h0m1-1h0m1-1h0m-1-2h0m-5 3h0m-6-3h0m-3 3h0m-1 8h0m271 0h0m5-1h0m0 0h0m8-2h0m15 4h0m11-4h0m-4 1h0m0 5h0m0-1h0m-1 1h0m-5 1h0m4-2h0m-9 0h0m-2-1h0m-1 2h0m-10 3h0m-4-4h0m-8 0h0m-259 4h0m1-4h0m-6 1h0m-7 0h0m4 0h0m-4-1h0m1 9h0m3-2h0m4 2h0m3-3h0m-4 5h0m0-1h0m288-4h0m17 4h0m2 1h0m-1-1h0m18 0h0m-6 7h0m-3 0h0m-12-3h0m-7-1h0m1 3h0m-296-1h0m2-2h0m-2 2h0m-2 2h0m-7 2h0m-3 3h0m3-2h0m3 2h0m-1 0h0m1-3h0m-1 3h0m2-4h0m6 4h0m297-1h0m9 0h0m8-3h0m-2-1h0m3 5h0m2 1h0m-2-1h0m1-4h0m7 4h0m0 5h0m-5-1h0m-1-3h0m2 5h0m0 1h0m0-6h0m0 0h0m-16 3h0m-1-2h0m-4 0h0m-300-1h0m-5 2h0m-4 9h0m-3-2h0m3 0h0m-2 2h0m6-2h0m3 1h0m1 1h0m299-1h0m-2 1h0m20 0h0m-3-2h0m2-3h0m-2 5h0m10-5h0m0 3h0m1-1h0m-3 4h0m-1 3h0m-5-3h0m1 2h0m-6 1h0m-1 1h0m-1-1h0m-11 0h0m-296 0h0m-1-2h0m2 1h0m3-2h0m-14 1h0m1 4h0m15 5h0m292-3h0m2-1h0m10 4h0m11 1h0m2 0h0m-5 6h0m2-3h0m-2 1h0m-3 1h0m-2 0h0m-3 1h0m-11 0h0m-4-4h0m-293 4h0m0-1h0m-2-3h0m-21 9h0m10 0h0m5 2h0m6-2h0m309-2h0m3 0h0m4-1h0m-2 2h0m-1-1h0m4 0h0m0 1h0m6 3h0m-5 2h0m-1 2h0m1-3h0m-9 3h0m-4 1h0m4-4h0m-1 4h0m1-3h0m-2 1h0m-9 1h0m-1-3h0m0 4h0m-3 1h0m2-1h0m-292-3h0m1-1h0m1 5h0m-7-3h0m2 0h0m-3 3h0m-6-1h0m-13-1h0m0-3h0m17 8h0m3-1h0m300 3h0m1-3h0m4-2h0m4 4h0m13-1h0m2 0h0m0 6h0m-6-2h0m0 2h0m0-3h0m-3 2h0m1 3h0m-4 0h0m3-1h0m-4-1h0m-5-1h0m0-2h0m-4 3h0m-4 3h0m-2-1h0m-1-1h0m-282 0h0m-4-3h0m-1 4h0m-22-1h0m0 1h0m-2-1h0m18 4h0m-2-1h0m8 1h0m-1-1h0m-1 0h0m294 0h0m3 3h0m17-3h0m-2 2h0m5 3h0m-10 6h0m-13-6h0m4 1h0m-3 3h0m-286-3h0m1-1h0m-4 0h0m5 4h0m-2 0h0m-8 1h0m2 0h0m-1-1h0m-1 2h0m2-4h0m-2 2h0m1 1h0m-5 1h0m-1-3h0m-12-2h0m-5 1h0m8 9h0m9-2h0m7 3h0m-3-1h0m1-2h0m3-2h0m-2 3h0m290 2h0m0-1h0m1 0h0m7-2h0m4-2h0m3 1h0m5 1h0m0 5h0m-6-1h0m0 1h0m-7 3h0m-9-2h0m0-3h0m-285 3h0m0 0h0m-5-1h0m-7 4h0m-15 0h0m21 1h0m-2 0h0m2 3h0m2-2h0m6 0h0m11 2h0m0-2h0m281 0h0m-4 3h0m7-1h0m-2 0h0m1-2h0m8-2h0m2 5h0m7-2h0m0 1h0m11 7h0m-4-4h0m-7 4h0m0-4h0m-4-1h0m0 1h0m-8 0h0m-4 3h0m-5 2h0m-6-1h0m-272 1h0m0-1h0m-22-1h0m-1 2h0m1-2h0m1-3h0m1 2h0m-2 1h0m1 3h0m-1 2h0m-2 1h0m-1 1h0m10-5h0m-1 3h0m0-2h0m5 1h0m-2-2h0m14 4h0m6-4h0m-2 4h0m4 0h0m-4-4h0m4 3h0m271-3h0m4 2h0m-4 0h0m1-1h0m-1 2h0m5 2h0m7 1h0m5 0h0m0-6h0m7 4h0m2 0h0m4 6h0m-5 0h0m3 1h0m-4 0h0m-14-3h0m-1-2h0m1 6h0m-5-4h0m-1-2h0m0 5h0m-7-1h0m-1-3h0m-1 0h0m-1 1h0m-3-1h0m2 3h0m-1 1h0m2 0h0m-263 0h0m-5-1h0m0-3h0m1 5h0m-1-3h0m-4 1h0m-5 2h0m-5-5h0m-2 3h0m-6-4h0m-5 3h0m-1-1h0m-13 0h0m9 7h0m5-1h0m-4 0h0m0 4h0m4-5h0m10 1h0m1 2h0m-2 0h0m0-3h0m6 4h0m3-2h0m-4 2h0m11 1h0m0-5h0m-2-1h0m2 1h0m-6 3h0m12-4h0m-3 5h0m-3-3h0m6-2h0m4 4h0m3 0h0m255-2h0m-1 2h0m5 1h0m6-3h0m11-1h0m2 1h0m1-1h0m9-1h0m2 4h0m3 0h0m-5 3h0m0 4h0m-3-3h0m-1 3h0m-11-4h0m-4 1h0m0 0h0m-12-1h0m5 4h0m-1-5h0m-2 0h0m-3 5h0m-262-5h0m-10 1h0m1-1h0m-10 2h0m2-1h0m-4 0h0m-3 1h0m2 0h0m-2 3h0m-5 1h0m-2-2h0m-7-3h0m0 0h0m-6 2h0m11 4h0m2 1h0m11 3h0m-4-4h0m11 4h0m-1-3h0m5-2h0m6 0h0m2 4h0m-5-3h0m0 4h0m6-3h0m2 4h0m261-2h0m1-4h0m3 2h0m8 3h0m2 0h0m8 0h0m-3 0h0m6-4h0m6 5h0m0-4h0m17 7h0m-4 3h0m-2-5h0m3 4h0m0-1h0m3 2h0m-12-3h0m6-2h0m-8 4h0m-3-1h0m-6 1h0m-1-4h0m-5 4h0m2-2h0m-2-2h0m3 3h0m-1 1h0m-4-2h0m-280 0h0m-5-2h0m-2 3h0m3-3h0m-1 3h0m-8-2h0m2 2h0m-7-3h0m1 4h0m0-5h0m-3 4h0m-1 0h0m2-2h0m-10-1h0m-1 0h0m-3 11h0m5-1h0m8-4h0m14 4h0m3 0h0m-1-5h0m284 1h0m3 3h0m4-4h0m1 6h0m0-6h0m9 6h0m1-6h0m3 5h0m-1 0h0m6-5h0m2 6h0m-4 3h0m-2 0h0m-2 0h0m1 2h0m2-2h0m-10-1h0m2 2h0m-1 0h0m4 1h0m-2-1h0m3 1h0m-7-2h0m-2 0h0m-2 2h0m4 1h0m-9-2h0m0 0h0m-2 1h0m6-3h0m-3 2h0m-295 0h0m-1 2h0m-11-4h0m0 3h0m-6 0h0m2-4h0m1-1h0m-6 5h0m0 0h0m7 7h0m3-6h0m0 1h0m8 1h0m1 1h0m294 0h0m3 1h0m-1-2h0m1-1h0m3 2h0m-2 2h0m0-3h0m4-1h0m1 5h0m6 0h0m3-5h0m-5 3h0m2-4h0m9 5h0m-2 1h0m-2-6h0m1 2h0m8-1h0m-3 5h0m0-5h0m5 3h0m-3 6h0m-4-1h0m5-1h0m-5 3h0m-2-2h0m-1 2h0m-5-1h0m0-3h0m2 0h0m-9 5h0m0-3h0m-8 1h0m4 1h0m0-1h0m-309-3h0m-3 4h0m-7-1h0m4 5h0m2 2h0m0 0h0m-1 1h0m-1-6h0m7 4h0m-2-2h0m306 3h0m6-2h0m2-2h0m-2 3h0m2-3h0m4-1h0m-1 3h0m11-2h0m-2 0h0m-2 1h0m11 0h0m-2 8h0m0 0h0m-5-4h0m-1 1h0m1 2h0m-2 1h0m-5-2h0m-4 3h0m0 1h0m-6-5h0m5 2h0m-4 1h0m1-2h0m1 1h0m0-1h0m1-1h0m-7 4h0m-309-3h0m0 2h0m-5 2h0m-1-3h0m-2 3h0m7 5h0m-4 0h0m3-2h0m-2 0h0m313-2h0m3 5h0m2 0h0m1-1h0m-2 1h0m0-2h0m4 1h0m5 1h0m7-3h0m0-3h0m-1 4h0m-1-1h0m0 2h0m5-5h0m2 3h0m-1-2h0m-2 5h0m0 5h0m-2 1h0m-5-1h0m-5-1h0m-7-3h0m-5 4h0m1 0h0m-3-2h0m-304 0h0m-2 2h0m1 1h0m-3-6h0m0 6h0m-3-6h0m-1 3h0m2 4h0m3 3h0m5-3h0m-2 5h0m0-5h0m310 3h0m-3 1h0m2 1h0m-3-2h0m7 1h0m3-3h0m1 1h0m5-2h0m0 1h0m0 2h0m-1-2h0m7 3h0m-4 0h0m-1 0h0m8-4h0m3 2h0m1-2h0m-4 2h0m3 0h0m2 2h0m-6 7h0m-5-1h0m3-4h0m1 4h0m-11 1h0m3-4h0m-2-1h0m-3 2h0m-4 2h0m1-3h0m3 1h0m-10 2h0m2-4h0m-2 1h0m0 0h0m1 3h0m-306 1h0m0-5h0m-4 1h0m1 2h0m-4-3h0m4 3h0m-7-2h0m1 8h0m-1-4h0m8 3h0m-1-3h0m2 6h0m310-6h0m1 1h0m-5 0h0m1 3h0m8-3h0m-2 0h0m1 1h0m-2 0h0m3 1h0m13 1h0m-1-3h0m2 3h0m-2-2h0m-1 0h0m-1-1h0m1 3h0m4 2h0m5 1h0m-3 2h0m0 0h0m0-3h0m3 1h0m-3 3h0m-3-3h0m-1-1h0m-4 4h0m0-2h0m1 3h0m4-4h0m-4 5h0m-6-6h0m2 3h0m1 2h0m-3 0h0m1-1h0m-8-1h0m-3-2h0m2 4h0m-6-2h0m0-3h0m-305 6h0m0-4h0m0-1h0m-3 0h0m2 5h0m-4-2h0m-2-3h0m319 7h0m4-2h0m-2 1h0m0 1h0m1 2h0m-1-3h0m6 0h0m0-1h0m3 0h0m6 5h0m-2-2h0m-2-3h0m9 1h0m-5 0h0m1 11h0m-4-3h0m2 0h0m-4-1h0m2 1h0m2-3h0m-4 2h0m-2 0h0m-3-2h0m-7 2h0m-3 1h0m1 0h0m-2 0h0m0 1h0m-6 1h0m0 0h0m-303-1h0m1-1h0m-3 3h0m-2-6h0m-4 1h0m3 9h0m1-4h0m2 3h0m1-3h0m-3 6h0m0-5h0m6 0h0m-2 1h0m287-1h0m-1 2h0m3 3h0m2-2h0m2-3h0m-4 4h0m8-3h0m9 3h0m-2-1h0m-3 0h0m4 1h0m-3 1h0m-2-5h0m7 2h0m2 2h0m2-4h0m5 4h0m-1-1h0m7-3h0m-2 0h0m2 2h0m-2 0h0m9 1h0m1-1h0m-2 2h0m-1 0h0m2 0h0m3 0h0m-2-1h0m1-1h0m6 5h0m-6 3h0m4-4h0m-1 2h0m-7 3h0m-3-4h0m4-2h0m-10 2h0m3 3h0m1-5h0m-5 1h0m0 2h0m-2-3h0m-2 6h0m3-4h0m-7 4h0m-8-4h0m1 3h0m-4-2h0m-2-1h0m-1-1h0m4 1h0m1-2h0m-9 4h0m-1 0h0m-5-3h0m1 3h0m0 1h0m-286-1h0m1 2h0m2-6h0m-5 2h0m-2 3h0m0 0h0m4-4h0m-6-1h0m1 1h0m3 2h0m0 0h0m-1-2h0m0 4h0m-2-2h0m2 1h0m-4-1h0m0 7h0m4 2h0m-1-3h0m0 2h0m-1-2h0m8-1h0m-2 1h0m-1-3h0m2 4h0m283 0h0m-1-3h0m1 3h0m0-3h0m-1 0h0m8-1h0m-3 5h0m0-2h0m2 1h0m5-3h0m4 3h0m2-3h0m1 0h0m0 1h0m5-1h0m1 0h0m0 3h0m0-3h0m0 1h0m3 1h0m-5-1h0m6-1h0m-1 0h0m2 1h0m4 3h0m-2 0h0m1-2h0m2 2h0m7 1h0m3-1h0m-1-1h0m2-1h0m-2 2h0m7-4h0m-3 0h0m-1 2h0m1-3h0m-2 10h0m6-1h0m-2-2h0m-3 2h0m-5 1h0m3-4h0m-2 0h0m-2 3h0m1-3h0m-1 5h0m-2-3h0m-3 4h0m-1-2h0m3-3h0m-3-1h0m1 2h0m-4 3h0m-4-4h0m4 1h0m-7 2h0m-2-3h0m2 0h0m-1 4h0m1-3h0m0-1h0m-3 0h0m-1 4h0m-10 0h0m4-3h0m-8-2h0m1 2h0m0 0h0m-5 2h0m-289 2h0m0-6h0m-4 3h0m4-3h0m-1 5h0m0-2h0m2 1h0m287 2h0m0 1h0m8 1h0m3 1h0m1-2h0m-1 2h0m6 2h0m0 1h0m-2-3h0m3 3h0m3-1h0m5-5h0m8 1h0m11 0h0m-24 11h0m-1-6h0m2 6h0m-5-2h0m3-1h0m-1-1h0m0 2h0m-2-2h0m-9 2h0m3-1h0m-1-2h0m-1-1h0m-2 1h0m-1 0h0m1 2h0m-10 2h0m1 1h0m3-1h0m-1 4h0m-1-2h0m0 1h0m2 0h0m6-1h0m-4 3h0m-1 0h0m11-3h0m0 4h0m11-3h0m-1-1h0m-1 3h0m2-3h0m2 8h0m-1 2h0m-12 0h0m-9-5h0m-1 2h0m0 2h0m0-3h0m0 2h0m1-2h0m-4-1h0m1 2h0m-2-1h0m2 0h0m0-1h0m0 0h0m-1 1h0m-9 4h0m1 1h0m-20 5h0m-1-4h0m-1 2h0m1 0h0m-1-2h0m6 1h0m1-1h0m-5 1h0m4-1h0m-2 1h0m8 1h0m2 1h0m-2 0h0m1-2h0m0 2h0m6 2h0m0-3h0m0-2h0m3 5h0m2-2h0m5 0h0m-1 1h0m3-3h0m-3 2h0m0 1h0m1-3h0m-1 2h0m-2 2h0m1-1h0m3-1h0m-2-1h0m2 2h0m-1-4h0m5 0h0m-1 3h0m3-1h0m-1 1h0m7-1h0m-2 0h0m3 2h0m8-4h0m-1-1h0m3 4h0m2-3h0m-4 2h0m1 4h0m-6 1h0m-2 2h0m5-1h0m0-2h0m-3 0h0m-6 2h0m2 0h0m-14 3h0m2-5h0m2 5h0m-3-2h0m1 2h0m-5-2h0m-9-2h0m-7 0h0m3-1h0m-2 2h0m0-3h0m3 1h0m0 1h0m-9 1h0m1-1h0m1 2h0m-3 0h0m-203-2h0m-5 1h0m-1 1h0m-13 0h0m4 2h0m-10-5h0m0 4h0m1 0h0m3-4h0m-9 4h0m1-1h0m-1 0h0m-1-1h0m1 0h0m-7 2h0m5 0h0m-8-4h0m-7 3h0m-1 2h0m-3-4h0m0-1h0m0 9h0m6 2h0m6-3h0m-4 0h0m10 0h0m3 1h0m6-3h0m9 1h0m-5 0h0m9 2h0m3-1h0m-3 0h0m6 1h0m-2-2h0m1-1h0m0 4h0m1-1h0m3 1h0m0-3h0m1-2h0m-1 4h0m203-3h0m6 2h0m-1-2h0m-1-1h0m9 1h0m-6 4h0m1 1h0m2-6h0m-2 5h0m9-5h0m5 4h0m-1 1h0m0-3h0m2 1h0m1 1h0m2 0h0m1 2h0m0-1h0m0-1h0m-2 0h0m2 4h0m1-2h0m1 1h0m-1-1h0m-1 0h0m-1 4h0m-2 1h0m-2-4h0m-8 3h0m1-2h0m-6 0h0m2-1h0m-3 4h0m4 0h0m-8-3h0m-2 1h0m-2 3h0m-2-4h0m2-1h0m-208 3h0m2-2h0m2-1h0m-7 4h0m-4-2h0m5-2h0m-6 4h0m-6-3h0m-2 1h0m-8 1h0m-1-1h0m-3-1h0m-3-1h0m5-1h0m-9 1h0m0 2h0m-5 1h0m-4 2h0m11 1h0m0 1h0m2-1h0m2 3h0m10 1h0m-3-4h0m2 5h0m0-2h0m-1-3h0m-3 1h0m3 1h0m-3-1h0m0 3h0m3 1h0m-3-4h0m3 1h0m1-1h0m-1 3h0m6 0h0m1-2h0m-2 1h0m0-4h0m4 3h0m5 1h0m-4 0h0m9 2h0m-4-1h0m1-2h0m1-2h0m2 0h0m-5 4h0m11-1h0m1 0h0m-6 1h0m4-1h0m-3-1h0m0 0h0m5 2h0m0-1h0m2-3h0m-1 2h0m-1 0h0m12 3h0m3-2h0m1-1h0m188 1h0m11 1h0m-1-2h0m4 2h0m7 1h0m3-6h0m1 2h0m3-1h0m0 4h0m-3-1h0m-1 7h0m0 1h0m-10-2h0m-1 2h0m-1-2h0m2-3h0m-12 0h0m-3 2h0m-43 3h0m-18-1h0m-12 0h0m-14 1h0m-98-2h0m3-2h0m-1 4h0m-1-1h0m4 0h0m-2-5h0m2 5h0m-4-3h0m2 3h0m-2 1h0m-5-6h0m4 5h0m-4-2h0m3-1h0m0 0h0m-6-1h0m1-1h0m-3 1h0m-7 4h0m2 1h0m-3-3h0m-6 2h0m5-2h0m-4 0h0m4 0h0m-6-2h0m4 2h0m-2-3h0m0 5h0m-2 0h0m-3 0h0m0-4h0m2 1h0m-7 2h0m-2-4h0m0 5h0m-1-3h0m1 0h0m-6-2h0m2 0h0m-2 0h0m-7 3h0m4-3h0m1 2h0m-10-2h0m3 1h0m-10 2h0m5-1h0m-3-1h0m-3 2h0m0 0h0m17 6h0m-1 1h0m2 0h0m3-1h0m-1 1h0m2-3h0m4 4h0m7-1h0m-1-1h0m4 3h0m6-6h0m1 5h0m1-5h0m1 2h0m1 1h0m4 0h0m6-3h0m-1 2h0m5 1h0m2-2h0m0 4h0m3-4h0m0 1h0m-3 1h0m5 2h0m4 0h0m5-5h0m2 2h0m-4 3h0m6-5h0m0 4h0m3 1h0m1-2h0m-5 1h0m3 0h0m6 0h0m-4-2h0m2 3h0m-2-2h0m4-2h0m0 4h0m1 1h0m2-3h0m4 1h0m0 2h0m-3-2h0m2-2h0m1 0h0m-1-2h0m4 5h0m3-3h0m-4 4h0m2 0h0m-2-4h0m6 3h0m14-1h0m1 1h0m19-4h0m12 3h0m6 0h0m12 2h0m2-4h0m3 0h0m4-1h0m13 4h0m4 1h0m28 0h0m2-3h0m5 2h0m-1-3h0m-4 1h0m5 2h0m4-1h0m-3-2h0m1-1h0m5 0h0m3 2h0m-1-1h0m5-1h0m1 3h0m5 0h0m1 1h0m-1-5h0m3 2h0m-1-1h0m1 2h0m5 3h0m-3-5h0m3 2h0m12 2h0m2-2h0m-2 2h0m0-4h0m3 4h0m-3 7h0m-2 0h0m2-4h0m2 4h0m-7-4h0m-4 1h0m1-3h0m0 2h0m-1-2h0m4 2h0m-3-2h0m-7 4h0m2-1h0m-1 0h0m-1-2h0m2 4h0m-9-1h0m3-4h0m-4 2h0m1 3h0m-10-2h0m-3-1h0m-3 2h0m-5-2h0m-2 3h0m4-1h0m-1 2h0m0-6h0m2 4h0m-5-3h0m-4 3h0m3 0h0m-4 1h0m-2 0h0m0-1h0m-1 0h0m0 0h0m-10-1h0m0 1h0m2 2h0m-5-1h0m2-3h0m-14 1h0m-6 2h0m-4-5h0m-3 5h0m-7-4h0m3 3h0m-7-1h0m-6 2h0m-5-4h0m-4 5h0m-5-1h0m0 0h0m-4-4h0m0 3h0m-8 1h0m1 0h0m-3-1h0m4 0h0m0 1h0m-20 0h0m-8-2h0m5 3h0m-1-5h0m-6 3h0m-4 1h0m-4-4h0m2 0h0m1 4h0m-8 1h0m-2-2h0m5-4h0m-3 3h0m-5 0h0m1-1h0m-7 2h0m2 1h0m-11-4h0m1 2h0m1-2h0m0 3h0m0 1h0m-1-4h0m-6 2h0m1 2h0m-1 0h0m2-3h0m-4 3h0m5 0h0m-6-4h0m-5 3h0m1-2h0m0 1h0m3-1h0m0-1h0m-4 2h0m-10 0h0m1 2h0m2 0h0m-9-2h0m1-1h0m0-1h0m1 0h0m-3 2h0m-5-3h0m1 0h0m3 2h0m-5 3h0m-4-1h0m3-1h0m-3 0h0m-4 0h0m0 1h0m-7-2h0m-3 2h0m0 2h0m-2 5h0m0-1h0m0 0h0m6-3h0m0 4h0m-5-1h0m10-4h0m1 4h0m3 0h0m0-3h0m6 4h0m-1-1h0m3 1h0m2 1h0m-2 0h0m4-1h0m2-5h0m0 5h0m-2-4h0m1 0h0m0 1h0m8 3h0m-5-4h0m0 5h0m2-4h0m10 1h0m6 1h0m-4 0h0m3 0h0m-3 1h0m4-4h0m5 0h0m-2 1h0m-1 4h0m1-1h0m4-3h0m3-1h0m-3 0h0m2 3h0m3-1h0m-3 0h0m0-1h0m4 0h0m7 1h0m4-2h0m-1 3h0m-4 2h0m4-1h0m2-3h0m6 3h0m14 1h0m3-6h0m-3 4h0m8 0h0m-3 0h0m7-2h0m8-2h0m8 1h0m11 0h0m-1 1h0m1 1h0m11 0h0m1-2h0m11 0h0m5-1h0m-3 5h0m1-4h0m4 0h0m5 3h0m-2-2h0m-2-1h0m7 4h0m1 1h0m-1-4h0m7 2h0m-2-2h0m8 4h0m-3-1h0m12-4h0m-3 2h0m13-2h0m-2 4h0m1-3h0m8 2h0m1-3h0m-5 2h0m2 3h0m5-3h0m3 2h0m-5 0h0m6-4h0m3-1h0m-1 4h0m-1 2h0m-1-6h0m4 1h0m6-1h0m-1 3h0m2 1h0m0-4h0m0 2h0m0 4h0m2-5h0m2 3h0m0-2h0m-3-1h0m8 1h0m3 4h0m3-4h0m-1-1h0m9 0h0m4 0h0m-12 8h0m3-1h0m-2-1h0m-7 1h0m-7 0h0m0-2h0m2 5h0m2-2h0m-3 3h0m-5-2h0m2 0h0m-3-2h0m2 0h0m-2 3h0m-4-5h0m-3 2h0m0-1h0m1 4h0m-3-1h0m-2-4h0m-7 3h0m3 0h0m-1 1h0m-9 1h0m-4-1h0m1-1h0m-1 3h0m1-2h0m0-2h0m-2 3h0m-12-5h0m-3 6h0m-8-1h0m1 0h0m-6-2h0m1 0h0m-9-3h0m1 4h0m0-2h0m-1 0h0m-2 1h0m0 0h0m-2 1h0m-20 0h0m2-2h0m-7 1h0m-2 2h0m-6-4h0m-21 0h0m-3 0h0m1 1h0m0 2h0m-5-2h0m0 4h0m-6-1h0m0 1h0m-6-5h0m-1 3h0m-5-2h0m-2 3h0m2 1h0m-2-2h0m4 0h0m-9 1h0m3 0h0m-2-3h0m0-1h0m2 3h0m-7 1h0m1 1h0m-3-2h0m-1-1h0m4 2h0m0 1h0m-3 0h0m-4-1h0m-4-2h0m3-2h0m-7 1h0m3 2h0m-3-3h0m-4 4h0m1 0h0m-6-2h0m-10-1h0m-3-1h0m0 1h0m1 1h0m-4-2h0m-1 1h0m-2-1h0m-11 1h0m-4-1h0m-6 0h0m0 2h0m3 0h0m42 8h0m6-3h0m2-1h0m2 0h0m-1 3h0m1 2h0m1 0h0m-2-3h0m3-2h0m-2-1h0m3 3h0m2 1h0m1 0h0m-1-3h0m8 2h0m-1-2h0m3-1h0m-3 0h0m4 0h0m-5 3h0m10-1h0m-2 2h0m3-1h0m5-1h0m-3-1h0m0 1h0m5 3h0m3-3h0m4 2h0m-2-4h0m5 3h0m11 1h0m2-4h0m16 5h0m14-4h0m13 3h0m9-3h0m-3 0h0m8 5h0m-1-2h0m11-3h0m5 2h0m-1-2h0m6 2h0m-4-2h0m14 1h0m-3 3h0m6-2h0m-4 1h0m7-1h0m-2 2h0m2-5h0m1 3h0m1 0h0m1 2h0m-5-5h0m0 3h0m9 1h0m2 0h0m-4-4h0m-1 0h0m0 2h0m3 2h0m2 1h0m2 0h0m-2-5h0m5 4h0m0 1h0m2-3h0m4 0h0m0 2h0m-1-1h0m-2-2h0m4 5h0m-1 0h0m-4-1h0m4 1h0m-2-5h0m7 1h0m0-1h0m1-1h0m4 3h0m-1-3h0m1 1h0m4 8h0m-5 0h0m2 0h0m-4-2h0m-7 4h0m-3-4h0m2 0h0m-2 1h0m-3 0h0m0 0h0m-5 2h0m4-2h0m-3-1h0m2 1h0m-2 0h0m-6-1h0m0 1h0m0 4h0m1-5h0m4 0h0m-8 0h0m2 2h0m0 3h0m-6-4h0m1 2h0m2 0h0m-2 1h0m4 0h0m-5-4h0m0 1h0m-2 1h0m0-3h0m-4 3h0m5-1h0m-9 2h0m-5 2h0m-9-3h0m-4 2h0m-2 0h0m-6-2h0m-5-1h0m3-1h0m-7 3h0m-1 2h0m2-1h0m-13 0h0m-9-4h0m5 0h0m-3 4h0m-3-2h0m-4-2h0m4 1h0m0 1h0m-6-1h0m-15 3h0m-4-5h0m-3 0h0m3 6h0m-10-2h0m-10-2h0m-4 2h0m-4 0h0m1-1h0m1-1h0m2 3h0m-9 0h0m0 0h0m3-3h0m0 0h0m-15 2h0m3-2h0m-3 0h0m-6 0h0m2 0h0m-7-1h0m-4 1h0m31 5h0m-2 3h0m0-1h0m5 0h0m-2-1h0m2-2h0m2 6h0m1-4h0m6 3h0m-4-2h0m7 3h0m2-1h0m-1-1h0m2 2h0m0-5h0m0 2h0m-1 3h0m-2-3h0m2-2h0m3 2h0m2 2h0m7-2h0m-1-1h0m8 2h0m1 1h0m-4 0h0m-1-5h0m17 4h0m0 1h0m-1-2h0m5-1h0m13 2h0m-2-2h0m2 0h0m-1 1h0m7 0h0m-4 2h0m10 1h0m0-3h0m0 0h0m2-1h0m2-2h0m5 4h0m3 2h0m0-5h0m0 4h0m-1-2h0m4 0h0m3-1h0m-3 1h0m3 2h0m5-5h0m-4 5h0m3-2h0m7-3h0m-1 4h0m2 0h0m-5-2h0m1 1h0m4 1h0m13 1h0m6-5h0m-3 2h0m-3 0h0m8 0h0m1-2h0m4 6h0m4-5h0m-3 2h0m6 0h0m3 2h0m0-1h0m-3-3h0m-5 5h0m-26 1h0m-1 2h0m0 0h0m-2-3h0m-3 4h0m1 1h0m0-5h0m-2 5h0m-4-5h0m4 1h0m-4 0h0m-2 1h0m-5-1h0m4 2h0m-1-1h0m-8 4h0m3-4h0m-5 0h0m-6 2h0m3 1h0m-6-2h0m2-2h0m-4 3h0m-3 0h0m-6-3h0m-7 4h0m-8-3h0m1 4h0m-2-2h0m3-1h0m-4 2h0m0-1h0m-9 0h0m-10-3h0m0 4h0m1-4h0m-10-1h0m0 0h0m0 1h0m-1 0h0m-2 1h0m0-2h0m-2 3h0m-5-3h0m-8 2h0m-8 0h0m24 9h0m-2 0h0m1 1h0m6-2h0m-3-1h0m0-1h0m6 4h0m1-3h0m-1 0h0m10-3h0m-2 5h0m-1 0h0m7-5h0m0 0h0m9 1h0m5 1h0m-3-1h0m4 5h0m-3-2h0m0 2h0m0-3h0m8-1h0m1 4h0m1-3h0m4 1h0m-3 1h0m-1-3h0m0 3h0m10 0h0m5-4h0m-1 5h0m-3-6h0m0 0h0m3 0h0m8 6h0m4-3h0m3-1h0m0 0h0m0 3h0m8 1h0m0-2h0m1 1h0m5-1h0m-2 5h0m-4 2h0m-1-1h0m-4-1h0m0-2h0m2 2h0m-7 3h0m0-1h0m-12-3h0m-3 3h0m4 0h0m-1-2h0m-6 1h0m-1-2h0m-8 2h0m1 0h0m2-4h0m0 4h0m-3 1h0m2-1h0m-5-2h0m-2 4h0m2-2h0m-4-2h0m-3 0h0m-1 1h0m0 3h0m-7-6h0m-1 4h0m-1-4h0m1 0h0m-6 2h0m-3 4h0m2-1h0m1-4h0m-10 2h0m-1-1h0m3 0h0m-1 1h0m2 2h0m-3-2h0m1 2h0m1-4h0m-8-1h0m1 2h0m2 2h0m1-2h0m-9 2h0m-2-2h0m4 3h0m-2-1h0m-2 0h0m1 0h0m1 0h0" stroke="#9edae5" stroke-width="3.1" stroke-linecap="round" fill="none" opacity="0.86"/>
<path d="M946.7 864C940.5 863.3 928.9 866.2 920 868C911.1 869.8 902.2 871.6 893.3 874.7C884.4 877.8 874.7 882.5 866.7 886.7C858.7 890.9 852 894.7 845.3 900C838.6 905.3 832 912.5 826.7 918.7C821.4 924.9 817.3 930.6 813.3 937.3C809.3 944 804.9 951.6 802.7 958.7C800.5 965.8 799.6 972.9 800 980C800.4 987.1 803.5 994.2 805.3 1001.3C807.1 1008.4 808 1015.1 810.7 1022.7C813.4 1030.3 817.3 1039.2 821.3 1046.7C825.3 1054.2 831.6 1061.3 834.7 1068C837.8 1074.7 839.6 1081.4 840 1086.7C840.4 1092 840 1094.5 837.3 1100C834.6 1105.5 827.5 1113.1 824 1120C820.5 1126.9 818 1133.8 816 1141.3C814 1148.8 812.2 1157.3 812 1165.3C811.8 1173.3 812.7 1181.7 814.7 1189.3C816.7 1196.9 820.2 1204.5 824 1210.7C827.8 1216.9 832.4 1221.8 837.3 1226.7C842.2 1231.6 848.4 1236.5 853.3 1240C858.2 1243.5 862.2 1245.3 866.7 1248C871.2 1250.7 874.7 1252.9 880 1256C885.3 1259.1 892 1263.8 898.7 1266.7C905.4 1269.6 912 1271.8 920 1273.3C928 1274.8 937.8 1275.8 946.7 1276C955.6 1276.2 964.4 1275.8 973.3 1274.7C982.2 1273.6 991.1 1272 1000 1269.3C1008.9 1266.6 1018.7 1263.1 1026.7 1258.7C1034.7 1254.3 1041.3 1248 1048 1242.7C1054.7 1237.4 1061.4 1232 1066.7 1226.7C1072 1221.4 1076 1216.9 1080 1210.7C1084 1204.5 1087.8 1196.9 1090.7 1189.3C1093.6 1181.7 1095.3 1173.7 1097.3 1165.3C1099.3 1156.9 1101.8 1147.6 1102.7 1138.7C1103.6 1129.8 1103.6 1120.9 1102.7 1112C1101.8 1103.1 1099.8 1093.3 1097.3 1085.3C1094.8 1077.3 1091.8 1069.8 1088 1064C1084.2 1058.2 1076 1055.8 1074.7 1050.7C1073.4 1045.6 1078.5 1039.8 1080 1033.3C1081.5 1026.8 1083.8 1019.1 1084 1012C1084.2 1004.9 1083.3 997.8 1081.3 990.7C1079.3 983.6 1075.8 976.4 1072 969.3C1068.2 962.2 1063.6 955.1 1058.7 948C1053.8 940.9 1048 933.8 1042.7 926.7C1037.4 919.6 1032.5 912 1026.7 905.3C1020.9 898.6 1014.2 892 1008 886.7C1001.8 881.4 995.1 876.4 989.3 873.3C983.5 870.2 978.6 868.2 973.3 868C968 867.8 961.7 872.7 957.3 872C952.9 871.3 952.9 864.7 946.7 864Z" fill="#9edae5"/>
<path d="M946.7 864C940.5 863.3 928.9 866.2 920 868C911.1 869.8 902.2 871.6 893.3 874.7C884.4 877.8 874.7 882.5 866.7 886.7C858.7 890.9 852 894.7 845.3 900C838.6 905.3 832 912.5 826.7 918.7C821.4 924.9 817.3 930.6 813.3 937.3C809.3 944 804.9 951.6 802.7 958.7C800.5 965.8 799.6 972.9 800 980C800.4 987.1 803.5 994.2 805.3 1001.3C807.1 1008.4 808 1015.1 810.7 1022.7C813.4 1030.3 817.3 1039.2 821.3 1046.7C825.3 1054.2 831.6 1061.3 834.7 1068C837.8 1074.7 839.6 1081.4 840 1086.7C840.4 1092 840 1094.5 837.3 1100C834.6 1105.5 827.5 1113.1 824 1120C820.5 1126.9 818 1133.8 816 1141.3C814 1148.8 812.2 1157.3 812 1165.3C811.8 1173.3 812.7 1181.7 814.7 1189.3C816.7 1196.9 820.2 1204.5 824 1210.7C827.8 1216.9 832.4 1221.8 837.3 1226.7C842.2 1231.6 848.4 1236.5 853.3 1240C858.2 1243.5 862.2 1245.3 866.7 1248C871.2 1250.7 874.7 1252.9 880 1256C885.3 1259.1 892 1263.8 898.7 1266.7C905.4 1269.6 912 1271.8 920 1273.3C928 1274.8 937.8 1275.8 946.7 1276C955.6 1276.2 964.4 1275.8 973.3 1274.7C982.2 1273.6 991.1 1272 1000 1269.3C1008.9 1266.6 1018.7 1263.1 1026.7 1258.7C1034.7 1254.3 1041.3 1248 1048 1242.7C1054.7 1237.4 1061.4 1232 1066.7 1226.7C1072 1221.4 1076 1216.9 1080 1210.7C1084 1204.5 1087.8 1196.9 1090.7 1189.3C1093.6 1181.7 1095.3 1173.7 1097.3 1165.3C1099.3 1156.9 1101.8 1147.6 1102.7 1138.7C1103.6 1129.8 1103.6 1120.9 1102.7 1112C1101.8 1103.1 1099.8 1093.3 1097.3 1085.3C1094.8 1077.3 1091.8 1069.8 1088 1064C1084.2 1058.2 1076 1055.8 1074.7 1050.7C1073.4 1045.6 1078.5 1039.8 1080 1033.3C1081.5 1026.8 1083.8 1019.1 1084 1012C1084.2 1004.9 1083.3 997.8 1081.3 990.7C1079.3 983.6 1075.8 976.4 1072 969.3C1068.2 962.2 1063.6 955.1 1058.7 948C1053.8 940.9 1048 933.8 1042.7 926.7C1037.4 919.6 1032.5 912 1026.7 905.3C1020.9 898.6 1014.2 892 1008 886.7C1001.8 881.4 995.1 876.4 989.3 873.3C983.5 870.2 978.6 868.2 973.3 868C968 867.8 961.7 872.7 957.3 872C952.9 871.3 952.9 864.7 946.7 864Z" fill="url(#sp1)"/>
<path d="M946.7 864C940.5 863.3 928.9 866.2 920 868C911.1 869.8 902.2 871.6 893.3 874.7C884.4 877.8 874.7 882.5 866.7 886.7C858.7 890.9 852 894.7 845.3 900C838.6 905.3 832 912.5 826.7 918.7C821.4 924.9 817.3 930.6 813.3 937.3C809.3 944 804.9 951.6 802.7 958.7C800.5 965.8 799.6 972.9 800 980C800.4 987.1 803.5 994.2 805.3 1001.3C807.1 1008.4 808 1015.1 810.7 1022.7C813.4 1030.3 817.3 1039.2 821.3 1046.7C825.3 1054.2 831.6 1061.3 834.7 1068C837.8 1074.7 839.6 1081.4 840 1086.7C840.4 1092 840 1094.5 837.3 1100C834.6 1105.5 827.5 1113.1 824 1120C820.5 1126.9 818 1133.8 816 1141.3C814 1148.8 812.2 1157.3 812 1165.3C811.8 1173.3 812.7 1181.7 814.7 1189.3C816.7 1196.9 820.2 1204.5 824 1210.7C827.8 1216.9 832.4 1221.8 837.3 1226.7C842.2 1231.6 848.4 1236.5 853.3 1240C858.2 1243.5 862.2 1245.3 866.7 1248C871.2 1250.7 874.7 1252.9 880 1256C885.3 1259.1 892 1263.8 898.7 1266.7C905.4 1269.6 912 1271.8 920 1273.3C928 1274.8 937.8 1275.8 946.7 1276C955.6 1276.2 964.4 1275.8 973.3 1274.7C982.2 1273.6 991.1 1272 1000 1269.3C1008.9 1266.6 1018.7 1263.1 1026.7 1258.7C1034.7 1254.3 1041.3 1248 1048 1242.7C1054.7 1237.4 1061.4 1232 1066.7 1226.7C1072 1221.4 1076 1216.9 1080 1210.7C1084 1204.5 1087.8 1196.9 1090.7 1189.3C1093.6 1181.7 1095.3 1173.7 1097.3 1165.3C1099.3 1156.9 1101.8 1147.6 1102.7 1138.7C1103.6 1129.8 1103.6 1120.9 1102.7 1112C1101.8 1103.1 1099.8 1093.3 1097.3 1085.3C1094.8 1077.3 1091.8 1069.8 1088 1064C1084.2 1058.2 1076 1055.8 1074.7 1050.7C1073.4 1045.6 1078.5 1039.8 1080 1033.3C1081.5 1026.8 1083.8 1019.1 1084 1012C1084.2 1004.9 1083.3 997.8 1081.3 990.7C1079.3 983.6 1075.8 976.4 1072 969.3C1068.2 962.2 1063.6 955.1 1058.7 948C1053.8 940.9 1048 933.8 1042.7 926.7C1037.4 919.6 1032.5 912 1026.7 905.3C1020.9 898.6 1014.2 892 1008 886.7C1001.8 881.4 995.1 876.4 989.3 873.3C983.5 870.2 978.6 868.2 973.3 868C968 867.8 961.7 872.7 957.3 872C952.9 871.3 952.9 864.7 946.7 864Z" fill="url(#sp1b)"/>
<g clip-path="url(#ccl)"><path d="M946.7 864C940.5 863.3 928.9 866.2 920 868C911.1 869.8 902.2 871.6 893.3 874.7C884.4 877.8 874.7 882.5 866.7 886.7C858.7 890.9 852 894.7 845.3 900C838.6 905.3 832 912.5 826.7 918.7C821.4 924.9 817.3 930.6 813.3 937.3C809.3 944 804.9 951.6 802.7 958.7C800.5 965.8 799.6 972.9 800 980C800.4 987.1 803.5 994.2 805.3 1001.3C807.1 1008.4 808 1015.1 810.7 1022.7C813.4 1030.3 817.3 1039.2 821.3 1046.7C825.3 1054.2 831.6 1061.3 834.7 1068C837.8 1074.7 839.6 1081.4 840 1086.7C840.4 1092 840 1094.5 837.3 1100C834.6 1105.5 827.5 1113.1 824 1120C820.5 1126.9 818 1133.8 816 1141.3C814 1148.8 812.2 1157.3 812 1165.3C811.8 1173.3 812.7 1181.7 814.7 1189.3C816.7 1196.9 820.2 1204.5 824 1210.7C827.8 1216.9 832.4 1221.8 837.3 1226.7C842.2 1231.6 848.4 1236.5 853.3 1240C858.2 1243.5 862.2 1245.3 866.7 1248C871.2 1250.7 874.7 1252.9 880 1256C885.3 1259.1 892 1263.8 898.7 1266.7C905.4 1269.6 912 1271.8 920 1273.3C928 1274.8 937.8 1275.8 946.7 1276C955.6 1276.2 964.4 1275.8 973.3 1274.7C982.2 1273.6 991.1 1272 1000 1269.3C1008.9 1266.6 1018.7 1263.1 1026.7 1258.7C1034.7 1254.3 1041.3 1248 1048 1242.7C1054.7 1237.4 1061.4 1232 1066.7 1226.7C1072 1221.4 1076 1216.9 1080 1210.7C1084 1204.5 1087.8 1196.9 1090.7 1189.3C1093.6 1181.7 1095.3 1173.7 1097.3 1165.3C1099.3 1156.9 1101.8 1147.6 1102.7 1138.7C1103.6 1129.8 1103.6 1120.9 1102.7 1112C1101.8 1103.1 1099.8 1093.3 1097.3 1085.3C1094.8 1077.3 1091.8 1069.8 1088 1064C1084.2 1058.2 1076 1055.8 1074.7 1050.7C1073.4 1045.6 1078.5 1039.8 1080 1033.3C1081.5 1026.8 1083.8 1019.1 1084 1012C1084.2 1004.9 1083.3 997.8 1081.3 990.7C1079.3 983.6 1075.8 976.4 1072 969.3C1068.2 962.2 1063.6 955.1 1058.7 948C1053.8 940.9 1048 933.8 1042.7 926.7C1037.4 919.6 1032.5 912 1026.7 905.3C1020.9 898.6 1014.2 892 1008 886.7C1001.8 881.4 995.1 876.4 989.3 873.3C983.5 870.2 978.6 868.2 973.3 868C968 867.8 961.7 872.7 957.3 872C952.9 871.3 952.9 864.7 946.7 864Z" fill="none" stroke="#fff" stroke-width="10" opacity="0.08"/><path d="M946.7 864C940.5 863.3 928.9 866.2 920 868C911.1 869.8 902.2 871.6 893.3 874.7C884.4 877.8 874.7 882.5 866.7 886.7C858.7 890.9 852 894.7 845.3 900C838.6 905.3 832 912.5 826.7 918.7C821.4 924.9 817.3 930.6 813.3 937.3C809.3 944 804.9 951.6 802.7 958.7C800.5 965.8 799.6 972.9 800 980C800.4 987.1 803.5 994.2 805.3 1001.3C807.1 1008.4 808 1015.1 810.7 1022.7C813.4 1030.3 817.3 1039.2 821.3 1046.7C825.3 1054.2 831.6 1061.3 834.7 1068C837.8 1074.7 839.6 1081.4 840 1086.7C840.4 1092 840 1094.5 837.3 1100C834.6 1105.5 827.5 1113.1 824 1120C820.5 1126.9 818 1133.8 816 1141.3C814 1148.8 812.2 1157.3 812 1165.3C811.8 1173.3 812.7 1181.7 814.7 1189.3C816.7 1196.9 820.2 1204.5 824 1210.7C827.8 1216.9 832.4 1221.8 837.3 1226.7C842.2 1231.6 848.4 1236.5 853.3 1240C858.2 1243.5 862.2 1245.3 866.7 1248C871.2 1250.7 874.7 1252.9 880 1256C885.3 1259.1 892 1263.8 898.7 1266.7C905.4 1269.6 912 1271.8 920 1273.3C928 1274.8 937.8 1275.8 946.7 1276C955.6 1276.2 964.4 1275.8 973.3 1274.7C982.2 1273.6 991.1 1272 1000 1269.3C1008.9 1266.6 1018.7 1263.1 1026.7 1258.7C1034.7 1254.3 1041.3 1248 1048 1242.7C1054.7 1237.4 1061.4 1232 1066.7 1226.7C1072 1221.4 1076 1216.9 1080 1210.7C1084 1204.5 1087.8 1196.9 1090.7 1189.3C1093.6 1181.7 1095.3 1173.7 1097.3 1165.3C1099.3 1156.9 1101.8 1147.6 1102.7 1138.7C1103.6 1129.8 1103.6 1120.9 1102.7 1112C1101.8 1103.1 1099.8 1093.3 1097.3 1085.3C1094.8 1077.3 1091.8 1069.8 1088 1064C1084.2 1058.2 1076 1055.8 1074.7 1050.7C1073.4 1045.6 1078.5 1039.8 1080 1033.3C1081.5 1026.8 1083.8 1019.1 1084 1012C1084.2 1004.9 1083.3 997.8 1081.3 990.7C1079.3 983.6 1075.8 976.4 1072 969.3C1068.2 962.2 1063.6 955.1 1058.7 948C1053.8 940.9 1048 933.8 1042.7 926.7C1037.4 919.6 1032.5 912 1026.7 905.3C1020.9 898.6 1014.2 892 1008 886.7C1001.8 881.4 995.1 876.4 989.3 873.3C983.5 870.2 978.6 868.2 973.3 868C968 867.8 961.7 872.7 957.3 872C952.9 871.3 952.9 864.7 946.7 864Z" fill="none" stroke="url(#sp3)" stroke-width="10" opacity="0.32"/><path d="M946.7 864C940.5 863.3 928.9 866.2 920 868C911.1 869.8 902.2 871.6 893.3 874.7C884.4 877.8 874.7 882.5 866.7 886.7C858.7 890.9 852 894.7 845.3 900C838.6 905.3 832 912.5 826.7 918.7C821.4 924.9 817.3 930.6 813.3 937.3C809.3 944 804.9 951.6 802.7 958.7C800.5 965.8 799.6 972.9 800 980C800.4 987.1 803.5 994.2 805.3 1001.3C807.1 1008.4 808 1015.1 810.7 1022.7C813.4 1030.3 817.3 1039.2 821.3 1046.7C825.3 1054.2 831.6 1061.3 834.7 1068C837.8 1074.7 839.6 1081.4 840 1086.7C840.4 1092 840 1094.5 837.3 1100C834.6 1105.5 827.5 1113.1 824 1120C820.5 1126.9 818 1133.8 816 1141.3C814 1148.8 812.2 1157.3 812 1165.3C811.8 1173.3 812.7 1181.7 814.7 1189.3C816.7 1196.9 820.2 1204.5 824 1210.7C827.8 1216.9 832.4 1221.8 837.3 1226.7C842.2 1231.6 848.4 1236.5 853.3 1240C858.2 1243.5 862.2 1245.3 866.7 1248C871.2 1250.7 874.7 1252.9 880 1256C885.3 1259.1 892 1263.8 898.7 1266.7C905.4 1269.6 912 1271.8 920 1273.3C928 1274.8 937.8 1275.8 946.7 1276C955.6 1276.2 964.4 1275.8 973.3 1274.7C982.2 1273.6 991.1 1272 1000 1269.3C1008.9 1266.6 1018.7 1263.1 1026.7 1258.7C1034.7 1254.3 1041.3 1248 1048 1242.7C1054.7 1237.4 1061.4 1232 1066.7 1226.7C1072 1221.4 1076 1216.9 1080 1210.7C1084 1204.5 1087.8 1196.9 1090.7 1189.3C1093.6 1181.7 1095.3 1173.7 1097.3 1165.3C1099.3 1156.9 1101.8 1147.6 1102.7 1138.7C1103.6 1129.8 1103.6 1120.9 1102.7 1112C1101.8 1103.1 1099.8 1093.3 1097.3 1085.3C1094.8 1077.3 1091.8 1069.8 1088 1064C1084.2 1058.2 1076 1055.8 1074.7 1050.7C1073.4 1045.6 1078.5 1039.8 1080 1033.3C1081.5 1026.8 1083.8 1019.1 1084 1012C1084.2 1004.9 1083.3 997.8 1081.3 990.7C1079.3 983.6 1075.8 976.4 1072 969.3C1068.2 962.2 1063.6 955.1 1058.7 948C1053.8 940.9 1048 933.8 1042.7 926.7C1037.4 919.6 1032.5 912 1026.7 905.3C1020.9 898.6 1014.2 892 1008 886.7C1001.8 881.4 995.1 876.4 989.3 873.3C983.5 870.2 978.6 868.2 973.3 868C968 867.8 961.7 872.7 957.3 872C952.9 871.3 952.9 864.7 946.7 864Z" fill="none" stroke="#9edae5" stroke-width="3"/></g>
<path d="M837.3 1101C842.2 1098.7 855.1 1090.7 866.7 1087C878.3 1083.3 893.4 1081.3 906.7 1079C920 1076.7 933.4 1075.8 946.7 1073C960 1070.2 973.4 1065.2 986.7 1062C1000 1058.8 1015.6 1055.8 1026.7 1054C1037.8 1052.2 1045.8 1051.7 1053.3 1051C1060.8 1050.3 1068.9 1050.2 1072 1050" fill="none" stroke="#fff" stroke-width="2.2" stroke-linecap="round" stroke-linejoin="round" opacity="0.14"/>
<path d="M837.3 1101C842.2 1098.7 855.1 1090.7 866.7 1087C878.3 1083.3 893.4 1081.3 906.7 1079C920 1076.7 933.4 1075.8 946.7 1073C960 1070.2 973.4 1065.2 986.7 1062C1000 1058.8 1015.6 1055.8 1026.7 1054C1037.8 1052.2 1045.8 1051.7 1053.3 1051C1060.8 1050.3 1068.9 1050.2 1072 1050" fill="none" stroke="url(#sp3)" stroke-width="3.7" stroke-linecap="round" stroke-linejoin="round" opacity="0.66"/>
<path d="M840 1090C845 1088.2 858.3 1082.2 870 1079C881.7 1075.8 896.7 1073.3 910 1071C923.3 1068.7 936.7 1067.8 950 1065C963.3 1062.2 976.7 1057.2 990 1054C1003.3 1050.8 1018.3 1047.8 1030 1046C1041.7 1044.2 1053.3 1043.7 1060 1043.5C1066.7 1043.3 1068.3 1044.8 1070 1045" fill="none" stroke="#fff" stroke-width="2" stroke-linecap="round" stroke-linejoin="round" opacity="0.10"/>
<path d="M840 1090C845 1088.2 858.3 1082.2 870 1079C881.7 1075.8 896.7 1073.3 910 1071C923.3 1068.7 936.7 1067.8 950 1065C963.3 1062.2 976.7 1057.2 990 1054C1003.3 1050.8 1018.3 1047.8 1030 1046C1041.7 1044.2 1053.3 1043.7 1060 1043.5C1066.7 1043.3 1068.3 1044.8 1070 1045" fill="none" stroke="url(#sp3)" stroke-width="3.5" stroke-linecap="round" stroke-linejoin="round" opacity="0.48"/>
</g>
<rect x="120.4" y="108.8" width="1357.2" height="1280.0" fill="none" stroke="#000" stroke-width="1.67"/>
<line x1="182" y1="1388.8" x2="182" y2="1396.1" stroke="#000" stroke-width="1.67"/>
<text x="182" y="1419.2" text-anchor="middle" class="t">0</text>
<line x1="474.5" y1="1388.8" x2="474.5" y2="1396.1" stroke="#000" stroke-width="1.67"/>
<text x="474.5" y="1419.2" text-anchor="middle" class="t">5000</text>
<line x1="767" y1="1388.8" x2="767" y2="1396.1" stroke="#000" stroke-width="1.67"/>
<text x="767" y="1419.2" text-anchor="middle" class="t">10000</text>
<line x1="1059.5" y1="1388.8" x2="1059.5" y2="1396.1" stroke="#000" stroke-width="1.67"/>
<text x="1059.5" y="1419.2" text-anchor="middle" class="t">15000</text>
<line x1="1352" y1="1388.8" x2="1352" y2="1396.1" stroke="#000" stroke-width="1.67"/>
<text x="1352" y="1419.2" text-anchor="middle" class="t">20000</text>
<line x1="113.1" y1="203" x2="120.4" y2="203" stroke="#000" stroke-width="1.67"/>
<text x="105.6" y="210.60" text-anchor="end" class="t">10000</text>
<line x1="113.1" y1="349.25" x2="120.4" y2="349.25" stroke="#000" stroke-width="1.67"/>
<text x="105.6" y="356.85" text-anchor="end" class="t">7500</text>
<line x1="113.1" y1="495.5" x2="120.4" y2="495.5" stroke="#000" stroke-width="1.67"/>
<text x="105.6" y="503.10" text-anchor="end" class="t">5000</text>
<line x1="113.1" y1="641.75" x2="120.4" y2="641.75" stroke="#000" stroke-width="1.67"/>
<text x="105.6" y="649.35" text-anchor="end" class="t">2500</text>
<line x1="113.1" y1="788" x2="120.4" y2="788" stroke="#000" stroke-width="1.67"/>
<text x="105.6" y="795.60" text-anchor="end" class="t">0</text>
<line x1="113.1" y1="934.25" x2="120.4" y2="934.25" stroke="#000" stroke-width="1.67"/>
<text x="105.6" y="941.85" text-anchor="end" class="t">−2500</text>
<line x1="113.1" y1="1080.5" x2="120.4" y2="1080.5" stroke="#000" stroke-width="1.67"/>
<text x="105.6" y="1088.10" text-anchor="end" class="t">−5000</text>
<line x1="113.1" y1="1226.75" x2="120.4" y2="1226.75" stroke="#000" stroke-width="1.67"/>
<text x="105.6" y="1234.35" text-anchor="end" class="t">−7500</text>
<line x1="113.1" y1="1373" x2="120.4" y2="1373" stroke="#000" stroke-width="1.67"/>
<text x="105.6" y="1380.60" text-anchor="end" class="t">−10000</text>
<text x="798.8" y="97" text-anchor="middle" class="ti">Cell metadata spatial layout -- 474,986 cells</text>
</svg>
</body></html>
